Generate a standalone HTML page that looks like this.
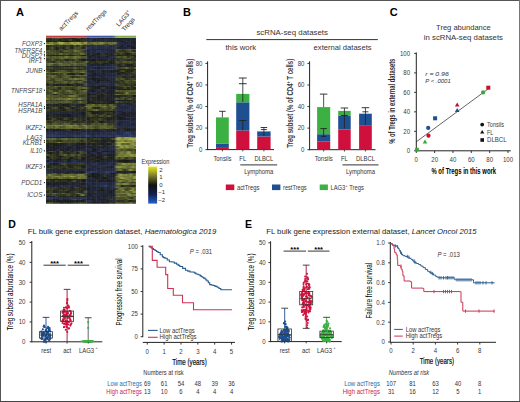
<!DOCTYPE html><html><head><meta charset="utf-8"><style>html,body{margin:0;padding:0;background:#fff;width:520px;height:402px;overflow:hidden;}svg{display:block;}text{font-family:"Liberation Sans",sans-serif;}</style></head><body><svg width="520" height="402" viewBox="0 0 520 402" font-family="Liberation Sans, sans-serif">
<defs><filter id="hb" x="-2%" y="-2%" width="104%" height="104%"><feGaussianBlur stdDeviation="0.9 0.45"/></filter><linearGradient id="cb" x1="0" y1="0" x2="0" y2="1"><stop offset="0" stop-color="#e8e820"/><stop offset="0.25" stop-color="#7a7a30"/><stop offset="0.5" stop-color="#101010"/><stop offset="0.75" stop-color="#142050"/><stop offset="1" stop-color="#2462cc"/></linearGradient><clipPath id="hc"><rect x="46" y="37.7" width="90" height="166"/></clipPath><linearGradient id="hdr" x1="0" y1="0" x2="1" y2="0"><stop offset="0" stop-color="#c84040"/><stop offset="0.42" stop-color="#c03c48"/><stop offset="0.47" stop-color="#4058a0"/><stop offset="0.74" stop-color="#3c5c9c"/><stop offset="0.79" stop-color="#88b04c"/><stop offset="1" stop-color="#80a850"/></linearGradient></defs>
<rect x="0.00" y="0.00" width="520.00" height="402.00" fill="#fff"/>
<text x="16.00" y="15.80" font-size="11" text-anchor="start" font-weight="bold" fill="#000" >A</text>
<g clip-path="url(#hc)"><g shape-rendering="crispEdges" filter="url(#hb)">
<path d="M44.0 36.15h2.05v1.60h-2.05z" fill="#3a3e23"/>
<path d="M46.0 36.15h2.05v1.60h-2.05z" fill="#2a2d1e"/>
<path d="M48.0 36.15h2.05v1.60h-2.05z" fill="#292b1d"/>
<path d="M50.0 36.15h2.05v1.60h-2.05z" fill="#1c1d18"/>
<path d="M52.0 36.15h2.05v1.60h-2.05z" fill="#2b2e1e"/>
<path d="M54.0 36.15h2.05v1.60h-2.05z" fill="#464b27"/>
<path d="M56.0 36.15h2.05v1.60h-2.05z" fill="#383c23"/>
<path d="M58.0 36.15h2.05v1.60h-2.05z" fill="#444927"/>
<path d="M60.0 36.15h2.05v1.60h-2.05z" fill="#343821"/>
<path d="M62.0 36.15h2.05v1.60h-2.05z" fill="#373c22"/>
<path d="M64.0 36.15h2.05v1.60h-2.05z" fill="#333721"/>
<path d="M66.0 36.15h2.05v1.60h-2.05z" fill="#191b1f"/>
<path d="M68.0 36.15h2.05v1.60h-2.05z" fill="#414526"/>
<path d="M70.0 36.15h2.05v1.60h-2.05z" fill="#3a3e23"/>
<path d="M72.0 36.15h2.05v1.60h-2.05z" fill="#393e23"/>
<path d="M74.0 36.15h2.05v1.60h-2.05z" fill="#191b1f"/>
<path d="M76.0 36.15h2.05v1.60h-2.05z" fill="#1a1c20"/>
<path d="M78.0 36.15h2.05v1.60h-2.05z" fill="#1c1e18"/>
<path d="M80.0 36.15h2.05v1.60h-2.05z" fill="#25281c"/>
<path d="M82.0 36.15h2.05v1.60h-2.05z" fill="#363a22"/>
<path d="M84.0 36.15h2.05v1.60h-2.05z" fill="#2e311f"/>
<path d="M86.0 36.15h2.05v1.60h-2.05z" fill="#1d1f29"/>
<path d="M88.0 36.15h2.05v1.60h-2.05z" fill="#23283c"/>
<path d="M90.0 36.15h2.05v1.60h-2.05z" fill="#1e212d"/>
<path d="M92.0 36.15h2.05v1.60h-2.05z" fill="#1e202b"/>
<path d="M94.0 36.15h2.05v1.60h-2.05z" fill="#23283d"/>
<path d="M96.0 36.15h2.05v1.60h-2.05z" fill="#1a1b17"/>
<path d="M98.0 36.15h2.05v1.60h-2.05z" fill="#1c1f28"/>
<path d="M100.0 36.15h2.05v1.60h-2.05z" fill="#181a1c"/>
<path d="M102.0 36.15h2.05v1.60h-2.05z" fill="#23283c"/>
<path d="M104.0 36.15h2.05v1.60h-2.05z" fill="#23293e"/>
<path d="M106.0 36.15h2.05v1.60h-2.05z" fill="#222639"/>
<path d="M108.0 36.15h2.05v1.60h-2.05z" fill="#212535"/>
<path d="M110.0 36.15h2.05v1.60h-2.05z" fill="#1c1e27"/>
<path d="M112.0 36.15h2.05v1.60h-2.05z" fill="#1e222e"/>
<path d="M114.0 36.15h2.05v1.60h-2.05z" fill="#22273a"/>
<path d="M116.0 36.15h2.05v1.60h-2.05z" fill="#212535"/>
<path d="M118.0 36.15h2.05v1.60h-2.05z" fill="#1e212d"/>
<path d="M120.0 36.15h2.05v1.60h-2.05z" fill="#21231a"/>
<path d="M122.0 36.15h2.05v1.60h-2.05z" fill="#202432"/>
<path d="M124.0 36.15h2.05v1.60h-2.05z" fill="#191b1f"/>
<path d="M126.0 36.15h2.05v1.60h-2.05z" fill="#18191b"/>
<path d="M128.0 36.15h2.05v1.60h-2.05z" fill="#23283d"/>
<path d="M130.0 36.15h2.05v1.60h-2.05z" fill="#1a1d22"/>
<path d="M132.0 36.15h2.05v1.60h-2.05z" fill="#22251b"/>
<path d="M134.0 36.15h2.05v1.60h-2.05z" fill="#252b43"/>
<path d="M136.0 36.15h2.05v1.60h-2.05z" fill="#1d2029"/>
<path d="M44.0 37.70h2.05v1.60h-2.05z" fill="#20221a"/>
<path d="M46.0 37.70h2.05v1.60h-2.05z" fill="#3b4024"/>
<path d="M48.0 37.70h2.05v1.60h-2.05z" fill="#303320"/>
<path d="M50.0 37.70h2.05v1.60h-2.05z" fill="#171819"/>
<path d="M52.0 37.70h2.05v1.60h-2.05z" fill="#424726"/>
<path d="M54.0 37.70h2.05v1.60h-2.05z" fill="#3f4325"/>
<path d="M56.0 37.70h2.05v1.60h-2.05z" fill="#444927"/>
<path d="M58.0 37.70h2.05v1.60h-2.05z" fill="#4e542a"/>
<path d="M60.0 37.70h2.05v1.60h-2.05z" fill="#393d23"/>
<path d="M62.0 37.70h2.05v1.60h-2.05z" fill="#343821"/>
<path d="M64.0 37.70h2.05v1.60h-2.05z" fill="#161716"/>
<path d="M66.0 37.70h2.05v1.60h-2.05z" fill="#3e4225"/>
<path d="M68.0 37.70h2.05v1.60h-2.05z" fill="#24271b"/>
<path d="M70.0 37.70h2.05v1.60h-2.05z" fill="#282a1d"/>
<path d="M72.0 37.70h2.05v1.60h-2.05z" fill="#171816"/>
<path d="M74.0 37.70h2.05v1.60h-2.05z" fill="#1d1f19"/>
<path d="M76.0 37.70h2.05v1.60h-2.05z" fill="#26291c"/>
<path d="M78.0 37.70h2.05v1.60h-2.05z" fill="#4b5129"/>
<path d="M80.0 37.70h2.05v1.60h-2.05z" fill="#1b1d24"/>
<path d="M82.0 37.70h2.05v1.60h-2.05z" fill="#171819"/>
<path d="M84.0 37.70h2.05v1.60h-2.05z" fill="#363a22"/>
<path d="M86.0 37.70h2.05v1.60h-2.05z" fill="#161716"/>
<path d="M88.0 37.70h2.05v1.60h-2.05z" fill="#1c1e26"/>
<path d="M90.0 37.70h2.05v1.60h-2.05z" fill="#262f4b"/>
<path d="M92.0 37.70h2.05v1.60h-2.05z" fill="#283252"/>
<path d="M94.0 37.70h2.05v1.60h-2.05z" fill="#1d202a"/>
<path d="M96.0 37.70h2.05v1.60h-2.05z" fill="#23283c"/>
<path d="M98.0 37.70h2.05v1.60h-2.05z" fill="#242a41"/>
<path d="M100.0 37.70h2.05v1.60h-2.05z" fill="#191b1f"/>
<path d="M102.0 37.70h2.05v1.60h-2.05z" fill="#181a1c"/>
<path d="M104.0 37.70h2.05v1.60h-2.05z" fill="#1e222e"/>
<path d="M106.0 37.70h2.05v1.60h-2.05z" fill="#1e212c"/>
<path d="M108.0 37.70h2.05v1.60h-2.05z" fill="#1d1f29"/>
<path d="M110.0 37.70h2.05v1.60h-2.05z" fill="#191b17"/>
<path d="M112.0 37.70h2.05v1.60h-2.05z" fill="#1b1e25"/>
<path d="M114.0 37.70h2.05v1.60h-2.05z" fill="#1c1f27"/>
<path d="M116.0 37.70h2.05v1.60h-2.05z" fill="#161817"/>
<path d="M118.0 37.70h2.05v1.60h-2.05z" fill="#23283c"/>
<path d="M120.0 37.70h2.05v1.60h-2.05z" fill="#24261b"/>
<path d="M122.0 37.70h2.05v1.60h-2.05z" fill="#1d1f19"/>
<path d="M124.0 37.70h2.05v1.60h-2.05z" fill="#171818"/>
<path d="M126.0 37.70h2.05v1.60h-2.05z" fill="#242a41"/>
<path d="M128.0 37.70h2.05v1.60h-2.05z" fill="#1e212d"/>
<path d="M130.0 37.70h2.05v1.60h-2.05z" fill="#1b1c18"/>
<path d="M132.0 37.70h2.05v1.60h-2.05z" fill="#24293f"/>
<path d="M134.0 37.70h2.05v1.60h-2.05z" fill="#1b1e25"/>
<path d="M136.0 37.70h2.05v1.60h-2.05z" fill="#1f2019"/>
<path d="M44.0 39.25h2.05v1.60h-2.05z" fill="#424626"/>
<path d="M46.0 39.25h2.05v1.60h-2.05z" fill="#2c2f1e"/>
<path d="M48.0 39.25h2.05v1.60h-2.05z" fill="#1d1f19"/>
<path d="M50.0 39.25h2.05v1.60h-2.05z" fill="#272a1c"/>
<path d="M52.0 39.25h2.05v1.60h-2.05z" fill="#2e311f"/>
<path d="M54.0 39.25h2.05v1.60h-2.05z" fill="#23251b"/>
<path d="M56.0 39.25h2.05v1.60h-2.05z" fill="#383d23"/>
<path d="M58.0 39.25h2.05v1.60h-2.05z" fill="#171819"/>
<path d="M60.0 39.25h2.05v1.60h-2.05z" fill="#181917"/>
<path d="M62.0 39.25h2.05v1.60h-2.05z" fill="#363a22"/>
<path d="M64.0 39.25h2.05v1.60h-2.05z" fill="#21231a"/>
<path d="M66.0 39.25h2.05v1.60h-2.05z" fill="#191a1d"/>
<path d="M68.0 39.25h2.05v1.60h-2.05z" fill="#343821"/>
<path d="M70.0 39.25h2.05v1.60h-2.05z" fill="#3f4325"/>
<path d="M72.0 39.25h2.05v1.60h-2.05z" fill="#171816"/>
<path d="M74.0 39.25h2.05v1.60h-2.05z" fill="#1c1e27"/>
<path d="M76.0 39.25h2.05v1.60h-2.05z" fill="#1d1f19"/>
<path d="M78.0 39.25h2.05v1.60h-2.05z" fill="#1d1f19"/>
<path d="M80.0 39.25h2.05v1.60h-2.05z" fill="#1a1b18"/>
<path d="M82.0 39.25h2.05v1.60h-2.05z" fill="#3e4225"/>
<path d="M84.0 39.25h2.05v1.60h-2.05z" fill="#1a1b20"/>
<path d="M86.0 39.25h2.05v1.60h-2.05z" fill="#1c1f28"/>
<path d="M88.0 39.25h2.05v1.60h-2.05z" fill="#27304d"/>
<path d="M90.0 39.25h2.05v1.60h-2.05z" fill="#252d47"/>
<path d="M92.0 39.25h2.05v1.60h-2.05z" fill="#212434"/>
<path d="M94.0 39.25h2.05v1.60h-2.05z" fill="#1d202b"/>
<path d="M96.0 39.25h2.05v1.60h-2.05z" fill="#1f2230"/>
<path d="M98.0 39.25h2.05v1.60h-2.05z" fill="#222639"/>
<path d="M100.0 39.25h2.05v1.60h-2.05z" fill="#23283b"/>
<path d="M102.0 39.25h2.05v1.60h-2.05z" fill="#23283b"/>
<path d="M104.0 39.25h2.05v1.60h-2.05z" fill="#212535"/>
<path d="M106.0 39.25h2.05v1.60h-2.05z" fill="#24293f"/>
<path d="M108.0 39.25h2.05v1.60h-2.05z" fill="#22273a"/>
<path d="M110.0 39.25h2.05v1.60h-2.05z" fill="#212535"/>
<path d="M112.0 39.25h2.05v1.60h-2.05z" fill="#23283d"/>
<path d="M114.0 39.25h2.05v1.60h-2.05z" fill="#202332"/>
<path d="M116.0 39.25h2.05v1.60h-2.05z" fill="#1c1e26"/>
<path d="M118.0 39.25h2.05v1.60h-2.05z" fill="#22251b"/>
<path d="M120.0 39.25h2.05v1.60h-2.05z" fill="#1d202a"/>
<path d="M122.0 39.25h2.05v1.60h-2.05z" fill="#222638"/>
<path d="M124.0 39.25h2.05v1.60h-2.05z" fill="#222638"/>
<path d="M126.0 39.25h2.05v1.60h-2.05z" fill="#1f2331"/>
<path d="M128.0 39.25h2.05v1.60h-2.05z" fill="#191b1f"/>
<path d="M130.0 39.25h2.05v1.60h-2.05z" fill="#222537"/>
<path d="M132.0 39.25h2.05v1.60h-2.05z" fill="#1d2029"/>
<path d="M134.0 39.25h2.05v1.60h-2.05z" fill="#1f2119"/>
<path d="M136.0 39.25h2.05v1.60h-2.05z" fill="#283253"/>
<path d="M44.0 40.80h2.05v1.60h-2.05z" fill="#1d1e18"/>
<path d="M46.0 40.80h2.05v1.60h-2.05z" fill="#20221a"/>
<path d="M48.0 40.80h2.05v1.60h-2.05z" fill="#1c1e18"/>
<path d="M50.0 40.80h2.05v1.60h-2.05z" fill="#181a1d"/>
<path d="M52.0 40.80h2.05v1.60h-2.05z" fill="#25281c"/>
<path d="M54.0 40.80h2.05v1.60h-2.05z" fill="#1d1f19"/>
<path d="M56.0 40.80h2.05v1.60h-2.05z" fill="#191b1e"/>
<path d="M58.0 40.80h2.05v1.60h-2.05z" fill="#494f28"/>
<path d="M60.0 40.80h2.05v1.60h-2.05z" fill="#1f2119"/>
<path d="M62.0 40.80h2.05v1.60h-2.05z" fill="#191b1f"/>
<path d="M64.0 40.80h2.05v1.60h-2.05z" fill="#161717"/>
<path d="M66.0 40.80h2.05v1.60h-2.05z" fill="#171819"/>
<path d="M68.0 40.80h2.05v1.60h-2.05z" fill="#161716"/>
<path d="M70.0 40.80h2.05v1.60h-2.05z" fill="#242b42"/>
<path d="M72.0 40.80h2.05v1.60h-2.05z" fill="#191a1e"/>
<path d="M74.0 40.80h2.05v1.60h-2.05z" fill="#2d301f"/>
<path d="M76.0 40.80h2.05v1.60h-2.05z" fill="#1d202b"/>
<path d="M78.0 40.80h2.05v1.60h-2.05z" fill="#161716"/>
<path d="M80.0 40.80h2.05v1.60h-2.05z" fill="#2c2f1e"/>
<path d="M82.0 40.80h2.05v1.60h-2.05z" fill="#2a2c1d"/>
<path d="M84.0 40.80h2.05v1.60h-2.05z" fill="#373b22"/>
<path d="M86.0 40.80h2.05v1.60h-2.05z" fill="#283150"/>
<path d="M88.0 40.80h2.05v1.60h-2.05z" fill="#242a40"/>
<path d="M90.0 40.80h2.05v1.60h-2.05z" fill="#242a40"/>
<path d="M92.0 40.80h2.05v1.60h-2.05z" fill="#202332"/>
<path d="M94.0 40.80h2.05v1.60h-2.05z" fill="#1d1f29"/>
<path d="M96.0 40.80h2.05v1.60h-2.05z" fill="#2a385f"/>
<path d="M98.0 40.80h2.05v1.60h-2.05z" fill="#1d1f29"/>
<path d="M100.0 40.80h2.05v1.60h-2.05z" fill="#27304d"/>
<path d="M102.0 40.80h2.05v1.60h-2.05z" fill="#1f2331"/>
<path d="M104.0 40.80h2.05v1.60h-2.05z" fill="#27304e"/>
<path d="M106.0 40.80h2.05v1.60h-2.05z" fill="#222739"/>
<path d="M108.0 40.80h2.05v1.60h-2.05z" fill="#1c1f27"/>
<path d="M110.0 40.80h2.05v1.60h-2.05z" fill="#23293d"/>
<path d="M112.0 40.80h2.05v1.60h-2.05z" fill="#222739"/>
<path d="M114.0 40.80h2.05v1.60h-2.05z" fill="#1f222f"/>
<path d="M116.0 40.80h2.05v1.60h-2.05z" fill="#1e212c"/>
<path d="M118.0 40.80h2.05v1.60h-2.05z" fill="#1f2230"/>
<path d="M120.0 40.80h2.05v1.60h-2.05z" fill="#1b1d18"/>
<path d="M122.0 40.80h2.05v1.60h-2.05z" fill="#18191b"/>
<path d="M124.0 40.80h2.05v1.60h-2.05z" fill="#202434"/>
<path d="M126.0 40.80h2.05v1.60h-2.05z" fill="#353921"/>
<path d="M128.0 40.80h2.05v1.60h-2.05z" fill="#242a40"/>
<path d="M130.0 40.80h2.05v1.60h-2.05z" fill="#191a1d"/>
<path d="M132.0 40.80h2.05v1.60h-2.05z" fill="#202433"/>
<path d="M134.0 40.80h2.05v1.60h-2.05z" fill="#1e212c"/>
<path d="M136.0 40.80h2.05v1.60h-2.05z" fill="#1a1c21"/>
<path d="M44.0 42.35h2.05v1.60h-2.05z" fill="#959b41"/>
<path d="M46.0 42.35h2.05v1.60h-2.05z" fill="#59602e"/>
<path d="M48.0 42.35h2.05v1.60h-2.05z" fill="#5a602e"/>
<path d="M50.0 42.35h2.05v1.60h-2.05z" fill="#949a41"/>
<path d="M52.0 42.35h2.05v1.60h-2.05z" fill="#676d32"/>
<path d="M54.0 42.35h2.05v1.60h-2.05z" fill="#656c32"/>
<path d="M56.0 42.35h2.05v1.60h-2.05z" fill="#5b612e"/>
<path d="M58.0 42.35h2.05v1.60h-2.05z" fill="#aaaf48"/>
<path d="M60.0 42.35h2.05v1.60h-2.05z" fill="#999e42"/>
<path d="M62.0 42.35h2.05v1.60h-2.05z" fill="#aaaf48"/>
<path d="M64.0 42.35h2.05v1.60h-2.05z" fill="#676e32"/>
<path d="M66.0 42.35h2.05v1.60h-2.05z" fill="#80873b"/>
<path d="M68.0 42.35h2.05v1.60h-2.05z" fill="#636931"/>
<path d="M70.0 42.35h2.05v1.60h-2.05z" fill="#999f43"/>
<path d="M72.0 42.35h2.05v1.60h-2.05z" fill="#aaaf48"/>
<path d="M74.0 42.35h2.05v1.60h-2.05z" fill="#696f33"/>
<path d="M76.0 42.35h2.05v1.60h-2.05z" fill="#aaaf48"/>
<path d="M78.0 42.35h2.05v1.60h-2.05z" fill="#a0a645"/>
<path d="M80.0 42.35h2.05v1.60h-2.05z" fill="#7a8139"/>
<path d="M82.0 42.35h2.05v1.60h-2.05z" fill="#50552b"/>
<path d="M84.0 42.35h2.05v1.60h-2.05z" fill="#aaaf48"/>
<path d="M86.0 42.35h2.05v1.60h-2.05z" fill="#5b612e"/>
<path d="M88.0 42.35h2.05v1.60h-2.05z" fill="#50562b"/>
<path d="M90.0 42.35h2.05v1.60h-2.05z" fill="#676d32"/>
<path d="M92.0 42.35h2.05v1.60h-2.05z" fill="#676e32"/>
<path d="M94.0 42.35h2.05v1.60h-2.05z" fill="#848b3c"/>
<path d="M96.0 42.35h2.05v1.60h-2.05z" fill="#484d28"/>
<path d="M98.0 42.35h2.05v1.60h-2.05z" fill="#787f38"/>
<path d="M100.0 42.35h2.05v1.60h-2.05z" fill="#848a3c"/>
<path d="M102.0 42.35h2.05v1.60h-2.05z" fill="#83893b"/>
<path d="M104.0 42.35h2.05v1.60h-2.05z" fill="#595f2e"/>
<path d="M106.0 42.35h2.05v1.60h-2.05z" fill="#4d532a"/>
<path d="M108.0 42.35h2.05v1.60h-2.05z" fill="#757c37"/>
<path d="M110.0 42.35h2.05v1.60h-2.05z" fill="#606630"/>
<path d="M112.0 42.35h2.05v1.60h-2.05z" fill="#606730"/>
<path d="M114.0 42.35h2.05v1.60h-2.05z" fill="#82883b"/>
<path d="M116.0 42.35h2.05v1.60h-2.05z" fill="#222537"/>
<path d="M118.0 42.35h2.05v1.60h-2.05z" fill="#283150"/>
<path d="M120.0 42.35h2.05v1.60h-2.05z" fill="#222639"/>
<path d="M122.0 42.35h2.05v1.60h-2.05z" fill="#262f4b"/>
<path d="M124.0 42.35h2.05v1.60h-2.05z" fill="#1a1d23"/>
<path d="M126.0 42.35h2.05v1.60h-2.05z" fill="#1e212c"/>
<path d="M128.0 42.35h2.05v1.60h-2.05z" fill="#23283b"/>
<path d="M130.0 42.35h2.05v1.60h-2.05z" fill="#202332"/>
<path d="M132.0 42.35h2.05v1.60h-2.05z" fill="#1a1c22"/>
<path d="M134.0 42.35h2.05v1.60h-2.05z" fill="#1f2330"/>
<path d="M136.0 42.35h2.05v1.60h-2.05z" fill="#171819"/>
<path d="M44.0 43.90h2.05v1.60h-2.05z" fill="#9ca244"/>
<path d="M46.0 43.90h2.05v1.60h-2.05z" fill="#aaaf48"/>
<path d="M48.0 43.90h2.05v1.60h-2.05z" fill="#aaaf48"/>
<path d="M50.0 43.90h2.05v1.60h-2.05z" fill="#697033"/>
<path d="M52.0 43.90h2.05v1.60h-2.05z" fill="#979c42"/>
<path d="M54.0 43.90h2.05v1.60h-2.05z" fill="#4e532a"/>
<path d="M56.0 43.90h2.05v1.60h-2.05z" fill="#5f6630"/>
<path d="M58.0 43.90h2.05v1.60h-2.05z" fill="#4c5229"/>
<path d="M60.0 43.90h2.05v1.60h-2.05z" fill="#9da244"/>
<path d="M62.0 43.90h2.05v1.60h-2.05z" fill="#5c622f"/>
<path d="M64.0 43.90h2.05v1.60h-2.05z" fill="#798038"/>
<path d="M66.0 43.90h2.05v1.60h-2.05z" fill="#757c37"/>
<path d="M68.0 43.90h2.05v1.60h-2.05z" fill="#798038"/>
<path d="M70.0 43.90h2.05v1.60h-2.05z" fill="#6b7234"/>
<path d="M72.0 43.90h2.05v1.60h-2.05z" fill="#81883b"/>
<path d="M74.0 43.90h2.05v1.60h-2.05z" fill="#aaaf48"/>
<path d="M76.0 43.90h2.05v1.60h-2.05z" fill="#7b8239"/>
<path d="M78.0 43.90h2.05v1.60h-2.05z" fill="#8b913e"/>
<path d="M80.0 43.90h2.05v1.60h-2.05z" fill="#9ba043"/>
<path d="M82.0 43.90h2.05v1.60h-2.05z" fill="#747b37"/>
<path d="M84.0 43.90h2.05v1.60h-2.05z" fill="#5b612e"/>
<path d="M86.0 43.90h2.05v1.60h-2.05z" fill="#4d532a"/>
<path d="M88.0 43.90h2.05v1.60h-2.05z" fill="#727936"/>
<path d="M90.0 43.90h2.05v1.60h-2.05z" fill="#373b22"/>
<path d="M92.0 43.90h2.05v1.60h-2.05z" fill="#4c5229"/>
<path d="M94.0 43.90h2.05v1.60h-2.05z" fill="#717836"/>
<path d="M96.0 43.90h2.05v1.60h-2.05z" fill="#6c7234"/>
<path d="M98.0 43.90h2.05v1.60h-2.05z" fill="#595f2e"/>
<path d="M100.0 43.90h2.05v1.60h-2.05z" fill="#6c7334"/>
<path d="M102.0 43.90h2.05v1.60h-2.05z" fill="#5d632f"/>
<path d="M104.0 43.90h2.05v1.60h-2.05z" fill="#414526"/>
<path d="M106.0 43.90h2.05v1.60h-2.05z" fill="#393d23"/>
<path d="M108.0 43.90h2.05v1.60h-2.05z" fill="#4b5129"/>
<path d="M110.0 43.90h2.05v1.60h-2.05z" fill="#6f7535"/>
<path d="M112.0 43.90h2.05v1.60h-2.05z" fill="#4d522a"/>
<path d="M114.0 43.90h2.05v1.60h-2.05z" fill="#464b27"/>
<path d="M116.0 43.90h2.05v1.60h-2.05z" fill="#242a40"/>
<path d="M118.0 43.90h2.05v1.60h-2.05z" fill="#262e49"/>
<path d="M120.0 43.90h2.05v1.60h-2.05z" fill="#222638"/>
<path d="M122.0 43.90h2.05v1.60h-2.05z" fill="#252c45"/>
<path d="M124.0 43.90h2.05v1.60h-2.05z" fill="#1f222f"/>
<path d="M126.0 43.90h2.05v1.60h-2.05z" fill="#283354"/>
<path d="M128.0 43.90h2.05v1.60h-2.05z" fill="#1f222f"/>
<path d="M130.0 43.90h2.05v1.60h-2.05z" fill="#23293e"/>
<path d="M132.0 43.90h2.05v1.60h-2.05z" fill="#27304e"/>
<path d="M134.0 43.90h2.05v1.60h-2.05z" fill="#1c1f28"/>
<path d="M136.0 43.90h2.05v1.60h-2.05z" fill="#22273a"/>
<path d="M44.0 45.45h2.05v1.60h-2.05z" fill="#171819"/>
<path d="M46.0 45.45h2.05v1.60h-2.05z" fill="#2b2e1e"/>
<path d="M48.0 45.45h2.05v1.60h-2.05z" fill="#1b1c18"/>
<path d="M50.0 45.45h2.05v1.60h-2.05z" fill="#353922"/>
<path d="M52.0 45.45h2.05v1.60h-2.05z" fill="#343821"/>
<path d="M54.0 45.45h2.05v1.60h-2.05z" fill="#333621"/>
<path d="M56.0 45.45h2.05v1.60h-2.05z" fill="#2c2f1e"/>
<path d="M58.0 45.45h2.05v1.60h-2.05z" fill="#404525"/>
<path d="M60.0 45.45h2.05v1.60h-2.05z" fill="#333621"/>
<path d="M62.0 45.45h2.05v1.60h-2.05z" fill="#2e311f"/>
<path d="M64.0 45.45h2.05v1.60h-2.05z" fill="#1f2230"/>
<path d="M66.0 45.45h2.05v1.60h-2.05z" fill="#383c23"/>
<path d="M68.0 45.45h2.05v1.60h-2.05z" fill="#404425"/>
<path d="M70.0 45.45h2.05v1.60h-2.05z" fill="#1e2019"/>
<path d="M72.0 45.45h2.05v1.60h-2.05z" fill="#1b1c18"/>
<path d="M74.0 45.45h2.05v1.60h-2.05z" fill="#4c5229"/>
<path d="M76.0 45.45h2.05v1.60h-2.05z" fill="#1d202a"/>
<path d="M78.0 45.45h2.05v1.60h-2.05z" fill="#2f321f"/>
<path d="M80.0 45.45h2.05v1.60h-2.05z" fill="#565c2d"/>
<path d="M82.0 45.45h2.05v1.60h-2.05z" fill="#18191a"/>
<path d="M84.0 45.45h2.05v1.60h-2.05z" fill="#333721"/>
<path d="M86.0 45.45h2.05v1.60h-2.05z" fill="#1e212d"/>
<path d="M88.0 45.45h2.05v1.60h-2.05z" fill="#262e49"/>
<path d="M90.0 45.45h2.05v1.60h-2.05z" fill="#242a41"/>
<path d="M92.0 45.45h2.05v1.60h-2.05z" fill="#23283d"/>
<path d="M94.0 45.45h2.05v1.60h-2.05z" fill="#283353"/>
<path d="M96.0 45.45h2.05v1.60h-2.05z" fill="#262e49"/>
<path d="M98.0 45.45h2.05v1.60h-2.05z" fill="#252c44"/>
<path d="M100.0 45.45h2.05v1.60h-2.05z" fill="#23293e"/>
<path d="M102.0 45.45h2.05v1.60h-2.05z" fill="#262e48"/>
<path d="M104.0 45.45h2.05v1.60h-2.05z" fill="#262e4a"/>
<path d="M106.0 45.45h2.05v1.60h-2.05z" fill="#293455"/>
<path d="M108.0 45.45h2.05v1.60h-2.05z" fill="#272f4c"/>
<path d="M110.0 45.45h2.05v1.60h-2.05z" fill="#23283d"/>
<path d="M112.0 45.45h2.05v1.60h-2.05z" fill="#252d47"/>
<path d="M114.0 45.45h2.05v1.60h-2.05z" fill="#283253"/>
<path d="M116.0 45.45h2.05v1.60h-2.05z" fill="#23293e"/>
<path d="M118.0 45.45h2.05v1.60h-2.05z" fill="#2f321f"/>
<path d="M120.0 45.45h2.05v1.60h-2.05z" fill="#181a1c"/>
<path d="M122.0 45.45h2.05v1.60h-2.05z" fill="#1c1e26"/>
<path d="M124.0 45.45h2.05v1.60h-2.05z" fill="#283354"/>
<path d="M126.0 45.45h2.05v1.60h-2.05z" fill="#1c1e26"/>
<path d="M128.0 45.45h2.05v1.60h-2.05z" fill="#1d1f29"/>
<path d="M130.0 45.45h2.05v1.60h-2.05z" fill="#1a1c18"/>
<path d="M132.0 45.45h2.05v1.60h-2.05z" fill="#1d202a"/>
<path d="M134.0 45.45h2.05v1.60h-2.05z" fill="#202433"/>
<path d="M136.0 45.45h2.05v1.60h-2.05z" fill="#1c1f28"/>
<path d="M44.0 47.00h2.05v1.60h-2.05z" fill="#3e4325"/>
<path d="M46.0 47.00h2.05v1.60h-2.05z" fill="#303320"/>
<path d="M48.0 47.00h2.05v1.60h-2.05z" fill="#1a1b17"/>
<path d="M50.0 47.00h2.05v1.60h-2.05z" fill="#444927"/>
<path d="M52.0 47.00h2.05v1.60h-2.05z" fill="#4d532a"/>
<path d="M54.0 47.00h2.05v1.60h-2.05z" fill="#191b20"/>
<path d="M56.0 47.00h2.05v1.60h-2.05z" fill="#1b1c18"/>
<path d="M58.0 47.00h2.05v1.60h-2.05z" fill="#2f321f"/>
<path d="M60.0 47.00h2.05v1.60h-2.05z" fill="#2d301e"/>
<path d="M62.0 47.00h2.05v1.60h-2.05z" fill="#20221a"/>
<path d="M64.0 47.00h2.05v1.60h-2.05z" fill="#171818"/>
<path d="M66.0 47.00h2.05v1.60h-2.05z" fill="#54592c"/>
<path d="M68.0 47.00h2.05v1.60h-2.05z" fill="#3e4325"/>
<path d="M70.0 47.00h2.05v1.60h-2.05z" fill="#181a1c"/>
<path d="M72.0 47.00h2.05v1.60h-2.05z" fill="#191b1f"/>
<path d="M74.0 47.00h2.05v1.60h-2.05z" fill="#4b5129"/>
<path d="M76.0 47.00h2.05v1.60h-2.05z" fill="#3d4224"/>
<path d="M78.0 47.00h2.05v1.60h-2.05z" fill="#4e532a"/>
<path d="M80.0 47.00h2.05v1.60h-2.05z" fill="#3a3e23"/>
<path d="M82.0 47.00h2.05v1.60h-2.05z" fill="#161716"/>
<path d="M84.0 47.00h2.05v1.60h-2.05z" fill="#2e311f"/>
<path d="M86.0 47.00h2.05v1.60h-2.05z" fill="#2b3b64"/>
<path d="M88.0 47.00h2.05v1.60h-2.05z" fill="#27314f"/>
<path d="M90.0 47.00h2.05v1.60h-2.05z" fill="#252d46"/>
<path d="M92.0 47.00h2.05v1.60h-2.05z" fill="#24293f"/>
<path d="M94.0 47.00h2.05v1.60h-2.05z" fill="#27304f"/>
<path d="M96.0 47.00h2.05v1.60h-2.05z" fill="#262d47"/>
<path d="M98.0 47.00h2.05v1.60h-2.05z" fill="#242a40"/>
<path d="M100.0 47.00h2.05v1.60h-2.05z" fill="#242a41"/>
<path d="M102.0 47.00h2.05v1.60h-2.05z" fill="#23293e"/>
<path d="M104.0 47.00h2.05v1.60h-2.05z" fill="#252b43"/>
<path d="M106.0 47.00h2.05v1.60h-2.05z" fill="#262e4a"/>
<path d="M108.0 47.00h2.05v1.60h-2.05z" fill="#23283c"/>
<path d="M110.0 47.00h2.05v1.60h-2.05z" fill="#252c45"/>
<path d="M112.0 47.00h2.05v1.60h-2.05z" fill="#273150"/>
<path d="M114.0 47.00h2.05v1.60h-2.05z" fill="#27304d"/>
<path d="M116.0 47.00h2.05v1.60h-2.05z" fill="#1f222e"/>
<path d="M118.0 47.00h2.05v1.60h-2.05z" fill="#1f2330"/>
<path d="M120.0 47.00h2.05v1.60h-2.05z" fill="#1e202b"/>
<path d="M122.0 47.00h2.05v1.60h-2.05z" fill="#1f222e"/>
<path d="M124.0 47.00h2.05v1.60h-2.05z" fill="#1d202b"/>
<path d="M126.0 47.00h2.05v1.60h-2.05z" fill="#1f2331"/>
<path d="M128.0 47.00h2.05v1.60h-2.05z" fill="#242a41"/>
<path d="M130.0 47.00h2.05v1.60h-2.05z" fill="#1c1e26"/>
<path d="M132.0 47.00h2.05v1.60h-2.05z" fill="#18191b"/>
<path d="M134.0 47.00h2.05v1.60h-2.05z" fill="#1c1e26"/>
<path d="M136.0 47.00h2.05v1.60h-2.05z" fill="#202332"/>
<path d="M44.0 48.55h2.05v1.60h-2.05z" fill="#25271c"/>
<path d="M46.0 48.55h2.05v1.60h-2.05z" fill="#18191a"/>
<path d="M48.0 48.55h2.05v1.60h-2.05z" fill="#3a3e23"/>
<path d="M50.0 48.55h2.05v1.60h-2.05z" fill="#25281c"/>
<path d="M52.0 48.55h2.05v1.60h-2.05z" fill="#484d28"/>
<path d="M54.0 48.55h2.05v1.60h-2.05z" fill="#22241b"/>
<path d="M56.0 48.55h2.05v1.60h-2.05z" fill="#1c1f28"/>
<path d="M58.0 48.55h2.05v1.60h-2.05z" fill="#23251b"/>
<path d="M60.0 48.55h2.05v1.60h-2.05z" fill="#595f2e"/>
<path d="M62.0 48.55h2.05v1.60h-2.05z" fill="#313520"/>
<path d="M64.0 48.55h2.05v1.60h-2.05z" fill="#1c1e18"/>
<path d="M66.0 48.55h2.05v1.60h-2.05z" fill="#292c1d"/>
<path d="M68.0 48.55h2.05v1.60h-2.05z" fill="#434826"/>
<path d="M70.0 48.55h2.05v1.60h-2.05z" fill="#434826"/>
<path d="M72.0 48.55h2.05v1.60h-2.05z" fill="#3c4124"/>
<path d="M74.0 48.55h2.05v1.60h-2.05z" fill="#575d2d"/>
<path d="M76.0 48.55h2.05v1.60h-2.05z" fill="#474c28"/>
<path d="M78.0 48.55h2.05v1.60h-2.05z" fill="#383d23"/>
<path d="M80.0 48.55h2.05v1.60h-2.05z" fill="#454a27"/>
<path d="M82.0 48.55h2.05v1.60h-2.05z" fill="#5b612e"/>
<path d="M84.0 48.55h2.05v1.60h-2.05z" fill="#4c5229"/>
<path d="M86.0 48.55h2.05v1.60h-2.05z" fill="#1c1e26"/>
<path d="M88.0 48.55h2.05v1.60h-2.05z" fill="#252c46"/>
<path d="M90.0 48.55h2.05v1.60h-2.05z" fill="#23273b"/>
<path d="M92.0 48.55h2.05v1.60h-2.05z" fill="#1e212c"/>
<path d="M94.0 48.55h2.05v1.60h-2.05z" fill="#23283c"/>
<path d="M96.0 48.55h2.05v1.60h-2.05z" fill="#1b1e25"/>
<path d="M98.0 48.55h2.05v1.60h-2.05z" fill="#1e222e"/>
<path d="M100.0 48.55h2.05v1.60h-2.05z" fill="#1c1f28"/>
<path d="M102.0 48.55h2.05v1.60h-2.05z" fill="#23283b"/>
<path d="M104.0 48.55h2.05v1.60h-2.05z" fill="#24261b"/>
<path d="M106.0 48.55h2.05v1.60h-2.05z" fill="#1a1c22"/>
<path d="M108.0 48.55h2.05v1.60h-2.05z" fill="#23283b"/>
<path d="M110.0 48.55h2.05v1.60h-2.05z" fill="#222638"/>
<path d="M112.0 48.55h2.05v1.60h-2.05z" fill="#25271c"/>
<path d="M114.0 48.55h2.05v1.60h-2.05z" fill="#23283d"/>
<path d="M116.0 48.55h2.05v1.60h-2.05z" fill="#555b2c"/>
<path d="M118.0 48.55h2.05v1.60h-2.05z" fill="#585e2d"/>
<path d="M120.0 48.55h2.05v1.60h-2.05z" fill="#444927"/>
<path d="M122.0 48.55h2.05v1.60h-2.05z" fill="#2c2f1e"/>
<path d="M124.0 48.55h2.05v1.60h-2.05z" fill="#474d28"/>
<path d="M126.0 48.55h2.05v1.60h-2.05z" fill="#4b5029"/>
<path d="M128.0 48.55h2.05v1.60h-2.05z" fill="#5b612e"/>
<path d="M130.0 48.55h2.05v1.60h-2.05z" fill="#53592c"/>
<path d="M132.0 48.55h2.05v1.60h-2.05z" fill="#444927"/>
<path d="M134.0 48.55h2.05v1.60h-2.05z" fill="#555b2c"/>
<path d="M136.0 48.55h2.05v1.60h-2.05z" fill="#4e542a"/>
<path d="M44.0 50.10h2.05v1.60h-2.05z" fill="#4c5229"/>
<path d="M46.0 50.10h2.05v1.60h-2.05z" fill="#474c28"/>
<path d="M48.0 50.10h2.05v1.60h-2.05z" fill="#5a602e"/>
<path d="M50.0 50.10h2.05v1.60h-2.05z" fill="#363a22"/>
<path d="M52.0 50.10h2.05v1.60h-2.05z" fill="#3f4325"/>
<path d="M54.0 50.10h2.05v1.60h-2.05z" fill="#4b5129"/>
<path d="M56.0 50.10h2.05v1.60h-2.05z" fill="#2e311f"/>
<path d="M58.0 50.10h2.05v1.60h-2.05z" fill="#434826"/>
<path d="M60.0 50.10h2.05v1.60h-2.05z" fill="#22241b"/>
<path d="M62.0 50.10h2.05v1.60h-2.05z" fill="#3e4225"/>
<path d="M64.0 50.10h2.05v1.60h-2.05z" fill="#575d2d"/>
<path d="M66.0 50.10h2.05v1.60h-2.05z" fill="#575d2d"/>
<path d="M68.0 50.10h2.05v1.60h-2.05z" fill="#4a5029"/>
<path d="M70.0 50.10h2.05v1.60h-2.05z" fill="#474c28"/>
<path d="M72.0 50.10h2.05v1.60h-2.05z" fill="#2f321f"/>
<path d="M74.0 50.10h2.05v1.60h-2.05z" fill="#757c37"/>
<path d="M76.0 50.10h2.05v1.60h-2.05z" fill="#565c2d"/>
<path d="M78.0 50.10h2.05v1.60h-2.05z" fill="#646a31"/>
<path d="M80.0 50.10h2.05v1.60h-2.05z" fill="#3a3e23"/>
<path d="M82.0 50.10h2.05v1.60h-2.05z" fill="#484d28"/>
<path d="M84.0 50.10h2.05v1.60h-2.05z" fill="#26291c"/>
<path d="M86.0 50.10h2.05v1.60h-2.05z" fill="#1e212e"/>
<path d="M88.0 50.10h2.05v1.60h-2.05z" fill="#1d202b"/>
<path d="M90.0 50.10h2.05v1.60h-2.05z" fill="#283252"/>
<path d="M92.0 50.10h2.05v1.60h-2.05z" fill="#23283b"/>
<path d="M94.0 50.10h2.05v1.60h-2.05z" fill="#1f2330"/>
<path d="M96.0 50.10h2.05v1.60h-2.05z" fill="#283150"/>
<path d="M98.0 50.10h2.05v1.60h-2.05z" fill="#283251"/>
<path d="M100.0 50.10h2.05v1.60h-2.05z" fill="#262d48"/>
<path d="M102.0 50.10h2.05v1.60h-2.05z" fill="#242b42"/>
<path d="M104.0 50.10h2.05v1.60h-2.05z" fill="#272f4c"/>
<path d="M106.0 50.10h2.05v1.60h-2.05z" fill="#23273a"/>
<path d="M108.0 50.10h2.05v1.60h-2.05z" fill="#222638"/>
<path d="M110.0 50.10h2.05v1.60h-2.05z" fill="#1f2330"/>
<path d="M112.0 50.10h2.05v1.60h-2.05z" fill="#1f222f"/>
<path d="M114.0 50.10h2.05v1.60h-2.05z" fill="#1a1b20"/>
<path d="M116.0 50.10h2.05v1.60h-2.05z" fill="#585e2d"/>
<path d="M118.0 50.10h2.05v1.60h-2.05z" fill="#26281c"/>
<path d="M120.0 50.10h2.05v1.60h-2.05z" fill="#373b22"/>
<path d="M122.0 50.10h2.05v1.60h-2.05z" fill="#2b2e1e"/>
<path d="M124.0 50.10h2.05v1.60h-2.05z" fill="#2a2d1e"/>
<path d="M126.0 50.10h2.05v1.60h-2.05z" fill="#3f4425"/>
<path d="M128.0 50.10h2.05v1.60h-2.05z" fill="#414526"/>
<path d="M130.0 50.10h2.05v1.60h-2.05z" fill="#4a5029"/>
<path d="M132.0 50.10h2.05v1.60h-2.05z" fill="#20221a"/>
<path d="M134.0 50.10h2.05v1.60h-2.05z" fill="#272a1c"/>
<path d="M136.0 50.10h2.05v1.60h-2.05z" fill="#404525"/>
<path d="M44.0 51.65h2.05v1.60h-2.05z" fill="#404425"/>
<path d="M46.0 51.65h2.05v1.60h-2.05z" fill="#454a27"/>
<path d="M48.0 51.65h2.05v1.60h-2.05z" fill="#373b22"/>
<path d="M50.0 51.65h2.05v1.60h-2.05z" fill="#545a2c"/>
<path d="M52.0 51.65h2.05v1.60h-2.05z" fill="#4d532a"/>
<path d="M54.0 51.65h2.05v1.60h-2.05z" fill="#444927"/>
<path d="M56.0 51.65h2.05v1.60h-2.05z" fill="#393d23"/>
<path d="M58.0 51.65h2.05v1.60h-2.05z" fill="#434726"/>
<path d="M60.0 51.65h2.05v1.60h-2.05z" fill="#191a1d"/>
<path d="M62.0 51.65h2.05v1.60h-2.05z" fill="#323621"/>
<path d="M64.0 51.65h2.05v1.60h-2.05z" fill="#474c28"/>
<path d="M66.0 51.65h2.05v1.60h-2.05z" fill="#272a1c"/>
<path d="M68.0 51.65h2.05v1.60h-2.05z" fill="#4a4f29"/>
<path d="M70.0 51.65h2.05v1.60h-2.05z" fill="#494e28"/>
<path d="M72.0 51.65h2.05v1.60h-2.05z" fill="#2a2d1d"/>
<path d="M74.0 51.65h2.05v1.60h-2.05z" fill="#414626"/>
<path d="M76.0 51.65h2.05v1.60h-2.05z" fill="#404425"/>
<path d="M78.0 51.65h2.05v1.60h-2.05z" fill="#4f552a"/>
<path d="M80.0 51.65h2.05v1.60h-2.05z" fill="#52582b"/>
<path d="M82.0 51.65h2.05v1.60h-2.05z" fill="#454a27"/>
<path d="M84.0 51.65h2.05v1.60h-2.05z" fill="#353922"/>
<path d="M86.0 51.65h2.05v1.60h-2.05z" fill="#242a40"/>
<path d="M88.0 51.65h2.05v1.60h-2.05z" fill="#24293f"/>
<path d="M90.0 51.65h2.05v1.60h-2.05z" fill="#202434"/>
<path d="M92.0 51.65h2.05v1.60h-2.05z" fill="#23273a"/>
<path d="M94.0 51.65h2.05v1.60h-2.05z" fill="#252d47"/>
<path d="M96.0 51.65h2.05v1.60h-2.05z" fill="#27304f"/>
<path d="M98.0 51.65h2.05v1.60h-2.05z" fill="#242b43"/>
<path d="M100.0 51.65h2.05v1.60h-2.05z" fill="#252d47"/>
<path d="M102.0 51.65h2.05v1.60h-2.05z" fill="#272f4c"/>
<path d="M104.0 51.65h2.05v1.60h-2.05z" fill="#242940"/>
<path d="M106.0 51.65h2.05v1.60h-2.05z" fill="#252c44"/>
<path d="M108.0 51.65h2.05v1.60h-2.05z" fill="#23283d"/>
<path d="M110.0 51.65h2.05v1.60h-2.05z" fill="#222638"/>
<path d="M112.0 51.65h2.05v1.60h-2.05z" fill="#252b43"/>
<path d="M114.0 51.65h2.05v1.60h-2.05z" fill="#161716"/>
<path d="M116.0 51.65h2.05v1.60h-2.05z" fill="#353922"/>
<path d="M118.0 51.65h2.05v1.60h-2.05z" fill="#51572b"/>
<path d="M120.0 51.65h2.05v1.60h-2.05z" fill="#3e4225"/>
<path d="M122.0 51.65h2.05v1.60h-2.05z" fill="#51572b"/>
<path d="M124.0 51.65h2.05v1.60h-2.05z" fill="#1a1c21"/>
<path d="M126.0 51.65h2.05v1.60h-2.05z" fill="#2c2f1e"/>
<path d="M128.0 51.65h2.05v1.60h-2.05z" fill="#404525"/>
<path d="M130.0 51.65h2.05v1.60h-2.05z" fill="#474c28"/>
<path d="M132.0 51.65h2.05v1.60h-2.05z" fill="#6e7435"/>
<path d="M134.0 51.65h2.05v1.60h-2.05z" fill="#424626"/>
<path d="M136.0 51.65h2.05v1.60h-2.05z" fill="#555b2c"/>
<path d="M44.0 53.20h2.05v1.60h-2.05z" fill="#565c2d"/>
<path d="M46.0 53.20h2.05v1.60h-2.05z" fill="#4d522a"/>
<path d="M48.0 53.20h2.05v1.60h-2.05z" fill="#3f4425"/>
<path d="M50.0 53.20h2.05v1.60h-2.05z" fill="#4d522a"/>
<path d="M52.0 53.20h2.05v1.60h-2.05z" fill="#2d301e"/>
<path d="M54.0 53.20h2.05v1.60h-2.05z" fill="#5b612e"/>
<path d="M56.0 53.20h2.05v1.60h-2.05z" fill="#2e311f"/>
<path d="M58.0 53.20h2.05v1.60h-2.05z" fill="#474d28"/>
<path d="M60.0 53.20h2.05v1.60h-2.05z" fill="#717836"/>
<path d="M62.0 53.20h2.05v1.60h-2.05z" fill="#3e4325"/>
<path d="M64.0 53.20h2.05v1.60h-2.05z" fill="#434826"/>
<path d="M66.0 53.20h2.05v1.60h-2.05z" fill="#5b612e"/>
<path d="M68.0 53.20h2.05v1.60h-2.05z" fill="#434826"/>
<path d="M70.0 53.20h2.05v1.60h-2.05z" fill="#323621"/>
<path d="M72.0 53.20h2.05v1.60h-2.05z" fill="#484d28"/>
<path d="M74.0 53.20h2.05v1.60h-2.05z" fill="#4e542a"/>
<path d="M76.0 53.20h2.05v1.60h-2.05z" fill="#51562b"/>
<path d="M78.0 53.20h2.05v1.60h-2.05z" fill="#333721"/>
<path d="M80.0 53.20h2.05v1.60h-2.05z" fill="#696f33"/>
<path d="M82.0 53.20h2.05v1.60h-2.05z" fill="#676d32"/>
<path d="M84.0 53.20h2.05v1.60h-2.05z" fill="#434826"/>
<path d="M86.0 53.20h2.05v1.60h-2.05z" fill="#21231a"/>
<path d="M88.0 53.20h2.05v1.60h-2.05z" fill="#17191a"/>
<path d="M90.0 53.20h2.05v1.60h-2.05z" fill="#393d23"/>
<path d="M92.0 53.20h2.05v1.60h-2.05z" fill="#191b1f"/>
<path d="M94.0 53.20h2.05v1.60h-2.05z" fill="#292c1d"/>
<path d="M96.0 53.20h2.05v1.60h-2.05z" fill="#18191b"/>
<path d="M98.0 53.20h2.05v1.60h-2.05z" fill="#191b1f"/>
<path d="M100.0 53.20h2.05v1.60h-2.05z" fill="#2a2d1e"/>
<path d="M102.0 53.20h2.05v1.60h-2.05z" fill="#373b22"/>
<path d="M104.0 53.20h2.05v1.60h-2.05z" fill="#1b1c18"/>
<path d="M106.0 53.20h2.05v1.60h-2.05z" fill="#191b1e"/>
<path d="M108.0 53.20h2.05v1.60h-2.05z" fill="#2c2f1e"/>
<path d="M110.0 53.20h2.05v1.60h-2.05z" fill="#1a1b17"/>
<path d="M112.0 53.20h2.05v1.60h-2.05z" fill="#22241a"/>
<path d="M114.0 53.20h2.05v1.60h-2.05z" fill="#3b3f24"/>
<path d="M116.0 53.20h2.05v1.60h-2.05z" fill="#393d23"/>
<path d="M118.0 53.20h2.05v1.60h-2.05z" fill="#161716"/>
<path d="M120.0 53.20h2.05v1.60h-2.05z" fill="#4f552a"/>
<path d="M122.0 53.20h2.05v1.60h-2.05z" fill="#21231a"/>
<path d="M124.0 53.20h2.05v1.60h-2.05z" fill="#313520"/>
<path d="M126.0 53.20h2.05v1.60h-2.05z" fill="#171819"/>
<path d="M128.0 53.20h2.05v1.60h-2.05z" fill="#20221a"/>
<path d="M130.0 53.20h2.05v1.60h-2.05z" fill="#1e212d"/>
<path d="M132.0 53.20h2.05v1.60h-2.05z" fill="#454b27"/>
<path d="M134.0 53.20h2.05v1.60h-2.05z" fill="#3d4224"/>
<path d="M136.0 53.20h2.05v1.60h-2.05z" fill="#1b1d23"/>
<path d="M44.0 54.75h2.05v1.60h-2.05z" fill="#1d1f28"/>
<path d="M46.0 54.75h2.05v1.60h-2.05z" fill="#3c4024"/>
<path d="M48.0 54.75h2.05v1.60h-2.05z" fill="#1a1b17"/>
<path d="M50.0 54.75h2.05v1.60h-2.05z" fill="#22241b"/>
<path d="M52.0 54.75h2.05v1.60h-2.05z" fill="#1d1e19"/>
<path d="M54.0 54.75h2.05v1.60h-2.05z" fill="#21231a"/>
<path d="M56.0 54.75h2.05v1.60h-2.05z" fill="#191b1f"/>
<path d="M58.0 54.75h2.05v1.60h-2.05z" fill="#24261b"/>
<path d="M60.0 54.75h2.05v1.60h-2.05z" fill="#1b1e25"/>
<path d="M62.0 54.75h2.05v1.60h-2.05z" fill="#22241a"/>
<path d="M64.0 54.75h2.05v1.60h-2.05z" fill="#2a2d1d"/>
<path d="M66.0 54.75h2.05v1.60h-2.05z" fill="#2d301f"/>
<path d="M68.0 54.75h2.05v1.60h-2.05z" fill="#1e2019"/>
<path d="M70.0 54.75h2.05v1.60h-2.05z" fill="#18191b"/>
<path d="M72.0 54.75h2.05v1.60h-2.05z" fill="#27291c"/>
<path d="M74.0 54.75h2.05v1.60h-2.05z" fill="#191a17"/>
<path d="M76.0 54.75h2.05v1.60h-2.05z" fill="#444827"/>
<path d="M78.0 54.75h2.05v1.60h-2.05z" fill="#343721"/>
<path d="M80.0 54.75h2.05v1.60h-2.05z" fill="#21231a"/>
<path d="M82.0 54.75h2.05v1.60h-2.05z" fill="#191b17"/>
<path d="M84.0 54.75h2.05v1.60h-2.05z" fill="#161817"/>
<path d="M86.0 54.75h2.05v1.60h-2.05z" fill="#23283d"/>
<path d="M88.0 54.75h2.05v1.60h-2.05z" fill="#212434"/>
<path d="M90.0 54.75h2.05v1.60h-2.05z" fill="#1c1f28"/>
<path d="M92.0 54.75h2.05v1.60h-2.05z" fill="#1b1d24"/>
<path d="M94.0 54.75h2.05v1.60h-2.05z" fill="#1b1d23"/>
<path d="M96.0 54.75h2.05v1.60h-2.05z" fill="#272a1d"/>
<path d="M98.0 54.75h2.05v1.60h-2.05z" fill="#22273a"/>
<path d="M100.0 54.75h2.05v1.60h-2.05z" fill="#1e212e"/>
<path d="M102.0 54.75h2.05v1.60h-2.05z" fill="#363a22"/>
<path d="M104.0 54.75h2.05v1.60h-2.05z" fill="#262d48"/>
<path d="M106.0 54.75h2.05v1.60h-2.05z" fill="#222638"/>
<path d="M108.0 54.75h2.05v1.60h-2.05z" fill="#1d202b"/>
<path d="M110.0 54.75h2.05v1.60h-2.05z" fill="#1d202b"/>
<path d="M112.0 54.75h2.05v1.60h-2.05z" fill="#1c1e26"/>
<path d="M114.0 54.75h2.05v1.60h-2.05z" fill="#202332"/>
<path d="M116.0 54.75h2.05v1.60h-2.05z" fill="#1a1c22"/>
<path d="M118.0 54.75h2.05v1.60h-2.05z" fill="#1c1f28"/>
<path d="M120.0 54.75h2.05v1.60h-2.05z" fill="#18191a"/>
<path d="M122.0 54.75h2.05v1.60h-2.05z" fill="#252c45"/>
<path d="M124.0 54.75h2.05v1.60h-2.05z" fill="#222639"/>
<path d="M126.0 54.75h2.05v1.60h-2.05z" fill="#1d1f29"/>
<path d="M128.0 54.75h2.05v1.60h-2.05z" fill="#23273b"/>
<path d="M130.0 54.75h2.05v1.60h-2.05z" fill="#23273b"/>
<path d="M132.0 54.75h2.05v1.60h-2.05z" fill="#181a1d"/>
<path d="M134.0 54.75h2.05v1.60h-2.05z" fill="#212535"/>
<path d="M136.0 54.75h2.05v1.60h-2.05z" fill="#181a1d"/>
<path d="M44.0 56.30h2.05v1.60h-2.05z" fill="#59602e"/>
<path d="M46.0 56.30h2.05v1.60h-2.05z" fill="#5e642f"/>
<path d="M48.0 56.30h2.05v1.60h-2.05z" fill="#50562b"/>
<path d="M50.0 56.30h2.05v1.60h-2.05z" fill="#373b22"/>
<path d="M52.0 56.30h2.05v1.60h-2.05z" fill="#52582b"/>
<path d="M54.0 56.30h2.05v1.60h-2.05z" fill="#5d632f"/>
<path d="M56.0 56.30h2.05v1.60h-2.05z" fill="#484d28"/>
<path d="M58.0 56.30h2.05v1.60h-2.05z" fill="#50562b"/>
<path d="M60.0 56.30h2.05v1.60h-2.05z" fill="#646a31"/>
<path d="M62.0 56.30h2.05v1.60h-2.05z" fill="#414626"/>
<path d="M64.0 56.30h2.05v1.60h-2.05z" fill="#616830"/>
<path d="M66.0 56.30h2.05v1.60h-2.05z" fill="#81883b"/>
<path d="M68.0 56.30h2.05v1.60h-2.05z" fill="#474d28"/>
<path d="M70.0 56.30h2.05v1.60h-2.05z" fill="#565c2d"/>
<path d="M72.0 56.30h2.05v1.60h-2.05z" fill="#4f552a"/>
<path d="M74.0 56.30h2.05v1.60h-2.05z" fill="#777e38"/>
<path d="M76.0 56.30h2.05v1.60h-2.05z" fill="#5a602e"/>
<path d="M78.0 56.30h2.05v1.60h-2.05z" fill="#676e32"/>
<path d="M80.0 56.30h2.05v1.60h-2.05z" fill="#454a27"/>
<path d="M82.0 56.30h2.05v1.60h-2.05z" fill="#52582b"/>
<path d="M84.0 56.30h2.05v1.60h-2.05z" fill="#52582b"/>
<path d="M86.0 56.30h2.05v1.60h-2.05z" fill="#262e49"/>
<path d="M88.0 56.30h2.05v1.60h-2.05z" fill="#171816"/>
<path d="M90.0 56.30h2.05v1.60h-2.05z" fill="#191b20"/>
<path d="M92.0 56.30h2.05v1.60h-2.05z" fill="#262e48"/>
<path d="M94.0 56.30h2.05v1.60h-2.05z" fill="#1a1d22"/>
<path d="M96.0 56.30h2.05v1.60h-2.05z" fill="#202433"/>
<path d="M98.0 56.30h2.05v1.60h-2.05z" fill="#1c1f28"/>
<path d="M100.0 56.30h2.05v1.60h-2.05z" fill="#1d202a"/>
<path d="M102.0 56.30h2.05v1.60h-2.05z" fill="#252c45"/>
<path d="M104.0 56.30h2.05v1.60h-2.05z" fill="#212434"/>
<path d="M106.0 56.30h2.05v1.60h-2.05z" fill="#181917"/>
<path d="M108.0 56.30h2.05v1.60h-2.05z" fill="#22273a"/>
<path d="M110.0 56.30h2.05v1.60h-2.05z" fill="#242940"/>
<path d="M112.0 56.30h2.05v1.60h-2.05z" fill="#252b44"/>
<path d="M114.0 56.30h2.05v1.60h-2.05z" fill="#242b42"/>
<path d="M116.0 56.30h2.05v1.60h-2.05z" fill="#3e4325"/>
<path d="M118.0 56.30h2.05v1.60h-2.05z" fill="#5a602e"/>
<path d="M120.0 56.30h2.05v1.60h-2.05z" fill="#404525"/>
<path d="M122.0 56.30h2.05v1.60h-2.05z" fill="#3c4124"/>
<path d="M124.0 56.30h2.05v1.60h-2.05z" fill="#676d32"/>
<path d="M126.0 56.30h2.05v1.60h-2.05z" fill="#2d301e"/>
<path d="M128.0 56.30h2.05v1.60h-2.05z" fill="#292c1d"/>
<path d="M130.0 56.30h2.05v1.60h-2.05z" fill="#424726"/>
<path d="M132.0 56.30h2.05v1.60h-2.05z" fill="#424726"/>
<path d="M134.0 56.30h2.05v1.60h-2.05z" fill="#22241b"/>
<path d="M136.0 56.30h2.05v1.60h-2.05z" fill="#1f2119"/>
<path d="M44.0 57.85h2.05v1.60h-2.05z" fill="#51572b"/>
<path d="M46.0 57.85h2.05v1.60h-2.05z" fill="#323621"/>
<path d="M48.0 57.85h2.05v1.60h-2.05z" fill="#484e28"/>
<path d="M50.0 57.85h2.05v1.60h-2.05z" fill="#424626"/>
<path d="M52.0 57.85h2.05v1.60h-2.05z" fill="#565c2d"/>
<path d="M54.0 57.85h2.05v1.60h-2.05z" fill="#4a4f29"/>
<path d="M56.0 57.85h2.05v1.60h-2.05z" fill="#4b5029"/>
<path d="M58.0 57.85h2.05v1.60h-2.05z" fill="#454a27"/>
<path d="M60.0 57.85h2.05v1.60h-2.05z" fill="#646a31"/>
<path d="M62.0 57.85h2.05v1.60h-2.05z" fill="#6c7334"/>
<path d="M64.0 57.85h2.05v1.60h-2.05z" fill="#454a27"/>
<path d="M66.0 57.85h2.05v1.60h-2.05z" fill="#5f6530"/>
<path d="M68.0 57.85h2.05v1.60h-2.05z" fill="#3d4224"/>
<path d="M70.0 57.85h2.05v1.60h-2.05z" fill="#4e532a"/>
<path d="M72.0 57.85h2.05v1.60h-2.05z" fill="#5d632f"/>
<path d="M74.0 57.85h2.05v1.60h-2.05z" fill="#6f7635"/>
<path d="M76.0 57.85h2.05v1.60h-2.05z" fill="#454a27"/>
<path d="M78.0 57.85h2.05v1.60h-2.05z" fill="#4b5029"/>
<path d="M80.0 57.85h2.05v1.60h-2.05z" fill="#50562b"/>
<path d="M82.0 57.85h2.05v1.60h-2.05z" fill="#2e321f"/>
<path d="M84.0 57.85h2.05v1.60h-2.05z" fill="#4d522a"/>
<path d="M86.0 57.85h2.05v1.60h-2.05z" fill="#24293f"/>
<path d="M88.0 57.85h2.05v1.60h-2.05z" fill="#1f222f"/>
<path d="M90.0 57.85h2.05v1.60h-2.05z" fill="#252c45"/>
<path d="M92.0 57.85h2.05v1.60h-2.05z" fill="#27314f"/>
<path d="M94.0 57.85h2.05v1.60h-2.05z" fill="#212535"/>
<path d="M96.0 57.85h2.05v1.60h-2.05z" fill="#202331"/>
<path d="M98.0 57.85h2.05v1.60h-2.05z" fill="#23293d"/>
<path d="M100.0 57.85h2.05v1.60h-2.05z" fill="#1b1e25"/>
<path d="M102.0 57.85h2.05v1.60h-2.05z" fill="#22273a"/>
<path d="M104.0 57.85h2.05v1.60h-2.05z" fill="#23293e"/>
<path d="M106.0 57.85h2.05v1.60h-2.05z" fill="#1e212d"/>
<path d="M108.0 57.85h2.05v1.60h-2.05z" fill="#262e4a"/>
<path d="M110.0 57.85h2.05v1.60h-2.05z" fill="#24293f"/>
<path d="M112.0 57.85h2.05v1.60h-2.05z" fill="#212536"/>
<path d="M114.0 57.85h2.05v1.60h-2.05z" fill="#1c1e26"/>
<path d="M116.0 57.85h2.05v1.60h-2.05z" fill="#2e311f"/>
<path d="M118.0 57.85h2.05v1.60h-2.05z" fill="#383c23"/>
<path d="M120.0 57.85h2.05v1.60h-2.05z" fill="#23261b"/>
<path d="M122.0 57.85h2.05v1.60h-2.05z" fill="#373c22"/>
<path d="M124.0 57.85h2.05v1.60h-2.05z" fill="#52582b"/>
<path d="M126.0 57.85h2.05v1.60h-2.05z" fill="#23251b"/>
<path d="M128.0 57.85h2.05v1.60h-2.05z" fill="#636931"/>
<path d="M130.0 57.85h2.05v1.60h-2.05z" fill="#24261b"/>
<path d="M132.0 57.85h2.05v1.60h-2.05z" fill="#313520"/>
<path d="M134.0 57.85h2.05v1.60h-2.05z" fill="#353922"/>
<path d="M136.0 57.85h2.05v1.60h-2.05z" fill="#464b27"/>
<path d="M44.0 59.40h2.05v1.60h-2.05z" fill="#1f222e"/>
<path d="M46.0 59.40h2.05v1.60h-2.05z" fill="#343821"/>
<path d="M48.0 59.40h2.05v1.60h-2.05z" fill="#383c23"/>
<path d="M50.0 59.40h2.05v1.60h-2.05z" fill="#343821"/>
<path d="M52.0 59.40h2.05v1.60h-2.05z" fill="#5e642f"/>
<path d="M54.0 59.40h2.05v1.60h-2.05z" fill="#2b2e1e"/>
<path d="M56.0 59.40h2.05v1.60h-2.05z" fill="#2d301e"/>
<path d="M58.0 59.40h2.05v1.60h-2.05z" fill="#3a3f23"/>
<path d="M60.0 59.40h2.05v1.60h-2.05z" fill="#2f321f"/>
<path d="M62.0 59.40h2.05v1.60h-2.05z" fill="#494e28"/>
<path d="M64.0 59.40h2.05v1.60h-2.05z" fill="#191b1e"/>
<path d="M66.0 59.40h2.05v1.60h-2.05z" fill="#1f2119"/>
<path d="M68.0 59.40h2.05v1.60h-2.05z" fill="#242b42"/>
<path d="M70.0 59.40h2.05v1.60h-2.05z" fill="#383c23"/>
<path d="M72.0 59.40h2.05v1.60h-2.05z" fill="#1f2119"/>
<path d="M74.0 59.40h2.05v1.60h-2.05z" fill="#3a3f23"/>
<path d="M76.0 59.40h2.05v1.60h-2.05z" fill="#53592c"/>
<path d="M78.0 59.40h2.05v1.60h-2.05z" fill="#272a1c"/>
<path d="M80.0 59.40h2.05v1.60h-2.05z" fill="#22241a"/>
<path d="M82.0 59.40h2.05v1.60h-2.05z" fill="#1d1e18"/>
<path d="M84.0 59.40h2.05v1.60h-2.05z" fill="#161716"/>
<path d="M86.0 59.40h2.05v1.60h-2.05z" fill="#1a1c22"/>
<path d="M88.0 59.40h2.05v1.60h-2.05z" fill="#23261b"/>
<path d="M90.0 59.40h2.05v1.60h-2.05z" fill="#171816"/>
<path d="M92.0 59.40h2.05v1.60h-2.05z" fill="#171816"/>
<path d="M94.0 59.40h2.05v1.60h-2.05z" fill="#171819"/>
<path d="M96.0 59.40h2.05v1.60h-2.05z" fill="#292c1d"/>
<path d="M98.0 59.40h2.05v1.60h-2.05z" fill="#20221a"/>
<path d="M100.0 59.40h2.05v1.60h-2.05z" fill="#171819"/>
<path d="M102.0 59.40h2.05v1.60h-2.05z" fill="#24261b"/>
<path d="M104.0 59.40h2.05v1.60h-2.05z" fill="#171819"/>
<path d="M106.0 59.40h2.05v1.60h-2.05z" fill="#1e212c"/>
<path d="M108.0 59.40h2.05v1.60h-2.05z" fill="#353821"/>
<path d="M110.0 59.40h2.05v1.60h-2.05z" fill="#20221a"/>
<path d="M112.0 59.40h2.05v1.60h-2.05z" fill="#1c1f28"/>
<path d="M114.0 59.40h2.05v1.60h-2.05z" fill="#2d301e"/>
<path d="M116.0 59.40h2.05v1.60h-2.05z" fill="#2e321f"/>
<path d="M118.0 59.40h2.05v1.60h-2.05z" fill="#1b1d24"/>
<path d="M120.0 59.40h2.05v1.60h-2.05z" fill="#484d28"/>
<path d="M122.0 59.40h2.05v1.60h-2.05z" fill="#2e311f"/>
<path d="M124.0 59.40h2.05v1.60h-2.05z" fill="#3a3e23"/>
<path d="M126.0 59.40h2.05v1.60h-2.05z" fill="#2b2e1e"/>
<path d="M128.0 59.40h2.05v1.60h-2.05z" fill="#24261b"/>
<path d="M130.0 59.40h2.05v1.60h-2.05z" fill="#1b1d24"/>
<path d="M132.0 59.40h2.05v1.60h-2.05z" fill="#3b4024"/>
<path d="M134.0 59.40h2.05v1.60h-2.05z" fill="#282a1d"/>
<path d="M136.0 59.40h2.05v1.60h-2.05z" fill="#21231a"/>
<path d="M44.0 60.95h2.05v1.60h-2.05z" fill="#3f4325"/>
<path d="M46.0 60.95h2.05v1.60h-2.05z" fill="#4a5029"/>
<path d="M48.0 60.95h2.05v1.60h-2.05z" fill="#363a22"/>
<path d="M50.0 60.95h2.05v1.60h-2.05z" fill="#3c4124"/>
<path d="M52.0 60.95h2.05v1.60h-2.05z" fill="#18191b"/>
<path d="M54.0 60.95h2.05v1.60h-2.05z" fill="#353821"/>
<path d="M56.0 60.95h2.05v1.60h-2.05z" fill="#4a5029"/>
<path d="M58.0 60.95h2.05v1.60h-2.05z" fill="#585e2d"/>
<path d="M60.0 60.95h2.05v1.60h-2.05z" fill="#363a22"/>
<path d="M62.0 60.95h2.05v1.60h-2.05z" fill="#3b3f24"/>
<path d="M64.0 60.95h2.05v1.60h-2.05z" fill="#5e642f"/>
<path d="M66.0 60.95h2.05v1.60h-2.05z" fill="#373b22"/>
<path d="M68.0 60.95h2.05v1.60h-2.05z" fill="#4c5129"/>
<path d="M70.0 60.95h2.05v1.60h-2.05z" fill="#606730"/>
<path d="M72.0 60.95h2.05v1.60h-2.05z" fill="#3e4225"/>
<path d="M74.0 60.95h2.05v1.60h-2.05z" fill="#565c2d"/>
<path d="M76.0 60.95h2.05v1.60h-2.05z" fill="#2e321f"/>
<path d="M78.0 60.95h2.05v1.60h-2.05z" fill="#414626"/>
<path d="M80.0 60.95h2.05v1.60h-2.05z" fill="#3c4024"/>
<path d="M82.0 60.95h2.05v1.60h-2.05z" fill="#3f4425"/>
<path d="M84.0 60.95h2.05v1.60h-2.05z" fill="#53592c"/>
<path d="M86.0 60.95h2.05v1.60h-2.05z" fill="#5e642f"/>
<path d="M88.0 60.95h2.05v1.60h-2.05z" fill="#1e2019"/>
<path d="M90.0 60.95h2.05v1.60h-2.05z" fill="#20221a"/>
<path d="M92.0 60.95h2.05v1.60h-2.05z" fill="#373b22"/>
<path d="M94.0 60.95h2.05v1.60h-2.05z" fill="#161716"/>
<path d="M96.0 60.95h2.05v1.60h-2.05z" fill="#373b22"/>
<path d="M98.0 60.95h2.05v1.60h-2.05z" fill="#383c23"/>
<path d="M100.0 60.95h2.05v1.60h-2.05z" fill="#26291c"/>
<path d="M102.0 60.95h2.05v1.60h-2.05z" fill="#373b22"/>
<path d="M104.0 60.95h2.05v1.60h-2.05z" fill="#191b1f"/>
<path d="M106.0 60.95h2.05v1.60h-2.05z" fill="#3c4024"/>
<path d="M108.0 60.95h2.05v1.60h-2.05z" fill="#191b1f"/>
<path d="M110.0 60.95h2.05v1.60h-2.05z" fill="#1e1f19"/>
<path d="M112.0 60.95h2.05v1.60h-2.05z" fill="#20221a"/>
<path d="M114.0 60.95h2.05v1.60h-2.05z" fill="#24261b"/>
<path d="M116.0 60.95h2.05v1.60h-2.05z" fill="#4e542a"/>
<path d="M118.0 60.95h2.05v1.60h-2.05z" fill="#3f4325"/>
<path d="M120.0 60.95h2.05v1.60h-2.05z" fill="#353922"/>
<path d="M122.0 60.95h2.05v1.60h-2.05z" fill="#484d28"/>
<path d="M124.0 60.95h2.05v1.60h-2.05z" fill="#5e642f"/>
<path d="M126.0 60.95h2.05v1.60h-2.05z" fill="#3d4224"/>
<path d="M128.0 60.95h2.05v1.60h-2.05z" fill="#444927"/>
<path d="M130.0 60.95h2.05v1.60h-2.05z" fill="#565c2d"/>
<path d="M132.0 60.95h2.05v1.60h-2.05z" fill="#424726"/>
<path d="M134.0 60.95h2.05v1.60h-2.05z" fill="#22251b"/>
<path d="M136.0 60.95h2.05v1.60h-2.05z" fill="#747a37"/>
<path d="M44.0 62.50h2.05v1.60h-2.05z" fill="#393d23"/>
<path d="M46.0 62.50h2.05v1.60h-2.05z" fill="#626831"/>
<path d="M48.0 62.50h2.05v1.60h-2.05z" fill="#6d7334"/>
<path d="M50.0 62.50h2.05v1.60h-2.05z" fill="#7a8139"/>
<path d="M52.0 62.50h2.05v1.60h-2.05z" fill="#737a36"/>
<path d="M54.0 62.50h2.05v1.60h-2.05z" fill="#5c632f"/>
<path d="M56.0 62.50h2.05v1.60h-2.05z" fill="#4b5129"/>
<path d="M58.0 62.50h2.05v1.60h-2.05z" fill="#656c32"/>
<path d="M60.0 62.50h2.05v1.60h-2.05z" fill="#7d8339"/>
<path d="M62.0 62.50h2.05v1.60h-2.05z" fill="#4b5029"/>
<path d="M64.0 62.50h2.05v1.60h-2.05z" fill="#4c5129"/>
<path d="M66.0 62.50h2.05v1.60h-2.05z" fill="#626931"/>
<path d="M68.0 62.50h2.05v1.60h-2.05z" fill="#3a3e23"/>
<path d="M70.0 62.50h2.05v1.60h-2.05z" fill="#5d632f"/>
<path d="M72.0 62.50h2.05v1.60h-2.05z" fill="#585f2d"/>
<path d="M74.0 62.50h2.05v1.60h-2.05z" fill="#6e7435"/>
<path d="M76.0 62.50h2.05v1.60h-2.05z" fill="#52582b"/>
<path d="M78.0 62.50h2.05v1.60h-2.05z" fill="#4f552a"/>
<path d="M80.0 62.50h2.05v1.60h-2.05z" fill="#59602e"/>
<path d="M82.0 62.50h2.05v1.60h-2.05z" fill="#626831"/>
<path d="M84.0 62.50h2.05v1.60h-2.05z" fill="#53592c"/>
<path d="M86.0 62.50h2.05v1.60h-2.05z" fill="#171819"/>
<path d="M88.0 62.50h2.05v1.60h-2.05z" fill="#22251b"/>
<path d="M90.0 62.50h2.05v1.60h-2.05z" fill="#2c2f1e"/>
<path d="M92.0 62.50h2.05v1.60h-2.05z" fill="#373b22"/>
<path d="M94.0 62.50h2.05v1.60h-2.05z" fill="#1c1f28"/>
<path d="M96.0 62.50h2.05v1.60h-2.05z" fill="#1a1c21"/>
<path d="M98.0 62.50h2.05v1.60h-2.05z" fill="#242b42"/>
<path d="M100.0 62.50h2.05v1.60h-2.05z" fill="#3a3f23"/>
<path d="M102.0 62.50h2.05v1.60h-2.05z" fill="#1c1e27"/>
<path d="M104.0 62.50h2.05v1.60h-2.05z" fill="#17191a"/>
<path d="M106.0 62.50h2.05v1.60h-2.05z" fill="#1e1f19"/>
<path d="M108.0 62.50h2.05v1.60h-2.05z" fill="#202432"/>
<path d="M110.0 62.50h2.05v1.60h-2.05z" fill="#1c1e18"/>
<path d="M112.0 62.50h2.05v1.60h-2.05z" fill="#17191a"/>
<path d="M114.0 62.50h2.05v1.60h-2.05z" fill="#22273a"/>
<path d="M116.0 62.50h2.05v1.60h-2.05z" fill="#303320"/>
<path d="M118.0 62.50h2.05v1.60h-2.05z" fill="#424726"/>
<path d="M120.0 62.50h2.05v1.60h-2.05z" fill="#1c1f28"/>
<path d="M122.0 62.50h2.05v1.60h-2.05z" fill="#3a3f23"/>
<path d="M124.0 62.50h2.05v1.60h-2.05z" fill="#2e311f"/>
<path d="M126.0 62.50h2.05v1.60h-2.05z" fill="#343721"/>
<path d="M128.0 62.50h2.05v1.60h-2.05z" fill="#333721"/>
<path d="M130.0 62.50h2.05v1.60h-2.05z" fill="#444927"/>
<path d="M132.0 62.50h2.05v1.60h-2.05z" fill="#25271c"/>
<path d="M134.0 62.50h2.05v1.60h-2.05z" fill="#3c4024"/>
<path d="M136.0 62.50h2.05v1.60h-2.05z" fill="#21231a"/>
<path d="M44.0 64.05h2.05v1.60h-2.05z" fill="#3d4124"/>
<path d="M46.0 64.05h2.05v1.60h-2.05z" fill="#4b5029"/>
<path d="M48.0 64.05h2.05v1.60h-2.05z" fill="#747b37"/>
<path d="M50.0 64.05h2.05v1.60h-2.05z" fill="#565c2d"/>
<path d="M52.0 64.05h2.05v1.60h-2.05z" fill="#4a4f29"/>
<path d="M54.0 64.05h2.05v1.60h-2.05z" fill="#363a22"/>
<path d="M56.0 64.05h2.05v1.60h-2.05z" fill="#3d4224"/>
<path d="M58.0 64.05h2.05v1.60h-2.05z" fill="#51562b"/>
<path d="M60.0 64.05h2.05v1.60h-2.05z" fill="#626831"/>
<path d="M62.0 64.05h2.05v1.60h-2.05z" fill="#555c2c"/>
<path d="M64.0 64.05h2.05v1.60h-2.05z" fill="#585e2d"/>
<path d="M66.0 64.05h2.05v1.60h-2.05z" fill="#4c5129"/>
<path d="M68.0 64.05h2.05v1.60h-2.05z" fill="#6b7234"/>
<path d="M70.0 64.05h2.05v1.60h-2.05z" fill="#454a27"/>
<path d="M72.0 64.05h2.05v1.60h-2.05z" fill="#424726"/>
<path d="M74.0 64.05h2.05v1.60h-2.05z" fill="#606730"/>
<path d="M76.0 64.05h2.05v1.60h-2.05z" fill="#4e542a"/>
<path d="M78.0 64.05h2.05v1.60h-2.05z" fill="#474c28"/>
<path d="M80.0 64.05h2.05v1.60h-2.05z" fill="#414626"/>
<path d="M82.0 64.05h2.05v1.60h-2.05z" fill="#484d28"/>
<path d="M84.0 64.05h2.05v1.60h-2.05z" fill="#5a602e"/>
<path d="M86.0 64.05h2.05v1.60h-2.05z" fill="#1b1e25"/>
<path d="M88.0 64.05h2.05v1.60h-2.05z" fill="#24293f"/>
<path d="M90.0 64.05h2.05v1.60h-2.05z" fill="#1b1d24"/>
<path d="M92.0 64.05h2.05v1.60h-2.05z" fill="#1c1f28"/>
<path d="M94.0 64.05h2.05v1.60h-2.05z" fill="#23283c"/>
<path d="M96.0 64.05h2.05v1.60h-2.05z" fill="#181a1d"/>
<path d="M98.0 64.05h2.05v1.60h-2.05z" fill="#1f2331"/>
<path d="M100.0 64.05h2.05v1.60h-2.05z" fill="#202332"/>
<path d="M102.0 64.05h2.05v1.60h-2.05z" fill="#181a1d"/>
<path d="M104.0 64.05h2.05v1.60h-2.05z" fill="#1a1b17"/>
<path d="M106.0 64.05h2.05v1.60h-2.05z" fill="#222638"/>
<path d="M108.0 64.05h2.05v1.60h-2.05z" fill="#1b1d23"/>
<path d="M110.0 64.05h2.05v1.60h-2.05z" fill="#23273b"/>
<path d="M112.0 64.05h2.05v1.60h-2.05z" fill="#2f321f"/>
<path d="M114.0 64.05h2.05v1.60h-2.05z" fill="#212535"/>
<path d="M116.0 64.05h2.05v1.60h-2.05z" fill="#2e311f"/>
<path d="M118.0 64.05h2.05v1.60h-2.05z" fill="#1b1d23"/>
<path d="M120.0 64.05h2.05v1.60h-2.05z" fill="#26281c"/>
<path d="M122.0 64.05h2.05v1.60h-2.05z" fill="#434826"/>
<path d="M124.0 64.05h2.05v1.60h-2.05z" fill="#242a42"/>
<path d="M126.0 64.05h2.05v1.60h-2.05z" fill="#191b1f"/>
<path d="M128.0 64.05h2.05v1.60h-2.05z" fill="#1f2119"/>
<path d="M130.0 64.05h2.05v1.60h-2.05z" fill="#171819"/>
<path d="M132.0 64.05h2.05v1.60h-2.05z" fill="#1b1d24"/>
<path d="M134.0 64.05h2.05v1.60h-2.05z" fill="#414626"/>
<path d="M136.0 64.05h2.05v1.60h-2.05z" fill="#161716"/>
<path d="M44.0 65.60h2.05v1.60h-2.05z" fill="#282b1d"/>
<path d="M46.0 65.60h2.05v1.60h-2.05z" fill="#212536"/>
<path d="M48.0 65.60h2.05v1.60h-2.05z" fill="#2e311f"/>
<path d="M50.0 65.60h2.05v1.60h-2.05z" fill="#1a1c21"/>
<path d="M52.0 65.60h2.05v1.60h-2.05z" fill="#191a17"/>
<path d="M54.0 65.60h2.05v1.60h-2.05z" fill="#313420"/>
<path d="M56.0 65.60h2.05v1.60h-2.05z" fill="#181a17"/>
<path d="M58.0 65.60h2.05v1.60h-2.05z" fill="#1f2330"/>
<path d="M60.0 65.60h2.05v1.60h-2.05z" fill="#212536"/>
<path d="M62.0 65.60h2.05v1.60h-2.05z" fill="#2f321f"/>
<path d="M64.0 65.60h2.05v1.60h-2.05z" fill="#26281c"/>
<path d="M66.0 65.60h2.05v1.60h-2.05z" fill="#1b1e25"/>
<path d="M68.0 65.60h2.05v1.60h-2.05z" fill="#282b1d"/>
<path d="M70.0 65.60h2.05v1.60h-2.05z" fill="#20221a"/>
<path d="M72.0 65.60h2.05v1.60h-2.05z" fill="#24261b"/>
<path d="M74.0 65.60h2.05v1.60h-2.05z" fill="#23293d"/>
<path d="M76.0 65.60h2.05v1.60h-2.05z" fill="#181a1c"/>
<path d="M78.0 65.60h2.05v1.60h-2.05z" fill="#292c1d"/>
<path d="M80.0 65.60h2.05v1.60h-2.05z" fill="#25281c"/>
<path d="M82.0 65.60h2.05v1.60h-2.05z" fill="#292b1d"/>
<path d="M84.0 65.60h2.05v1.60h-2.05z" fill="#242a40"/>
<path d="M86.0 65.60h2.05v1.60h-2.05z" fill="#27304f"/>
<path d="M88.0 65.60h2.05v1.60h-2.05z" fill="#262f4b"/>
<path d="M90.0 65.60h2.05v1.60h-2.05z" fill="#1e212e"/>
<path d="M92.0 65.60h2.05v1.60h-2.05z" fill="#2a385f"/>
<path d="M94.0 65.60h2.05v1.60h-2.05z" fill="#293455"/>
<path d="M96.0 65.60h2.05v1.60h-2.05z" fill="#283150"/>
<path d="M98.0 65.60h2.05v1.60h-2.05z" fill="#252c46"/>
<path d="M100.0 65.60h2.05v1.60h-2.05z" fill="#293457"/>
<path d="M102.0 65.60h2.05v1.60h-2.05z" fill="#242b43"/>
<path d="M104.0 65.60h2.05v1.60h-2.05z" fill="#2a375c"/>
<path d="M106.0 65.60h2.05v1.60h-2.05z" fill="#27304d"/>
<path d="M108.0 65.60h2.05v1.60h-2.05z" fill="#293558"/>
<path d="M110.0 65.60h2.05v1.60h-2.05z" fill="#27304f"/>
<path d="M112.0 65.60h2.05v1.60h-2.05z" fill="#2a365b"/>
<path d="M114.0 65.60h2.05v1.60h-2.05z" fill="#2c3d69"/>
<path d="M116.0 65.60h2.05v1.60h-2.05z" fill="#333621"/>
<path d="M118.0 65.60h2.05v1.60h-2.05z" fill="#22241b"/>
<path d="M120.0 65.60h2.05v1.60h-2.05z" fill="#18191b"/>
<path d="M122.0 65.60h2.05v1.60h-2.05z" fill="#20221a"/>
<path d="M124.0 65.60h2.05v1.60h-2.05z" fill="#313420"/>
<path d="M126.0 65.60h2.05v1.60h-2.05z" fill="#1b1d23"/>
<path d="M128.0 65.60h2.05v1.60h-2.05z" fill="#191b17"/>
<path d="M130.0 65.60h2.05v1.60h-2.05z" fill="#272a1c"/>
<path d="M132.0 65.60h2.05v1.60h-2.05z" fill="#27291c"/>
<path d="M134.0 65.60h2.05v1.60h-2.05z" fill="#161817"/>
<path d="M136.0 65.60h2.05v1.60h-2.05z" fill="#222638"/>
<path d="M44.0 67.15h2.05v1.60h-2.05z" fill="#454927"/>
<path d="M46.0 67.15h2.05v1.60h-2.05z" fill="#3e4325"/>
<path d="M48.0 67.15h2.05v1.60h-2.05z" fill="#383d23"/>
<path d="M50.0 67.15h2.05v1.60h-2.05z" fill="#434826"/>
<path d="M52.0 67.15h2.05v1.60h-2.05z" fill="#363a22"/>
<path d="M54.0 67.15h2.05v1.60h-2.05z" fill="#292c1d"/>
<path d="M56.0 67.15h2.05v1.60h-2.05z" fill="#2f321f"/>
<path d="M58.0 67.15h2.05v1.60h-2.05z" fill="#323620"/>
<path d="M60.0 67.15h2.05v1.60h-2.05z" fill="#323520"/>
<path d="M62.0 67.15h2.05v1.60h-2.05z" fill="#26291c"/>
<path d="M64.0 67.15h2.05v1.60h-2.05z" fill="#4b5029"/>
<path d="M66.0 67.15h2.05v1.60h-2.05z" fill="#23251b"/>
<path d="M68.0 67.15h2.05v1.60h-2.05z" fill="#4b5029"/>
<path d="M70.0 67.15h2.05v1.60h-2.05z" fill="#292c1d"/>
<path d="M72.0 67.15h2.05v1.60h-2.05z" fill="#454a27"/>
<path d="M74.0 67.15h2.05v1.60h-2.05z" fill="#5a602e"/>
<path d="M76.0 67.15h2.05v1.60h-2.05z" fill="#424726"/>
<path d="M78.0 67.15h2.05v1.60h-2.05z" fill="#2f321f"/>
<path d="M80.0 67.15h2.05v1.60h-2.05z" fill="#3f4425"/>
<path d="M82.0 67.15h2.05v1.60h-2.05z" fill="#414626"/>
<path d="M84.0 67.15h2.05v1.60h-2.05z" fill="#1a1b17"/>
<path d="M86.0 67.15h2.05v1.60h-2.05z" fill="#242a40"/>
<path d="M88.0 67.15h2.05v1.60h-2.05z" fill="#212536"/>
<path d="M90.0 67.15h2.05v1.60h-2.05z" fill="#24293f"/>
<path d="M92.0 67.15h2.05v1.60h-2.05z" fill="#222638"/>
<path d="M94.0 67.15h2.05v1.60h-2.05z" fill="#1e212c"/>
<path d="M96.0 67.15h2.05v1.60h-2.05z" fill="#1d202b"/>
<path d="M98.0 67.15h2.05v1.60h-2.05z" fill="#1d1f29"/>
<path d="M100.0 67.15h2.05v1.60h-2.05z" fill="#1f222e"/>
<path d="M102.0 67.15h2.05v1.60h-2.05z" fill="#23283d"/>
<path d="M104.0 67.15h2.05v1.60h-2.05z" fill="#222739"/>
<path d="M106.0 67.15h2.05v1.60h-2.05z" fill="#23283c"/>
<path d="M108.0 67.15h2.05v1.60h-2.05z" fill="#23283d"/>
<path d="M110.0 67.15h2.05v1.60h-2.05z" fill="#23273b"/>
<path d="M112.0 67.15h2.05v1.60h-2.05z" fill="#27304e"/>
<path d="M114.0 67.15h2.05v1.60h-2.05z" fill="#23283d"/>
<path d="M116.0 67.15h2.05v1.60h-2.05z" fill="#434826"/>
<path d="M118.0 67.15h2.05v1.60h-2.05z" fill="#303320"/>
<path d="M120.0 67.15h2.05v1.60h-2.05z" fill="#434826"/>
<path d="M122.0 67.15h2.05v1.60h-2.05z" fill="#4e532a"/>
<path d="M124.0 67.15h2.05v1.60h-2.05z" fill="#404525"/>
<path d="M126.0 67.15h2.05v1.60h-2.05z" fill="#717836"/>
<path d="M128.0 67.15h2.05v1.60h-2.05z" fill="#191a1e"/>
<path d="M130.0 67.15h2.05v1.60h-2.05z" fill="#3f4425"/>
<path d="M132.0 67.15h2.05v1.60h-2.05z" fill="#1e1f19"/>
<path d="M134.0 67.15h2.05v1.60h-2.05z" fill="#575d2d"/>
<path d="M136.0 67.15h2.05v1.60h-2.05z" fill="#82893b"/>
<path d="M44.0 68.70h2.05v1.60h-2.05z" fill="#292c1d"/>
<path d="M46.0 68.70h2.05v1.60h-2.05z" fill="#323520"/>
<path d="M48.0 68.70h2.05v1.60h-2.05z" fill="#20221a"/>
<path d="M50.0 68.70h2.05v1.60h-2.05z" fill="#323621"/>
<path d="M52.0 68.70h2.05v1.60h-2.05z" fill="#202331"/>
<path d="M54.0 68.70h2.05v1.60h-2.05z" fill="#383d23"/>
<path d="M56.0 68.70h2.05v1.60h-2.05z" fill="#2e321f"/>
<path d="M58.0 68.70h2.05v1.60h-2.05z" fill="#272a1c"/>
<path d="M60.0 68.70h2.05v1.60h-2.05z" fill="#1a1c18"/>
<path d="M62.0 68.70h2.05v1.60h-2.05z" fill="#343821"/>
<path d="M64.0 68.70h2.05v1.60h-2.05z" fill="#1c1e18"/>
<path d="M66.0 68.70h2.05v1.60h-2.05z" fill="#2b2e1e"/>
<path d="M68.0 68.70h2.05v1.60h-2.05z" fill="#1c1d18"/>
<path d="M70.0 68.70h2.05v1.60h-2.05z" fill="#202331"/>
<path d="M72.0 68.70h2.05v1.60h-2.05z" fill="#26281c"/>
<path d="M74.0 68.70h2.05v1.60h-2.05z" fill="#2b2e1e"/>
<path d="M76.0 68.70h2.05v1.60h-2.05z" fill="#373b22"/>
<path d="M78.0 68.70h2.05v1.60h-2.05z" fill="#171818"/>
<path d="M80.0 68.70h2.05v1.60h-2.05z" fill="#26281c"/>
<path d="M82.0 68.70h2.05v1.60h-2.05z" fill="#343721"/>
<path d="M84.0 68.70h2.05v1.60h-2.05z" fill="#2a2d1d"/>
<path d="M86.0 68.70h2.05v1.60h-2.05z" fill="#262e48"/>
<path d="M88.0 68.70h2.05v1.60h-2.05z" fill="#24293f"/>
<path d="M90.0 68.70h2.05v1.60h-2.05z" fill="#2c3c67"/>
<path d="M92.0 68.70h2.05v1.60h-2.05z" fill="#2e4273"/>
<path d="M94.0 68.70h2.05v1.60h-2.05z" fill="#27304d"/>
<path d="M96.0 68.70h2.05v1.60h-2.05z" fill="#252c45"/>
<path d="M98.0 68.70h2.05v1.60h-2.05z" fill="#272f4c"/>
<path d="M100.0 68.70h2.05v1.60h-2.05z" fill="#27304e"/>
<path d="M102.0 68.70h2.05v1.60h-2.05z" fill="#2b3a63"/>
<path d="M104.0 68.70h2.05v1.60h-2.05z" fill="#2b3b64"/>
<path d="M106.0 68.70h2.05v1.60h-2.05z" fill="#27304d"/>
<path d="M108.0 68.70h2.05v1.60h-2.05z" fill="#2c3c67"/>
<path d="M110.0 68.70h2.05v1.60h-2.05z" fill="#2e4273"/>
<path d="M112.0 68.70h2.05v1.60h-2.05z" fill="#2c3d69"/>
<path d="M114.0 68.70h2.05v1.60h-2.05z" fill="#222639"/>
<path d="M116.0 68.70h2.05v1.60h-2.05z" fill="#383c23"/>
<path d="M118.0 68.70h2.05v1.60h-2.05z" fill="#1d1f29"/>
<path d="M120.0 68.70h2.05v1.60h-2.05z" fill="#1d2029"/>
<path d="M122.0 68.70h2.05v1.60h-2.05z" fill="#161817"/>
<path d="M124.0 68.70h2.05v1.60h-2.05z" fill="#1d202a"/>
<path d="M126.0 68.70h2.05v1.60h-2.05z" fill="#2b2e1e"/>
<path d="M128.0 68.70h2.05v1.60h-2.05z" fill="#191a1d"/>
<path d="M130.0 68.70h2.05v1.60h-2.05z" fill="#1f2230"/>
<path d="M132.0 68.70h2.05v1.60h-2.05z" fill="#2b2e1e"/>
<path d="M134.0 68.70h2.05v1.60h-2.05z" fill="#1c1e27"/>
<path d="M136.0 68.70h2.05v1.60h-2.05z" fill="#171818"/>
<path d="M44.0 70.25h2.05v1.60h-2.05z" fill="#424726"/>
<path d="M46.0 70.25h2.05v1.60h-2.05z" fill="#4f552a"/>
<path d="M48.0 70.25h2.05v1.60h-2.05z" fill="#3b3f24"/>
<path d="M50.0 70.25h2.05v1.60h-2.05z" fill="#23251b"/>
<path d="M52.0 70.25h2.05v1.60h-2.05z" fill="#1b1d18"/>
<path d="M54.0 70.25h2.05v1.60h-2.05z" fill="#2f321f"/>
<path d="M56.0 70.25h2.05v1.60h-2.05z" fill="#393e23"/>
<path d="M58.0 70.25h2.05v1.60h-2.05z" fill="#484d28"/>
<path d="M60.0 70.25h2.05v1.60h-2.05z" fill="#4a4f29"/>
<path d="M62.0 70.25h2.05v1.60h-2.05z" fill="#53592c"/>
<path d="M64.0 70.25h2.05v1.60h-2.05z" fill="#4b5029"/>
<path d="M66.0 70.25h2.05v1.60h-2.05z" fill="#393d23"/>
<path d="M68.0 70.25h2.05v1.60h-2.05z" fill="#3a3f23"/>
<path d="M70.0 70.25h2.05v1.60h-2.05z" fill="#1d1f19"/>
<path d="M72.0 70.25h2.05v1.60h-2.05z" fill="#454a27"/>
<path d="M74.0 70.25h2.05v1.60h-2.05z" fill="#52582b"/>
<path d="M76.0 70.25h2.05v1.60h-2.05z" fill="#53592c"/>
<path d="M78.0 70.25h2.05v1.60h-2.05z" fill="#464b27"/>
<path d="M80.0 70.25h2.05v1.60h-2.05z" fill="#454a27"/>
<path d="M82.0 70.25h2.05v1.60h-2.05z" fill="#5c632f"/>
<path d="M84.0 70.25h2.05v1.60h-2.05z" fill="#494e28"/>
<path d="M86.0 70.25h2.05v1.60h-2.05z" fill="#1c1e27"/>
<path d="M88.0 70.25h2.05v1.60h-2.05z" fill="#1d202a"/>
<path d="M90.0 70.25h2.05v1.60h-2.05z" fill="#1f2331"/>
<path d="M92.0 70.25h2.05v1.60h-2.05z" fill="#181a1c"/>
<path d="M94.0 70.25h2.05v1.60h-2.05z" fill="#23283d"/>
<path d="M96.0 70.25h2.05v1.60h-2.05z" fill="#23273a"/>
<path d="M98.0 70.25h2.05v1.60h-2.05z" fill="#242a40"/>
<path d="M100.0 70.25h2.05v1.60h-2.05z" fill="#242a40"/>
<path d="M102.0 70.25h2.05v1.60h-2.05z" fill="#171818"/>
<path d="M104.0 70.25h2.05v1.60h-2.05z" fill="#181a17"/>
<path d="M106.0 70.25h2.05v1.60h-2.05z" fill="#212434"/>
<path d="M108.0 70.25h2.05v1.60h-2.05z" fill="#1d202a"/>
<path d="M110.0 70.25h2.05v1.60h-2.05z" fill="#191b1f"/>
<path d="M112.0 70.25h2.05v1.60h-2.05z" fill="#1c1e26"/>
<path d="M114.0 70.25h2.05v1.60h-2.05z" fill="#191b1e"/>
<path d="M116.0 70.25h2.05v1.60h-2.05z" fill="#171819"/>
<path d="M118.0 70.25h2.05v1.60h-2.05z" fill="#1f211a"/>
<path d="M120.0 70.25h2.05v1.60h-2.05z" fill="#363a22"/>
<path d="M122.0 70.25h2.05v1.60h-2.05z" fill="#4a4f29"/>
<path d="M124.0 70.25h2.05v1.60h-2.05z" fill="#2f321f"/>
<path d="M126.0 70.25h2.05v1.60h-2.05z" fill="#1b1c18"/>
<path d="M128.0 70.25h2.05v1.60h-2.05z" fill="#25281c"/>
<path d="M130.0 70.25h2.05v1.60h-2.05z" fill="#1f2119"/>
<path d="M132.0 70.25h2.05v1.60h-2.05z" fill="#1b1c18"/>
<path d="M134.0 70.25h2.05v1.60h-2.05z" fill="#4b5129"/>
<path d="M136.0 70.25h2.05v1.60h-2.05z" fill="#20221a"/>
<path d="M44.0 71.80h2.05v1.60h-2.05z" fill="#848a3c"/>
<path d="M46.0 71.80h2.05v1.60h-2.05z" fill="#697033"/>
<path d="M48.0 71.80h2.05v1.60h-2.05z" fill="#555b2c"/>
<path d="M50.0 71.80h2.05v1.60h-2.05z" fill="#424726"/>
<path d="M52.0 71.80h2.05v1.60h-2.05z" fill="#575d2d"/>
<path d="M54.0 71.80h2.05v1.60h-2.05z" fill="#747b37"/>
<path d="M56.0 71.80h2.05v1.60h-2.05z" fill="#5c622f"/>
<path d="M58.0 71.80h2.05v1.60h-2.05z" fill="#6b7234"/>
<path d="M60.0 71.80h2.05v1.60h-2.05z" fill="#50562b"/>
<path d="M62.0 71.80h2.05v1.60h-2.05z" fill="#59602e"/>
<path d="M64.0 71.80h2.05v1.60h-2.05z" fill="#4a5029"/>
<path d="M66.0 71.80h2.05v1.60h-2.05z" fill="#575d2d"/>
<path d="M68.0 71.80h2.05v1.60h-2.05z" fill="#6c7334"/>
<path d="M70.0 71.80h2.05v1.60h-2.05z" fill="#323520"/>
<path d="M72.0 71.80h2.05v1.60h-2.05z" fill="#4d532a"/>
<path d="M74.0 71.80h2.05v1.60h-2.05z" fill="#53592c"/>
<path d="M76.0 71.80h2.05v1.60h-2.05z" fill="#434826"/>
<path d="M78.0 71.80h2.05v1.60h-2.05z" fill="#484d28"/>
<path d="M80.0 71.80h2.05v1.60h-2.05z" fill="#606630"/>
<path d="M82.0 71.80h2.05v1.60h-2.05z" fill="#7f853a"/>
<path d="M84.0 71.80h2.05v1.60h-2.05z" fill="#5c622f"/>
<path d="M86.0 71.80h2.05v1.60h-2.05z" fill="#1f222e"/>
<path d="M88.0 71.80h2.05v1.60h-2.05z" fill="#262e49"/>
<path d="M90.0 71.80h2.05v1.60h-2.05z" fill="#1c1e18"/>
<path d="M92.0 71.80h2.05v1.60h-2.05z" fill="#202433"/>
<path d="M94.0 71.80h2.05v1.60h-2.05z" fill="#212535"/>
<path d="M96.0 71.80h2.05v1.60h-2.05z" fill="#252b43"/>
<path d="M98.0 71.80h2.05v1.60h-2.05z" fill="#212535"/>
<path d="M100.0 71.80h2.05v1.60h-2.05z" fill="#252b43"/>
<path d="M102.0 71.80h2.05v1.60h-2.05z" fill="#202433"/>
<path d="M104.0 71.80h2.05v1.60h-2.05z" fill="#1e212c"/>
<path d="M106.0 71.80h2.05v1.60h-2.05z" fill="#212434"/>
<path d="M108.0 71.80h2.05v1.60h-2.05z" fill="#1f222f"/>
<path d="M110.0 71.80h2.05v1.60h-2.05z" fill="#242a40"/>
<path d="M112.0 71.80h2.05v1.60h-2.05z" fill="#17191a"/>
<path d="M114.0 71.80h2.05v1.60h-2.05z" fill="#23293e"/>
<path d="M116.0 71.80h2.05v1.60h-2.05z" fill="#1b1d23"/>
<path d="M118.0 71.80h2.05v1.60h-2.05z" fill="#292c1d"/>
<path d="M120.0 71.80h2.05v1.60h-2.05z" fill="#1d1f19"/>
<path d="M122.0 71.80h2.05v1.60h-2.05z" fill="#181917"/>
<path d="M124.0 71.80h2.05v1.60h-2.05z" fill="#26281c"/>
<path d="M126.0 71.80h2.05v1.60h-2.05z" fill="#333721"/>
<path d="M128.0 71.80h2.05v1.60h-2.05z" fill="#171817"/>
<path d="M130.0 71.80h2.05v1.60h-2.05z" fill="#2a2d1e"/>
<path d="M132.0 71.80h2.05v1.60h-2.05z" fill="#4a4f29"/>
<path d="M134.0 71.80h2.05v1.60h-2.05z" fill="#3b4024"/>
<path d="M136.0 71.80h2.05v1.60h-2.05z" fill="#2a2d1e"/>
<path d="M44.0 73.35h2.05v1.60h-2.05z" fill="#383c23"/>
<path d="M46.0 73.35h2.05v1.60h-2.05z" fill="#393d23"/>
<path d="M48.0 73.35h2.05v1.60h-2.05z" fill="#494e28"/>
<path d="M50.0 73.35h2.05v1.60h-2.05z" fill="#383c23"/>
<path d="M52.0 73.35h2.05v1.60h-2.05z" fill="#1b1d23"/>
<path d="M54.0 73.35h2.05v1.60h-2.05z" fill="#3a3e23"/>
<path d="M56.0 73.35h2.05v1.60h-2.05z" fill="#282a1d"/>
<path d="M58.0 73.35h2.05v1.60h-2.05z" fill="#474c28"/>
<path d="M60.0 73.35h2.05v1.60h-2.05z" fill="#2d311f"/>
<path d="M62.0 73.35h2.05v1.60h-2.05z" fill="#3d4124"/>
<path d="M64.0 73.35h2.05v1.60h-2.05z" fill="#696f33"/>
<path d="M66.0 73.35h2.05v1.60h-2.05z" fill="#24271b"/>
<path d="M68.0 73.35h2.05v1.60h-2.05z" fill="#23251b"/>
<path d="M70.0 73.35h2.05v1.60h-2.05z" fill="#1d1e18"/>
<path d="M72.0 73.35h2.05v1.60h-2.05z" fill="#1a1d23"/>
<path d="M74.0 73.35h2.05v1.60h-2.05z" fill="#171819"/>
<path d="M76.0 73.35h2.05v1.60h-2.05z" fill="#414626"/>
<path d="M78.0 73.35h2.05v1.60h-2.05z" fill="#2d301f"/>
<path d="M80.0 73.35h2.05v1.60h-2.05z" fill="#171819"/>
<path d="M82.0 73.35h2.05v1.60h-2.05z" fill="#1b1d18"/>
<path d="M84.0 73.35h2.05v1.60h-2.05z" fill="#464b27"/>
<path d="M86.0 73.35h2.05v1.60h-2.05z" fill="#262e48"/>
<path d="M88.0 73.35h2.05v1.60h-2.05z" fill="#252b43"/>
<path d="M90.0 73.35h2.05v1.60h-2.05z" fill="#23273b"/>
<path d="M92.0 73.35h2.05v1.60h-2.05z" fill="#1d1f29"/>
<path d="M94.0 73.35h2.05v1.60h-2.05z" fill="#191b1e"/>
<path d="M96.0 73.35h2.05v1.60h-2.05z" fill="#1f222f"/>
<path d="M98.0 73.35h2.05v1.60h-2.05z" fill="#23283d"/>
<path d="M100.0 73.35h2.05v1.60h-2.05z" fill="#23283c"/>
<path d="M102.0 73.35h2.05v1.60h-2.05z" fill="#1a1c21"/>
<path d="M104.0 73.35h2.05v1.60h-2.05z" fill="#1c1f28"/>
<path d="M106.0 73.35h2.05v1.60h-2.05z" fill="#242b43"/>
<path d="M108.0 73.35h2.05v1.60h-2.05z" fill="#222739"/>
<path d="M110.0 73.35h2.05v1.60h-2.05z" fill="#23273b"/>
<path d="M112.0 73.35h2.05v1.60h-2.05z" fill="#23293e"/>
<path d="M114.0 73.35h2.05v1.60h-2.05z" fill="#252c45"/>
<path d="M116.0 73.35h2.05v1.60h-2.05z" fill="#1e212d"/>
<path d="M118.0 73.35h2.05v1.60h-2.05z" fill="#191b1e"/>
<path d="M120.0 73.35h2.05v1.60h-2.05z" fill="#202331"/>
<path d="M122.0 73.35h2.05v1.60h-2.05z" fill="#323520"/>
<path d="M124.0 73.35h2.05v1.60h-2.05z" fill="#23251b"/>
<path d="M126.0 73.35h2.05v1.60h-2.05z" fill="#1d202b"/>
<path d="M128.0 73.35h2.05v1.60h-2.05z" fill="#353922"/>
<path d="M130.0 73.35h2.05v1.60h-2.05z" fill="#2b2e1e"/>
<path d="M132.0 73.35h2.05v1.60h-2.05z" fill="#222638"/>
<path d="M134.0 73.35h2.05v1.60h-2.05z" fill="#3e4325"/>
<path d="M136.0 73.35h2.05v1.60h-2.05z" fill="#292c1d"/>
<path d="M44.0 74.90h2.05v1.60h-2.05z" fill="#3b4024"/>
<path d="M46.0 74.90h2.05v1.60h-2.05z" fill="#606730"/>
<path d="M48.0 74.90h2.05v1.60h-2.05z" fill="#5e642f"/>
<path d="M50.0 74.90h2.05v1.60h-2.05z" fill="#585e2d"/>
<path d="M52.0 74.90h2.05v1.60h-2.05z" fill="#585e2d"/>
<path d="M54.0 74.90h2.05v1.60h-2.05z" fill="#6d7334"/>
<path d="M56.0 74.90h2.05v1.60h-2.05z" fill="#363a22"/>
<path d="M58.0 74.90h2.05v1.60h-2.05z" fill="#3b3f24"/>
<path d="M60.0 74.90h2.05v1.60h-2.05z" fill="#383c23"/>
<path d="M62.0 74.90h2.05v1.60h-2.05z" fill="#494e28"/>
<path d="M64.0 74.90h2.05v1.60h-2.05z" fill="#484d28"/>
<path d="M66.0 74.90h2.05v1.60h-2.05z" fill="#5c632f"/>
<path d="M68.0 74.90h2.05v1.60h-2.05z" fill="#5a602e"/>
<path d="M70.0 74.90h2.05v1.60h-2.05z" fill="#545a2c"/>
<path d="M72.0 74.90h2.05v1.60h-2.05z" fill="#464b27"/>
<path d="M74.0 74.90h2.05v1.60h-2.05z" fill="#4b5029"/>
<path d="M76.0 74.90h2.05v1.60h-2.05z" fill="#6a7133"/>
<path d="M78.0 74.90h2.05v1.60h-2.05z" fill="#666c32"/>
<path d="M80.0 74.90h2.05v1.60h-2.05z" fill="#565c2d"/>
<path d="M82.0 74.90h2.05v1.60h-2.05z" fill="#4d532a"/>
<path d="M84.0 74.90h2.05v1.60h-2.05z" fill="#798038"/>
<path d="M86.0 74.90h2.05v1.60h-2.05z" fill="#212535"/>
<path d="M88.0 74.90h2.05v1.60h-2.05z" fill="#191b1e"/>
<path d="M90.0 74.90h2.05v1.60h-2.05z" fill="#181917"/>
<path d="M92.0 74.90h2.05v1.60h-2.05z" fill="#1f222f"/>
<path d="M94.0 74.90h2.05v1.60h-2.05z" fill="#18191b"/>
<path d="M96.0 74.90h2.05v1.60h-2.05z" fill="#23283d"/>
<path d="M98.0 74.90h2.05v1.60h-2.05z" fill="#161817"/>
<path d="M100.0 74.90h2.05v1.60h-2.05z" fill="#1c1e26"/>
<path d="M102.0 74.90h2.05v1.60h-2.05z" fill="#242b42"/>
<path d="M104.0 74.90h2.05v1.60h-2.05z" fill="#191a1e"/>
<path d="M106.0 74.90h2.05v1.60h-2.05z" fill="#22273a"/>
<path d="M108.0 74.90h2.05v1.60h-2.05z" fill="#1a1c18"/>
<path d="M110.0 74.90h2.05v1.60h-2.05z" fill="#222537"/>
<path d="M112.0 74.90h2.05v1.60h-2.05z" fill="#1e212d"/>
<path d="M114.0 74.90h2.05v1.60h-2.05z" fill="#1b1e25"/>
<path d="M116.0 74.90h2.05v1.60h-2.05z" fill="#2c2f1e"/>
<path d="M118.0 74.90h2.05v1.60h-2.05z" fill="#383d23"/>
<path d="M120.0 74.90h2.05v1.60h-2.05z" fill="#272a1d"/>
<path d="M122.0 74.90h2.05v1.60h-2.05z" fill="#414526"/>
<path d="M124.0 74.90h2.05v1.60h-2.05z" fill="#333721"/>
<path d="M126.0 74.90h2.05v1.60h-2.05z" fill="#373c22"/>
<path d="M128.0 74.90h2.05v1.60h-2.05z" fill="#1f2230"/>
<path d="M130.0 74.90h2.05v1.60h-2.05z" fill="#4a5029"/>
<path d="M132.0 74.90h2.05v1.60h-2.05z" fill="#343821"/>
<path d="M134.0 74.90h2.05v1.60h-2.05z" fill="#191a1e"/>
<path d="M136.0 74.90h2.05v1.60h-2.05z" fill="#353922"/>
<path d="M44.0 76.45h2.05v1.60h-2.05z" fill="#545a2c"/>
<path d="M46.0 76.45h2.05v1.60h-2.05z" fill="#282b1d"/>
<path d="M48.0 76.45h2.05v1.60h-2.05z" fill="#5f6530"/>
<path d="M50.0 76.45h2.05v1.60h-2.05z" fill="#3b4024"/>
<path d="M52.0 76.45h2.05v1.60h-2.05z" fill="#737a36"/>
<path d="M54.0 76.45h2.05v1.60h-2.05z" fill="#3c4024"/>
<path d="M56.0 76.45h2.05v1.60h-2.05z" fill="#4c5129"/>
<path d="M58.0 76.45h2.05v1.60h-2.05z" fill="#373b22"/>
<path d="M60.0 76.45h2.05v1.60h-2.05z" fill="#282a1d"/>
<path d="M62.0 76.45h2.05v1.60h-2.05z" fill="#545a2c"/>
<path d="M64.0 76.45h2.05v1.60h-2.05z" fill="#51562b"/>
<path d="M66.0 76.45h2.05v1.60h-2.05z" fill="#5f6530"/>
<path d="M68.0 76.45h2.05v1.60h-2.05z" fill="#50552b"/>
<path d="M70.0 76.45h2.05v1.60h-2.05z" fill="#333721"/>
<path d="M72.0 76.45h2.05v1.60h-2.05z" fill="#1c1e18"/>
<path d="M74.0 76.45h2.05v1.60h-2.05z" fill="#313520"/>
<path d="M76.0 76.45h2.05v1.60h-2.05z" fill="#313420"/>
<path d="M78.0 76.45h2.05v1.60h-2.05z" fill="#2e311f"/>
<path d="M80.0 76.45h2.05v1.60h-2.05z" fill="#4a4f29"/>
<path d="M82.0 76.45h2.05v1.60h-2.05z" fill="#454a27"/>
<path d="M84.0 76.45h2.05v1.60h-2.05z" fill="#393d23"/>
<path d="M86.0 76.45h2.05v1.60h-2.05z" fill="#22273a"/>
<path d="M88.0 76.45h2.05v1.60h-2.05z" fill="#23293e"/>
<path d="M90.0 76.45h2.05v1.60h-2.05z" fill="#222739"/>
<path d="M92.0 76.45h2.05v1.60h-2.05z" fill="#1f2230"/>
<path d="M94.0 76.45h2.05v1.60h-2.05z" fill="#1e212c"/>
<path d="M96.0 76.45h2.05v1.60h-2.05z" fill="#252c44"/>
<path d="M98.0 76.45h2.05v1.60h-2.05z" fill="#27304e"/>
<path d="M100.0 76.45h2.05v1.60h-2.05z" fill="#1b1d23"/>
<path d="M102.0 76.45h2.05v1.60h-2.05z" fill="#23273b"/>
<path d="M104.0 76.45h2.05v1.60h-2.05z" fill="#1d2029"/>
<path d="M106.0 76.45h2.05v1.60h-2.05z" fill="#283150"/>
<path d="M108.0 76.45h2.05v1.60h-2.05z" fill="#242a40"/>
<path d="M110.0 76.45h2.05v1.60h-2.05z" fill="#23283c"/>
<path d="M112.0 76.45h2.05v1.60h-2.05z" fill="#27304e"/>
<path d="M114.0 76.45h2.05v1.60h-2.05z" fill="#242b42"/>
<path d="M116.0 76.45h2.05v1.60h-2.05z" fill="#2c2f1e"/>
<path d="M118.0 76.45h2.05v1.60h-2.05z" fill="#333721"/>
<path d="M120.0 76.45h2.05v1.60h-2.05z" fill="#3e4225"/>
<path d="M122.0 76.45h2.05v1.60h-2.05z" fill="#1a1c20"/>
<path d="M124.0 76.45h2.05v1.60h-2.05z" fill="#1d202a"/>
<path d="M126.0 76.45h2.05v1.60h-2.05z" fill="#282a1d"/>
<path d="M128.0 76.45h2.05v1.60h-2.05z" fill="#303420"/>
<path d="M130.0 76.45h2.05v1.60h-2.05z" fill="#21231a"/>
<path d="M132.0 76.45h2.05v1.60h-2.05z" fill="#1d1f29"/>
<path d="M134.0 76.45h2.05v1.60h-2.05z" fill="#2d301f"/>
<path d="M136.0 76.45h2.05v1.60h-2.05z" fill="#2d311f"/>
<path d="M44.0 78.00h2.05v1.60h-2.05z" fill="#414626"/>
<path d="M46.0 78.00h2.05v1.60h-2.05z" fill="#51562b"/>
<path d="M48.0 78.00h2.05v1.60h-2.05z" fill="#5b622e"/>
<path d="M50.0 78.00h2.05v1.60h-2.05z" fill="#3f4425"/>
<path d="M52.0 78.00h2.05v1.60h-2.05z" fill="#25271c"/>
<path d="M54.0 78.00h2.05v1.60h-2.05z" fill="#51572b"/>
<path d="M56.0 78.00h2.05v1.60h-2.05z" fill="#545a2c"/>
<path d="M58.0 78.00h2.05v1.60h-2.05z" fill="#4b5029"/>
<path d="M60.0 78.00h2.05v1.60h-2.05z" fill="#5e642f"/>
<path d="M62.0 78.00h2.05v1.60h-2.05z" fill="#3f4325"/>
<path d="M64.0 78.00h2.05v1.60h-2.05z" fill="#494e28"/>
<path d="M66.0 78.00h2.05v1.60h-2.05z" fill="#444927"/>
<path d="M68.0 78.00h2.05v1.60h-2.05z" fill="#565c2d"/>
<path d="M70.0 78.00h2.05v1.60h-2.05z" fill="#6f7535"/>
<path d="M72.0 78.00h2.05v1.60h-2.05z" fill="#464b27"/>
<path d="M74.0 78.00h2.05v1.60h-2.05z" fill="#7a8139"/>
<path d="M76.0 78.00h2.05v1.60h-2.05z" fill="#6d7434"/>
<path d="M78.0 78.00h2.05v1.60h-2.05z" fill="#5b622e"/>
<path d="M80.0 78.00h2.05v1.60h-2.05z" fill="#575d2d"/>
<path d="M82.0 78.00h2.05v1.60h-2.05z" fill="#737a36"/>
<path d="M84.0 78.00h2.05v1.60h-2.05z" fill="#474c28"/>
<path d="M86.0 78.00h2.05v1.60h-2.05z" fill="#1d202b"/>
<path d="M88.0 78.00h2.05v1.60h-2.05z" fill="#23273b"/>
<path d="M90.0 78.00h2.05v1.60h-2.05z" fill="#191b20"/>
<path d="M92.0 78.00h2.05v1.60h-2.05z" fill="#1d1f19"/>
<path d="M94.0 78.00h2.05v1.60h-2.05z" fill="#191b1f"/>
<path d="M96.0 78.00h2.05v1.60h-2.05z" fill="#1a1c21"/>
<path d="M98.0 78.00h2.05v1.60h-2.05z" fill="#1e212c"/>
<path d="M100.0 78.00h2.05v1.60h-2.05z" fill="#1b1e25"/>
<path d="M102.0 78.00h2.05v1.60h-2.05z" fill="#24293f"/>
<path d="M104.0 78.00h2.05v1.60h-2.05z" fill="#171816"/>
<path d="M106.0 78.00h2.05v1.60h-2.05z" fill="#1f2330"/>
<path d="M108.0 78.00h2.05v1.60h-2.05z" fill="#23283b"/>
<path d="M110.0 78.00h2.05v1.60h-2.05z" fill="#222537"/>
<path d="M112.0 78.00h2.05v1.60h-2.05z" fill="#222638"/>
<path d="M114.0 78.00h2.05v1.60h-2.05z" fill="#171819"/>
<path d="M116.0 78.00h2.05v1.60h-2.05z" fill="#555b2c"/>
<path d="M118.0 78.00h2.05v1.60h-2.05z" fill="#24261b"/>
<path d="M120.0 78.00h2.05v1.60h-2.05z" fill="#52582b"/>
<path d="M122.0 78.00h2.05v1.60h-2.05z" fill="#51572b"/>
<path d="M124.0 78.00h2.05v1.60h-2.05z" fill="#343821"/>
<path d="M126.0 78.00h2.05v1.60h-2.05z" fill="#21231a"/>
<path d="M128.0 78.00h2.05v1.60h-2.05z" fill="#313420"/>
<path d="M130.0 78.00h2.05v1.60h-2.05z" fill="#333721"/>
<path d="M132.0 78.00h2.05v1.60h-2.05z" fill="#464c27"/>
<path d="M134.0 78.00h2.05v1.60h-2.05z" fill="#393d23"/>
<path d="M136.0 78.00h2.05v1.60h-2.05z" fill="#161716"/>
<path d="M44.0 79.55h2.05v1.60h-2.05z" fill="#272a1c"/>
<path d="M46.0 79.55h2.05v1.60h-2.05z" fill="#595f2e"/>
<path d="M48.0 79.55h2.05v1.60h-2.05z" fill="#2e311f"/>
<path d="M50.0 79.55h2.05v1.60h-2.05z" fill="#393d23"/>
<path d="M52.0 79.55h2.05v1.60h-2.05z" fill="#353922"/>
<path d="M54.0 79.55h2.05v1.60h-2.05z" fill="#3c4024"/>
<path d="M56.0 79.55h2.05v1.60h-2.05z" fill="#626931"/>
<path d="M58.0 79.55h2.05v1.60h-2.05z" fill="#585e2d"/>
<path d="M60.0 79.55h2.05v1.60h-2.05z" fill="#52582b"/>
<path d="M62.0 79.55h2.05v1.60h-2.05z" fill="#4d522a"/>
<path d="M64.0 79.55h2.05v1.60h-2.05z" fill="#27291c"/>
<path d="M66.0 79.55h2.05v1.60h-2.05z" fill="#3c4024"/>
<path d="M68.0 79.55h2.05v1.60h-2.05z" fill="#3b4024"/>
<path d="M70.0 79.55h2.05v1.60h-2.05z" fill="#333621"/>
<path d="M72.0 79.55h2.05v1.60h-2.05z" fill="#50562b"/>
<path d="M74.0 79.55h2.05v1.60h-2.05z" fill="#383c23"/>
<path d="M76.0 79.55h2.05v1.60h-2.05z" fill="#383c23"/>
<path d="M78.0 79.55h2.05v1.60h-2.05z" fill="#313520"/>
<path d="M80.0 79.55h2.05v1.60h-2.05z" fill="#1c1d18"/>
<path d="M82.0 79.55h2.05v1.60h-2.05z" fill="#52582b"/>
<path d="M84.0 79.55h2.05v1.60h-2.05z" fill="#636a31"/>
<path d="M86.0 79.55h2.05v1.60h-2.05z" fill="#1d2029"/>
<path d="M88.0 79.55h2.05v1.60h-2.05z" fill="#23283c"/>
<path d="M90.0 79.55h2.05v1.60h-2.05z" fill="#283252"/>
<path d="M92.0 79.55h2.05v1.60h-2.05z" fill="#1d2029"/>
<path d="M94.0 79.55h2.05v1.60h-2.05z" fill="#161716"/>
<path d="M96.0 79.55h2.05v1.60h-2.05z" fill="#1c1f27"/>
<path d="M98.0 79.55h2.05v1.60h-2.05z" fill="#18191b"/>
<path d="M100.0 79.55h2.05v1.60h-2.05z" fill="#1c1d18"/>
<path d="M102.0 79.55h2.05v1.60h-2.05z" fill="#171818"/>
<path d="M104.0 79.55h2.05v1.60h-2.05z" fill="#212535"/>
<path d="M106.0 79.55h2.05v1.60h-2.05z" fill="#171819"/>
<path d="M108.0 79.55h2.05v1.60h-2.05z" fill="#191b1e"/>
<path d="M110.0 79.55h2.05v1.60h-2.05z" fill="#252b43"/>
<path d="M112.0 79.55h2.05v1.60h-2.05z" fill="#212434"/>
<path d="M114.0 79.55h2.05v1.60h-2.05z" fill="#242b42"/>
<path d="M116.0 79.55h2.05v1.60h-2.05z" fill="#393e23"/>
<path d="M118.0 79.55h2.05v1.60h-2.05z" fill="#474c28"/>
<path d="M120.0 79.55h2.05v1.60h-2.05z" fill="#25281c"/>
<path d="M122.0 79.55h2.05v1.60h-2.05z" fill="#18191b"/>
<path d="M124.0 79.55h2.05v1.60h-2.05z" fill="#555b2c"/>
<path d="M126.0 79.55h2.05v1.60h-2.05z" fill="#434826"/>
<path d="M128.0 79.55h2.05v1.60h-2.05z" fill="#5a602e"/>
<path d="M130.0 79.55h2.05v1.60h-2.05z" fill="#20221a"/>
<path d="M132.0 79.55h2.05v1.60h-2.05z" fill="#50562b"/>
<path d="M134.0 79.55h2.05v1.60h-2.05z" fill="#686e33"/>
<path d="M136.0 79.55h2.05v1.60h-2.05z" fill="#666d32"/>
<path d="M44.0 81.10h2.05v1.60h-2.05z" fill="#464b27"/>
<path d="M46.0 81.10h2.05v1.60h-2.05z" fill="#3d4224"/>
<path d="M48.0 81.10h2.05v1.60h-2.05z" fill="#545a2c"/>
<path d="M50.0 81.10h2.05v1.60h-2.05z" fill="#555b2c"/>
<path d="M52.0 81.10h2.05v1.60h-2.05z" fill="#424726"/>
<path d="M54.0 81.10h2.05v1.60h-2.05z" fill="#24271b"/>
<path d="M56.0 81.10h2.05v1.60h-2.05z" fill="#4f552a"/>
<path d="M58.0 81.10h2.05v1.60h-2.05z" fill="#373b22"/>
<path d="M60.0 81.10h2.05v1.60h-2.05z" fill="#4d522a"/>
<path d="M62.0 81.10h2.05v1.60h-2.05z" fill="#464b27"/>
<path d="M64.0 81.10h2.05v1.60h-2.05z" fill="#636a31"/>
<path d="M66.0 81.10h2.05v1.60h-2.05z" fill="#585e2d"/>
<path d="M68.0 81.10h2.05v1.60h-2.05z" fill="#373c22"/>
<path d="M70.0 81.10h2.05v1.60h-2.05z" fill="#474c28"/>
<path d="M72.0 81.10h2.05v1.60h-2.05z" fill="#666d32"/>
<path d="M74.0 81.10h2.05v1.60h-2.05z" fill="#363a22"/>
<path d="M76.0 81.10h2.05v1.60h-2.05z" fill="#494e28"/>
<path d="M78.0 81.10h2.05v1.60h-2.05z" fill="#595f2e"/>
<path d="M80.0 81.10h2.05v1.60h-2.05z" fill="#5a612e"/>
<path d="M82.0 81.10h2.05v1.60h-2.05z" fill="#4b5029"/>
<path d="M84.0 81.10h2.05v1.60h-2.05z" fill="#25281c"/>
<path d="M86.0 81.10h2.05v1.60h-2.05z" fill="#252b44"/>
<path d="M88.0 81.10h2.05v1.60h-2.05z" fill="#1e212d"/>
<path d="M90.0 81.10h2.05v1.60h-2.05z" fill="#1d202b"/>
<path d="M92.0 81.10h2.05v1.60h-2.05z" fill="#2c2f1e"/>
<path d="M94.0 81.10h2.05v1.60h-2.05z" fill="#24293f"/>
<path d="M96.0 81.10h2.05v1.60h-2.05z" fill="#181a1d"/>
<path d="M98.0 81.10h2.05v1.60h-2.05z" fill="#1b1d24"/>
<path d="M100.0 81.10h2.05v1.60h-2.05z" fill="#262e49"/>
<path d="M102.0 81.10h2.05v1.60h-2.05z" fill="#23293e"/>
<path d="M104.0 81.10h2.05v1.60h-2.05z" fill="#1f222f"/>
<path d="M106.0 81.10h2.05v1.60h-2.05z" fill="#23273a"/>
<path d="M108.0 81.10h2.05v1.60h-2.05z" fill="#212535"/>
<path d="M110.0 81.10h2.05v1.60h-2.05z" fill="#1d2029"/>
<path d="M112.0 81.10h2.05v1.60h-2.05z" fill="#23293e"/>
<path d="M114.0 81.10h2.05v1.60h-2.05z" fill="#1d2029"/>
<path d="M116.0 81.10h2.05v1.60h-2.05z" fill="#282b1d"/>
<path d="M118.0 81.10h2.05v1.60h-2.05z" fill="#2a2d1e"/>
<path d="M120.0 81.10h2.05v1.60h-2.05z" fill="#404525"/>
<path d="M122.0 81.10h2.05v1.60h-2.05z" fill="#292c1d"/>
<path d="M124.0 81.10h2.05v1.60h-2.05z" fill="#3b4024"/>
<path d="M126.0 81.10h2.05v1.60h-2.05z" fill="#565c2d"/>
<path d="M128.0 81.10h2.05v1.60h-2.05z" fill="#363a22"/>
<path d="M130.0 81.10h2.05v1.60h-2.05z" fill="#333621"/>
<path d="M132.0 81.10h2.05v1.60h-2.05z" fill="#444927"/>
<path d="M134.0 81.10h2.05v1.60h-2.05z" fill="#2e311f"/>
<path d="M136.0 81.10h2.05v1.60h-2.05z" fill="#4b5029"/>
<path d="M44.0 82.65h2.05v1.60h-2.05z" fill="#3f4325"/>
<path d="M46.0 82.65h2.05v1.60h-2.05z" fill="#272a1c"/>
<path d="M48.0 82.65h2.05v1.60h-2.05z" fill="#21231a"/>
<path d="M50.0 82.65h2.05v1.60h-2.05z" fill="#565c2d"/>
<path d="M52.0 82.65h2.05v1.60h-2.05z" fill="#20221a"/>
<path d="M54.0 82.65h2.05v1.60h-2.05z" fill="#555b2c"/>
<path d="M56.0 82.65h2.05v1.60h-2.05z" fill="#3f4425"/>
<path d="M58.0 82.65h2.05v1.60h-2.05z" fill="#4f552a"/>
<path d="M60.0 82.65h2.05v1.60h-2.05z" fill="#1d1f19"/>
<path d="M62.0 82.65h2.05v1.60h-2.05z" fill="#4a4f29"/>
<path d="M64.0 82.65h2.05v1.60h-2.05z" fill="#4f552a"/>
<path d="M66.0 82.65h2.05v1.60h-2.05z" fill="#303320"/>
<path d="M68.0 82.65h2.05v1.60h-2.05z" fill="#2f331f"/>
<path d="M70.0 82.65h2.05v1.60h-2.05z" fill="#666c32"/>
<path d="M72.0 82.65h2.05v1.60h-2.05z" fill="#363a22"/>
<path d="M74.0 82.65h2.05v1.60h-2.05z" fill="#292c1d"/>
<path d="M76.0 82.65h2.05v1.60h-2.05z" fill="#25271c"/>
<path d="M78.0 82.65h2.05v1.60h-2.05z" fill="#3b3f24"/>
<path d="M80.0 82.65h2.05v1.60h-2.05z" fill="#393d23"/>
<path d="M82.0 82.65h2.05v1.60h-2.05z" fill="#363a22"/>
<path d="M84.0 82.65h2.05v1.60h-2.05z" fill="#545a2c"/>
<path d="M86.0 82.65h2.05v1.60h-2.05z" fill="#252c44"/>
<path d="M88.0 82.65h2.05v1.60h-2.05z" fill="#23273a"/>
<path d="M90.0 82.65h2.05v1.60h-2.05z" fill="#1d2029"/>
<path d="M92.0 82.65h2.05v1.60h-2.05z" fill="#272f4d"/>
<path d="M94.0 82.65h2.05v1.60h-2.05z" fill="#202331"/>
<path d="M96.0 82.65h2.05v1.60h-2.05z" fill="#1a1c22"/>
<path d="M98.0 82.65h2.05v1.60h-2.05z" fill="#283151"/>
<path d="M100.0 82.65h2.05v1.60h-2.05z" fill="#27304e"/>
<path d="M102.0 82.65h2.05v1.60h-2.05z" fill="#27304d"/>
<path d="M104.0 82.65h2.05v1.60h-2.05z" fill="#293558"/>
<path d="M106.0 82.65h2.05v1.60h-2.05z" fill="#23273b"/>
<path d="M108.0 82.65h2.05v1.60h-2.05z" fill="#293558"/>
<path d="M110.0 82.65h2.05v1.60h-2.05z" fill="#22273a"/>
<path d="M112.0 82.65h2.05v1.60h-2.05z" fill="#1d2029"/>
<path d="M114.0 82.65h2.05v1.60h-2.05z" fill="#283355"/>
<path d="M116.0 82.65h2.05v1.60h-2.05z" fill="#313520"/>
<path d="M118.0 82.65h2.05v1.60h-2.05z" fill="#181a1c"/>
<path d="M120.0 82.65h2.05v1.60h-2.05z" fill="#474c28"/>
<path d="M122.0 82.65h2.05v1.60h-2.05z" fill="#282b1d"/>
<path d="M124.0 82.65h2.05v1.60h-2.05z" fill="#323621"/>
<path d="M126.0 82.65h2.05v1.60h-2.05z" fill="#393d23"/>
<path d="M128.0 82.65h2.05v1.60h-2.05z" fill="#424726"/>
<path d="M130.0 82.65h2.05v1.60h-2.05z" fill="#303420"/>
<path d="M132.0 82.65h2.05v1.60h-2.05z" fill="#383c23"/>
<path d="M134.0 82.65h2.05v1.60h-2.05z" fill="#2c2f1e"/>
<path d="M136.0 82.65h2.05v1.60h-2.05z" fill="#3a3e23"/>
<path d="M44.0 84.20h2.05v1.60h-2.05z" fill="#181917"/>
<path d="M46.0 84.20h2.05v1.60h-2.05z" fill="#222639"/>
<path d="M48.0 84.20h2.05v1.60h-2.05z" fill="#191b1e"/>
<path d="M50.0 84.20h2.05v1.60h-2.05z" fill="#3f4325"/>
<path d="M52.0 84.20h2.05v1.60h-2.05z" fill="#181a17"/>
<path d="M54.0 84.20h2.05v1.60h-2.05z" fill="#1e212d"/>
<path d="M56.0 84.20h2.05v1.60h-2.05z" fill="#1c1e18"/>
<path d="M58.0 84.20h2.05v1.60h-2.05z" fill="#1c1f28"/>
<path d="M60.0 84.20h2.05v1.60h-2.05z" fill="#212434"/>
<path d="M62.0 84.20h2.05v1.60h-2.05z" fill="#1b1d23"/>
<path d="M64.0 84.20h2.05v1.60h-2.05z" fill="#26291c"/>
<path d="M66.0 84.20h2.05v1.60h-2.05z" fill="#1f2119"/>
<path d="M68.0 84.20h2.05v1.60h-2.05z" fill="#161717"/>
<path d="M70.0 84.20h2.05v1.60h-2.05z" fill="#1c1e27"/>
<path d="M72.0 84.20h2.05v1.60h-2.05z" fill="#1d2029"/>
<path d="M74.0 84.20h2.05v1.60h-2.05z" fill="#333721"/>
<path d="M76.0 84.20h2.05v1.60h-2.05z" fill="#1c1d18"/>
<path d="M78.0 84.20h2.05v1.60h-2.05z" fill="#1c1f27"/>
<path d="M80.0 84.20h2.05v1.60h-2.05z" fill="#23273b"/>
<path d="M82.0 84.20h2.05v1.60h-2.05z" fill="#1f222f"/>
<path d="M84.0 84.20h2.05v1.60h-2.05z" fill="#4a4f29"/>
<path d="M86.0 84.20h2.05v1.60h-2.05z" fill="#27304d"/>
<path d="M88.0 84.20h2.05v1.60h-2.05z" fill="#242a40"/>
<path d="M90.0 84.20h2.05v1.60h-2.05z" fill="#23283d"/>
<path d="M92.0 84.20h2.05v1.60h-2.05z" fill="#242a41"/>
<path d="M94.0 84.20h2.05v1.60h-2.05z" fill="#242b43"/>
<path d="M96.0 84.20h2.05v1.60h-2.05z" fill="#283150"/>
<path d="M98.0 84.20h2.05v1.60h-2.05z" fill="#272f4c"/>
<path d="M100.0 84.20h2.05v1.60h-2.05z" fill="#1b1d24"/>
<path d="M102.0 84.20h2.05v1.60h-2.05z" fill="#262e49"/>
<path d="M104.0 84.20h2.05v1.60h-2.05z" fill="#202433"/>
<path d="M106.0 84.20h2.05v1.60h-2.05z" fill="#283355"/>
<path d="M108.0 84.20h2.05v1.60h-2.05z" fill="#242b43"/>
<path d="M110.0 84.20h2.05v1.60h-2.05z" fill="#23283c"/>
<path d="M112.0 84.20h2.05v1.60h-2.05z" fill="#1f2230"/>
<path d="M114.0 84.20h2.05v1.60h-2.05z" fill="#27304d"/>
<path d="M116.0 84.20h2.05v1.60h-2.05z" fill="#454a27"/>
<path d="M118.0 84.20h2.05v1.60h-2.05z" fill="#414526"/>
<path d="M120.0 84.20h2.05v1.60h-2.05z" fill="#2a2d1d"/>
<path d="M122.0 84.20h2.05v1.60h-2.05z" fill="#434726"/>
<path d="M124.0 84.20h2.05v1.60h-2.05z" fill="#26291c"/>
<path d="M126.0 84.20h2.05v1.60h-2.05z" fill="#292b1d"/>
<path d="M128.0 84.20h2.05v1.60h-2.05z" fill="#393d23"/>
<path d="M130.0 84.20h2.05v1.60h-2.05z" fill="#1d2029"/>
<path d="M132.0 84.20h2.05v1.60h-2.05z" fill="#373b22"/>
<path d="M134.0 84.20h2.05v1.60h-2.05z" fill="#24271b"/>
<path d="M136.0 84.20h2.05v1.60h-2.05z" fill="#1a1c18"/>
<path d="M44.0 85.75h2.05v1.60h-2.05z" fill="#585e2d"/>
<path d="M46.0 85.75h2.05v1.60h-2.05z" fill="#404525"/>
<path d="M48.0 85.75h2.05v1.60h-2.05z" fill="#646b31"/>
<path d="M50.0 85.75h2.05v1.60h-2.05z" fill="#313520"/>
<path d="M52.0 85.75h2.05v1.60h-2.05z" fill="#2e311f"/>
<path d="M54.0 85.75h2.05v1.60h-2.05z" fill="#6b7234"/>
<path d="M56.0 85.75h2.05v1.60h-2.05z" fill="#50562b"/>
<path d="M58.0 85.75h2.05v1.60h-2.05z" fill="#5d632f"/>
<path d="M60.0 85.75h2.05v1.60h-2.05z" fill="#383c23"/>
<path d="M62.0 85.75h2.05v1.60h-2.05z" fill="#595f2e"/>
<path d="M64.0 85.75h2.05v1.60h-2.05z" fill="#4e532a"/>
<path d="M66.0 85.75h2.05v1.60h-2.05z" fill="#555c2c"/>
<path d="M68.0 85.75h2.05v1.60h-2.05z" fill="#494e28"/>
<path d="M70.0 85.75h2.05v1.60h-2.05z" fill="#636931"/>
<path d="M72.0 85.75h2.05v1.60h-2.05z" fill="#3c4024"/>
<path d="M74.0 85.75h2.05v1.60h-2.05z" fill="#353922"/>
<path d="M76.0 85.75h2.05v1.60h-2.05z" fill="#2a2d1e"/>
<path d="M78.0 85.75h2.05v1.60h-2.05z" fill="#626831"/>
<path d="M80.0 85.75h2.05v1.60h-2.05z" fill="#3a3e23"/>
<path d="M82.0 85.75h2.05v1.60h-2.05z" fill="#343721"/>
<path d="M84.0 85.75h2.05v1.60h-2.05z" fill="#363a22"/>
<path d="M86.0 85.75h2.05v1.60h-2.05z" fill="#1b1d24"/>
<path d="M88.0 85.75h2.05v1.60h-2.05z" fill="#202433"/>
<path d="M90.0 85.75h2.05v1.60h-2.05z" fill="#1a1c21"/>
<path d="M92.0 85.75h2.05v1.60h-2.05z" fill="#1c1f27"/>
<path d="M94.0 85.75h2.05v1.60h-2.05z" fill="#1c1e26"/>
<path d="M96.0 85.75h2.05v1.60h-2.05z" fill="#1e212d"/>
<path d="M98.0 85.75h2.05v1.60h-2.05z" fill="#18191b"/>
<path d="M100.0 85.75h2.05v1.60h-2.05z" fill="#1b1d24"/>
<path d="M102.0 85.75h2.05v1.60h-2.05z" fill="#171819"/>
<path d="M104.0 85.75h2.05v1.60h-2.05z" fill="#161717"/>
<path d="M106.0 85.75h2.05v1.60h-2.05z" fill="#171816"/>
<path d="M108.0 85.75h2.05v1.60h-2.05z" fill="#242a40"/>
<path d="M110.0 85.75h2.05v1.60h-2.05z" fill="#1b1e25"/>
<path d="M112.0 85.75h2.05v1.60h-2.05z" fill="#1d202a"/>
<path d="M114.0 85.75h2.05v1.60h-2.05z" fill="#20221a"/>
<path d="M116.0 85.75h2.05v1.60h-2.05z" fill="#23251b"/>
<path d="M118.0 85.75h2.05v1.60h-2.05z" fill="#353922"/>
<path d="M120.0 85.75h2.05v1.60h-2.05z" fill="#3d4224"/>
<path d="M122.0 85.75h2.05v1.60h-2.05z" fill="#3c4124"/>
<path d="M124.0 85.75h2.05v1.60h-2.05z" fill="#575d2d"/>
<path d="M126.0 85.75h2.05v1.60h-2.05z" fill="#3a3f23"/>
<path d="M128.0 85.75h2.05v1.60h-2.05z" fill="#575d2d"/>
<path d="M130.0 85.75h2.05v1.60h-2.05z" fill="#25271c"/>
<path d="M132.0 85.75h2.05v1.60h-2.05z" fill="#1e1f19"/>
<path d="M134.0 85.75h2.05v1.60h-2.05z" fill="#5d632f"/>
<path d="M136.0 85.75h2.05v1.60h-2.05z" fill="#4c5129"/>
<path d="M44.0 87.30h2.05v1.60h-2.05z" fill="#414626"/>
<path d="M46.0 87.30h2.05v1.60h-2.05z" fill="#484e28"/>
<path d="M48.0 87.30h2.05v1.60h-2.05z" fill="#26281c"/>
<path d="M50.0 87.30h2.05v1.60h-2.05z" fill="#52572b"/>
<path d="M52.0 87.30h2.05v1.60h-2.05z" fill="#343821"/>
<path d="M54.0 87.30h2.05v1.60h-2.05z" fill="#52582b"/>
<path d="M56.0 87.30h2.05v1.60h-2.05z" fill="#414526"/>
<path d="M58.0 87.30h2.05v1.60h-2.05z" fill="#161716"/>
<path d="M60.0 87.30h2.05v1.60h-2.05z" fill="#24271b"/>
<path d="M62.0 87.30h2.05v1.60h-2.05z" fill="#555b2c"/>
<path d="M64.0 87.30h2.05v1.60h-2.05z" fill="#3c4124"/>
<path d="M66.0 87.30h2.05v1.60h-2.05z" fill="#373b22"/>
<path d="M68.0 87.30h2.05v1.60h-2.05z" fill="#444927"/>
<path d="M70.0 87.30h2.05v1.60h-2.05z" fill="#363a22"/>
<path d="M72.0 87.30h2.05v1.60h-2.05z" fill="#343821"/>
<path d="M74.0 87.30h2.05v1.60h-2.05z" fill="#414626"/>
<path d="M76.0 87.30h2.05v1.60h-2.05z" fill="#424626"/>
<path d="M78.0 87.30h2.05v1.60h-2.05z" fill="#5f6530"/>
<path d="M80.0 87.30h2.05v1.60h-2.05z" fill="#404425"/>
<path d="M82.0 87.30h2.05v1.60h-2.05z" fill="#676e32"/>
<path d="M84.0 87.30h2.05v1.60h-2.05z" fill="#656c32"/>
<path d="M86.0 87.30h2.05v1.60h-2.05z" fill="#404525"/>
<path d="M88.0 87.30h2.05v1.60h-2.05z" fill="#333721"/>
<path d="M90.0 87.30h2.05v1.60h-2.05z" fill="#20221a"/>
<path d="M92.0 87.30h2.05v1.60h-2.05z" fill="#20221a"/>
<path d="M94.0 87.30h2.05v1.60h-2.05z" fill="#1a1b17"/>
<path d="M96.0 87.30h2.05v1.60h-2.05z" fill="#191a1e"/>
<path d="M98.0 87.30h2.05v1.60h-2.05z" fill="#1b1d18"/>
<path d="M100.0 87.30h2.05v1.60h-2.05z" fill="#181a1c"/>
<path d="M102.0 87.30h2.05v1.60h-2.05z" fill="#3f4425"/>
<path d="M104.0 87.30h2.05v1.60h-2.05z" fill="#282b1d"/>
<path d="M106.0 87.30h2.05v1.60h-2.05z" fill="#171818"/>
<path d="M108.0 87.30h2.05v1.60h-2.05z" fill="#202434"/>
<path d="M110.0 87.30h2.05v1.60h-2.05z" fill="#1c1d18"/>
<path d="M112.0 87.30h2.05v1.60h-2.05z" fill="#171818"/>
<path d="M114.0 87.30h2.05v1.60h-2.05z" fill="#1b1d24"/>
<path d="M116.0 87.30h2.05v1.60h-2.05z" fill="#1b1e25"/>
<path d="M118.0 87.30h2.05v1.60h-2.05z" fill="#222739"/>
<path d="M120.0 87.30h2.05v1.60h-2.05z" fill="#292c1d"/>
<path d="M122.0 87.30h2.05v1.60h-2.05z" fill="#1b1d18"/>
<path d="M124.0 87.30h2.05v1.60h-2.05z" fill="#52572b"/>
<path d="M126.0 87.30h2.05v1.60h-2.05z" fill="#1c1e18"/>
<path d="M128.0 87.30h2.05v1.60h-2.05z" fill="#1a1b17"/>
<path d="M130.0 87.30h2.05v1.60h-2.05z" fill="#3b3f24"/>
<path d="M132.0 87.30h2.05v1.60h-2.05z" fill="#20221a"/>
<path d="M134.0 87.30h2.05v1.60h-2.05z" fill="#20221a"/>
<path d="M136.0 87.30h2.05v1.60h-2.05z" fill="#161717"/>
<path d="M44.0 88.85h2.05v1.60h-2.05z" fill="#4e542a"/>
<path d="M46.0 88.85h2.05v1.60h-2.05z" fill="#444927"/>
<path d="M48.0 88.85h2.05v1.60h-2.05z" fill="#52582b"/>
<path d="M50.0 88.85h2.05v1.60h-2.05z" fill="#292b1d"/>
<path d="M52.0 88.85h2.05v1.60h-2.05z" fill="#313420"/>
<path d="M54.0 88.85h2.05v1.60h-2.05z" fill="#1d1f19"/>
<path d="M56.0 88.85h2.05v1.60h-2.05z" fill="#444827"/>
<path d="M58.0 88.85h2.05v1.60h-2.05z" fill="#171819"/>
<path d="M60.0 88.85h2.05v1.60h-2.05z" fill="#3c4024"/>
<path d="M62.0 88.85h2.05v1.60h-2.05z" fill="#464b27"/>
<path d="M64.0 88.85h2.05v1.60h-2.05z" fill="#4c5229"/>
<path d="M66.0 88.85h2.05v1.60h-2.05z" fill="#1c1e18"/>
<path d="M68.0 88.85h2.05v1.60h-2.05z" fill="#464b27"/>
<path d="M70.0 88.85h2.05v1.60h-2.05z" fill="#21231a"/>
<path d="M72.0 88.85h2.05v1.60h-2.05z" fill="#20221a"/>
<path d="M74.0 88.85h2.05v1.60h-2.05z" fill="#171818"/>
<path d="M76.0 88.85h2.05v1.60h-2.05z" fill="#474c28"/>
<path d="M78.0 88.85h2.05v1.60h-2.05z" fill="#51572b"/>
<path d="M80.0 88.85h2.05v1.60h-2.05z" fill="#23261b"/>
<path d="M82.0 88.85h2.05v1.60h-2.05z" fill="#20221a"/>
<path d="M84.0 88.85h2.05v1.60h-2.05z" fill="#292c1d"/>
<path d="M86.0 88.85h2.05v1.60h-2.05z" fill="#424626"/>
<path d="M88.0 88.85h2.05v1.60h-2.05z" fill="#23251b"/>
<path d="M90.0 88.85h2.05v1.60h-2.05z" fill="#1c1f28"/>
<path d="M92.0 88.85h2.05v1.60h-2.05z" fill="#23283d"/>
<path d="M94.0 88.85h2.05v1.60h-2.05z" fill="#1d202a"/>
<path d="M96.0 88.85h2.05v1.60h-2.05z" fill="#27291c"/>
<path d="M98.0 88.85h2.05v1.60h-2.05z" fill="#353922"/>
<path d="M100.0 88.85h2.05v1.60h-2.05z" fill="#1a1d23"/>
<path d="M102.0 88.85h2.05v1.60h-2.05z" fill="#1d202a"/>
<path d="M104.0 88.85h2.05v1.60h-2.05z" fill="#1c1f27"/>
<path d="M106.0 88.85h2.05v1.60h-2.05z" fill="#23293e"/>
<path d="M108.0 88.85h2.05v1.60h-2.05z" fill="#21231a"/>
<path d="M110.0 88.85h2.05v1.60h-2.05z" fill="#202332"/>
<path d="M112.0 88.85h2.05v1.60h-2.05z" fill="#24261b"/>
<path d="M114.0 88.85h2.05v1.60h-2.05z" fill="#23283c"/>
<path d="M116.0 88.85h2.05v1.60h-2.05z" fill="#212535"/>
<path d="M118.0 88.85h2.05v1.60h-2.05z" fill="#171818"/>
<path d="M120.0 88.85h2.05v1.60h-2.05z" fill="#1e212c"/>
<path d="M122.0 88.85h2.05v1.60h-2.05z" fill="#1e2019"/>
<path d="M124.0 88.85h2.05v1.60h-2.05z" fill="#191a1d"/>
<path d="M126.0 88.85h2.05v1.60h-2.05z" fill="#202434"/>
<path d="M128.0 88.85h2.05v1.60h-2.05z" fill="#1b1c18"/>
<path d="M130.0 88.85h2.05v1.60h-2.05z" fill="#1f2119"/>
<path d="M132.0 88.85h2.05v1.60h-2.05z" fill="#23293e"/>
<path d="M134.0 88.85h2.05v1.60h-2.05z" fill="#343821"/>
<path d="M136.0 88.85h2.05v1.60h-2.05z" fill="#181917"/>
<path d="M44.0 90.40h2.05v1.60h-2.05z" fill="#272a1d"/>
<path d="M46.0 90.40h2.05v1.60h-2.05z" fill="#3f4425"/>
<path d="M48.0 90.40h2.05v1.60h-2.05z" fill="#464b27"/>
<path d="M50.0 90.40h2.05v1.60h-2.05z" fill="#656c32"/>
<path d="M52.0 90.40h2.05v1.60h-2.05z" fill="#303320"/>
<path d="M54.0 90.40h2.05v1.60h-2.05z" fill="#3c4024"/>
<path d="M56.0 90.40h2.05v1.60h-2.05z" fill="#24261b"/>
<path d="M58.0 90.40h2.05v1.60h-2.05z" fill="#484e28"/>
<path d="M60.0 90.40h2.05v1.60h-2.05z" fill="#545a2c"/>
<path d="M62.0 90.40h2.05v1.60h-2.05z" fill="#2b2e1e"/>
<path d="M64.0 90.40h2.05v1.60h-2.05z" fill="#424626"/>
<path d="M66.0 90.40h2.05v1.60h-2.05z" fill="#585e2d"/>
<path d="M68.0 90.40h2.05v1.60h-2.05z" fill="#727836"/>
<path d="M70.0 90.40h2.05v1.60h-2.05z" fill="#5c622f"/>
<path d="M72.0 90.40h2.05v1.60h-2.05z" fill="#474c28"/>
<path d="M74.0 90.40h2.05v1.60h-2.05z" fill="#363a22"/>
<path d="M76.0 90.40h2.05v1.60h-2.05z" fill="#3b3f24"/>
<path d="M78.0 90.40h2.05v1.60h-2.05z" fill="#404525"/>
<path d="M80.0 90.40h2.05v1.60h-2.05z" fill="#50562b"/>
<path d="M82.0 90.40h2.05v1.60h-2.05z" fill="#4c5229"/>
<path d="M84.0 90.40h2.05v1.60h-2.05z" fill="#737a36"/>
<path d="M86.0 90.40h2.05v1.60h-2.05z" fill="#1c1e26"/>
<path d="M88.0 90.40h2.05v1.60h-2.05z" fill="#23283d"/>
<path d="M90.0 90.40h2.05v1.60h-2.05z" fill="#1f2119"/>
<path d="M92.0 90.40h2.05v1.60h-2.05z" fill="#171819"/>
<path d="M94.0 90.40h2.05v1.60h-2.05z" fill="#1d1f29"/>
<path d="M96.0 90.40h2.05v1.60h-2.05z" fill="#222638"/>
<path d="M98.0 90.40h2.05v1.60h-2.05z" fill="#252d46"/>
<path d="M100.0 90.40h2.05v1.60h-2.05z" fill="#23283c"/>
<path d="M102.0 90.40h2.05v1.60h-2.05z" fill="#17191a"/>
<path d="M104.0 90.40h2.05v1.60h-2.05z" fill="#222739"/>
<path d="M106.0 90.40h2.05v1.60h-2.05z" fill="#242a40"/>
<path d="M108.0 90.40h2.05v1.60h-2.05z" fill="#1c1f27"/>
<path d="M110.0 90.40h2.05v1.60h-2.05z" fill="#1c1e27"/>
<path d="M112.0 90.40h2.05v1.60h-2.05z" fill="#191b20"/>
<path d="M114.0 90.40h2.05v1.60h-2.05z" fill="#191b1f"/>
<path d="M116.0 90.40h2.05v1.60h-2.05z" fill="#676d32"/>
<path d="M118.0 90.40h2.05v1.60h-2.05z" fill="#373b22"/>
<path d="M120.0 90.40h2.05v1.60h-2.05z" fill="#5d632f"/>
<path d="M122.0 90.40h2.05v1.60h-2.05z" fill="#343821"/>
<path d="M124.0 90.40h2.05v1.60h-2.05z" fill="#565c2d"/>
<path d="M126.0 90.40h2.05v1.60h-2.05z" fill="#4b5129"/>
<path d="M128.0 90.40h2.05v1.60h-2.05z" fill="#4d522a"/>
<path d="M130.0 90.40h2.05v1.60h-2.05z" fill="#5c632f"/>
<path d="M132.0 90.40h2.05v1.60h-2.05z" fill="#474d28"/>
<path d="M134.0 90.40h2.05v1.60h-2.05z" fill="#606630"/>
<path d="M136.0 90.40h2.05v1.60h-2.05z" fill="#5a602e"/>
<path d="M44.0 91.95h2.05v1.60h-2.05z" fill="#3a3e23"/>
<path d="M46.0 91.95h2.05v1.60h-2.05z" fill="#363a22"/>
<path d="M48.0 91.95h2.05v1.60h-2.05z" fill="#3b3f24"/>
<path d="M50.0 91.95h2.05v1.60h-2.05z" fill="#414626"/>
<path d="M52.0 91.95h2.05v1.60h-2.05z" fill="#444927"/>
<path d="M54.0 91.95h2.05v1.60h-2.05z" fill="#8f953f"/>
<path d="M56.0 91.95h2.05v1.60h-2.05z" fill="#52572b"/>
<path d="M58.0 91.95h2.05v1.60h-2.05z" fill="#545a2c"/>
<path d="M60.0 91.95h2.05v1.60h-2.05z" fill="#343821"/>
<path d="M62.0 91.95h2.05v1.60h-2.05z" fill="#373b22"/>
<path d="M64.0 91.95h2.05v1.60h-2.05z" fill="#3f4325"/>
<path d="M66.0 91.95h2.05v1.60h-2.05z" fill="#494e28"/>
<path d="M68.0 91.95h2.05v1.60h-2.05z" fill="#303420"/>
<path d="M70.0 91.95h2.05v1.60h-2.05z" fill="#686f33"/>
<path d="M72.0 91.95h2.05v1.60h-2.05z" fill="#3a3e23"/>
<path d="M74.0 91.95h2.05v1.60h-2.05z" fill="#5c622f"/>
<path d="M76.0 91.95h2.05v1.60h-2.05z" fill="#161817"/>
<path d="M78.0 91.95h2.05v1.60h-2.05z" fill="#454a27"/>
<path d="M80.0 91.95h2.05v1.60h-2.05z" fill="#4a5029"/>
<path d="M82.0 91.95h2.05v1.60h-2.05z" fill="#494e28"/>
<path d="M84.0 91.95h2.05v1.60h-2.05z" fill="#51572b"/>
<path d="M86.0 91.95h2.05v1.60h-2.05z" fill="#1e212e"/>
<path d="M88.0 91.95h2.05v1.60h-2.05z" fill="#1f2230"/>
<path d="M90.0 91.95h2.05v1.60h-2.05z" fill="#272f4c"/>
<path d="M92.0 91.95h2.05v1.60h-2.05z" fill="#23283d"/>
<path d="M94.0 91.95h2.05v1.60h-2.05z" fill="#283251"/>
<path d="M96.0 91.95h2.05v1.60h-2.05z" fill="#1c1f27"/>
<path d="M98.0 91.95h2.05v1.60h-2.05z" fill="#1e212d"/>
<path d="M100.0 91.95h2.05v1.60h-2.05z" fill="#212537"/>
<path d="M102.0 91.95h2.05v1.60h-2.05z" fill="#24293f"/>
<path d="M104.0 91.95h2.05v1.60h-2.05z" fill="#23283c"/>
<path d="M106.0 91.95h2.05v1.60h-2.05z" fill="#1c1e18"/>
<path d="M108.0 91.95h2.05v1.60h-2.05z" fill="#1a1b17"/>
<path d="M110.0 91.95h2.05v1.60h-2.05z" fill="#212434"/>
<path d="M112.0 91.95h2.05v1.60h-2.05z" fill="#18191b"/>
<path d="M114.0 91.95h2.05v1.60h-2.05z" fill="#262d48"/>
<path d="M116.0 91.95h2.05v1.60h-2.05z" fill="#171817"/>
<path d="M118.0 91.95h2.05v1.60h-2.05z" fill="#363a22"/>
<path d="M120.0 91.95h2.05v1.60h-2.05z" fill="#2e311f"/>
<path d="M122.0 91.95h2.05v1.60h-2.05z" fill="#343821"/>
<path d="M124.0 91.95h2.05v1.60h-2.05z" fill="#434826"/>
<path d="M126.0 91.95h2.05v1.60h-2.05z" fill="#888e3d"/>
<path d="M128.0 91.95h2.05v1.60h-2.05z" fill="#323621"/>
<path d="M130.0 91.95h2.05v1.60h-2.05z" fill="#414526"/>
<path d="M132.0 91.95h2.05v1.60h-2.05z" fill="#454a27"/>
<path d="M134.0 91.95h2.05v1.60h-2.05z" fill="#3f4425"/>
<path d="M136.0 91.95h2.05v1.60h-2.05z" fill="#52582b"/>
<path d="M44.0 93.50h2.05v1.60h-2.05z" fill="#2c2f1e"/>
<path d="M46.0 93.50h2.05v1.60h-2.05z" fill="#484d28"/>
<path d="M48.0 93.50h2.05v1.60h-2.05z" fill="#404425"/>
<path d="M50.0 93.50h2.05v1.60h-2.05z" fill="#4c5229"/>
<path d="M52.0 93.50h2.05v1.60h-2.05z" fill="#26281c"/>
<path d="M54.0 93.50h2.05v1.60h-2.05z" fill="#21231a"/>
<path d="M56.0 93.50h2.05v1.60h-2.05z" fill="#161717"/>
<path d="M58.0 93.50h2.05v1.60h-2.05z" fill="#4f552a"/>
<path d="M60.0 93.50h2.05v1.60h-2.05z" fill="#494e28"/>
<path d="M62.0 93.50h2.05v1.60h-2.05z" fill="#464c27"/>
<path d="M64.0 93.50h2.05v1.60h-2.05z" fill="#171818"/>
<path d="M66.0 93.50h2.05v1.60h-2.05z" fill="#3e4225"/>
<path d="M68.0 93.50h2.05v1.60h-2.05z" fill="#363a22"/>
<path d="M70.0 93.50h2.05v1.60h-2.05z" fill="#282b1d"/>
<path d="M72.0 93.50h2.05v1.60h-2.05z" fill="#333621"/>
<path d="M74.0 93.50h2.05v1.60h-2.05z" fill="#53592c"/>
<path d="M76.0 93.50h2.05v1.60h-2.05z" fill="#50562b"/>
<path d="M78.0 93.50h2.05v1.60h-2.05z" fill="#454a27"/>
<path d="M80.0 93.50h2.05v1.60h-2.05z" fill="#4f552a"/>
<path d="M82.0 93.50h2.05v1.60h-2.05z" fill="#393d23"/>
<path d="M84.0 93.50h2.05v1.60h-2.05z" fill="#464c27"/>
<path d="M86.0 93.50h2.05v1.60h-2.05z" fill="#191a1e"/>
<path d="M88.0 93.50h2.05v1.60h-2.05z" fill="#181917"/>
<path d="M90.0 93.50h2.05v1.60h-2.05z" fill="#191b20"/>
<path d="M92.0 93.50h2.05v1.60h-2.05z" fill="#1a1c21"/>
<path d="M94.0 93.50h2.05v1.60h-2.05z" fill="#1a1c21"/>
<path d="M96.0 93.50h2.05v1.60h-2.05z" fill="#1d202b"/>
<path d="M98.0 93.50h2.05v1.60h-2.05z" fill="#3b4024"/>
<path d="M100.0 93.50h2.05v1.60h-2.05z" fill="#171816"/>
<path d="M102.0 93.50h2.05v1.60h-2.05z" fill="#161716"/>
<path d="M104.0 93.50h2.05v1.60h-2.05z" fill="#3c4124"/>
<path d="M106.0 93.50h2.05v1.60h-2.05z" fill="#2a2d1e"/>
<path d="M108.0 93.50h2.05v1.60h-2.05z" fill="#23273a"/>
<path d="M110.0 93.50h2.05v1.60h-2.05z" fill="#1b1d18"/>
<path d="M112.0 93.50h2.05v1.60h-2.05z" fill="#1e2019"/>
<path d="M114.0 93.50h2.05v1.60h-2.05z" fill="#343821"/>
<path d="M116.0 93.50h2.05v1.60h-2.05z" fill="#757c37"/>
<path d="M118.0 93.50h2.05v1.60h-2.05z" fill="#686e33"/>
<path d="M120.0 93.50h2.05v1.60h-2.05z" fill="#3e4225"/>
<path d="M122.0 93.50h2.05v1.60h-2.05z" fill="#444927"/>
<path d="M124.0 93.50h2.05v1.60h-2.05z" fill="#5c622f"/>
<path d="M126.0 93.50h2.05v1.60h-2.05z" fill="#616830"/>
<path d="M128.0 93.50h2.05v1.60h-2.05z" fill="#414626"/>
<path d="M130.0 93.50h2.05v1.60h-2.05z" fill="#4e532a"/>
<path d="M132.0 93.50h2.05v1.60h-2.05z" fill="#4d532a"/>
<path d="M134.0 93.50h2.05v1.60h-2.05z" fill="#575d2d"/>
<path d="M136.0 93.50h2.05v1.60h-2.05z" fill="#5d642f"/>
<path d="M44.0 95.05h2.05v1.60h-2.05z" fill="#26281c"/>
<path d="M46.0 95.05h2.05v1.60h-2.05z" fill="#595f2e"/>
<path d="M48.0 95.05h2.05v1.60h-2.05z" fill="#616830"/>
<path d="M50.0 95.05h2.05v1.60h-2.05z" fill="#3d4224"/>
<path d="M52.0 95.05h2.05v1.60h-2.05z" fill="#545a2c"/>
<path d="M54.0 95.05h2.05v1.60h-2.05z" fill="#484d28"/>
<path d="M56.0 95.05h2.05v1.60h-2.05z" fill="#4c5229"/>
<path d="M58.0 95.05h2.05v1.60h-2.05z" fill="#494e28"/>
<path d="M60.0 95.05h2.05v1.60h-2.05z" fill="#303320"/>
<path d="M62.0 95.05h2.05v1.60h-2.05z" fill="#4b5029"/>
<path d="M64.0 95.05h2.05v1.60h-2.05z" fill="#53592c"/>
<path d="M66.0 95.05h2.05v1.60h-2.05z" fill="#2d301f"/>
<path d="M68.0 95.05h2.05v1.60h-2.05z" fill="#6a7133"/>
<path d="M70.0 95.05h2.05v1.60h-2.05z" fill="#6d7434"/>
<path d="M72.0 95.05h2.05v1.60h-2.05z" fill="#676d32"/>
<path d="M74.0 95.05h2.05v1.60h-2.05z" fill="#6b7134"/>
<path d="M76.0 95.05h2.05v1.60h-2.05z" fill="#4e542a"/>
<path d="M78.0 95.05h2.05v1.60h-2.05z" fill="#393d23"/>
<path d="M80.0 95.05h2.05v1.60h-2.05z" fill="#333721"/>
<path d="M82.0 95.05h2.05v1.60h-2.05z" fill="#2f321f"/>
<path d="M84.0 95.05h2.05v1.60h-2.05z" fill="#424626"/>
<path d="M86.0 95.05h2.05v1.60h-2.05z" fill="#1d2029"/>
<path d="M88.0 95.05h2.05v1.60h-2.05z" fill="#181a1c"/>
<path d="M90.0 95.05h2.05v1.60h-2.05z" fill="#252d47"/>
<path d="M92.0 95.05h2.05v1.60h-2.05z" fill="#323520"/>
<path d="M94.0 95.05h2.05v1.60h-2.05z" fill="#313420"/>
<path d="M96.0 95.05h2.05v1.60h-2.05z" fill="#1d2029"/>
<path d="M98.0 95.05h2.05v1.60h-2.05z" fill="#181a1c"/>
<path d="M100.0 95.05h2.05v1.60h-2.05z" fill="#1a1b20"/>
<path d="M102.0 95.05h2.05v1.60h-2.05z" fill="#1b1d24"/>
<path d="M104.0 95.05h2.05v1.60h-2.05z" fill="#1e212d"/>
<path d="M106.0 95.05h2.05v1.60h-2.05z" fill="#1d202b"/>
<path d="M108.0 95.05h2.05v1.60h-2.05z" fill="#222638"/>
<path d="M110.0 95.05h2.05v1.60h-2.05z" fill="#1b1e26"/>
<path d="M112.0 95.05h2.05v1.60h-2.05z" fill="#1d2029"/>
<path d="M114.0 95.05h2.05v1.60h-2.05z" fill="#1b1d23"/>
<path d="M116.0 95.05h2.05v1.60h-2.05z" fill="#18191a"/>
<path d="M118.0 95.05h2.05v1.60h-2.05z" fill="#24261b"/>
<path d="M120.0 95.05h2.05v1.60h-2.05z" fill="#24271b"/>
<path d="M122.0 95.05h2.05v1.60h-2.05z" fill="#303320"/>
<path d="M124.0 95.05h2.05v1.60h-2.05z" fill="#191b1e"/>
<path d="M126.0 95.05h2.05v1.60h-2.05z" fill="#2c2f1e"/>
<path d="M128.0 95.05h2.05v1.60h-2.05z" fill="#383c23"/>
<path d="M130.0 95.05h2.05v1.60h-2.05z" fill="#303320"/>
<path d="M132.0 95.05h2.05v1.60h-2.05z" fill="#1b1d18"/>
<path d="M134.0 95.05h2.05v1.60h-2.05z" fill="#191a17"/>
<path d="M136.0 95.05h2.05v1.60h-2.05z" fill="#1e2019"/>
<path d="M44.0 96.60h2.05v1.60h-2.05z" fill="#707735"/>
<path d="M46.0 96.60h2.05v1.60h-2.05z" fill="#4a4f29"/>
<path d="M48.0 96.60h2.05v1.60h-2.05z" fill="#404525"/>
<path d="M50.0 96.60h2.05v1.60h-2.05z" fill="#545a2c"/>
<path d="M52.0 96.60h2.05v1.60h-2.05z" fill="#51572b"/>
<path d="M54.0 96.60h2.05v1.60h-2.05z" fill="#3b3f24"/>
<path d="M56.0 96.60h2.05v1.60h-2.05z" fill="#3e4325"/>
<path d="M58.0 96.60h2.05v1.60h-2.05z" fill="#4b5029"/>
<path d="M60.0 96.60h2.05v1.60h-2.05z" fill="#5b622e"/>
<path d="M62.0 96.60h2.05v1.60h-2.05z" fill="#353922"/>
<path d="M64.0 96.60h2.05v1.60h-2.05z" fill="#393d23"/>
<path d="M66.0 96.60h2.05v1.60h-2.05z" fill="#575d2d"/>
<path d="M68.0 96.60h2.05v1.60h-2.05z" fill="#343821"/>
<path d="M70.0 96.60h2.05v1.60h-2.05z" fill="#4f552a"/>
<path d="M72.0 96.60h2.05v1.60h-2.05z" fill="#545a2c"/>
<path d="M74.0 96.60h2.05v1.60h-2.05z" fill="#4b5029"/>
<path d="M76.0 96.60h2.05v1.60h-2.05z" fill="#393d23"/>
<path d="M78.0 96.60h2.05v1.60h-2.05z" fill="#4c5129"/>
<path d="M80.0 96.60h2.05v1.60h-2.05z" fill="#464b27"/>
<path d="M82.0 96.60h2.05v1.60h-2.05z" fill="#53592c"/>
<path d="M84.0 96.60h2.05v1.60h-2.05z" fill="#3c4124"/>
<path d="M86.0 96.60h2.05v1.60h-2.05z" fill="#26291c"/>
<path d="M88.0 96.60h2.05v1.60h-2.05z" fill="#23273a"/>
<path d="M90.0 96.60h2.05v1.60h-2.05z" fill="#191b20"/>
<path d="M92.0 96.60h2.05v1.60h-2.05z" fill="#181a1c"/>
<path d="M94.0 96.60h2.05v1.60h-2.05z" fill="#23261b"/>
<path d="M96.0 96.60h2.05v1.60h-2.05z" fill="#1c1f28"/>
<path d="M98.0 96.60h2.05v1.60h-2.05z" fill="#1b1c18"/>
<path d="M100.0 96.60h2.05v1.60h-2.05z" fill="#1c1e27"/>
<path d="M102.0 96.60h2.05v1.60h-2.05z" fill="#1f2019"/>
<path d="M104.0 96.60h2.05v1.60h-2.05z" fill="#343721"/>
<path d="M106.0 96.60h2.05v1.60h-2.05z" fill="#1b1d24"/>
<path d="M108.0 96.60h2.05v1.60h-2.05z" fill="#181a17"/>
<path d="M110.0 96.60h2.05v1.60h-2.05z" fill="#1e212e"/>
<path d="M112.0 96.60h2.05v1.60h-2.05z" fill="#24261b"/>
<path d="M114.0 96.60h2.05v1.60h-2.05z" fill="#292b1d"/>
<path d="M116.0 96.60h2.05v1.60h-2.05z" fill="#323621"/>
<path d="M118.0 96.60h2.05v1.60h-2.05z" fill="#1a1b17"/>
<path d="M120.0 96.60h2.05v1.60h-2.05z" fill="#3a3e23"/>
<path d="M122.0 96.60h2.05v1.60h-2.05z" fill="#494e28"/>
<path d="M124.0 96.60h2.05v1.60h-2.05z" fill="#474d28"/>
<path d="M126.0 96.60h2.05v1.60h-2.05z" fill="#424726"/>
<path d="M128.0 96.60h2.05v1.60h-2.05z" fill="#191b20"/>
<path d="M130.0 96.60h2.05v1.60h-2.05z" fill="#23251b"/>
<path d="M132.0 96.60h2.05v1.60h-2.05z" fill="#4e542a"/>
<path d="M134.0 96.60h2.05v1.60h-2.05z" fill="#181917"/>
<path d="M136.0 96.60h2.05v1.60h-2.05z" fill="#484d28"/>
<path d="M44.0 98.15h2.05v1.60h-2.05z" fill="#707735"/>
<path d="M46.0 98.15h2.05v1.60h-2.05z" fill="#787f38"/>
<path d="M48.0 98.15h2.05v1.60h-2.05z" fill="#565c2d"/>
<path d="M50.0 98.15h2.05v1.60h-2.05z" fill="#444927"/>
<path d="M52.0 98.15h2.05v1.60h-2.05z" fill="#5b612e"/>
<path d="M54.0 98.15h2.05v1.60h-2.05z" fill="#595f2e"/>
<path d="M56.0 98.15h2.05v1.60h-2.05z" fill="#5d632f"/>
<path d="M58.0 98.15h2.05v1.60h-2.05z" fill="#6e7535"/>
<path d="M60.0 98.15h2.05v1.60h-2.05z" fill="#5a602e"/>
<path d="M62.0 98.15h2.05v1.60h-2.05z" fill="#626931"/>
<path d="M64.0 98.15h2.05v1.60h-2.05z" fill="#686e33"/>
<path d="M66.0 98.15h2.05v1.60h-2.05z" fill="#5e642f"/>
<path d="M68.0 98.15h2.05v1.60h-2.05z" fill="#909640"/>
<path d="M70.0 98.15h2.05v1.60h-2.05z" fill="#686f33"/>
<path d="M72.0 98.15h2.05v1.60h-2.05z" fill="#606630"/>
<path d="M74.0 98.15h2.05v1.60h-2.05z" fill="#595f2e"/>
<path d="M76.0 98.15h2.05v1.60h-2.05z" fill="#50552b"/>
<path d="M78.0 98.15h2.05v1.60h-2.05z" fill="#80863a"/>
<path d="M80.0 98.15h2.05v1.60h-2.05z" fill="#616830"/>
<path d="M82.0 98.15h2.05v1.60h-2.05z" fill="#474c28"/>
<path d="M84.0 98.15h2.05v1.60h-2.05z" fill="#51572b"/>
<path d="M86.0 98.15h2.05v1.60h-2.05z" fill="#1c1e18"/>
<path d="M88.0 98.15h2.05v1.60h-2.05z" fill="#161716"/>
<path d="M90.0 98.15h2.05v1.60h-2.05z" fill="#363a22"/>
<path d="M92.0 98.15h2.05v1.60h-2.05z" fill="#1b1d24"/>
<path d="M94.0 98.15h2.05v1.60h-2.05z" fill="#2a2c1d"/>
<path d="M96.0 98.15h2.05v1.60h-2.05z" fill="#22241b"/>
<path d="M98.0 98.15h2.05v1.60h-2.05z" fill="#1b1d24"/>
<path d="M100.0 98.15h2.05v1.60h-2.05z" fill="#20221a"/>
<path d="M102.0 98.15h2.05v1.60h-2.05z" fill="#1d1f19"/>
<path d="M104.0 98.15h2.05v1.60h-2.05z" fill="#2a2d1d"/>
<path d="M106.0 98.15h2.05v1.60h-2.05z" fill="#161716"/>
<path d="M108.0 98.15h2.05v1.60h-2.05z" fill="#26281c"/>
<path d="M110.0 98.15h2.05v1.60h-2.05z" fill="#1e212d"/>
<path d="M112.0 98.15h2.05v1.60h-2.05z" fill="#1a1c22"/>
<path d="M114.0 98.15h2.05v1.60h-2.05z" fill="#303320"/>
<path d="M116.0 98.15h2.05v1.60h-2.05z" fill="#565c2d"/>
<path d="M118.0 98.15h2.05v1.60h-2.05z" fill="#414626"/>
<path d="M120.0 98.15h2.05v1.60h-2.05z" fill="#353922"/>
<path d="M122.0 98.15h2.05v1.60h-2.05z" fill="#575d2d"/>
<path d="M124.0 98.15h2.05v1.60h-2.05z" fill="#161716"/>
<path d="M126.0 98.15h2.05v1.60h-2.05z" fill="#313420"/>
<path d="M128.0 98.15h2.05v1.60h-2.05z" fill="#4e542a"/>
<path d="M130.0 98.15h2.05v1.60h-2.05z" fill="#4e542a"/>
<path d="M132.0 98.15h2.05v1.60h-2.05z" fill="#2c2f1e"/>
<path d="M134.0 98.15h2.05v1.60h-2.05z" fill="#1a1b17"/>
<path d="M136.0 98.15h2.05v1.60h-2.05z" fill="#606630"/>
<path d="M44.0 99.70h2.05v1.60h-2.05z" fill="#22241b"/>
<path d="M46.0 99.70h2.05v1.60h-2.05z" fill="#363a22"/>
<path d="M48.0 99.70h2.05v1.60h-2.05z" fill="#474c28"/>
<path d="M50.0 99.70h2.05v1.60h-2.05z" fill="#1d202b"/>
<path d="M52.0 99.70h2.05v1.60h-2.05z" fill="#4b5029"/>
<path d="M54.0 99.70h2.05v1.60h-2.05z" fill="#444927"/>
<path d="M56.0 99.70h2.05v1.60h-2.05z" fill="#1a1c22"/>
<path d="M58.0 99.70h2.05v1.60h-2.05z" fill="#444927"/>
<path d="M60.0 99.70h2.05v1.60h-2.05z" fill="#181a1c"/>
<path d="M62.0 99.70h2.05v1.60h-2.05z" fill="#4c5129"/>
<path d="M64.0 99.70h2.05v1.60h-2.05z" fill="#3d4124"/>
<path d="M66.0 99.70h2.05v1.60h-2.05z" fill="#646b31"/>
<path d="M68.0 99.70h2.05v1.60h-2.05z" fill="#282b1d"/>
<path d="M70.0 99.70h2.05v1.60h-2.05z" fill="#353922"/>
<path d="M72.0 99.70h2.05v1.60h-2.05z" fill="#4a4f29"/>
<path d="M74.0 99.70h2.05v1.60h-2.05z" fill="#272a1d"/>
<path d="M76.0 99.70h2.05v1.60h-2.05z" fill="#26291c"/>
<path d="M78.0 99.70h2.05v1.60h-2.05z" fill="#2d301f"/>
<path d="M80.0 99.70h2.05v1.60h-2.05z" fill="#333721"/>
<path d="M82.0 99.70h2.05v1.60h-2.05z" fill="#1e2019"/>
<path d="M84.0 99.70h2.05v1.60h-2.05z" fill="#3f4325"/>
<path d="M86.0 99.70h2.05v1.60h-2.05z" fill="#181917"/>
<path d="M88.0 99.70h2.05v1.60h-2.05z" fill="#181a1d"/>
<path d="M90.0 99.70h2.05v1.60h-2.05z" fill="#313420"/>
<path d="M92.0 99.70h2.05v1.60h-2.05z" fill="#1b1d24"/>
<path d="M94.0 99.70h2.05v1.60h-2.05z" fill="#282b1d"/>
<path d="M96.0 99.70h2.05v1.60h-2.05z" fill="#1d1f29"/>
<path d="M98.0 99.70h2.05v1.60h-2.05z" fill="#1d1e18"/>
<path d="M100.0 99.70h2.05v1.60h-2.05z" fill="#24293f"/>
<path d="M102.0 99.70h2.05v1.60h-2.05z" fill="#18191b"/>
<path d="M104.0 99.70h2.05v1.60h-2.05z" fill="#1a1c22"/>
<path d="M106.0 99.70h2.05v1.60h-2.05z" fill="#1c1f28"/>
<path d="M108.0 99.70h2.05v1.60h-2.05z" fill="#1d202a"/>
<path d="M110.0 99.70h2.05v1.60h-2.05z" fill="#1b1e25"/>
<path d="M112.0 99.70h2.05v1.60h-2.05z" fill="#1e212c"/>
<path d="M114.0 99.70h2.05v1.60h-2.05z" fill="#242b42"/>
<path d="M116.0 99.70h2.05v1.60h-2.05z" fill="#191b1f"/>
<path d="M118.0 99.70h2.05v1.60h-2.05z" fill="#191b1e"/>
<path d="M120.0 99.70h2.05v1.60h-2.05z" fill="#191a1e"/>
<path d="M122.0 99.70h2.05v1.60h-2.05z" fill="#1c1f28"/>
<path d="M124.0 99.70h2.05v1.60h-2.05z" fill="#161717"/>
<path d="M126.0 99.70h2.05v1.60h-2.05z" fill="#292b1d"/>
<path d="M128.0 99.70h2.05v1.60h-2.05z" fill="#171819"/>
<path d="M130.0 99.70h2.05v1.60h-2.05z" fill="#191a1d"/>
<path d="M132.0 99.70h2.05v1.60h-2.05z" fill="#353922"/>
<path d="M134.0 99.70h2.05v1.60h-2.05z" fill="#2d301f"/>
<path d="M136.0 99.70h2.05v1.60h-2.05z" fill="#2c2f1e"/>
<path d="M44.0 101.25h2.05v1.60h-2.05z" fill="#414626"/>
<path d="M46.0 101.25h2.05v1.60h-2.05z" fill="#454a27"/>
<path d="M48.0 101.25h2.05v1.60h-2.05z" fill="#606630"/>
<path d="M50.0 101.25h2.05v1.60h-2.05z" fill="#3d4124"/>
<path d="M52.0 101.25h2.05v1.60h-2.05z" fill="#454a27"/>
<path d="M54.0 101.25h2.05v1.60h-2.05z" fill="#4f552a"/>
<path d="M56.0 101.25h2.05v1.60h-2.05z" fill="#4f552a"/>
<path d="M58.0 101.25h2.05v1.60h-2.05z" fill="#424726"/>
<path d="M60.0 101.25h2.05v1.60h-2.05z" fill="#5d632f"/>
<path d="M62.0 101.25h2.05v1.60h-2.05z" fill="#444927"/>
<path d="M64.0 101.25h2.05v1.60h-2.05z" fill="#565c2d"/>
<path d="M66.0 101.25h2.05v1.60h-2.05z" fill="#5f6530"/>
<path d="M68.0 101.25h2.05v1.60h-2.05z" fill="#555b2c"/>
<path d="M70.0 101.25h2.05v1.60h-2.05z" fill="#575d2d"/>
<path d="M72.0 101.25h2.05v1.60h-2.05z" fill="#303420"/>
<path d="M74.0 101.25h2.05v1.60h-2.05z" fill="#2d301f"/>
<path d="M76.0 101.25h2.05v1.60h-2.05z" fill="#3b4024"/>
<path d="M78.0 101.25h2.05v1.60h-2.05z" fill="#51572b"/>
<path d="M80.0 101.25h2.05v1.60h-2.05z" fill="#696f33"/>
<path d="M82.0 101.25h2.05v1.60h-2.05z" fill="#2f321f"/>
<path d="M84.0 101.25h2.05v1.60h-2.05z" fill="#4e532a"/>
<path d="M86.0 101.25h2.05v1.60h-2.05z" fill="#1a1c22"/>
<path d="M88.0 101.25h2.05v1.60h-2.05z" fill="#191b1f"/>
<path d="M90.0 101.25h2.05v1.60h-2.05z" fill="#161717"/>
<path d="M92.0 101.25h2.05v1.60h-2.05z" fill="#292c1d"/>
<path d="M94.0 101.25h2.05v1.60h-2.05z" fill="#1f2119"/>
<path d="M96.0 101.25h2.05v1.60h-2.05z" fill="#343721"/>
<path d="M98.0 101.25h2.05v1.60h-2.05z" fill="#1b1d24"/>
<path d="M100.0 101.25h2.05v1.60h-2.05z" fill="#2e311f"/>
<path d="M102.0 101.25h2.05v1.60h-2.05z" fill="#2e321f"/>
<path d="M104.0 101.25h2.05v1.60h-2.05z" fill="#1c1e18"/>
<path d="M106.0 101.25h2.05v1.60h-2.05z" fill="#25271c"/>
<path d="M108.0 101.25h2.05v1.60h-2.05z" fill="#181a1c"/>
<path d="M110.0 101.25h2.05v1.60h-2.05z" fill="#1c1e26"/>
<path d="M112.0 101.25h2.05v1.60h-2.05z" fill="#171819"/>
<path d="M114.0 101.25h2.05v1.60h-2.05z" fill="#191a1e"/>
<path d="M116.0 101.25h2.05v1.60h-2.05z" fill="#636931"/>
<path d="M118.0 101.25h2.05v1.60h-2.05z" fill="#1c1e18"/>
<path d="M120.0 101.25h2.05v1.60h-2.05z" fill="#484d28"/>
<path d="M122.0 101.25h2.05v1.60h-2.05z" fill="#2b2d1e"/>
<path d="M124.0 101.25h2.05v1.60h-2.05z" fill="#2d301f"/>
<path d="M126.0 101.25h2.05v1.60h-2.05z" fill="#363a22"/>
<path d="M128.0 101.25h2.05v1.60h-2.05z" fill="#161716"/>
<path d="M130.0 101.25h2.05v1.60h-2.05z" fill="#393e23"/>
<path d="M132.0 101.25h2.05v1.60h-2.05z" fill="#2e311f"/>
<path d="M134.0 101.25h2.05v1.60h-2.05z" fill="#1b1d24"/>
<path d="M136.0 101.25h2.05v1.60h-2.05z" fill="#333721"/>
<path d="M44.0 102.80h2.05v1.60h-2.05z" fill="#494e28"/>
<path d="M46.0 102.80h2.05v1.60h-2.05z" fill="#616830"/>
<path d="M48.0 102.80h2.05v1.60h-2.05z" fill="#373c22"/>
<path d="M50.0 102.80h2.05v1.60h-2.05z" fill="#4a4f29"/>
<path d="M52.0 102.80h2.05v1.60h-2.05z" fill="#4f542a"/>
<path d="M54.0 102.80h2.05v1.60h-2.05z" fill="#2d311f"/>
<path d="M56.0 102.80h2.05v1.60h-2.05z" fill="#585e2d"/>
<path d="M58.0 102.80h2.05v1.60h-2.05z" fill="#22241a"/>
<path d="M60.0 102.80h2.05v1.60h-2.05z" fill="#25271c"/>
<path d="M62.0 102.80h2.05v1.60h-2.05z" fill="#4a4f29"/>
<path d="M64.0 102.80h2.05v1.60h-2.05z" fill="#292c1d"/>
<path d="M66.0 102.80h2.05v1.60h-2.05z" fill="#3d4224"/>
<path d="M68.0 102.80h2.05v1.60h-2.05z" fill="#1e1f19"/>
<path d="M70.0 102.80h2.05v1.60h-2.05z" fill="#414626"/>
<path d="M72.0 102.80h2.05v1.60h-2.05z" fill="#282b1d"/>
<path d="M74.0 102.80h2.05v1.60h-2.05z" fill="#464c27"/>
<path d="M76.0 102.80h2.05v1.60h-2.05z" fill="#20221a"/>
<path d="M78.0 102.80h2.05v1.60h-2.05z" fill="#494e28"/>
<path d="M80.0 102.80h2.05v1.60h-2.05z" fill="#3a3f23"/>
<path d="M82.0 102.80h2.05v1.60h-2.05z" fill="#414626"/>
<path d="M84.0 102.80h2.05v1.60h-2.05z" fill="#3e4325"/>
<path d="M86.0 102.80h2.05v1.60h-2.05z" fill="#161717"/>
<path d="M88.0 102.80h2.05v1.60h-2.05z" fill="#202332"/>
<path d="M90.0 102.80h2.05v1.60h-2.05z" fill="#252b43"/>
<path d="M92.0 102.80h2.05v1.60h-2.05z" fill="#171819"/>
<path d="M94.0 102.80h2.05v1.60h-2.05z" fill="#1d202b"/>
<path d="M96.0 102.80h2.05v1.60h-2.05z" fill="#1a1c22"/>
<path d="M98.0 102.80h2.05v1.60h-2.05z" fill="#1b1d18"/>
<path d="M100.0 102.80h2.05v1.60h-2.05z" fill="#23283c"/>
<path d="M102.0 102.80h2.05v1.60h-2.05z" fill="#1c1f28"/>
<path d="M104.0 102.80h2.05v1.60h-2.05z" fill="#1b1d25"/>
<path d="M106.0 102.80h2.05v1.60h-2.05z" fill="#1e212d"/>
<path d="M108.0 102.80h2.05v1.60h-2.05z" fill="#191a17"/>
<path d="M110.0 102.80h2.05v1.60h-2.05z" fill="#181a1c"/>
<path d="M112.0 102.80h2.05v1.60h-2.05z" fill="#1d1f29"/>
<path d="M114.0 102.80h2.05v1.60h-2.05z" fill="#1e212c"/>
<path d="M116.0 102.80h2.05v1.60h-2.05z" fill="#2f321f"/>
<path d="M118.0 102.80h2.05v1.60h-2.05z" fill="#18191b"/>
<path d="M120.0 102.80h2.05v1.60h-2.05z" fill="#2a2d1e"/>
<path d="M122.0 102.80h2.05v1.60h-2.05z" fill="#272a1c"/>
<path d="M124.0 102.80h2.05v1.60h-2.05z" fill="#202433"/>
<path d="M126.0 102.80h2.05v1.60h-2.05z" fill="#1b1d23"/>
<path d="M128.0 102.80h2.05v1.60h-2.05z" fill="#1e2019"/>
<path d="M130.0 102.80h2.05v1.60h-2.05z" fill="#25271c"/>
<path d="M132.0 102.80h2.05v1.60h-2.05z" fill="#2e321f"/>
<path d="M134.0 102.80h2.05v1.60h-2.05z" fill="#2f321f"/>
<path d="M136.0 102.80h2.05v1.60h-2.05z" fill="#343721"/>
<path d="M44.0 104.35h2.05v1.60h-2.05z" fill="#191b1f"/>
<path d="M46.0 104.35h2.05v1.60h-2.05z" fill="#21231a"/>
<path d="M48.0 104.35h2.05v1.60h-2.05z" fill="#1a1d23"/>
<path d="M50.0 104.35h2.05v1.60h-2.05z" fill="#272a1c"/>
<path d="M52.0 104.35h2.05v1.60h-2.05z" fill="#222638"/>
<path d="M54.0 104.35h2.05v1.60h-2.05z" fill="#1f2019"/>
<path d="M56.0 104.35h2.05v1.60h-2.05z" fill="#191a1e"/>
<path d="M58.0 104.35h2.05v1.60h-2.05z" fill="#23283d"/>
<path d="M60.0 104.35h2.05v1.60h-2.05z" fill="#25281c"/>
<path d="M62.0 104.35h2.05v1.60h-2.05z" fill="#171816"/>
<path d="M64.0 104.35h2.05v1.60h-2.05z" fill="#18191a"/>
<path d="M66.0 104.35h2.05v1.60h-2.05z" fill="#1f222f"/>
<path d="M68.0 104.35h2.05v1.60h-2.05z" fill="#1b1d23"/>
<path d="M70.0 104.35h2.05v1.60h-2.05z" fill="#313420"/>
<path d="M72.0 104.35h2.05v1.60h-2.05z" fill="#1d202a"/>
<path d="M74.0 104.35h2.05v1.60h-2.05z" fill="#27314f"/>
<path d="M76.0 104.35h2.05v1.60h-2.05z" fill="#1d202b"/>
<path d="M78.0 104.35h2.05v1.60h-2.05z" fill="#202331"/>
<path d="M80.0 104.35h2.05v1.60h-2.05z" fill="#191a1d"/>
<path d="M82.0 104.35h2.05v1.60h-2.05z" fill="#1a1c22"/>
<path d="M84.0 104.35h2.05v1.60h-2.05z" fill="#1e212c"/>
<path d="M86.0 104.35h2.05v1.60h-2.05z" fill="#3e4225"/>
<path d="M88.0 104.35h2.05v1.60h-2.05z" fill="#666d32"/>
<path d="M90.0 104.35h2.05v1.60h-2.05z" fill="#323520"/>
<path d="M92.0 104.35h2.05v1.60h-2.05z" fill="#7d843a"/>
<path d="M94.0 104.35h2.05v1.60h-2.05z" fill="#444927"/>
<path d="M96.0 104.35h2.05v1.60h-2.05z" fill="#393d23"/>
<path d="M98.0 104.35h2.05v1.60h-2.05z" fill="#606630"/>
<path d="M100.0 104.35h2.05v1.60h-2.05z" fill="#5b612e"/>
<path d="M102.0 104.35h2.05v1.60h-2.05z" fill="#3a3e23"/>
<path d="M104.0 104.35h2.05v1.60h-2.05z" fill="#5f6530"/>
<path d="M106.0 104.35h2.05v1.60h-2.05z" fill="#292c1d"/>
<path d="M108.0 104.35h2.05v1.60h-2.05z" fill="#3c4124"/>
<path d="M110.0 104.35h2.05v1.60h-2.05z" fill="#686f33"/>
<path d="M112.0 104.35h2.05v1.60h-2.05z" fill="#494f28"/>
<path d="M114.0 104.35h2.05v1.60h-2.05z" fill="#353821"/>
<path d="M116.0 104.35h2.05v1.60h-2.05z" fill="#23283d"/>
<path d="M118.0 104.35h2.05v1.60h-2.05z" fill="#222637"/>
<path d="M120.0 104.35h2.05v1.60h-2.05z" fill="#252b43"/>
<path d="M122.0 104.35h2.05v1.60h-2.05z" fill="#2a365b"/>
<path d="M124.0 104.35h2.05v1.60h-2.05z" fill="#252d47"/>
<path d="M126.0 104.35h2.05v1.60h-2.05z" fill="#23293e"/>
<path d="M128.0 104.35h2.05v1.60h-2.05z" fill="#222739"/>
<path d="M130.0 104.35h2.05v1.60h-2.05z" fill="#1c1e26"/>
<path d="M132.0 104.35h2.05v1.60h-2.05z" fill="#252c46"/>
<path d="M134.0 104.35h2.05v1.60h-2.05z" fill="#262e49"/>
<path d="M136.0 104.35h2.05v1.60h-2.05z" fill="#252b43"/>
<path d="M44.0 105.90h2.05v1.60h-2.05z" fill="#171819"/>
<path d="M46.0 105.90h2.05v1.60h-2.05z" fill="#424726"/>
<path d="M48.0 105.90h2.05v1.60h-2.05z" fill="#22273a"/>
<path d="M50.0 105.90h2.05v1.60h-2.05z" fill="#383c23"/>
<path d="M52.0 105.90h2.05v1.60h-2.05z" fill="#191a17"/>
<path d="M54.0 105.90h2.05v1.60h-2.05z" fill="#313420"/>
<path d="M56.0 105.90h2.05v1.60h-2.05z" fill="#363922"/>
<path d="M58.0 105.90h2.05v1.60h-2.05z" fill="#181a1d"/>
<path d="M60.0 105.90h2.05v1.60h-2.05z" fill="#25281c"/>
<path d="M62.0 105.90h2.05v1.60h-2.05z" fill="#2c2f1e"/>
<path d="M64.0 105.90h2.05v1.60h-2.05z" fill="#333721"/>
<path d="M66.0 105.90h2.05v1.60h-2.05z" fill="#171818"/>
<path d="M68.0 105.90h2.05v1.60h-2.05z" fill="#17191a"/>
<path d="M70.0 105.90h2.05v1.60h-2.05z" fill="#1d202b"/>
<path d="M72.0 105.90h2.05v1.60h-2.05z" fill="#5b622e"/>
<path d="M74.0 105.90h2.05v1.60h-2.05z" fill="#23251b"/>
<path d="M76.0 105.90h2.05v1.60h-2.05z" fill="#22241b"/>
<path d="M78.0 105.90h2.05v1.60h-2.05z" fill="#1b1d23"/>
<path d="M80.0 105.90h2.05v1.60h-2.05z" fill="#3a3f23"/>
<path d="M82.0 105.90h2.05v1.60h-2.05z" fill="#1c1d18"/>
<path d="M84.0 105.90h2.05v1.60h-2.05z" fill="#444927"/>
<path d="M86.0 105.90h2.05v1.60h-2.05z" fill="#7c8339"/>
<path d="M88.0 105.90h2.05v1.60h-2.05z" fill="#676d32"/>
<path d="M90.0 105.90h2.05v1.60h-2.05z" fill="#787f38"/>
<path d="M92.0 105.90h2.05v1.60h-2.05z" fill="#4d532a"/>
<path d="M94.0 105.90h2.05v1.60h-2.05z" fill="#5f6530"/>
<path d="M96.0 105.90h2.05v1.60h-2.05z" fill="#595f2e"/>
<path d="M98.0 105.90h2.05v1.60h-2.05z" fill="#4a5029"/>
<path d="M100.0 105.90h2.05v1.60h-2.05z" fill="#676d32"/>
<path d="M102.0 105.90h2.05v1.60h-2.05z" fill="#636931"/>
<path d="M104.0 105.90h2.05v1.60h-2.05z" fill="#8f953f"/>
<path d="M106.0 105.90h2.05v1.60h-2.05z" fill="#20211a"/>
<path d="M108.0 105.90h2.05v1.60h-2.05z" fill="#565c2d"/>
<path d="M110.0 105.90h2.05v1.60h-2.05z" fill="#51572b"/>
<path d="M112.0 105.90h2.05v1.60h-2.05z" fill="#5b622e"/>
<path d="M114.0 105.90h2.05v1.60h-2.05z" fill="#707735"/>
<path d="M116.0 105.90h2.05v1.60h-2.05z" fill="#1e212d"/>
<path d="M118.0 105.90h2.05v1.60h-2.05z" fill="#212434"/>
<path d="M120.0 105.90h2.05v1.60h-2.05z" fill="#23283c"/>
<path d="M122.0 105.90h2.05v1.60h-2.05z" fill="#1e212c"/>
<path d="M124.0 105.90h2.05v1.60h-2.05z" fill="#1f222e"/>
<path d="M126.0 105.90h2.05v1.60h-2.05z" fill="#272f4d"/>
<path d="M128.0 105.90h2.05v1.60h-2.05z" fill="#222739"/>
<path d="M130.0 105.90h2.05v1.60h-2.05z" fill="#252d47"/>
<path d="M132.0 105.90h2.05v1.60h-2.05z" fill="#252c44"/>
<path d="M134.0 105.90h2.05v1.60h-2.05z" fill="#202332"/>
<path d="M136.0 105.90h2.05v1.60h-2.05z" fill="#202434"/>
<path d="M44.0 107.45h2.05v1.60h-2.05z" fill="#161716"/>
<path d="M46.0 107.45h2.05v1.60h-2.05z" fill="#25271b"/>
<path d="M48.0 107.45h2.05v1.60h-2.05z" fill="#161716"/>
<path d="M50.0 107.45h2.05v1.60h-2.05z" fill="#313420"/>
<path d="M52.0 107.45h2.05v1.60h-2.05z" fill="#373b22"/>
<path d="M54.0 107.45h2.05v1.60h-2.05z" fill="#4c5229"/>
<path d="M56.0 107.45h2.05v1.60h-2.05z" fill="#434826"/>
<path d="M58.0 107.45h2.05v1.60h-2.05z" fill="#181917"/>
<path d="M60.0 107.45h2.05v1.60h-2.05z" fill="#1f2119"/>
<path d="M62.0 107.45h2.05v1.60h-2.05z" fill="#161717"/>
<path d="M64.0 107.45h2.05v1.60h-2.05z" fill="#2f3320"/>
<path d="M66.0 107.45h2.05v1.60h-2.05z" fill="#51572b"/>
<path d="M68.0 107.45h2.05v1.60h-2.05z" fill="#383c23"/>
<path d="M70.0 107.45h2.05v1.60h-2.05z" fill="#1f222e"/>
<path d="M72.0 107.45h2.05v1.60h-2.05z" fill="#181a1d"/>
<path d="M74.0 107.45h2.05v1.60h-2.05z" fill="#191a1d"/>
<path d="M76.0 107.45h2.05v1.60h-2.05z" fill="#343821"/>
<path d="M78.0 107.45h2.05v1.60h-2.05z" fill="#292c1d"/>
<path d="M80.0 107.45h2.05v1.60h-2.05z" fill="#2f331f"/>
<path d="M82.0 107.45h2.05v1.60h-2.05z" fill="#4d532a"/>
<path d="M84.0 107.45h2.05v1.60h-2.05z" fill="#171917"/>
<path d="M86.0 107.45h2.05v1.60h-2.05z" fill="#343821"/>
<path d="M88.0 107.45h2.05v1.60h-2.05z" fill="#707735"/>
<path d="M90.0 107.45h2.05v1.60h-2.05z" fill="#4b5129"/>
<path d="M92.0 107.45h2.05v1.60h-2.05z" fill="#353922"/>
<path d="M94.0 107.45h2.05v1.60h-2.05z" fill="#1b1c18"/>
<path d="M96.0 107.45h2.05v1.60h-2.05z" fill="#25281c"/>
<path d="M98.0 107.45h2.05v1.60h-2.05z" fill="#171919"/>
<path d="M100.0 107.45h2.05v1.60h-2.05z" fill="#464b27"/>
<path d="M102.0 107.45h2.05v1.60h-2.05z" fill="#464b27"/>
<path d="M104.0 107.45h2.05v1.60h-2.05z" fill="#595f2e"/>
<path d="M106.0 107.45h2.05v1.60h-2.05z" fill="#424726"/>
<path d="M108.0 107.45h2.05v1.60h-2.05z" fill="#373b22"/>
<path d="M110.0 107.45h2.05v1.60h-2.05z" fill="#363a22"/>
<path d="M112.0 107.45h2.05v1.60h-2.05z" fill="#6f7635"/>
<path d="M114.0 107.45h2.05v1.60h-2.05z" fill="#20221a"/>
<path d="M116.0 107.45h2.05v1.60h-2.05z" fill="#23283d"/>
<path d="M118.0 107.45h2.05v1.60h-2.05z" fill="#24293f"/>
<path d="M120.0 107.45h2.05v1.60h-2.05z" fill="#222637"/>
<path d="M122.0 107.45h2.05v1.60h-2.05z" fill="#252b44"/>
<path d="M124.0 107.45h2.05v1.60h-2.05z" fill="#222639"/>
<path d="M126.0 107.45h2.05v1.60h-2.05z" fill="#202433"/>
<path d="M128.0 107.45h2.05v1.60h-2.05z" fill="#242a41"/>
<path d="M130.0 107.45h2.05v1.60h-2.05z" fill="#252c44"/>
<path d="M132.0 107.45h2.05v1.60h-2.05z" fill="#242a41"/>
<path d="M134.0 107.45h2.05v1.60h-2.05z" fill="#262f4b"/>
<path d="M136.0 107.45h2.05v1.60h-2.05z" fill="#242a41"/>
<path d="M44.0 109.00h2.05v1.60h-2.05z" fill="#272a1d"/>
<path d="M46.0 109.00h2.05v1.60h-2.05z" fill="#3f4325"/>
<path d="M48.0 109.00h2.05v1.60h-2.05z" fill="#3e4325"/>
<path d="M50.0 109.00h2.05v1.60h-2.05z" fill="#1a1b17"/>
<path d="M52.0 109.00h2.05v1.60h-2.05z" fill="#303320"/>
<path d="M54.0 109.00h2.05v1.60h-2.05z" fill="#292c1d"/>
<path d="M56.0 109.00h2.05v1.60h-2.05z" fill="#333721"/>
<path d="M58.0 109.00h2.05v1.60h-2.05z" fill="#23261b"/>
<path d="M60.0 109.00h2.05v1.60h-2.05z" fill="#292b1d"/>
<path d="M62.0 109.00h2.05v1.60h-2.05z" fill="#191a17"/>
<path d="M64.0 109.00h2.05v1.60h-2.05z" fill="#171819"/>
<path d="M66.0 109.00h2.05v1.60h-2.05z" fill="#353922"/>
<path d="M68.0 109.00h2.05v1.60h-2.05z" fill="#3e4225"/>
<path d="M70.0 109.00h2.05v1.60h-2.05z" fill="#313520"/>
<path d="M72.0 109.00h2.05v1.60h-2.05z" fill="#2c2f1e"/>
<path d="M74.0 109.00h2.05v1.60h-2.05z" fill="#292b1d"/>
<path d="M76.0 109.00h2.05v1.60h-2.05z" fill="#1a1b17"/>
<path d="M78.0 109.00h2.05v1.60h-2.05z" fill="#1e212c"/>
<path d="M80.0 109.00h2.05v1.60h-2.05z" fill="#313520"/>
<path d="M82.0 109.00h2.05v1.60h-2.05z" fill="#272a1c"/>
<path d="M84.0 109.00h2.05v1.60h-2.05z" fill="#171816"/>
<path d="M86.0 109.00h2.05v1.60h-2.05z" fill="#2b2e1e"/>
<path d="M88.0 109.00h2.05v1.60h-2.05z" fill="#59602e"/>
<path d="M90.0 109.00h2.05v1.60h-2.05z" fill="#1a1b17"/>
<path d="M92.0 109.00h2.05v1.60h-2.05z" fill="#656b32"/>
<path d="M94.0 109.00h2.05v1.60h-2.05z" fill="#4c5129"/>
<path d="M96.0 109.00h2.05v1.60h-2.05z" fill="#737a36"/>
<path d="M98.0 109.00h2.05v1.60h-2.05z" fill="#313420"/>
<path d="M100.0 109.00h2.05v1.60h-2.05z" fill="#3f4325"/>
<path d="M102.0 109.00h2.05v1.60h-2.05z" fill="#353922"/>
<path d="M104.0 109.00h2.05v1.60h-2.05z" fill="#424726"/>
<path d="M106.0 109.00h2.05v1.60h-2.05z" fill="#3b3f24"/>
<path d="M108.0 109.00h2.05v1.60h-2.05z" fill="#303320"/>
<path d="M110.0 109.00h2.05v1.60h-2.05z" fill="#555b2c"/>
<path d="M112.0 109.00h2.05v1.60h-2.05z" fill="#2f331f"/>
<path d="M114.0 109.00h2.05v1.60h-2.05z" fill="#353922"/>
<path d="M116.0 109.00h2.05v1.60h-2.05z" fill="#23283b"/>
<path d="M118.0 109.00h2.05v1.60h-2.05z" fill="#262e49"/>
<path d="M120.0 109.00h2.05v1.60h-2.05z" fill="#262d48"/>
<path d="M122.0 109.00h2.05v1.60h-2.05z" fill="#23293e"/>
<path d="M124.0 109.00h2.05v1.60h-2.05z" fill="#252d47"/>
<path d="M126.0 109.00h2.05v1.60h-2.05z" fill="#283252"/>
<path d="M128.0 109.00h2.05v1.60h-2.05z" fill="#252b44"/>
<path d="M130.0 109.00h2.05v1.60h-2.05z" fill="#252c45"/>
<path d="M132.0 109.00h2.05v1.60h-2.05z" fill="#1c1f28"/>
<path d="M134.0 109.00h2.05v1.60h-2.05z" fill="#273150"/>
<path d="M136.0 109.00h2.05v1.60h-2.05z" fill="#212536"/>
<path d="M44.0 110.55h2.05v1.60h-2.05z" fill="#262d47"/>
<path d="M46.0 110.55h2.05v1.60h-2.05z" fill="#252d47"/>
<path d="M48.0 110.55h2.05v1.60h-2.05z" fill="#242940"/>
<path d="M50.0 110.55h2.05v1.60h-2.05z" fill="#222638"/>
<path d="M52.0 110.55h2.05v1.60h-2.05z" fill="#1c1f28"/>
<path d="M54.0 110.55h2.05v1.60h-2.05z" fill="#262f4b"/>
<path d="M56.0 110.55h2.05v1.60h-2.05z" fill="#1f2230"/>
<path d="M58.0 110.55h2.05v1.60h-2.05z" fill="#212536"/>
<path d="M60.0 110.55h2.05v1.60h-2.05z" fill="#222639"/>
<path d="M62.0 110.55h2.05v1.60h-2.05z" fill="#272f4c"/>
<path d="M64.0 110.55h2.05v1.60h-2.05z" fill="#222638"/>
<path d="M66.0 110.55h2.05v1.60h-2.05z" fill="#252c44"/>
<path d="M68.0 110.55h2.05v1.60h-2.05z" fill="#24293f"/>
<path d="M70.0 110.55h2.05v1.60h-2.05z" fill="#252d46"/>
<path d="M72.0 110.55h2.05v1.60h-2.05z" fill="#23273b"/>
<path d="M74.0 110.55h2.05v1.60h-2.05z" fill="#202434"/>
<path d="M76.0 110.55h2.05v1.60h-2.05z" fill="#202433"/>
<path d="M78.0 110.55h2.05v1.60h-2.05z" fill="#252c45"/>
<path d="M80.0 110.55h2.05v1.60h-2.05z" fill="#212536"/>
<path d="M82.0 110.55h2.05v1.60h-2.05z" fill="#1e212d"/>
<path d="M84.0 110.55h2.05v1.60h-2.05z" fill="#27304e"/>
<path d="M86.0 110.55h2.05v1.60h-2.05z" fill="#2a2d1e"/>
<path d="M88.0 110.55h2.05v1.60h-2.05z" fill="#222639"/>
<path d="M90.0 110.55h2.05v1.60h-2.05z" fill="#161716"/>
<path d="M92.0 110.55h2.05v1.60h-2.05z" fill="#171917"/>
<path d="M94.0 110.55h2.05v1.60h-2.05z" fill="#2a2d1e"/>
<path d="M96.0 110.55h2.05v1.60h-2.05z" fill="#18191b"/>
<path d="M98.0 110.55h2.05v1.60h-2.05z" fill="#1d1f29"/>
<path d="M100.0 110.55h2.05v1.60h-2.05z" fill="#1f222f"/>
<path d="M102.0 110.55h2.05v1.60h-2.05z" fill="#222637"/>
<path d="M104.0 110.55h2.05v1.60h-2.05z" fill="#1b1d18"/>
<path d="M106.0 110.55h2.05v1.60h-2.05z" fill="#1b1d24"/>
<path d="M108.0 110.55h2.05v1.60h-2.05z" fill="#1e212d"/>
<path d="M110.0 110.55h2.05v1.60h-2.05z" fill="#161716"/>
<path d="M112.0 110.55h2.05v1.60h-2.05z" fill="#1f222e"/>
<path d="M114.0 110.55h2.05v1.60h-2.05z" fill="#1c1f28"/>
<path d="M116.0 110.55h2.05v1.60h-2.05z" fill="#252c45"/>
<path d="M118.0 110.55h2.05v1.60h-2.05z" fill="#1b1d25"/>
<path d="M120.0 110.55h2.05v1.60h-2.05z" fill="#1c1f28"/>
<path d="M122.0 110.55h2.05v1.60h-2.05z" fill="#242a41"/>
<path d="M124.0 110.55h2.05v1.60h-2.05z" fill="#283253"/>
<path d="M126.0 110.55h2.05v1.60h-2.05z" fill="#23283c"/>
<path d="M128.0 110.55h2.05v1.60h-2.05z" fill="#24293f"/>
<path d="M130.0 110.55h2.05v1.60h-2.05z" fill="#23283b"/>
<path d="M132.0 110.55h2.05v1.60h-2.05z" fill="#222639"/>
<path d="M134.0 110.55h2.05v1.60h-2.05z" fill="#252b43"/>
<path d="M136.0 110.55h2.05v1.60h-2.05z" fill="#202332"/>
<path d="M44.0 112.10h2.05v1.60h-2.05z" fill="#1f2330"/>
<path d="M46.0 112.10h2.05v1.60h-2.05z" fill="#23273b"/>
<path d="M48.0 112.10h2.05v1.60h-2.05z" fill="#23283c"/>
<path d="M50.0 112.10h2.05v1.60h-2.05z" fill="#1c1f27"/>
<path d="M52.0 112.10h2.05v1.60h-2.05z" fill="#252b43"/>
<path d="M54.0 112.10h2.05v1.60h-2.05z" fill="#222637"/>
<path d="M56.0 112.10h2.05v1.60h-2.05z" fill="#24293f"/>
<path d="M58.0 112.10h2.05v1.60h-2.05z" fill="#252d47"/>
<path d="M60.0 112.10h2.05v1.60h-2.05z" fill="#1d1f29"/>
<path d="M62.0 112.10h2.05v1.60h-2.05z" fill="#212535"/>
<path d="M64.0 112.10h2.05v1.60h-2.05z" fill="#202434"/>
<path d="M66.0 112.10h2.05v1.60h-2.05z" fill="#1b1d24"/>
<path d="M68.0 112.10h2.05v1.60h-2.05z" fill="#262d48"/>
<path d="M70.0 112.10h2.05v1.60h-2.05z" fill="#212536"/>
<path d="M72.0 112.10h2.05v1.60h-2.05z" fill="#1f222f"/>
<path d="M74.0 112.10h2.05v1.60h-2.05z" fill="#1b1e25"/>
<path d="M76.0 112.10h2.05v1.60h-2.05z" fill="#252b43"/>
<path d="M78.0 112.10h2.05v1.60h-2.05z" fill="#1c1e27"/>
<path d="M80.0 112.10h2.05v1.60h-2.05z" fill="#1f2330"/>
<path d="M82.0 112.10h2.05v1.60h-2.05z" fill="#18191b"/>
<path d="M84.0 112.10h2.05v1.60h-2.05z" fill="#191b1f"/>
<path d="M86.0 112.10h2.05v1.60h-2.05z" fill="#2d311f"/>
<path d="M88.0 112.10h2.05v1.60h-2.05z" fill="#4e532a"/>
<path d="M90.0 112.10h2.05v1.60h-2.05z" fill="#22241a"/>
<path d="M92.0 112.10h2.05v1.60h-2.05z" fill="#191a17"/>
<path d="M94.0 112.10h2.05v1.60h-2.05z" fill="#1b1c18"/>
<path d="M96.0 112.10h2.05v1.60h-2.05z" fill="#191a1d"/>
<path d="M98.0 112.10h2.05v1.60h-2.05z" fill="#21231a"/>
<path d="M100.0 112.10h2.05v1.60h-2.05z" fill="#1f222f"/>
<path d="M102.0 112.10h2.05v1.60h-2.05z" fill="#20221a"/>
<path d="M104.0 112.10h2.05v1.60h-2.05z" fill="#2b2e1e"/>
<path d="M106.0 112.10h2.05v1.60h-2.05z" fill="#373b22"/>
<path d="M108.0 112.10h2.05v1.60h-2.05z" fill="#1a1c18"/>
<path d="M110.0 112.10h2.05v1.60h-2.05z" fill="#3f4325"/>
<path d="M112.0 112.10h2.05v1.60h-2.05z" fill="#171818"/>
<path d="M114.0 112.10h2.05v1.60h-2.05z" fill="#1f2119"/>
<path d="M116.0 112.10h2.05v1.60h-2.05z" fill="#262e49"/>
<path d="M118.0 112.10h2.05v1.60h-2.05z" fill="#23283c"/>
<path d="M120.0 112.10h2.05v1.60h-2.05z" fill="#23283c"/>
<path d="M122.0 112.10h2.05v1.60h-2.05z" fill="#181917"/>
<path d="M124.0 112.10h2.05v1.60h-2.05z" fill="#1b1e26"/>
<path d="M126.0 112.10h2.05v1.60h-2.05z" fill="#24293f"/>
<path d="M128.0 112.10h2.05v1.60h-2.05z" fill="#1b1e26"/>
<path d="M130.0 112.10h2.05v1.60h-2.05z" fill="#1c1e26"/>
<path d="M132.0 112.10h2.05v1.60h-2.05z" fill="#202434"/>
<path d="M134.0 112.10h2.05v1.60h-2.05z" fill="#1f222f"/>
<path d="M136.0 112.10h2.05v1.60h-2.05z" fill="#212535"/>
<path d="M44.0 113.65h2.05v1.60h-2.05z" fill="#24293f"/>
<path d="M46.0 113.65h2.05v1.60h-2.05z" fill="#1b1d23"/>
<path d="M48.0 113.65h2.05v1.60h-2.05z" fill="#23261b"/>
<path d="M50.0 113.65h2.05v1.60h-2.05z" fill="#26291c"/>
<path d="M52.0 113.65h2.05v1.60h-2.05z" fill="#1c1e27"/>
<path d="M54.0 113.65h2.05v1.60h-2.05z" fill="#1f222f"/>
<path d="M56.0 113.65h2.05v1.60h-2.05z" fill="#1b1e26"/>
<path d="M58.0 113.65h2.05v1.60h-2.05z" fill="#1b1d18"/>
<path d="M60.0 113.65h2.05v1.60h-2.05z" fill="#18191b"/>
<path d="M62.0 113.65h2.05v1.60h-2.05z" fill="#1e212c"/>
<path d="M64.0 113.65h2.05v1.60h-2.05z" fill="#18191b"/>
<path d="M66.0 113.65h2.05v1.60h-2.05z" fill="#1b1e25"/>
<path d="M68.0 113.65h2.05v1.60h-2.05z" fill="#171818"/>
<path d="M70.0 113.65h2.05v1.60h-2.05z" fill="#1d1f29"/>
<path d="M72.0 113.65h2.05v1.60h-2.05z" fill="#23273b"/>
<path d="M74.0 113.65h2.05v1.60h-2.05z" fill="#1a1c21"/>
<path d="M76.0 113.65h2.05v1.60h-2.05z" fill="#181a17"/>
<path d="M78.0 113.65h2.05v1.60h-2.05z" fill="#212536"/>
<path d="M80.0 113.65h2.05v1.60h-2.05z" fill="#1b1d24"/>
<path d="M82.0 113.65h2.05v1.60h-2.05z" fill="#1b1c18"/>
<path d="M84.0 113.65h2.05v1.60h-2.05z" fill="#1d1f29"/>
<path d="M86.0 113.65h2.05v1.60h-2.05z" fill="#1e2019"/>
<path d="M88.0 113.65h2.05v1.60h-2.05z" fill="#53592c"/>
<path d="M90.0 113.65h2.05v1.60h-2.05z" fill="#3c4024"/>
<path d="M92.0 113.65h2.05v1.60h-2.05z" fill="#404425"/>
<path d="M94.0 113.65h2.05v1.60h-2.05z" fill="#181917"/>
<path d="M96.0 113.65h2.05v1.60h-2.05z" fill="#4c5129"/>
<path d="M98.0 113.65h2.05v1.60h-2.05z" fill="#1a1c21"/>
<path d="M100.0 113.65h2.05v1.60h-2.05z" fill="#21231a"/>
<path d="M102.0 113.65h2.05v1.60h-2.05z" fill="#3a3f23"/>
<path d="M104.0 113.65h2.05v1.60h-2.05z" fill="#464b27"/>
<path d="M106.0 113.65h2.05v1.60h-2.05z" fill="#181917"/>
<path d="M108.0 113.65h2.05v1.60h-2.05z" fill="#1e1f19"/>
<path d="M110.0 113.65h2.05v1.60h-2.05z" fill="#2f3320"/>
<path d="M112.0 113.65h2.05v1.60h-2.05z" fill="#1c1e26"/>
<path d="M114.0 113.65h2.05v1.60h-2.05z" fill="#383c23"/>
<path d="M116.0 113.65h2.05v1.60h-2.05z" fill="#1a1c22"/>
<path d="M118.0 113.65h2.05v1.60h-2.05z" fill="#212434"/>
<path d="M120.0 113.65h2.05v1.60h-2.05z" fill="#1a1c22"/>
<path d="M122.0 113.65h2.05v1.60h-2.05z" fill="#191a1e"/>
<path d="M124.0 113.65h2.05v1.60h-2.05z" fill="#1c1e26"/>
<path d="M126.0 113.65h2.05v1.60h-2.05z" fill="#1a1c22"/>
<path d="M128.0 113.65h2.05v1.60h-2.05z" fill="#1c1e18"/>
<path d="M130.0 113.65h2.05v1.60h-2.05z" fill="#212435"/>
<path d="M132.0 113.65h2.05v1.60h-2.05z" fill="#1d1f29"/>
<path d="M134.0 113.65h2.05v1.60h-2.05z" fill="#212535"/>
<path d="M136.0 113.65h2.05v1.60h-2.05z" fill="#171819"/>
<path d="M44.0 115.20h2.05v1.60h-2.05z" fill="#171817"/>
<path d="M46.0 115.20h2.05v1.60h-2.05z" fill="#191a1e"/>
<path d="M48.0 115.20h2.05v1.60h-2.05z" fill="#191b1f"/>
<path d="M50.0 115.20h2.05v1.60h-2.05z" fill="#2e311f"/>
<path d="M52.0 115.20h2.05v1.60h-2.05z" fill="#1a1c22"/>
<path d="M54.0 115.20h2.05v1.60h-2.05z" fill="#282a1d"/>
<path d="M56.0 115.20h2.05v1.60h-2.05z" fill="#1c1d18"/>
<path d="M58.0 115.20h2.05v1.60h-2.05z" fill="#26281c"/>
<path d="M60.0 115.20h2.05v1.60h-2.05z" fill="#1b1d23"/>
<path d="M62.0 115.20h2.05v1.60h-2.05z" fill="#1e1f19"/>
<path d="M64.0 115.20h2.05v1.60h-2.05z" fill="#1a1c18"/>
<path d="M66.0 115.20h2.05v1.60h-2.05z" fill="#1d202b"/>
<path d="M68.0 115.20h2.05v1.60h-2.05z" fill="#18191b"/>
<path d="M70.0 115.20h2.05v1.60h-2.05z" fill="#1a1c22"/>
<path d="M72.0 115.20h2.05v1.60h-2.05z" fill="#1a1c21"/>
<path d="M74.0 115.20h2.05v1.60h-2.05z" fill="#25281c"/>
<path d="M76.0 115.20h2.05v1.60h-2.05z" fill="#1e212d"/>
<path d="M78.0 115.20h2.05v1.60h-2.05z" fill="#23283c"/>
<path d="M80.0 115.20h2.05v1.60h-2.05z" fill="#23283d"/>
<path d="M82.0 115.20h2.05v1.60h-2.05z" fill="#1c1f28"/>
<path d="M84.0 115.20h2.05v1.60h-2.05z" fill="#1e212c"/>
<path d="M86.0 115.20h2.05v1.60h-2.05z" fill="#2e311f"/>
<path d="M88.0 115.20h2.05v1.60h-2.05z" fill="#393d23"/>
<path d="M90.0 115.20h2.05v1.60h-2.05z" fill="#4f552a"/>
<path d="M92.0 115.20h2.05v1.60h-2.05z" fill="#343721"/>
<path d="M94.0 115.20h2.05v1.60h-2.05z" fill="#373b22"/>
<path d="M96.0 115.20h2.05v1.60h-2.05z" fill="#1e2019"/>
<path d="M98.0 115.20h2.05v1.60h-2.05z" fill="#393d23"/>
<path d="M100.0 115.20h2.05v1.60h-2.05z" fill="#484d28"/>
<path d="M102.0 115.20h2.05v1.60h-2.05z" fill="#474d28"/>
<path d="M104.0 115.20h2.05v1.60h-2.05z" fill="#1b1d25"/>
<path d="M106.0 115.20h2.05v1.60h-2.05z" fill="#3f4325"/>
<path d="M108.0 115.20h2.05v1.60h-2.05z" fill="#4c5129"/>
<path d="M110.0 115.20h2.05v1.60h-2.05z" fill="#3e4225"/>
<path d="M112.0 115.20h2.05v1.60h-2.05z" fill="#181a1c"/>
<path d="M114.0 115.20h2.05v1.60h-2.05z" fill="#272a1c"/>
<path d="M116.0 115.20h2.05v1.60h-2.05z" fill="#191b20"/>
<path d="M118.0 115.20h2.05v1.60h-2.05z" fill="#1a1d23"/>
<path d="M120.0 115.20h2.05v1.60h-2.05z" fill="#222639"/>
<path d="M122.0 115.20h2.05v1.60h-2.05z" fill="#222739"/>
<path d="M124.0 115.20h2.05v1.60h-2.05z" fill="#171819"/>
<path d="M126.0 115.20h2.05v1.60h-2.05z" fill="#24293f"/>
<path d="M128.0 115.20h2.05v1.60h-2.05z" fill="#1c1e18"/>
<path d="M130.0 115.20h2.05v1.60h-2.05z" fill="#1d202a"/>
<path d="M132.0 115.20h2.05v1.60h-2.05z" fill="#1b1e25"/>
<path d="M134.0 115.20h2.05v1.60h-2.05z" fill="#24293f"/>
<path d="M136.0 115.20h2.05v1.60h-2.05z" fill="#212535"/>
<path d="M44.0 116.75h2.05v1.60h-2.05z" fill="#27314f"/>
<path d="M46.0 116.75h2.05v1.60h-2.05z" fill="#18191b"/>
<path d="M48.0 116.75h2.05v1.60h-2.05z" fill="#27304e"/>
<path d="M50.0 116.75h2.05v1.60h-2.05z" fill="#272f4c"/>
<path d="M52.0 116.75h2.05v1.60h-2.05z" fill="#23283d"/>
<path d="M54.0 116.75h2.05v1.60h-2.05z" fill="#222638"/>
<path d="M56.0 116.75h2.05v1.60h-2.05z" fill="#202434"/>
<path d="M58.0 116.75h2.05v1.60h-2.05z" fill="#242b42"/>
<path d="M60.0 116.75h2.05v1.60h-2.05z" fill="#242a40"/>
<path d="M62.0 116.75h2.05v1.60h-2.05z" fill="#242a41"/>
<path d="M64.0 116.75h2.05v1.60h-2.05z" fill="#252c44"/>
<path d="M66.0 116.75h2.05v1.60h-2.05z" fill="#2a385f"/>
<path d="M68.0 116.75h2.05v1.60h-2.05z" fill="#1f222f"/>
<path d="M70.0 116.75h2.05v1.60h-2.05z" fill="#23273b"/>
<path d="M72.0 116.75h2.05v1.60h-2.05z" fill="#23283c"/>
<path d="M74.0 116.75h2.05v1.60h-2.05z" fill="#252c45"/>
<path d="M76.0 116.75h2.05v1.60h-2.05z" fill="#23273b"/>
<path d="M78.0 116.75h2.05v1.60h-2.05z" fill="#23293e"/>
<path d="M80.0 116.75h2.05v1.60h-2.05z" fill="#24293f"/>
<path d="M82.0 116.75h2.05v1.60h-2.05z" fill="#1e212d"/>
<path d="M84.0 116.75h2.05v1.60h-2.05z" fill="#283252"/>
<path d="M86.0 116.75h2.05v1.60h-2.05z" fill="#1c1f28"/>
<path d="M88.0 116.75h2.05v1.60h-2.05z" fill="#23283d"/>
<path d="M90.0 116.75h2.05v1.60h-2.05z" fill="#202332"/>
<path d="M92.0 116.75h2.05v1.60h-2.05z" fill="#1b1d18"/>
<path d="M94.0 116.75h2.05v1.60h-2.05z" fill="#23283d"/>
<path d="M96.0 116.75h2.05v1.60h-2.05z" fill="#1f222e"/>
<path d="M98.0 116.75h2.05v1.60h-2.05z" fill="#222637"/>
<path d="M100.0 116.75h2.05v1.60h-2.05z" fill="#18191b"/>
<path d="M102.0 116.75h2.05v1.60h-2.05z" fill="#23283c"/>
<path d="M104.0 116.75h2.05v1.60h-2.05z" fill="#252c44"/>
<path d="M106.0 116.75h2.05v1.60h-2.05z" fill="#1b1d23"/>
<path d="M108.0 116.75h2.05v1.60h-2.05z" fill="#202433"/>
<path d="M110.0 116.75h2.05v1.60h-2.05z" fill="#202332"/>
<path d="M112.0 116.75h2.05v1.60h-2.05z" fill="#171819"/>
<path d="M114.0 116.75h2.05v1.60h-2.05z" fill="#23273b"/>
<path d="M116.0 116.75h2.05v1.60h-2.05z" fill="#1b1d24"/>
<path d="M118.0 116.75h2.05v1.60h-2.05z" fill="#18191a"/>
<path d="M120.0 116.75h2.05v1.60h-2.05z" fill="#161716"/>
<path d="M122.0 116.75h2.05v1.60h-2.05z" fill="#1c1e26"/>
<path d="M124.0 116.75h2.05v1.60h-2.05z" fill="#23251b"/>
<path d="M126.0 116.75h2.05v1.60h-2.05z" fill="#3b4024"/>
<path d="M128.0 116.75h2.05v1.60h-2.05z" fill="#1b1d24"/>
<path d="M130.0 116.75h2.05v1.60h-2.05z" fill="#343821"/>
<path d="M132.0 116.75h2.05v1.60h-2.05z" fill="#24293f"/>
<path d="M134.0 116.75h2.05v1.60h-2.05z" fill="#2b2e1e"/>
<path d="M136.0 116.75h2.05v1.60h-2.05z" fill="#1b1d23"/>
<path d="M44.0 118.30h2.05v1.60h-2.05z" fill="#22241b"/>
<path d="M46.0 118.30h2.05v1.60h-2.05z" fill="#1c1e18"/>
<path d="M48.0 118.30h2.05v1.60h-2.05z" fill="#181a1c"/>
<path d="M50.0 118.30h2.05v1.60h-2.05z" fill="#21231a"/>
<path d="M52.0 118.30h2.05v1.60h-2.05z" fill="#434726"/>
<path d="M54.0 118.30h2.05v1.60h-2.05z" fill="#404425"/>
<path d="M56.0 118.30h2.05v1.60h-2.05z" fill="#22241b"/>
<path d="M58.0 118.30h2.05v1.60h-2.05z" fill="#1e2019"/>
<path d="M60.0 118.30h2.05v1.60h-2.05z" fill="#1b1c18"/>
<path d="M62.0 118.30h2.05v1.60h-2.05z" fill="#18191b"/>
<path d="M64.0 118.30h2.05v1.60h-2.05z" fill="#4c5229"/>
<path d="M66.0 118.30h2.05v1.60h-2.05z" fill="#373b22"/>
<path d="M68.0 118.30h2.05v1.60h-2.05z" fill="#2c2f1e"/>
<path d="M70.0 118.30h2.05v1.60h-2.05z" fill="#1f2119"/>
<path d="M72.0 118.30h2.05v1.60h-2.05z" fill="#161817"/>
<path d="M74.0 118.30h2.05v1.60h-2.05z" fill="#434826"/>
<path d="M76.0 118.30h2.05v1.60h-2.05z" fill="#393d23"/>
<path d="M78.0 118.30h2.05v1.60h-2.05z" fill="#161716"/>
<path d="M80.0 118.30h2.05v1.60h-2.05z" fill="#3d4124"/>
<path d="M82.0 118.30h2.05v1.60h-2.05z" fill="#171819"/>
<path d="M84.0 118.30h2.05v1.60h-2.05z" fill="#363a22"/>
<path d="M86.0 118.30h2.05v1.60h-2.05z" fill="#18191b"/>
<path d="M88.0 118.30h2.05v1.60h-2.05z" fill="#1b1c18"/>
<path d="M90.0 118.30h2.05v1.60h-2.05z" fill="#2d311f"/>
<path d="M92.0 118.30h2.05v1.60h-2.05z" fill="#2c2f1e"/>
<path d="M94.0 118.30h2.05v1.60h-2.05z" fill="#383c23"/>
<path d="M96.0 118.30h2.05v1.60h-2.05z" fill="#171819"/>
<path d="M98.0 118.30h2.05v1.60h-2.05z" fill="#434726"/>
<path d="M100.0 118.30h2.05v1.60h-2.05z" fill="#3e4325"/>
<path d="M102.0 118.30h2.05v1.60h-2.05z" fill="#23251b"/>
<path d="M104.0 118.30h2.05v1.60h-2.05z" fill="#2d301f"/>
<path d="M106.0 118.30h2.05v1.60h-2.05z" fill="#171818"/>
<path d="M108.0 118.30h2.05v1.60h-2.05z" fill="#20221a"/>
<path d="M110.0 118.30h2.05v1.60h-2.05z" fill="#1a1c22"/>
<path d="M112.0 118.30h2.05v1.60h-2.05z" fill="#25281c"/>
<path d="M114.0 118.30h2.05v1.60h-2.05z" fill="#272a1d"/>
<path d="M116.0 118.30h2.05v1.60h-2.05z" fill="#22241a"/>
<path d="M118.0 118.30h2.05v1.60h-2.05z" fill="#1a1b17"/>
<path d="M120.0 118.30h2.05v1.60h-2.05z" fill="#171816"/>
<path d="M122.0 118.30h2.05v1.60h-2.05z" fill="#1d202a"/>
<path d="M124.0 118.30h2.05v1.60h-2.05z" fill="#1c1f28"/>
<path d="M126.0 118.30h2.05v1.60h-2.05z" fill="#1d202a"/>
<path d="M128.0 118.30h2.05v1.60h-2.05z" fill="#191b20"/>
<path d="M130.0 118.30h2.05v1.60h-2.05z" fill="#242a41"/>
<path d="M132.0 118.30h2.05v1.60h-2.05z" fill="#161716"/>
<path d="M134.0 118.30h2.05v1.60h-2.05z" fill="#23283d"/>
<path d="M136.0 118.30h2.05v1.60h-2.05z" fill="#1e212d"/>
<path d="M44.0 119.85h2.05v1.60h-2.05z" fill="#1d1f19"/>
<path d="M46.0 119.85h2.05v1.60h-2.05z" fill="#484d28"/>
<path d="M48.0 119.85h2.05v1.60h-2.05z" fill="#26281c"/>
<path d="M50.0 119.85h2.05v1.60h-2.05z" fill="#464b27"/>
<path d="M52.0 119.85h2.05v1.60h-2.05z" fill="#3f4325"/>
<path d="M54.0 119.85h2.05v1.60h-2.05z" fill="#1e1f19"/>
<path d="M56.0 119.85h2.05v1.60h-2.05z" fill="#303320"/>
<path d="M58.0 119.85h2.05v1.60h-2.05z" fill="#414626"/>
<path d="M60.0 119.85h2.05v1.60h-2.05z" fill="#21231a"/>
<path d="M62.0 119.85h2.05v1.60h-2.05z" fill="#292c1d"/>
<path d="M64.0 119.85h2.05v1.60h-2.05z" fill="#1c1e18"/>
<path d="M66.0 119.85h2.05v1.60h-2.05z" fill="#292c1d"/>
<path d="M68.0 119.85h2.05v1.60h-2.05z" fill="#20221a"/>
<path d="M70.0 119.85h2.05v1.60h-2.05z" fill="#292c1d"/>
<path d="M72.0 119.85h2.05v1.60h-2.05z" fill="#3c4024"/>
<path d="M74.0 119.85h2.05v1.60h-2.05z" fill="#434826"/>
<path d="M76.0 119.85h2.05v1.60h-2.05z" fill="#2a2d1e"/>
<path d="M78.0 119.85h2.05v1.60h-2.05z" fill="#2c2f1e"/>
<path d="M80.0 119.85h2.05v1.60h-2.05z" fill="#393d23"/>
<path d="M82.0 119.85h2.05v1.60h-2.05z" fill="#22241a"/>
<path d="M84.0 119.85h2.05v1.60h-2.05z" fill="#171919"/>
<path d="M86.0 119.85h2.05v1.60h-2.05z" fill="#383c23"/>
<path d="M88.0 119.85h2.05v1.60h-2.05z" fill="#181a1c"/>
<path d="M90.0 119.85h2.05v1.60h-2.05z" fill="#353922"/>
<path d="M92.0 119.85h2.05v1.60h-2.05z" fill="#181a1d"/>
<path d="M94.0 119.85h2.05v1.60h-2.05z" fill="#464b27"/>
<path d="M96.0 119.85h2.05v1.60h-2.05z" fill="#191b1e"/>
<path d="M98.0 119.85h2.05v1.60h-2.05z" fill="#333721"/>
<path d="M100.0 119.85h2.05v1.60h-2.05z" fill="#404425"/>
<path d="M102.0 119.85h2.05v1.60h-2.05z" fill="#181a1d"/>
<path d="M104.0 119.85h2.05v1.60h-2.05z" fill="#3f4425"/>
<path d="M106.0 119.85h2.05v1.60h-2.05z" fill="#18191a"/>
<path d="M108.0 119.85h2.05v1.60h-2.05z" fill="#1d202b"/>
<path d="M110.0 119.85h2.05v1.60h-2.05z" fill="#303420"/>
<path d="M112.0 119.85h2.05v1.60h-2.05z" fill="#303320"/>
<path d="M114.0 119.85h2.05v1.60h-2.05z" fill="#1e1f19"/>
<path d="M116.0 119.85h2.05v1.60h-2.05z" fill="#2b3b65"/>
<path d="M118.0 119.85h2.05v1.60h-2.05z" fill="#252b44"/>
<path d="M120.0 119.85h2.05v1.60h-2.05z" fill="#252d47"/>
<path d="M122.0 119.85h2.05v1.60h-2.05z" fill="#262d47"/>
<path d="M124.0 119.85h2.05v1.60h-2.05z" fill="#252d46"/>
<path d="M126.0 119.85h2.05v1.60h-2.05z" fill="#29365a"/>
<path d="M128.0 119.85h2.05v1.60h-2.05z" fill="#262e4a"/>
<path d="M130.0 119.85h2.05v1.60h-2.05z" fill="#1d1f28"/>
<path d="M132.0 119.85h2.05v1.60h-2.05z" fill="#1e212d"/>
<path d="M134.0 119.85h2.05v1.60h-2.05z" fill="#262d47"/>
<path d="M136.0 119.85h2.05v1.60h-2.05z" fill="#262f4b"/>
<path d="M44.0 121.40h2.05v1.60h-2.05z" fill="#414626"/>
<path d="M46.0 121.40h2.05v1.60h-2.05z" fill="#3b3f24"/>
<path d="M48.0 121.40h2.05v1.60h-2.05z" fill="#161717"/>
<path d="M50.0 121.40h2.05v1.60h-2.05z" fill="#303320"/>
<path d="M52.0 121.40h2.05v1.60h-2.05z" fill="#2f3320"/>
<path d="M54.0 121.40h2.05v1.60h-2.05z" fill="#494e28"/>
<path d="M56.0 121.40h2.05v1.60h-2.05z" fill="#444927"/>
<path d="M58.0 121.40h2.05v1.60h-2.05z" fill="#373b22"/>
<path d="M60.0 121.40h2.05v1.60h-2.05z" fill="#444927"/>
<path d="M62.0 121.40h2.05v1.60h-2.05z" fill="#25271b"/>
<path d="M64.0 121.40h2.05v1.60h-2.05z" fill="#4a5029"/>
<path d="M66.0 121.40h2.05v1.60h-2.05z" fill="#24261b"/>
<path d="M68.0 121.40h2.05v1.60h-2.05z" fill="#353921"/>
<path d="M70.0 121.40h2.05v1.60h-2.05z" fill="#3f4325"/>
<path d="M72.0 121.40h2.05v1.60h-2.05z" fill="#1a1b18"/>
<path d="M74.0 121.40h2.05v1.60h-2.05z" fill="#1e2019"/>
<path d="M76.0 121.40h2.05v1.60h-2.05z" fill="#1a1c22"/>
<path d="M78.0 121.40h2.05v1.60h-2.05z" fill="#303320"/>
<path d="M80.0 121.40h2.05v1.60h-2.05z" fill="#2c2f1e"/>
<path d="M82.0 121.40h2.05v1.60h-2.05z" fill="#26291c"/>
<path d="M84.0 121.40h2.05v1.60h-2.05z" fill="#373b22"/>
<path d="M86.0 121.40h2.05v1.60h-2.05z" fill="#1e212d"/>
<path d="M88.0 121.40h2.05v1.60h-2.05z" fill="#26291c"/>
<path d="M90.0 121.40h2.05v1.60h-2.05z" fill="#292b1d"/>
<path d="M92.0 121.40h2.05v1.60h-2.05z" fill="#21241a"/>
<path d="M94.0 121.40h2.05v1.60h-2.05z" fill="#373b22"/>
<path d="M96.0 121.40h2.05v1.60h-2.05z" fill="#494e28"/>
<path d="M98.0 121.40h2.05v1.60h-2.05z" fill="#1e2019"/>
<path d="M100.0 121.40h2.05v1.60h-2.05z" fill="#171818"/>
<path d="M102.0 121.40h2.05v1.60h-2.05z" fill="#1b1c18"/>
<path d="M104.0 121.40h2.05v1.60h-2.05z" fill="#292c1d"/>
<path d="M106.0 121.40h2.05v1.60h-2.05z" fill="#333621"/>
<path d="M108.0 121.40h2.05v1.60h-2.05z" fill="#161717"/>
<path d="M110.0 121.40h2.05v1.60h-2.05z" fill="#3b3f24"/>
<path d="M112.0 121.40h2.05v1.60h-2.05z" fill="#171919"/>
<path d="M114.0 121.40h2.05v1.60h-2.05z" fill="#383c23"/>
<path d="M116.0 121.40h2.05v1.60h-2.05z" fill="#23273b"/>
<path d="M118.0 121.40h2.05v1.60h-2.05z" fill="#23273b"/>
<path d="M120.0 121.40h2.05v1.60h-2.05z" fill="#191a1e"/>
<path d="M122.0 121.40h2.05v1.60h-2.05z" fill="#252b43"/>
<path d="M124.0 121.40h2.05v1.60h-2.05z" fill="#242b42"/>
<path d="M126.0 121.40h2.05v1.60h-2.05z" fill="#23273a"/>
<path d="M128.0 121.40h2.05v1.60h-2.05z" fill="#212535"/>
<path d="M130.0 121.40h2.05v1.60h-2.05z" fill="#273150"/>
<path d="M132.0 121.40h2.05v1.60h-2.05z" fill="#23283d"/>
<path d="M134.0 121.40h2.05v1.60h-2.05z" fill="#262e49"/>
<path d="M136.0 121.40h2.05v1.60h-2.05z" fill="#222639"/>
<path d="M44.0 122.95h2.05v1.60h-2.05z" fill="#4b5029"/>
<path d="M46.0 122.95h2.05v1.60h-2.05z" fill="#484d28"/>
<path d="M48.0 122.95h2.05v1.60h-2.05z" fill="#4d532a"/>
<path d="M50.0 122.95h2.05v1.60h-2.05z" fill="#181a1c"/>
<path d="M52.0 122.95h2.05v1.60h-2.05z" fill="#595f2e"/>
<path d="M54.0 122.95h2.05v1.60h-2.05z" fill="#555b2c"/>
<path d="M56.0 122.95h2.05v1.60h-2.05z" fill="#4d522a"/>
<path d="M58.0 122.95h2.05v1.60h-2.05z" fill="#424726"/>
<path d="M60.0 122.95h2.05v1.60h-2.05z" fill="#3c4024"/>
<path d="M62.0 122.95h2.05v1.60h-2.05z" fill="#464b27"/>
<path d="M64.0 122.95h2.05v1.60h-2.05z" fill="#636a31"/>
<path d="M66.0 122.95h2.05v1.60h-2.05z" fill="#484d28"/>
<path d="M68.0 122.95h2.05v1.60h-2.05z" fill="#666d32"/>
<path d="M70.0 122.95h2.05v1.60h-2.05z" fill="#171816"/>
<path d="M72.0 122.95h2.05v1.60h-2.05z" fill="#414626"/>
<path d="M74.0 122.95h2.05v1.60h-2.05z" fill="#4f552a"/>
<path d="M76.0 122.95h2.05v1.60h-2.05z" fill="#494f28"/>
<path d="M78.0 122.95h2.05v1.60h-2.05z" fill="#292c1d"/>
<path d="M80.0 122.95h2.05v1.60h-2.05z" fill="#3d4224"/>
<path d="M82.0 122.95h2.05v1.60h-2.05z" fill="#646b31"/>
<path d="M84.0 122.95h2.05v1.60h-2.05z" fill="#313420"/>
<path d="M86.0 122.95h2.05v1.60h-2.05z" fill="#313520"/>
<path d="M88.0 122.95h2.05v1.60h-2.05z" fill="#2f321f"/>
<path d="M90.0 122.95h2.05v1.60h-2.05z" fill="#3a3e23"/>
<path d="M92.0 122.95h2.05v1.60h-2.05z" fill="#51562b"/>
<path d="M94.0 122.95h2.05v1.60h-2.05z" fill="#50552b"/>
<path d="M96.0 122.95h2.05v1.60h-2.05z" fill="#1c1e18"/>
<path d="M98.0 122.95h2.05v1.60h-2.05z" fill="#636931"/>
<path d="M100.0 122.95h2.05v1.60h-2.05z" fill="#393d23"/>
<path d="M102.0 122.95h2.05v1.60h-2.05z" fill="#393d23"/>
<path d="M104.0 122.95h2.05v1.60h-2.05z" fill="#676e32"/>
<path d="M106.0 122.95h2.05v1.60h-2.05z" fill="#434826"/>
<path d="M108.0 122.95h2.05v1.60h-2.05z" fill="#2c2f1e"/>
<path d="M110.0 122.95h2.05v1.60h-2.05z" fill="#383c23"/>
<path d="M112.0 122.95h2.05v1.60h-2.05z" fill="#373b22"/>
<path d="M114.0 122.95h2.05v1.60h-2.05z" fill="#313420"/>
<path d="M116.0 122.95h2.05v1.60h-2.05z" fill="#23283c"/>
<path d="M118.0 122.95h2.05v1.60h-2.05z" fill="#1d1f29"/>
<path d="M120.0 122.95h2.05v1.60h-2.05z" fill="#202332"/>
<path d="M122.0 122.95h2.05v1.60h-2.05z" fill="#262e49"/>
<path d="M124.0 122.95h2.05v1.60h-2.05z" fill="#272a1d"/>
<path d="M126.0 122.95h2.05v1.60h-2.05z" fill="#252c44"/>
<path d="M128.0 122.95h2.05v1.60h-2.05z" fill="#212537"/>
<path d="M130.0 122.95h2.05v1.60h-2.05z" fill="#222638"/>
<path d="M132.0 122.95h2.05v1.60h-2.05z" fill="#1d202b"/>
<path d="M134.0 122.95h2.05v1.60h-2.05z" fill="#23283c"/>
<path d="M136.0 122.95h2.05v1.60h-2.05z" fill="#1f2330"/>
<path d="M44.0 124.50h2.05v1.60h-2.05z" fill="#757c37"/>
<path d="M46.0 124.50h2.05v1.60h-2.05z" fill="#5b612e"/>
<path d="M48.0 124.50h2.05v1.60h-2.05z" fill="#7c8339"/>
<path d="M50.0 124.50h2.05v1.60h-2.05z" fill="#616730"/>
<path d="M52.0 124.50h2.05v1.60h-2.05z" fill="#6b7134"/>
<path d="M54.0 124.50h2.05v1.60h-2.05z" fill="#787f38"/>
<path d="M56.0 124.50h2.05v1.60h-2.05z" fill="#7c8339"/>
<path d="M58.0 124.50h2.05v1.60h-2.05z" fill="#6d7434"/>
<path d="M60.0 124.50h2.05v1.60h-2.05z" fill="#8c933f"/>
<path d="M62.0 124.50h2.05v1.60h-2.05z" fill="#6f7635"/>
<path d="M64.0 124.50h2.05v1.60h-2.05z" fill="#565c2d"/>
<path d="M66.0 124.50h2.05v1.60h-2.05z" fill="#8d933f"/>
<path d="M68.0 124.50h2.05v1.60h-2.05z" fill="#6b7234"/>
<path d="M70.0 124.50h2.05v1.60h-2.05z" fill="#989e42"/>
<path d="M72.0 124.50h2.05v1.60h-2.05z" fill="#646b31"/>
<path d="M74.0 124.50h2.05v1.60h-2.05z" fill="#848a3c"/>
<path d="M76.0 124.50h2.05v1.60h-2.05z" fill="#7b8239"/>
<path d="M78.0 124.50h2.05v1.60h-2.05z" fill="#3b3f24"/>
<path d="M80.0 124.50h2.05v1.60h-2.05z" fill="#52582b"/>
<path d="M82.0 124.50h2.05v1.60h-2.05z" fill="#5a602e"/>
<path d="M84.0 124.50h2.05v1.60h-2.05z" fill="#9ea444"/>
<path d="M86.0 124.50h2.05v1.60h-2.05z" fill="#292c1d"/>
<path d="M88.0 124.50h2.05v1.60h-2.05z" fill="#616830"/>
<path d="M90.0 124.50h2.05v1.60h-2.05z" fill="#656c32"/>
<path d="M92.0 124.50h2.05v1.60h-2.05z" fill="#585e2d"/>
<path d="M94.0 124.50h2.05v1.60h-2.05z" fill="#5c622f"/>
<path d="M96.0 124.50h2.05v1.60h-2.05z" fill="#444927"/>
<path d="M98.0 124.50h2.05v1.60h-2.05z" fill="#4d532a"/>
<path d="M100.0 124.50h2.05v1.60h-2.05z" fill="#52582b"/>
<path d="M102.0 124.50h2.05v1.60h-2.05z" fill="#565c2d"/>
<path d="M104.0 124.50h2.05v1.60h-2.05z" fill="#5d632f"/>
<path d="M106.0 124.50h2.05v1.60h-2.05z" fill="#4a4f29"/>
<path d="M108.0 124.50h2.05v1.60h-2.05z" fill="#404525"/>
<path d="M110.0 124.50h2.05v1.60h-2.05z" fill="#434826"/>
<path d="M112.0 124.50h2.05v1.60h-2.05z" fill="#565c2d"/>
<path d="M114.0 124.50h2.05v1.60h-2.05z" fill="#2e311f"/>
<path d="M116.0 124.50h2.05v1.60h-2.05z" fill="#242a41"/>
<path d="M118.0 124.50h2.05v1.60h-2.05z" fill="#222637"/>
<path d="M120.0 124.50h2.05v1.60h-2.05z" fill="#222739"/>
<path d="M122.0 124.50h2.05v1.60h-2.05z" fill="#212535"/>
<path d="M124.0 124.50h2.05v1.60h-2.05z" fill="#283252"/>
<path d="M126.0 124.50h2.05v1.60h-2.05z" fill="#212536"/>
<path d="M128.0 124.50h2.05v1.60h-2.05z" fill="#212434"/>
<path d="M130.0 124.50h2.05v1.60h-2.05z" fill="#1a1c22"/>
<path d="M132.0 124.50h2.05v1.60h-2.05z" fill="#262e4a"/>
<path d="M134.0 124.50h2.05v1.60h-2.05z" fill="#212535"/>
<path d="M136.0 124.50h2.05v1.60h-2.05z" fill="#1c1f27"/>
<path d="M44.0 126.05h2.05v1.60h-2.05z" fill="#767d37"/>
<path d="M46.0 126.05h2.05v1.60h-2.05z" fill="#737a36"/>
<path d="M48.0 126.05h2.05v1.60h-2.05z" fill="#464b27"/>
<path d="M50.0 126.05h2.05v1.60h-2.05z" fill="#697033"/>
<path d="M52.0 126.05h2.05v1.60h-2.05z" fill="#53592c"/>
<path d="M54.0 126.05h2.05v1.60h-2.05z" fill="#4a5029"/>
<path d="M56.0 126.05h2.05v1.60h-2.05z" fill="#80873b"/>
<path d="M58.0 126.05h2.05v1.60h-2.05z" fill="#4e532a"/>
<path d="M60.0 126.05h2.05v1.60h-2.05z" fill="#494f28"/>
<path d="M62.0 126.05h2.05v1.60h-2.05z" fill="#52582b"/>
<path d="M64.0 126.05h2.05v1.60h-2.05z" fill="#494f28"/>
<path d="M66.0 126.05h2.05v1.60h-2.05z" fill="#727936"/>
<path d="M68.0 126.05h2.05v1.60h-2.05z" fill="#636a31"/>
<path d="M70.0 126.05h2.05v1.60h-2.05z" fill="#7c8339"/>
<path d="M72.0 126.05h2.05v1.60h-2.05z" fill="#646b31"/>
<path d="M74.0 126.05h2.05v1.60h-2.05z" fill="#4e532a"/>
<path d="M76.0 126.05h2.05v1.60h-2.05z" fill="#737a36"/>
<path d="M78.0 126.05h2.05v1.60h-2.05z" fill="#4d532a"/>
<path d="M80.0 126.05h2.05v1.60h-2.05z" fill="#51572b"/>
<path d="M82.0 126.05h2.05v1.60h-2.05z" fill="#575d2d"/>
<path d="M84.0 126.05h2.05v1.60h-2.05z" fill="#5c622f"/>
<path d="M86.0 126.05h2.05v1.60h-2.05z" fill="#707635"/>
<path d="M88.0 126.05h2.05v1.60h-2.05z" fill="#494e28"/>
<path d="M90.0 126.05h2.05v1.60h-2.05z" fill="#5c632f"/>
<path d="M92.0 126.05h2.05v1.60h-2.05z" fill="#545a2c"/>
<path d="M94.0 126.05h2.05v1.60h-2.05z" fill="#3c4124"/>
<path d="M96.0 126.05h2.05v1.60h-2.05z" fill="#3f4425"/>
<path d="M98.0 126.05h2.05v1.60h-2.05z" fill="#50562b"/>
<path d="M100.0 126.05h2.05v1.60h-2.05z" fill="#5d642f"/>
<path d="M102.0 126.05h2.05v1.60h-2.05z" fill="#5c622f"/>
<path d="M104.0 126.05h2.05v1.60h-2.05z" fill="#5f6630"/>
<path d="M106.0 126.05h2.05v1.60h-2.05z" fill="#555b2c"/>
<path d="M108.0 126.05h2.05v1.60h-2.05z" fill="#4c5129"/>
<path d="M110.0 126.05h2.05v1.60h-2.05z" fill="#5e642f"/>
<path d="M112.0 126.05h2.05v1.60h-2.05z" fill="#414626"/>
<path d="M114.0 126.05h2.05v1.60h-2.05z" fill="#3b3f24"/>
<path d="M116.0 126.05h2.05v1.60h-2.05z" fill="#252b43"/>
<path d="M118.0 126.05h2.05v1.60h-2.05z" fill="#283150"/>
<path d="M120.0 126.05h2.05v1.60h-2.05z" fill="#252c45"/>
<path d="M122.0 126.05h2.05v1.60h-2.05z" fill="#262d48"/>
<path d="M124.0 126.05h2.05v1.60h-2.05z" fill="#252c46"/>
<path d="M126.0 126.05h2.05v1.60h-2.05z" fill="#242a40"/>
<path d="M128.0 126.05h2.05v1.60h-2.05z" fill="#262e49"/>
<path d="M130.0 126.05h2.05v1.60h-2.05z" fill="#252c44"/>
<path d="M132.0 126.05h2.05v1.60h-2.05z" fill="#283354"/>
<path d="M134.0 126.05h2.05v1.60h-2.05z" fill="#23293e"/>
<path d="M136.0 126.05h2.05v1.60h-2.05z" fill="#262e4a"/>
<path d="M44.0 127.60h2.05v1.60h-2.05z" fill="#21231a"/>
<path d="M46.0 127.60h2.05v1.60h-2.05z" fill="#494f28"/>
<path d="M48.0 127.60h2.05v1.60h-2.05z" fill="#5f6530"/>
<path d="M50.0 127.60h2.05v1.60h-2.05z" fill="#292c1d"/>
<path d="M52.0 127.60h2.05v1.60h-2.05z" fill="#52582b"/>
<path d="M54.0 127.60h2.05v1.60h-2.05z" fill="#5c622f"/>
<path d="M56.0 127.60h2.05v1.60h-2.05z" fill="#5c622f"/>
<path d="M58.0 127.60h2.05v1.60h-2.05z" fill="#3c4024"/>
<path d="M60.0 127.60h2.05v1.60h-2.05z" fill="#5f6530"/>
<path d="M62.0 127.60h2.05v1.60h-2.05z" fill="#5d632f"/>
<path d="M64.0 127.60h2.05v1.60h-2.05z" fill="#464b27"/>
<path d="M66.0 127.60h2.05v1.60h-2.05z" fill="#6b7134"/>
<path d="M68.0 127.60h2.05v1.60h-2.05z" fill="#585e2d"/>
<path d="M70.0 127.60h2.05v1.60h-2.05z" fill="#5a602e"/>
<path d="M72.0 127.60h2.05v1.60h-2.05z" fill="#50562b"/>
<path d="M74.0 127.60h2.05v1.60h-2.05z" fill="#666d32"/>
<path d="M76.0 127.60h2.05v1.60h-2.05z" fill="#5c622f"/>
<path d="M78.0 127.60h2.05v1.60h-2.05z" fill="#747a37"/>
<path d="M80.0 127.60h2.05v1.60h-2.05z" fill="#646a31"/>
<path d="M82.0 127.60h2.05v1.60h-2.05z" fill="#4d522a"/>
<path d="M84.0 127.60h2.05v1.60h-2.05z" fill="#545a2c"/>
<path d="M86.0 127.60h2.05v1.60h-2.05z" fill="#686f33"/>
<path d="M88.0 127.60h2.05v1.60h-2.05z" fill="#4c5229"/>
<path d="M90.0 127.60h2.05v1.60h-2.05z" fill="#5c622f"/>
<path d="M92.0 127.60h2.05v1.60h-2.05z" fill="#5f6530"/>
<path d="M94.0 127.60h2.05v1.60h-2.05z" fill="#50552b"/>
<path d="M96.0 127.60h2.05v1.60h-2.05z" fill="#26281c"/>
<path d="M98.0 127.60h2.05v1.60h-2.05z" fill="#565c2d"/>
<path d="M100.0 127.60h2.05v1.60h-2.05z" fill="#585e2d"/>
<path d="M102.0 127.60h2.05v1.60h-2.05z" fill="#565c2d"/>
<path d="M104.0 127.60h2.05v1.60h-2.05z" fill="#454a27"/>
<path d="M106.0 127.60h2.05v1.60h-2.05z" fill="#6f7535"/>
<path d="M108.0 127.60h2.05v1.60h-2.05z" fill="#51562b"/>
<path d="M110.0 127.60h2.05v1.60h-2.05z" fill="#474c28"/>
<path d="M112.0 127.60h2.05v1.60h-2.05z" fill="#454a27"/>
<path d="M114.0 127.60h2.05v1.60h-2.05z" fill="#5b612e"/>
<path d="M116.0 127.60h2.05v1.60h-2.05z" fill="#212434"/>
<path d="M118.0 127.60h2.05v1.60h-2.05z" fill="#202433"/>
<path d="M120.0 127.60h2.05v1.60h-2.05z" fill="#333721"/>
<path d="M122.0 127.60h2.05v1.60h-2.05z" fill="#25271c"/>
<path d="M124.0 127.60h2.05v1.60h-2.05z" fill="#20221a"/>
<path d="M126.0 127.60h2.05v1.60h-2.05z" fill="#26291c"/>
<path d="M128.0 127.60h2.05v1.60h-2.05z" fill="#161716"/>
<path d="M130.0 127.60h2.05v1.60h-2.05z" fill="#23283d"/>
<path d="M132.0 127.60h2.05v1.60h-2.05z" fill="#23251b"/>
<path d="M134.0 127.60h2.05v1.60h-2.05z" fill="#24261b"/>
<path d="M136.0 127.60h2.05v1.60h-2.05z" fill="#171818"/>
<path d="M44.0 129.15h2.05v1.60h-2.05z" fill="#161717"/>
<path d="M46.0 129.15h2.05v1.60h-2.05z" fill="#171816"/>
<path d="M48.0 129.15h2.05v1.60h-2.05z" fill="#212537"/>
<path d="M50.0 129.15h2.05v1.60h-2.05z" fill="#1e202b"/>
<path d="M52.0 129.15h2.05v1.60h-2.05z" fill="#191b20"/>
<path d="M54.0 129.15h2.05v1.60h-2.05z" fill="#1f222f"/>
<path d="M56.0 129.15h2.05v1.60h-2.05z" fill="#17191a"/>
<path d="M58.0 129.15h2.05v1.60h-2.05z" fill="#1e212c"/>
<path d="M60.0 129.15h2.05v1.60h-2.05z" fill="#1a1c21"/>
<path d="M62.0 129.15h2.05v1.60h-2.05z" fill="#1e212c"/>
<path d="M64.0 129.15h2.05v1.60h-2.05z" fill="#242b43"/>
<path d="M66.0 129.15h2.05v1.60h-2.05z" fill="#23283d"/>
<path d="M68.0 129.15h2.05v1.60h-2.05z" fill="#3c4024"/>
<path d="M70.0 129.15h2.05v1.60h-2.05z" fill="#1d1f29"/>
<path d="M72.0 129.15h2.05v1.60h-2.05z" fill="#161716"/>
<path d="M74.0 129.15h2.05v1.60h-2.05z" fill="#171819"/>
<path d="M76.0 129.15h2.05v1.60h-2.05z" fill="#1e2019"/>
<path d="M78.0 129.15h2.05v1.60h-2.05z" fill="#1b1d24"/>
<path d="M80.0 129.15h2.05v1.60h-2.05z" fill="#222638"/>
<path d="M82.0 129.15h2.05v1.60h-2.05z" fill="#1e212d"/>
<path d="M84.0 129.15h2.05v1.60h-2.05z" fill="#262d48"/>
<path d="M86.0 129.15h2.05v1.60h-2.05z" fill="#202331"/>
<path d="M88.0 129.15h2.05v1.60h-2.05z" fill="#191a1d"/>
<path d="M90.0 129.15h2.05v1.60h-2.05z" fill="#262f4b"/>
<path d="M92.0 129.15h2.05v1.60h-2.05z" fill="#1d202a"/>
<path d="M94.0 129.15h2.05v1.60h-2.05z" fill="#191b1f"/>
<path d="M96.0 129.15h2.05v1.60h-2.05z" fill="#171816"/>
<path d="M98.0 129.15h2.05v1.60h-2.05z" fill="#23283c"/>
<path d="M100.0 129.15h2.05v1.60h-2.05z" fill="#222639"/>
<path d="M102.0 129.15h2.05v1.60h-2.05z" fill="#262d47"/>
<path d="M104.0 129.15h2.05v1.60h-2.05z" fill="#23283d"/>
<path d="M106.0 129.15h2.05v1.60h-2.05z" fill="#1b1d24"/>
<path d="M108.0 129.15h2.05v1.60h-2.05z" fill="#26281c"/>
<path d="M110.0 129.15h2.05v1.60h-2.05z" fill="#24293f"/>
<path d="M112.0 129.15h2.05v1.60h-2.05z" fill="#181917"/>
<path d="M114.0 129.15h2.05v1.60h-2.05z" fill="#1c1e26"/>
<path d="M116.0 129.15h2.05v1.60h-2.05z" fill="#242a41"/>
<path d="M118.0 129.15h2.05v1.60h-2.05z" fill="#171816"/>
<path d="M120.0 129.15h2.05v1.60h-2.05z" fill="#2a365b"/>
<path d="M122.0 129.15h2.05v1.60h-2.05z" fill="#23283c"/>
<path d="M124.0 129.15h2.05v1.60h-2.05z" fill="#222639"/>
<path d="M126.0 129.15h2.05v1.60h-2.05z" fill="#161716"/>
<path d="M128.0 129.15h2.05v1.60h-2.05z" fill="#181a1c"/>
<path d="M130.0 129.15h2.05v1.60h-2.05z" fill="#191a17"/>
<path d="M132.0 129.15h2.05v1.60h-2.05z" fill="#22273a"/>
<path d="M134.0 129.15h2.05v1.60h-2.05z" fill="#1d202b"/>
<path d="M136.0 129.15h2.05v1.60h-2.05z" fill="#1b1d24"/>
<path d="M44.0 130.70h2.05v1.60h-2.05z" fill="#202332"/>
<path d="M46.0 130.70h2.05v1.60h-2.05z" fill="#23273b"/>
<path d="M48.0 130.70h2.05v1.60h-2.05z" fill="#23283d"/>
<path d="M50.0 130.70h2.05v1.60h-2.05z" fill="#252d47"/>
<path d="M52.0 130.70h2.05v1.60h-2.05z" fill="#171816"/>
<path d="M54.0 130.70h2.05v1.60h-2.05z" fill="#23293e"/>
<path d="M56.0 130.70h2.05v1.60h-2.05z" fill="#283251"/>
<path d="M58.0 130.70h2.05v1.60h-2.05z" fill="#212434"/>
<path d="M60.0 130.70h2.05v1.60h-2.05z" fill="#222639"/>
<path d="M62.0 130.70h2.05v1.60h-2.05z" fill="#212535"/>
<path d="M64.0 130.70h2.05v1.60h-2.05z" fill="#171818"/>
<path d="M66.0 130.70h2.05v1.60h-2.05z" fill="#22273a"/>
<path d="M68.0 130.70h2.05v1.60h-2.05z" fill="#23283c"/>
<path d="M70.0 130.70h2.05v1.60h-2.05z" fill="#242a41"/>
<path d="M72.0 130.70h2.05v1.60h-2.05z" fill="#222639"/>
<path d="M74.0 130.70h2.05v1.60h-2.05z" fill="#23293e"/>
<path d="M76.0 130.70h2.05v1.60h-2.05z" fill="#212535"/>
<path d="M78.0 130.70h2.05v1.60h-2.05z" fill="#2f321f"/>
<path d="M80.0 130.70h2.05v1.60h-2.05z" fill="#202331"/>
<path d="M82.0 130.70h2.05v1.60h-2.05z" fill="#242b43"/>
<path d="M84.0 130.70h2.05v1.60h-2.05z" fill="#171816"/>
<path d="M86.0 130.70h2.05v1.60h-2.05z" fill="#1e222e"/>
<path d="M88.0 130.70h2.05v1.60h-2.05z" fill="#1f222f"/>
<path d="M90.0 130.70h2.05v1.60h-2.05z" fill="#1f2331"/>
<path d="M92.0 130.70h2.05v1.60h-2.05z" fill="#1f222f"/>
<path d="M94.0 130.70h2.05v1.60h-2.05z" fill="#202331"/>
<path d="M96.0 130.70h2.05v1.60h-2.05z" fill="#1b1d24"/>
<path d="M98.0 130.70h2.05v1.60h-2.05z" fill="#1e202b"/>
<path d="M100.0 130.70h2.05v1.60h-2.05z" fill="#1b1e25"/>
<path d="M102.0 130.70h2.05v1.60h-2.05z" fill="#242a42"/>
<path d="M104.0 130.70h2.05v1.60h-2.05z" fill="#23283c"/>
<path d="M106.0 130.70h2.05v1.60h-2.05z" fill="#252c44"/>
<path d="M108.0 130.70h2.05v1.60h-2.05z" fill="#1e212c"/>
<path d="M110.0 130.70h2.05v1.60h-2.05z" fill="#1f222f"/>
<path d="M112.0 130.70h2.05v1.60h-2.05z" fill="#242a41"/>
<path d="M114.0 130.70h2.05v1.60h-2.05z" fill="#202433"/>
<path d="M116.0 130.70h2.05v1.60h-2.05z" fill="#1a1c22"/>
<path d="M118.0 130.70h2.05v1.60h-2.05z" fill="#23273a"/>
<path d="M120.0 130.70h2.05v1.60h-2.05z" fill="#293558"/>
<path d="M122.0 130.70h2.05v1.60h-2.05z" fill="#262e4a"/>
<path d="M124.0 130.70h2.05v1.60h-2.05z" fill="#242a42"/>
<path d="M126.0 130.70h2.05v1.60h-2.05z" fill="#262e4a"/>
<path d="M128.0 130.70h2.05v1.60h-2.05z" fill="#252c44"/>
<path d="M130.0 130.70h2.05v1.60h-2.05z" fill="#23273b"/>
<path d="M132.0 130.70h2.05v1.60h-2.05z" fill="#252c45"/>
<path d="M134.0 130.70h2.05v1.60h-2.05z" fill="#293557"/>
<path d="M136.0 130.70h2.05v1.60h-2.05z" fill="#242a41"/>
<path d="M44.0 132.25h2.05v1.60h-2.05z" fill="#23283c"/>
<path d="M46.0 132.25h2.05v1.60h-2.05z" fill="#252c44"/>
<path d="M48.0 132.25h2.05v1.60h-2.05z" fill="#27304e"/>
<path d="M50.0 132.25h2.05v1.60h-2.05z" fill="#272f4c"/>
<path d="M52.0 132.25h2.05v1.60h-2.05z" fill="#242a41"/>
<path d="M54.0 132.25h2.05v1.60h-2.05z" fill="#262e4a"/>
<path d="M56.0 132.25h2.05v1.60h-2.05z" fill="#2b3961"/>
<path d="M58.0 132.25h2.05v1.60h-2.05z" fill="#1d202b"/>
<path d="M60.0 132.25h2.05v1.60h-2.05z" fill="#262f4b"/>
<path d="M62.0 132.25h2.05v1.60h-2.05z" fill="#252c46"/>
<path d="M64.0 132.25h2.05v1.60h-2.05z" fill="#212536"/>
<path d="M66.0 132.25h2.05v1.60h-2.05z" fill="#2a375c"/>
<path d="M68.0 132.25h2.05v1.60h-2.05z" fill="#1c1f28"/>
<path d="M70.0 132.25h2.05v1.60h-2.05z" fill="#252d46"/>
<path d="M72.0 132.25h2.05v1.60h-2.05z" fill="#212434"/>
<path d="M74.0 132.25h2.05v1.60h-2.05z" fill="#252b43"/>
<path d="M76.0 132.25h2.05v1.60h-2.05z" fill="#22273a"/>
<path d="M78.0 132.25h2.05v1.60h-2.05z" fill="#23283c"/>
<path d="M80.0 132.25h2.05v1.60h-2.05z" fill="#23283d"/>
<path d="M82.0 132.25h2.05v1.60h-2.05z" fill="#283353"/>
<path d="M84.0 132.25h2.05v1.60h-2.05z" fill="#27314f"/>
<path d="M86.0 132.25h2.05v1.60h-2.05z" fill="#242a41"/>
<path d="M88.0 132.25h2.05v1.60h-2.05z" fill="#1e202b"/>
<path d="M90.0 132.25h2.05v1.60h-2.05z" fill="#252d47"/>
<path d="M92.0 132.25h2.05v1.60h-2.05z" fill="#23273a"/>
<path d="M94.0 132.25h2.05v1.60h-2.05z" fill="#24293f"/>
<path d="M96.0 132.25h2.05v1.60h-2.05z" fill="#23273b"/>
<path d="M98.0 132.25h2.05v1.60h-2.05z" fill="#202433"/>
<path d="M100.0 132.25h2.05v1.60h-2.05z" fill="#283253"/>
<path d="M102.0 132.25h2.05v1.60h-2.05z" fill="#23283d"/>
<path d="M104.0 132.25h2.05v1.60h-2.05z" fill="#242b43"/>
<path d="M106.0 132.25h2.05v1.60h-2.05z" fill="#252c44"/>
<path d="M108.0 132.25h2.05v1.60h-2.05z" fill="#262f4b"/>
<path d="M110.0 132.25h2.05v1.60h-2.05z" fill="#262e4a"/>
<path d="M112.0 132.25h2.05v1.60h-2.05z" fill="#27304d"/>
<path d="M114.0 132.25h2.05v1.60h-2.05z" fill="#27304e"/>
<path d="M116.0 132.25h2.05v1.60h-2.05z" fill="#1e212c"/>
<path d="M118.0 132.25h2.05v1.60h-2.05z" fill="#22273a"/>
<path d="M120.0 132.25h2.05v1.60h-2.05z" fill="#27304e"/>
<path d="M122.0 132.25h2.05v1.60h-2.05z" fill="#252c45"/>
<path d="M124.0 132.25h2.05v1.60h-2.05z" fill="#2a375c"/>
<path d="M126.0 132.25h2.05v1.60h-2.05z" fill="#2e4273"/>
<path d="M128.0 132.25h2.05v1.60h-2.05z" fill="#2c3d68"/>
<path d="M130.0 132.25h2.05v1.60h-2.05z" fill="#272f4c"/>
<path d="M132.0 132.25h2.05v1.60h-2.05z" fill="#23283d"/>
<path d="M134.0 132.25h2.05v1.60h-2.05z" fill="#27304e"/>
<path d="M136.0 132.25h2.05v1.60h-2.05z" fill="#2a375c"/>
<path d="M44.0 133.80h2.05v1.60h-2.05z" fill="#293355"/>
<path d="M46.0 133.80h2.05v1.60h-2.05z" fill="#2a365b"/>
<path d="M48.0 133.80h2.05v1.60h-2.05z" fill="#262f4b"/>
<path d="M50.0 133.80h2.05v1.60h-2.05z" fill="#27304d"/>
<path d="M52.0 133.80h2.05v1.60h-2.05z" fill="#283252"/>
<path d="M54.0 133.80h2.05v1.60h-2.05z" fill="#283353"/>
<path d="M56.0 133.80h2.05v1.60h-2.05z" fill="#283354"/>
<path d="M58.0 133.80h2.05v1.60h-2.05z" fill="#252c46"/>
<path d="M60.0 133.80h2.05v1.60h-2.05z" fill="#222638"/>
<path d="M62.0 133.80h2.05v1.60h-2.05z" fill="#262f4b"/>
<path d="M64.0 133.80h2.05v1.60h-2.05z" fill="#1c1f28"/>
<path d="M66.0 133.80h2.05v1.60h-2.05z" fill="#2a385e"/>
<path d="M68.0 133.80h2.05v1.60h-2.05z" fill="#252c45"/>
<path d="M70.0 133.80h2.05v1.60h-2.05z" fill="#293557"/>
<path d="M72.0 133.80h2.05v1.60h-2.05z" fill="#262e4a"/>
<path d="M74.0 133.80h2.05v1.60h-2.05z" fill="#262d47"/>
<path d="M76.0 133.80h2.05v1.60h-2.05z" fill="#242a42"/>
<path d="M78.0 133.80h2.05v1.60h-2.05z" fill="#23273b"/>
<path d="M80.0 133.80h2.05v1.60h-2.05z" fill="#27314f"/>
<path d="M82.0 133.80h2.05v1.60h-2.05z" fill="#293559"/>
<path d="M84.0 133.80h2.05v1.60h-2.05z" fill="#262f4b"/>
<path d="M86.0 133.80h2.05v1.60h-2.05z" fill="#23293e"/>
<path d="M88.0 133.80h2.05v1.60h-2.05z" fill="#262e4a"/>
<path d="M90.0 133.80h2.05v1.60h-2.05z" fill="#212537"/>
<path d="M92.0 133.80h2.05v1.60h-2.05z" fill="#1c1f28"/>
<path d="M94.0 133.80h2.05v1.60h-2.05z" fill="#283253"/>
<path d="M96.0 133.80h2.05v1.60h-2.05z" fill="#23283d"/>
<path d="M98.0 133.80h2.05v1.60h-2.05z" fill="#212434"/>
<path d="M100.0 133.80h2.05v1.60h-2.05z" fill="#2a365a"/>
<path d="M102.0 133.80h2.05v1.60h-2.05z" fill="#24293f"/>
<path d="M104.0 133.80h2.05v1.60h-2.05z" fill="#252c44"/>
<path d="M106.0 133.80h2.05v1.60h-2.05z" fill="#283253"/>
<path d="M108.0 133.80h2.05v1.60h-2.05z" fill="#1f222f"/>
<path d="M110.0 133.80h2.05v1.60h-2.05z" fill="#24293f"/>
<path d="M112.0 133.80h2.05v1.60h-2.05z" fill="#262d47"/>
<path d="M114.0 133.80h2.05v1.60h-2.05z" fill="#23283c"/>
<path d="M116.0 133.80h2.05v1.60h-2.05z" fill="#262d47"/>
<path d="M118.0 133.80h2.05v1.60h-2.05z" fill="#252c46"/>
<path d="M120.0 133.80h2.05v1.60h-2.05z" fill="#262d48"/>
<path d="M122.0 133.80h2.05v1.60h-2.05z" fill="#262e4a"/>
<path d="M124.0 133.80h2.05v1.60h-2.05z" fill="#2b3960"/>
<path d="M126.0 133.80h2.05v1.60h-2.05z" fill="#283355"/>
<path d="M128.0 133.80h2.05v1.60h-2.05z" fill="#27304e"/>
<path d="M130.0 133.80h2.05v1.60h-2.05z" fill="#2e4273"/>
<path d="M132.0 133.80h2.05v1.60h-2.05z" fill="#212434"/>
<path d="M134.0 133.80h2.05v1.60h-2.05z" fill="#283354"/>
<path d="M136.0 133.80h2.05v1.60h-2.05z" fill="#2a385e"/>
<path d="M44.0 135.35h2.05v1.60h-2.05z" fill="#283252"/>
<path d="M46.0 135.35h2.05v1.60h-2.05z" fill="#293455"/>
<path d="M48.0 135.35h2.05v1.60h-2.05z" fill="#2a385f"/>
<path d="M50.0 135.35h2.05v1.60h-2.05z" fill="#2a375c"/>
<path d="M52.0 135.35h2.05v1.60h-2.05z" fill="#2b3a63"/>
<path d="M54.0 135.35h2.05v1.60h-2.05z" fill="#2b3961"/>
<path d="M56.0 135.35h2.05v1.60h-2.05z" fill="#293557"/>
<path d="M58.0 135.35h2.05v1.60h-2.05z" fill="#2a3960"/>
<path d="M60.0 135.35h2.05v1.60h-2.05z" fill="#27304d"/>
<path d="M62.0 135.35h2.05v1.60h-2.05z" fill="#293558"/>
<path d="M64.0 135.35h2.05v1.60h-2.05z" fill="#283354"/>
<path d="M66.0 135.35h2.05v1.60h-2.05z" fill="#283150"/>
<path d="M68.0 135.35h2.05v1.60h-2.05z" fill="#252c46"/>
<path d="M70.0 135.35h2.05v1.60h-2.05z" fill="#27304e"/>
<path d="M72.0 135.35h2.05v1.60h-2.05z" fill="#283252"/>
<path d="M74.0 135.35h2.05v1.60h-2.05z" fill="#293558"/>
<path d="M76.0 135.35h2.05v1.60h-2.05z" fill="#2b3a62"/>
<path d="M78.0 135.35h2.05v1.60h-2.05z" fill="#2a365b"/>
<path d="M80.0 135.35h2.05v1.60h-2.05z" fill="#27304d"/>
<path d="M82.0 135.35h2.05v1.60h-2.05z" fill="#283252"/>
<path d="M84.0 135.35h2.05v1.60h-2.05z" fill="#2a375c"/>
<path d="M86.0 135.35h2.05v1.60h-2.05z" fill="#2b3a61"/>
<path d="M88.0 135.35h2.05v1.60h-2.05z" fill="#2b3b65"/>
<path d="M90.0 135.35h2.05v1.60h-2.05z" fill="#262f4a"/>
<path d="M92.0 135.35h2.05v1.60h-2.05z" fill="#242b42"/>
<path d="M94.0 135.35h2.05v1.60h-2.05z" fill="#262e4a"/>
<path d="M96.0 135.35h2.05v1.60h-2.05z" fill="#2b3a62"/>
<path d="M98.0 135.35h2.05v1.60h-2.05z" fill="#283151"/>
<path d="M100.0 135.35h2.05v1.60h-2.05z" fill="#272f4c"/>
<path d="M102.0 135.35h2.05v1.60h-2.05z" fill="#2a365b"/>
<path d="M104.0 135.35h2.05v1.60h-2.05z" fill="#262e4a"/>
<path d="M106.0 135.35h2.05v1.60h-2.05z" fill="#283151"/>
<path d="M108.0 135.35h2.05v1.60h-2.05z" fill="#29365a"/>
<path d="M110.0 135.35h2.05v1.60h-2.05z" fill="#2b3960"/>
<path d="M112.0 135.35h2.05v1.60h-2.05z" fill="#252c45"/>
<path d="M114.0 135.35h2.05v1.60h-2.05z" fill="#262e4a"/>
<path d="M116.0 135.35h2.05v1.60h-2.05z" fill="#2d3e6c"/>
<path d="M118.0 135.35h2.05v1.60h-2.05z" fill="#2d3f6e"/>
<path d="M120.0 135.35h2.05v1.60h-2.05z" fill="#283251"/>
<path d="M122.0 135.35h2.05v1.60h-2.05z" fill="#293455"/>
<path d="M124.0 135.35h2.05v1.60h-2.05z" fill="#2b3a63"/>
<path d="M126.0 135.35h2.05v1.60h-2.05z" fill="#262e49"/>
<path d="M128.0 135.35h2.05v1.60h-2.05z" fill="#2b3a63"/>
<path d="M130.0 135.35h2.05v1.60h-2.05z" fill="#2d406e"/>
<path d="M132.0 135.35h2.05v1.60h-2.05z" fill="#27304f"/>
<path d="M134.0 135.35h2.05v1.60h-2.05z" fill="#2b3961"/>
<path d="M136.0 135.35h2.05v1.60h-2.05z" fill="#293559"/>
<path d="M44.0 136.90h2.05v1.60h-2.05z" fill="#202332"/>
<path d="M46.0 136.90h2.05v1.60h-2.05z" fill="#212535"/>
<path d="M48.0 136.90h2.05v1.60h-2.05z" fill="#1b1d23"/>
<path d="M50.0 136.90h2.05v1.60h-2.05z" fill="#282b1d"/>
<path d="M52.0 136.90h2.05v1.60h-2.05z" fill="#202332"/>
<path d="M54.0 136.90h2.05v1.60h-2.05z" fill="#272a1c"/>
<path d="M56.0 136.90h2.05v1.60h-2.05z" fill="#181a1c"/>
<path d="M58.0 136.90h2.05v1.60h-2.05z" fill="#212434"/>
<path d="M60.0 136.90h2.05v1.60h-2.05z" fill="#18191b"/>
<path d="M62.0 136.90h2.05v1.60h-2.05z" fill="#171816"/>
<path d="M64.0 136.90h2.05v1.60h-2.05z" fill="#1f2330"/>
<path d="M66.0 136.90h2.05v1.60h-2.05z" fill="#242a42"/>
<path d="M68.0 136.90h2.05v1.60h-2.05z" fill="#171819"/>
<path d="M70.0 136.90h2.05v1.60h-2.05z" fill="#212434"/>
<path d="M72.0 136.90h2.05v1.60h-2.05z" fill="#171818"/>
<path d="M74.0 136.90h2.05v1.60h-2.05z" fill="#24293f"/>
<path d="M76.0 136.90h2.05v1.60h-2.05z" fill="#1a1c22"/>
<path d="M78.0 136.90h2.05v1.60h-2.05z" fill="#1f222e"/>
<path d="M80.0 136.90h2.05v1.60h-2.05z" fill="#22273a"/>
<path d="M82.0 136.90h2.05v1.60h-2.05z" fill="#1b1d24"/>
<path d="M84.0 136.90h2.05v1.60h-2.05z" fill="#181a1d"/>
<path d="M86.0 136.90h2.05v1.60h-2.05z" fill="#1f222f"/>
<path d="M88.0 136.90h2.05v1.60h-2.05z" fill="#22273a"/>
<path d="M90.0 136.90h2.05v1.60h-2.05z" fill="#1a1c21"/>
<path d="M92.0 136.90h2.05v1.60h-2.05z" fill="#242a40"/>
<path d="M94.0 136.90h2.05v1.60h-2.05z" fill="#18191b"/>
<path d="M96.0 136.90h2.05v1.60h-2.05z" fill="#181a1c"/>
<path d="M98.0 136.90h2.05v1.60h-2.05z" fill="#282a1d"/>
<path d="M100.0 136.90h2.05v1.60h-2.05z" fill="#171917"/>
<path d="M102.0 136.90h2.05v1.60h-2.05z" fill="#191b1e"/>
<path d="M104.0 136.90h2.05v1.60h-2.05z" fill="#1a1b20"/>
<path d="M106.0 136.90h2.05v1.60h-2.05z" fill="#1b1d24"/>
<path d="M108.0 136.90h2.05v1.60h-2.05z" fill="#23273b"/>
<path d="M110.0 136.90h2.05v1.60h-2.05z" fill="#23261b"/>
<path d="M112.0 136.90h2.05v1.60h-2.05z" fill="#18191b"/>
<path d="M114.0 136.90h2.05v1.60h-2.05z" fill="#1d202a"/>
<path d="M116.0 136.90h2.05v1.60h-2.05z" fill="#606730"/>
<path d="M118.0 136.90h2.05v1.60h-2.05z" fill="#aaaf48"/>
<path d="M120.0 136.90h2.05v1.60h-2.05z" fill="#8d933f"/>
<path d="M122.0 136.90h2.05v1.60h-2.05z" fill="#5f6630"/>
<path d="M124.0 136.90h2.05v1.60h-2.05z" fill="#919740"/>
<path d="M126.0 136.90h2.05v1.60h-2.05z" fill="#aaaf48"/>
<path d="M128.0 136.90h2.05v1.60h-2.05z" fill="#7b8239"/>
<path d="M130.0 136.90h2.05v1.60h-2.05z" fill="#898f3d"/>
<path d="M132.0 136.90h2.05v1.60h-2.05z" fill="#717836"/>
<path d="M134.0 136.90h2.05v1.60h-2.05z" fill="#6c7334"/>
<path d="M136.0 136.90h2.05v1.60h-2.05z" fill="#9ea444"/>
<path d="M44.0 138.45h2.05v1.60h-2.05z" fill="#52582b"/>
<path d="M46.0 138.45h2.05v1.60h-2.05z" fill="#4d532a"/>
<path d="M48.0 138.45h2.05v1.60h-2.05z" fill="#616830"/>
<path d="M50.0 138.45h2.05v1.60h-2.05z" fill="#4a4f29"/>
<path d="M52.0 138.45h2.05v1.60h-2.05z" fill="#606630"/>
<path d="M54.0 138.45h2.05v1.60h-2.05z" fill="#626831"/>
<path d="M56.0 138.45h2.05v1.60h-2.05z" fill="#3c4124"/>
<path d="M58.0 138.45h2.05v1.60h-2.05z" fill="#3b3f24"/>
<path d="M60.0 138.45h2.05v1.60h-2.05z" fill="#4e542a"/>
<path d="M62.0 138.45h2.05v1.60h-2.05z" fill="#626831"/>
<path d="M64.0 138.45h2.05v1.60h-2.05z" fill="#555b2c"/>
<path d="M66.0 138.45h2.05v1.60h-2.05z" fill="#6b7234"/>
<path d="M68.0 138.45h2.05v1.60h-2.05z" fill="#353922"/>
<path d="M70.0 138.45h2.05v1.60h-2.05z" fill="#5a602e"/>
<path d="M72.0 138.45h2.05v1.60h-2.05z" fill="#444927"/>
<path d="M74.0 138.45h2.05v1.60h-2.05z" fill="#52572b"/>
<path d="M76.0 138.45h2.05v1.60h-2.05z" fill="#565c2d"/>
<path d="M78.0 138.45h2.05v1.60h-2.05z" fill="#3d4224"/>
<path d="M80.0 138.45h2.05v1.60h-2.05z" fill="#4b5129"/>
<path d="M82.0 138.45h2.05v1.60h-2.05z" fill="#393e23"/>
<path d="M84.0 138.45h2.05v1.60h-2.05z" fill="#555b2c"/>
<path d="M86.0 138.45h2.05v1.60h-2.05z" fill="#1d1f19"/>
<path d="M88.0 138.45h2.05v1.60h-2.05z" fill="#25271c"/>
<path d="M90.0 138.45h2.05v1.60h-2.05z" fill="#333721"/>
<path d="M92.0 138.45h2.05v1.60h-2.05z" fill="#21241a"/>
<path d="M94.0 138.45h2.05v1.60h-2.05z" fill="#454a27"/>
<path d="M96.0 138.45h2.05v1.60h-2.05z" fill="#22241a"/>
<path d="M98.0 138.45h2.05v1.60h-2.05z" fill="#404425"/>
<path d="M100.0 138.45h2.05v1.60h-2.05z" fill="#353921"/>
<path d="M102.0 138.45h2.05v1.60h-2.05z" fill="#1a1b17"/>
<path d="M104.0 138.45h2.05v1.60h-2.05z" fill="#2a2d1e"/>
<path d="M106.0 138.45h2.05v1.60h-2.05z" fill="#1e1f19"/>
<path d="M108.0 138.45h2.05v1.60h-2.05z" fill="#272a1d"/>
<path d="M110.0 138.45h2.05v1.60h-2.05z" fill="#292c1d"/>
<path d="M112.0 138.45h2.05v1.60h-2.05z" fill="#52582b"/>
<path d="M114.0 138.45h2.05v1.60h-2.05z" fill="#26291c"/>
<path d="M116.0 138.45h2.05v1.60h-2.05z" fill="#aaaf48"/>
<path d="M118.0 138.45h2.05v1.60h-2.05z" fill="#aaaf48"/>
<path d="M120.0 138.45h2.05v1.60h-2.05z" fill="#939941"/>
<path d="M122.0 138.45h2.05v1.60h-2.05z" fill="#747b37"/>
<path d="M124.0 138.45h2.05v1.60h-2.05z" fill="#aaaf48"/>
<path d="M126.0 138.45h2.05v1.60h-2.05z" fill="#7d843a"/>
<path d="M128.0 138.45h2.05v1.60h-2.05z" fill="#aaaf48"/>
<path d="M130.0 138.45h2.05v1.60h-2.05z" fill="#aaaf48"/>
<path d="M132.0 138.45h2.05v1.60h-2.05z" fill="#aaaf48"/>
<path d="M134.0 138.45h2.05v1.60h-2.05z" fill="#aaaf48"/>
<path d="M136.0 138.45h2.05v1.60h-2.05z" fill="#aaaf48"/>
<path d="M44.0 140.00h2.05v1.60h-2.05z" fill="#363a22"/>
<path d="M46.0 140.00h2.05v1.60h-2.05z" fill="#313520"/>
<path d="M48.0 140.00h2.05v1.60h-2.05z" fill="#353821"/>
<path d="M50.0 140.00h2.05v1.60h-2.05z" fill="#52582b"/>
<path d="M52.0 140.00h2.05v1.60h-2.05z" fill="#2f3320"/>
<path d="M54.0 140.00h2.05v1.60h-2.05z" fill="#434826"/>
<path d="M56.0 140.00h2.05v1.60h-2.05z" fill="#25271b"/>
<path d="M58.0 140.00h2.05v1.60h-2.05z" fill="#2e311f"/>
<path d="M60.0 140.00h2.05v1.60h-2.05z" fill="#20221a"/>
<path d="M62.0 140.00h2.05v1.60h-2.05z" fill="#383c23"/>
<path d="M64.0 140.00h2.05v1.60h-2.05z" fill="#494e28"/>
<path d="M66.0 140.00h2.05v1.60h-2.05z" fill="#424626"/>
<path d="M68.0 140.00h2.05v1.60h-2.05z" fill="#323621"/>
<path d="M70.0 140.00h2.05v1.60h-2.05z" fill="#474d28"/>
<path d="M72.0 140.00h2.05v1.60h-2.05z" fill="#353922"/>
<path d="M74.0 140.00h2.05v1.60h-2.05z" fill="#434826"/>
<path d="M76.0 140.00h2.05v1.60h-2.05z" fill="#414626"/>
<path d="M78.0 140.00h2.05v1.60h-2.05z" fill="#464b27"/>
<path d="M80.0 140.00h2.05v1.60h-2.05z" fill="#1a1c21"/>
<path d="M82.0 140.00h2.05v1.60h-2.05z" fill="#21241a"/>
<path d="M84.0 140.00h2.05v1.60h-2.05z" fill="#4b5029"/>
<path d="M86.0 140.00h2.05v1.60h-2.05z" fill="#1b1d24"/>
<path d="M88.0 140.00h2.05v1.60h-2.05z" fill="#363a22"/>
<path d="M90.0 140.00h2.05v1.60h-2.05z" fill="#1c1e26"/>
<path d="M92.0 140.00h2.05v1.60h-2.05z" fill="#1e212c"/>
<path d="M94.0 140.00h2.05v1.60h-2.05z" fill="#27291c"/>
<path d="M96.0 140.00h2.05v1.60h-2.05z" fill="#171818"/>
<path d="M98.0 140.00h2.05v1.60h-2.05z" fill="#2f321f"/>
<path d="M100.0 140.00h2.05v1.60h-2.05z" fill="#171819"/>
<path d="M102.0 140.00h2.05v1.60h-2.05z" fill="#1c1e26"/>
<path d="M104.0 140.00h2.05v1.60h-2.05z" fill="#171816"/>
<path d="M106.0 140.00h2.05v1.60h-2.05z" fill="#1f2330"/>
<path d="M108.0 140.00h2.05v1.60h-2.05z" fill="#1d202a"/>
<path d="M110.0 140.00h2.05v1.60h-2.05z" fill="#1e212c"/>
<path d="M112.0 140.00h2.05v1.60h-2.05z" fill="#1c1e26"/>
<path d="M114.0 140.00h2.05v1.60h-2.05z" fill="#181917"/>
<path d="M116.0 140.00h2.05v1.60h-2.05z" fill="#737a36"/>
<path d="M118.0 140.00h2.05v1.60h-2.05z" fill="#8b913e"/>
<path d="M120.0 140.00h2.05v1.60h-2.05z" fill="#737a36"/>
<path d="M122.0 140.00h2.05v1.60h-2.05z" fill="#9da244"/>
<path d="M124.0 140.00h2.05v1.60h-2.05z" fill="#424726"/>
<path d="M126.0 140.00h2.05v1.60h-2.05z" fill="#7a8139"/>
<path d="M128.0 140.00h2.05v1.60h-2.05z" fill="#868c3c"/>
<path d="M130.0 140.00h2.05v1.60h-2.05z" fill="#656c32"/>
<path d="M132.0 140.00h2.05v1.60h-2.05z" fill="#a1a645"/>
<path d="M134.0 140.00h2.05v1.60h-2.05z" fill="#878e3d"/>
<path d="M136.0 140.00h2.05v1.60h-2.05z" fill="#a9ae48"/>
<path d="M44.0 141.55h2.05v1.60h-2.05z" fill="#51572b"/>
<path d="M46.0 141.55h2.05v1.60h-2.05z" fill="#424726"/>
<path d="M48.0 141.55h2.05v1.60h-2.05z" fill="#2f3320"/>
<path d="M50.0 141.55h2.05v1.60h-2.05z" fill="#404525"/>
<path d="M52.0 141.55h2.05v1.60h-2.05z" fill="#3c4024"/>
<path d="M54.0 141.55h2.05v1.60h-2.05z" fill="#494f28"/>
<path d="M56.0 141.55h2.05v1.60h-2.05z" fill="#3c4024"/>
<path d="M58.0 141.55h2.05v1.60h-2.05z" fill="#8e943f"/>
<path d="M60.0 141.55h2.05v1.60h-2.05z" fill="#25271c"/>
<path d="M62.0 141.55h2.05v1.60h-2.05z" fill="#5d632f"/>
<path d="M64.0 141.55h2.05v1.60h-2.05z" fill="#3c4024"/>
<path d="M66.0 141.55h2.05v1.60h-2.05z" fill="#404525"/>
<path d="M68.0 141.55h2.05v1.60h-2.05z" fill="#575d2d"/>
<path d="M70.0 141.55h2.05v1.60h-2.05z" fill="#454a27"/>
<path d="M72.0 141.55h2.05v1.60h-2.05z" fill="#2d301f"/>
<path d="M74.0 141.55h2.05v1.60h-2.05z" fill="#4d522a"/>
<path d="M76.0 141.55h2.05v1.60h-2.05z" fill="#414626"/>
<path d="M78.0 141.55h2.05v1.60h-2.05z" fill="#1c1d18"/>
<path d="M80.0 141.55h2.05v1.60h-2.05z" fill="#484e28"/>
<path d="M82.0 141.55h2.05v1.60h-2.05z" fill="#303420"/>
<path d="M84.0 141.55h2.05v1.60h-2.05z" fill="#363a22"/>
<path d="M86.0 141.55h2.05v1.60h-2.05z" fill="#333621"/>
<path d="M88.0 141.55h2.05v1.60h-2.05z" fill="#2f321f"/>
<path d="M90.0 141.55h2.05v1.60h-2.05z" fill="#23251b"/>
<path d="M92.0 141.55h2.05v1.60h-2.05z" fill="#53592c"/>
<path d="M94.0 141.55h2.05v1.60h-2.05z" fill="#313520"/>
<path d="M96.0 141.55h2.05v1.60h-2.05z" fill="#1c1e18"/>
<path d="M98.0 141.55h2.05v1.60h-2.05z" fill="#2e311f"/>
<path d="M100.0 141.55h2.05v1.60h-2.05z" fill="#26291c"/>
<path d="M102.0 141.55h2.05v1.60h-2.05z" fill="#1e212d"/>
<path d="M104.0 141.55h2.05v1.60h-2.05z" fill="#1a1c22"/>
<path d="M106.0 141.55h2.05v1.60h-2.05z" fill="#191b1e"/>
<path d="M108.0 141.55h2.05v1.60h-2.05z" fill="#51572b"/>
<path d="M110.0 141.55h2.05v1.60h-2.05z" fill="#25281c"/>
<path d="M112.0 141.55h2.05v1.60h-2.05z" fill="#23251b"/>
<path d="M114.0 141.55h2.05v1.60h-2.05z" fill="#1d1f19"/>
<path d="M116.0 141.55h2.05v1.60h-2.05z" fill="#aaaf48"/>
<path d="M118.0 141.55h2.05v1.60h-2.05z" fill="#909640"/>
<path d="M120.0 141.55h2.05v1.60h-2.05z" fill="#aaaf48"/>
<path d="M122.0 141.55h2.05v1.60h-2.05z" fill="#a9ae48"/>
<path d="M124.0 141.55h2.05v1.60h-2.05z" fill="#aaaf48"/>
<path d="M126.0 141.55h2.05v1.60h-2.05z" fill="#8c923e"/>
<path d="M128.0 141.55h2.05v1.60h-2.05z" fill="#9ba143"/>
<path d="M130.0 141.55h2.05v1.60h-2.05z" fill="#82883b"/>
<path d="M132.0 141.55h2.05v1.60h-2.05z" fill="#8a903e"/>
<path d="M134.0 141.55h2.05v1.60h-2.05z" fill="#616830"/>
<path d="M136.0 141.55h2.05v1.60h-2.05z" fill="#7d843a"/>
<path d="M44.0 143.10h2.05v1.60h-2.05z" fill="#1e212d"/>
<path d="M46.0 143.10h2.05v1.60h-2.05z" fill="#22241a"/>
<path d="M48.0 143.10h2.05v1.60h-2.05z" fill="#181a1d"/>
<path d="M50.0 143.10h2.05v1.60h-2.05z" fill="#22241b"/>
<path d="M52.0 143.10h2.05v1.60h-2.05z" fill="#1b1c18"/>
<path d="M54.0 143.10h2.05v1.60h-2.05z" fill="#1c1d18"/>
<path d="M56.0 143.10h2.05v1.60h-2.05z" fill="#1e1f19"/>
<path d="M58.0 143.10h2.05v1.60h-2.05z" fill="#1e212c"/>
<path d="M60.0 143.10h2.05v1.60h-2.05z" fill="#191b17"/>
<path d="M62.0 143.10h2.05v1.60h-2.05z" fill="#1c1f27"/>
<path d="M64.0 143.10h2.05v1.60h-2.05z" fill="#1d202b"/>
<path d="M66.0 143.10h2.05v1.60h-2.05z" fill="#21231a"/>
<path d="M68.0 143.10h2.05v1.60h-2.05z" fill="#353922"/>
<path d="M70.0 143.10h2.05v1.60h-2.05z" fill="#202433"/>
<path d="M72.0 143.10h2.05v1.60h-2.05z" fill="#2c301e"/>
<path d="M74.0 143.10h2.05v1.60h-2.05z" fill="#1a1b17"/>
<path d="M76.0 143.10h2.05v1.60h-2.05z" fill="#1f2331"/>
<path d="M78.0 143.10h2.05v1.60h-2.05z" fill="#181a1d"/>
<path d="M80.0 143.10h2.05v1.60h-2.05z" fill="#18191b"/>
<path d="M82.0 143.10h2.05v1.60h-2.05z" fill="#18191b"/>
<path d="M84.0 143.10h2.05v1.60h-2.05z" fill="#1c1f28"/>
<path d="M86.0 143.10h2.05v1.60h-2.05z" fill="#202434"/>
<path d="M88.0 143.10h2.05v1.60h-2.05z" fill="#181a1c"/>
<path d="M90.0 143.10h2.05v1.60h-2.05z" fill="#20221a"/>
<path d="M92.0 143.10h2.05v1.60h-2.05z" fill="#1f2119"/>
<path d="M94.0 143.10h2.05v1.60h-2.05z" fill="#1c1e18"/>
<path d="M96.0 143.10h2.05v1.60h-2.05z" fill="#25281c"/>
<path d="M98.0 143.10h2.05v1.60h-2.05z" fill="#1f222e"/>
<path d="M100.0 143.10h2.05v1.60h-2.05z" fill="#191a1d"/>
<path d="M102.0 143.10h2.05v1.60h-2.05z" fill="#161716"/>
<path d="M104.0 143.10h2.05v1.60h-2.05z" fill="#23251b"/>
<path d="M106.0 143.10h2.05v1.60h-2.05z" fill="#17191a"/>
<path d="M108.0 143.10h2.05v1.60h-2.05z" fill="#191b17"/>
<path d="M110.0 143.10h2.05v1.60h-2.05z" fill="#17191a"/>
<path d="M112.0 143.10h2.05v1.60h-2.05z" fill="#393e23"/>
<path d="M114.0 143.10h2.05v1.60h-2.05z" fill="#242a40"/>
<path d="M116.0 143.10h2.05v1.60h-2.05z" fill="#6b7234"/>
<path d="M118.0 143.10h2.05v1.60h-2.05z" fill="#aaaf48"/>
<path d="M120.0 143.10h2.05v1.60h-2.05z" fill="#717836"/>
<path d="M122.0 143.10h2.05v1.60h-2.05z" fill="#454a27"/>
<path d="M124.0 143.10h2.05v1.60h-2.05z" fill="#6f7535"/>
<path d="M126.0 143.10h2.05v1.60h-2.05z" fill="#4c5229"/>
<path d="M128.0 143.10h2.05v1.60h-2.05z" fill="#5c622f"/>
<path d="M130.0 143.10h2.05v1.60h-2.05z" fill="#717836"/>
<path d="M132.0 143.10h2.05v1.60h-2.05z" fill="#9da344"/>
<path d="M134.0 143.10h2.05v1.60h-2.05z" fill="#767d37"/>
<path d="M136.0 143.10h2.05v1.60h-2.05z" fill="#7c8339"/>
<path d="M44.0 144.65h2.05v1.60h-2.05z" fill="#282b1d"/>
<path d="M46.0 144.65h2.05v1.60h-2.05z" fill="#171819"/>
<path d="M48.0 144.65h2.05v1.60h-2.05z" fill="#22241a"/>
<path d="M50.0 144.65h2.05v1.60h-2.05z" fill="#2b2e1e"/>
<path d="M52.0 144.65h2.05v1.60h-2.05z" fill="#1e2019"/>
<path d="M54.0 144.65h2.05v1.60h-2.05z" fill="#161716"/>
<path d="M56.0 144.65h2.05v1.60h-2.05z" fill="#1d1e18"/>
<path d="M58.0 144.65h2.05v1.60h-2.05z" fill="#1b1e25"/>
<path d="M60.0 144.65h2.05v1.60h-2.05z" fill="#181a1c"/>
<path d="M62.0 144.65h2.05v1.60h-2.05z" fill="#22241a"/>
<path d="M64.0 144.65h2.05v1.60h-2.05z" fill="#1c1e18"/>
<path d="M66.0 144.65h2.05v1.60h-2.05z" fill="#25271b"/>
<path d="M68.0 144.65h2.05v1.60h-2.05z" fill="#404425"/>
<path d="M70.0 144.65h2.05v1.60h-2.05z" fill="#2a2d1d"/>
<path d="M72.0 144.65h2.05v1.60h-2.05z" fill="#23251b"/>
<path d="M74.0 144.65h2.05v1.60h-2.05z" fill="#191b1f"/>
<path d="M76.0 144.65h2.05v1.60h-2.05z" fill="#191a1d"/>
<path d="M78.0 144.65h2.05v1.60h-2.05z" fill="#2b2e1e"/>
<path d="M80.0 144.65h2.05v1.60h-2.05z" fill="#171919"/>
<path d="M82.0 144.65h2.05v1.60h-2.05z" fill="#2d301e"/>
<path d="M84.0 144.65h2.05v1.60h-2.05z" fill="#191a1d"/>
<path d="M86.0 144.65h2.05v1.60h-2.05z" fill="#2c2f1e"/>
<path d="M88.0 144.65h2.05v1.60h-2.05z" fill="#282b1d"/>
<path d="M90.0 144.65h2.05v1.60h-2.05z" fill="#3d4224"/>
<path d="M92.0 144.65h2.05v1.60h-2.05z" fill="#22241a"/>
<path d="M94.0 144.65h2.05v1.60h-2.05z" fill="#22241b"/>
<path d="M96.0 144.65h2.05v1.60h-2.05z" fill="#2f321f"/>
<path d="M98.0 144.65h2.05v1.60h-2.05z" fill="#2b2e1e"/>
<path d="M100.0 144.65h2.05v1.60h-2.05z" fill="#4b5029"/>
<path d="M102.0 144.65h2.05v1.60h-2.05z" fill="#24271b"/>
<path d="M104.0 144.65h2.05v1.60h-2.05z" fill="#1f2019"/>
<path d="M106.0 144.65h2.05v1.60h-2.05z" fill="#23251b"/>
<path d="M108.0 144.65h2.05v1.60h-2.05z" fill="#333721"/>
<path d="M110.0 144.65h2.05v1.60h-2.05z" fill="#2e321f"/>
<path d="M112.0 144.65h2.05v1.60h-2.05z" fill="#383c23"/>
<path d="M114.0 144.65h2.05v1.60h-2.05z" fill="#191a1e"/>
<path d="M116.0 144.65h2.05v1.60h-2.05z" fill="#aaaf48"/>
<path d="M118.0 144.65h2.05v1.60h-2.05z" fill="#aaaf48"/>
<path d="M120.0 144.65h2.05v1.60h-2.05z" fill="#909640"/>
<path d="M122.0 144.65h2.05v1.60h-2.05z" fill="#6e7535"/>
<path d="M124.0 144.65h2.05v1.60h-2.05z" fill="#959b41"/>
<path d="M126.0 144.65h2.05v1.60h-2.05z" fill="#9ea344"/>
<path d="M128.0 144.65h2.05v1.60h-2.05z" fill="#575d2d"/>
<path d="M130.0 144.65h2.05v1.60h-2.05z" fill="#919740"/>
<path d="M132.0 144.65h2.05v1.60h-2.05z" fill="#686e33"/>
<path d="M134.0 144.65h2.05v1.60h-2.05z" fill="#9fa545"/>
<path d="M136.0 144.65h2.05v1.60h-2.05z" fill="#aaaf48"/>
<path d="M44.0 146.20h2.05v1.60h-2.05z" fill="#24293f"/>
<path d="M46.0 146.20h2.05v1.60h-2.05z" fill="#1e1f19"/>
<path d="M48.0 146.20h2.05v1.60h-2.05z" fill="#171818"/>
<path d="M50.0 146.20h2.05v1.60h-2.05z" fill="#1f222f"/>
<path d="M52.0 146.20h2.05v1.60h-2.05z" fill="#191b1f"/>
<path d="M54.0 146.20h2.05v1.60h-2.05z" fill="#20221a"/>
<path d="M56.0 146.20h2.05v1.60h-2.05z" fill="#1f222e"/>
<path d="M58.0 146.20h2.05v1.60h-2.05z" fill="#1d1f28"/>
<path d="M60.0 146.20h2.05v1.60h-2.05z" fill="#202332"/>
<path d="M62.0 146.20h2.05v1.60h-2.05z" fill="#191a17"/>
<path d="M64.0 146.20h2.05v1.60h-2.05z" fill="#252d47"/>
<path d="M66.0 146.20h2.05v1.60h-2.05z" fill="#1e2019"/>
<path d="M68.0 146.20h2.05v1.60h-2.05z" fill="#222639"/>
<path d="M70.0 146.20h2.05v1.60h-2.05z" fill="#171818"/>
<path d="M72.0 146.20h2.05v1.60h-2.05z" fill="#242a41"/>
<path d="M74.0 146.20h2.05v1.60h-2.05z" fill="#222639"/>
<path d="M76.0 146.20h2.05v1.60h-2.05z" fill="#202433"/>
<path d="M78.0 146.20h2.05v1.60h-2.05z" fill="#171819"/>
<path d="M80.0 146.20h2.05v1.60h-2.05z" fill="#242a41"/>
<path d="M82.0 146.20h2.05v1.60h-2.05z" fill="#191a1d"/>
<path d="M84.0 146.20h2.05v1.60h-2.05z" fill="#202434"/>
<path d="M86.0 146.20h2.05v1.60h-2.05z" fill="#161717"/>
<path d="M88.0 146.20h2.05v1.60h-2.05z" fill="#202433"/>
<path d="M90.0 146.20h2.05v1.60h-2.05z" fill="#1b1d25"/>
<path d="M92.0 146.20h2.05v1.60h-2.05z" fill="#1f2330"/>
<path d="M94.0 146.20h2.05v1.60h-2.05z" fill="#20221a"/>
<path d="M96.0 146.20h2.05v1.60h-2.05z" fill="#212434"/>
<path d="M98.0 146.20h2.05v1.60h-2.05z" fill="#1e212e"/>
<path d="M100.0 146.20h2.05v1.60h-2.05z" fill="#24261b"/>
<path d="M102.0 146.20h2.05v1.60h-2.05z" fill="#1e212c"/>
<path d="M104.0 146.20h2.05v1.60h-2.05z" fill="#1a1c21"/>
<path d="M106.0 146.20h2.05v1.60h-2.05z" fill="#22273a"/>
<path d="M108.0 146.20h2.05v1.60h-2.05z" fill="#1d202a"/>
<path d="M110.0 146.20h2.05v1.60h-2.05z" fill="#272f4c"/>
<path d="M112.0 146.20h2.05v1.60h-2.05z" fill="#1e202b"/>
<path d="M114.0 146.20h2.05v1.60h-2.05z" fill="#222639"/>
<path d="M116.0 146.20h2.05v1.60h-2.05z" fill="#5b612e"/>
<path d="M118.0 146.20h2.05v1.60h-2.05z" fill="#5d632f"/>
<path d="M120.0 146.20h2.05v1.60h-2.05z" fill="#a3a846"/>
<path d="M122.0 146.20h2.05v1.60h-2.05z" fill="#8c933f"/>
<path d="M124.0 146.20h2.05v1.60h-2.05z" fill="#5a602e"/>
<path d="M126.0 146.20h2.05v1.60h-2.05z" fill="#aaaf48"/>
<path d="M128.0 146.20h2.05v1.60h-2.05z" fill="#6d7434"/>
<path d="M130.0 146.20h2.05v1.60h-2.05z" fill="#757b37"/>
<path d="M132.0 146.20h2.05v1.60h-2.05z" fill="#878d3d"/>
<path d="M134.0 146.20h2.05v1.60h-2.05z" fill="#636931"/>
<path d="M136.0 146.20h2.05v1.60h-2.05z" fill="#585e2d"/>
<path d="M44.0 147.75h2.05v1.60h-2.05z" fill="#1e2019"/>
<path d="M46.0 147.75h2.05v1.60h-2.05z" fill="#191b17"/>
<path d="M48.0 147.75h2.05v1.60h-2.05z" fill="#23293e"/>
<path d="M50.0 147.75h2.05v1.60h-2.05z" fill="#1f2019"/>
<path d="M52.0 147.75h2.05v1.60h-2.05z" fill="#1b1d23"/>
<path d="M54.0 147.75h2.05v1.60h-2.05z" fill="#18191b"/>
<path d="M56.0 147.75h2.05v1.60h-2.05z" fill="#1b1d23"/>
<path d="M58.0 147.75h2.05v1.60h-2.05z" fill="#181a1d"/>
<path d="M60.0 147.75h2.05v1.60h-2.05z" fill="#212536"/>
<path d="M62.0 147.75h2.05v1.60h-2.05z" fill="#212434"/>
<path d="M64.0 147.75h2.05v1.60h-2.05z" fill="#1f2331"/>
<path d="M66.0 147.75h2.05v1.60h-2.05z" fill="#1d202b"/>
<path d="M68.0 147.75h2.05v1.60h-2.05z" fill="#171819"/>
<path d="M70.0 147.75h2.05v1.60h-2.05z" fill="#222739"/>
<path d="M72.0 147.75h2.05v1.60h-2.05z" fill="#27291c"/>
<path d="M74.0 147.75h2.05v1.60h-2.05z" fill="#1f222f"/>
<path d="M76.0 147.75h2.05v1.60h-2.05z" fill="#1f222f"/>
<path d="M78.0 147.75h2.05v1.60h-2.05z" fill="#161817"/>
<path d="M80.0 147.75h2.05v1.60h-2.05z" fill="#181a1c"/>
<path d="M82.0 147.75h2.05v1.60h-2.05z" fill="#1d202a"/>
<path d="M84.0 147.75h2.05v1.60h-2.05z" fill="#222637"/>
<path d="M86.0 147.75h2.05v1.60h-2.05z" fill="#262f4b"/>
<path d="M88.0 147.75h2.05v1.60h-2.05z" fill="#283252"/>
<path d="M90.0 147.75h2.05v1.60h-2.05z" fill="#1e222e"/>
<path d="M92.0 147.75h2.05v1.60h-2.05z" fill="#1f222f"/>
<path d="M94.0 147.75h2.05v1.60h-2.05z" fill="#1a1c21"/>
<path d="M96.0 147.75h2.05v1.60h-2.05z" fill="#222739"/>
<path d="M98.0 147.75h2.05v1.60h-2.05z" fill="#23273b"/>
<path d="M100.0 147.75h2.05v1.60h-2.05z" fill="#212535"/>
<path d="M102.0 147.75h2.05v1.60h-2.05z" fill="#202332"/>
<path d="M104.0 147.75h2.05v1.60h-2.05z" fill="#242b42"/>
<path d="M106.0 147.75h2.05v1.60h-2.05z" fill="#23273b"/>
<path d="M108.0 147.75h2.05v1.60h-2.05z" fill="#181a1c"/>
<path d="M110.0 147.75h2.05v1.60h-2.05z" fill="#283353"/>
<path d="M112.0 147.75h2.05v1.60h-2.05z" fill="#273150"/>
<path d="M114.0 147.75h2.05v1.60h-2.05z" fill="#262e4a"/>
<path d="M116.0 147.75h2.05v1.60h-2.05z" fill="#737a36"/>
<path d="M118.0 147.75h2.05v1.60h-2.05z" fill="#7f863a"/>
<path d="M120.0 147.75h2.05v1.60h-2.05z" fill="#5a602e"/>
<path d="M122.0 147.75h2.05v1.60h-2.05z" fill="#717836"/>
<path d="M124.0 147.75h2.05v1.60h-2.05z" fill="#616730"/>
<path d="M126.0 147.75h2.05v1.60h-2.05z" fill="#696f33"/>
<path d="M128.0 147.75h2.05v1.60h-2.05z" fill="#555c2c"/>
<path d="M130.0 147.75h2.05v1.60h-2.05z" fill="#616830"/>
<path d="M132.0 147.75h2.05v1.60h-2.05z" fill="#626831"/>
<path d="M134.0 147.75h2.05v1.60h-2.05z" fill="#7d843a"/>
<path d="M136.0 147.75h2.05v1.60h-2.05z" fill="#a0a645"/>
<path d="M44.0 149.30h2.05v1.60h-2.05z" fill="#1c1f27"/>
<path d="M46.0 149.30h2.05v1.60h-2.05z" fill="#202331"/>
<path d="M48.0 149.30h2.05v1.60h-2.05z" fill="#191b1f"/>
<path d="M50.0 149.30h2.05v1.60h-2.05z" fill="#191a1e"/>
<path d="M52.0 149.30h2.05v1.60h-2.05z" fill="#1b1d23"/>
<path d="M54.0 149.30h2.05v1.60h-2.05z" fill="#1a1c22"/>
<path d="M56.0 149.30h2.05v1.60h-2.05z" fill="#24293f"/>
<path d="M58.0 149.30h2.05v1.60h-2.05z" fill="#262d47"/>
<path d="M60.0 149.30h2.05v1.60h-2.05z" fill="#1a1b17"/>
<path d="M62.0 149.30h2.05v1.60h-2.05z" fill="#18191b"/>
<path d="M64.0 149.30h2.05v1.60h-2.05z" fill="#24293f"/>
<path d="M66.0 149.30h2.05v1.60h-2.05z" fill="#17191a"/>
<path d="M68.0 149.30h2.05v1.60h-2.05z" fill="#1b1e25"/>
<path d="M70.0 149.30h2.05v1.60h-2.05z" fill="#283150"/>
<path d="M72.0 149.30h2.05v1.60h-2.05z" fill="#1a1c21"/>
<path d="M74.0 149.30h2.05v1.60h-2.05z" fill="#24293f"/>
<path d="M76.0 149.30h2.05v1.60h-2.05z" fill="#181a1c"/>
<path d="M78.0 149.30h2.05v1.60h-2.05z" fill="#23283b"/>
<path d="M80.0 149.30h2.05v1.60h-2.05z" fill="#23283c"/>
<path d="M82.0 149.30h2.05v1.60h-2.05z" fill="#252c46"/>
<path d="M84.0 149.30h2.05v1.60h-2.05z" fill="#212535"/>
<path d="M86.0 149.30h2.05v1.60h-2.05z" fill="#1d1f29"/>
<path d="M88.0 149.30h2.05v1.60h-2.05z" fill="#242b42"/>
<path d="M90.0 149.30h2.05v1.60h-2.05z" fill="#283150"/>
<path d="M92.0 149.30h2.05v1.60h-2.05z" fill="#181917"/>
<path d="M94.0 149.30h2.05v1.60h-2.05z" fill="#17191a"/>
<path d="M96.0 149.30h2.05v1.60h-2.05z" fill="#1f222f"/>
<path d="M98.0 149.30h2.05v1.60h-2.05z" fill="#242a40"/>
<path d="M100.0 149.30h2.05v1.60h-2.05z" fill="#262e48"/>
<path d="M102.0 149.30h2.05v1.60h-2.05z" fill="#27304d"/>
<path d="M104.0 149.30h2.05v1.60h-2.05z" fill="#202331"/>
<path d="M106.0 149.30h2.05v1.60h-2.05z" fill="#1b1d24"/>
<path d="M108.0 149.30h2.05v1.60h-2.05z" fill="#252d47"/>
<path d="M110.0 149.30h2.05v1.60h-2.05z" fill="#22273a"/>
<path d="M112.0 149.30h2.05v1.60h-2.05z" fill="#23283d"/>
<path d="M114.0 149.30h2.05v1.60h-2.05z" fill="#23283d"/>
<path d="M116.0 149.30h2.05v1.60h-2.05z" fill="#4b5129"/>
<path d="M118.0 149.30h2.05v1.60h-2.05z" fill="#6e7535"/>
<path d="M120.0 149.30h2.05v1.60h-2.05z" fill="#363a22"/>
<path d="M122.0 149.30h2.05v1.60h-2.05z" fill="#52582b"/>
<path d="M124.0 149.30h2.05v1.60h-2.05z" fill="#575d2d"/>
<path d="M126.0 149.30h2.05v1.60h-2.05z" fill="#3c4124"/>
<path d="M128.0 149.30h2.05v1.60h-2.05z" fill="#3f4325"/>
<path d="M130.0 149.30h2.05v1.60h-2.05z" fill="#272a1c"/>
<path d="M132.0 149.30h2.05v1.60h-2.05z" fill="#575d2d"/>
<path d="M134.0 149.30h2.05v1.60h-2.05z" fill="#383c23"/>
<path d="M136.0 149.30h2.05v1.60h-2.05z" fill="#353922"/>
<path d="M44.0 150.85h2.05v1.60h-2.05z" fill="#22241b"/>
<path d="M46.0 150.85h2.05v1.60h-2.05z" fill="#1e2019"/>
<path d="M48.0 150.85h2.05v1.60h-2.05z" fill="#2e311f"/>
<path d="M50.0 150.85h2.05v1.60h-2.05z" fill="#50562b"/>
<path d="M52.0 150.85h2.05v1.60h-2.05z" fill="#303320"/>
<path d="M54.0 150.85h2.05v1.60h-2.05z" fill="#3e4225"/>
<path d="M56.0 150.85h2.05v1.60h-2.05z" fill="#161716"/>
<path d="M58.0 150.85h2.05v1.60h-2.05z" fill="#191b1f"/>
<path d="M60.0 150.85h2.05v1.60h-2.05z" fill="#575d2d"/>
<path d="M62.0 150.85h2.05v1.60h-2.05z" fill="#2c2f1e"/>
<path d="M64.0 150.85h2.05v1.60h-2.05z" fill="#171817"/>
<path d="M66.0 150.85h2.05v1.60h-2.05z" fill="#323520"/>
<path d="M68.0 150.85h2.05v1.60h-2.05z" fill="#3f4425"/>
<path d="M70.0 150.85h2.05v1.60h-2.05z" fill="#18191b"/>
<path d="M72.0 150.85h2.05v1.60h-2.05z" fill="#22241a"/>
<path d="M74.0 150.85h2.05v1.60h-2.05z" fill="#393d23"/>
<path d="M76.0 150.85h2.05v1.60h-2.05z" fill="#21231a"/>
<path d="M78.0 150.85h2.05v1.60h-2.05z" fill="#434826"/>
<path d="M80.0 150.85h2.05v1.60h-2.05z" fill="#464b27"/>
<path d="M82.0 150.85h2.05v1.60h-2.05z" fill="#3c4124"/>
<path d="M84.0 150.85h2.05v1.60h-2.05z" fill="#2b2e1e"/>
<path d="M86.0 150.85h2.05v1.60h-2.05z" fill="#1b1e25"/>
<path d="M88.0 150.85h2.05v1.60h-2.05z" fill="#1f2230"/>
<path d="M90.0 150.85h2.05v1.60h-2.05z" fill="#1c1e27"/>
<path d="M92.0 150.85h2.05v1.60h-2.05z" fill="#191b1f"/>
<path d="M94.0 150.85h2.05v1.60h-2.05z" fill="#1d202a"/>
<path d="M96.0 150.85h2.05v1.60h-2.05z" fill="#191b17"/>
<path d="M98.0 150.85h2.05v1.60h-2.05z" fill="#3a3f23"/>
<path d="M100.0 150.85h2.05v1.60h-2.05z" fill="#1f222e"/>
<path d="M102.0 150.85h2.05v1.60h-2.05z" fill="#191b1e"/>
<path d="M104.0 150.85h2.05v1.60h-2.05z" fill="#161716"/>
<path d="M106.0 150.85h2.05v1.60h-2.05z" fill="#171819"/>
<path d="M108.0 150.85h2.05v1.60h-2.05z" fill="#1d1f29"/>
<path d="M110.0 150.85h2.05v1.60h-2.05z" fill="#1e212d"/>
<path d="M112.0 150.85h2.05v1.60h-2.05z" fill="#1a1b18"/>
<path d="M114.0 150.85h2.05v1.60h-2.05z" fill="#171819"/>
<path d="M116.0 150.85h2.05v1.60h-2.05z" fill="#666d32"/>
<path d="M118.0 150.85h2.05v1.60h-2.05z" fill="#4a5029"/>
<path d="M120.0 150.85h2.05v1.60h-2.05z" fill="#697033"/>
<path d="M122.0 150.85h2.05v1.60h-2.05z" fill="#6d7434"/>
<path d="M124.0 150.85h2.05v1.60h-2.05z" fill="#575d2d"/>
<path d="M126.0 150.85h2.05v1.60h-2.05z" fill="#6a7033"/>
<path d="M128.0 150.85h2.05v1.60h-2.05z" fill="#959a41"/>
<path d="M130.0 150.85h2.05v1.60h-2.05z" fill="#363a22"/>
<path d="M132.0 150.85h2.05v1.60h-2.05z" fill="#696f33"/>
<path d="M134.0 150.85h2.05v1.60h-2.05z" fill="#434826"/>
<path d="M136.0 150.85h2.05v1.60h-2.05z" fill="#404425"/>
<path d="M44.0 152.40h2.05v1.60h-2.05z" fill="#3a3f23"/>
<path d="M46.0 152.40h2.05v1.60h-2.05z" fill="#313420"/>
<path d="M48.0 152.40h2.05v1.60h-2.05z" fill="#181917"/>
<path d="M50.0 152.40h2.05v1.60h-2.05z" fill="#171819"/>
<path d="M52.0 152.40h2.05v1.60h-2.05z" fill="#24271b"/>
<path d="M54.0 152.40h2.05v1.60h-2.05z" fill="#303320"/>
<path d="M56.0 152.40h2.05v1.60h-2.05z" fill="#1f2019"/>
<path d="M58.0 152.40h2.05v1.60h-2.05z" fill="#18191b"/>
<path d="M60.0 152.40h2.05v1.60h-2.05z" fill="#52572b"/>
<path d="M62.0 152.40h2.05v1.60h-2.05z" fill="#1e2019"/>
<path d="M64.0 152.40h2.05v1.60h-2.05z" fill="#2c301e"/>
<path d="M66.0 152.40h2.05v1.60h-2.05z" fill="#24271b"/>
<path d="M68.0 152.40h2.05v1.60h-2.05z" fill="#24261b"/>
<path d="M70.0 152.40h2.05v1.60h-2.05z" fill="#303420"/>
<path d="M72.0 152.40h2.05v1.60h-2.05z" fill="#2a2c1d"/>
<path d="M74.0 152.40h2.05v1.60h-2.05z" fill="#3c4024"/>
<path d="M76.0 152.40h2.05v1.60h-2.05z" fill="#171917"/>
<path d="M78.0 152.40h2.05v1.60h-2.05z" fill="#17191a"/>
<path d="M80.0 152.40h2.05v1.60h-2.05z" fill="#565c2d"/>
<path d="M82.0 152.40h2.05v1.60h-2.05z" fill="#2e311f"/>
<path d="M84.0 152.40h2.05v1.60h-2.05z" fill="#3f4325"/>
<path d="M86.0 152.40h2.05v1.60h-2.05z" fill="#181a1d"/>
<path d="M88.0 152.40h2.05v1.60h-2.05z" fill="#1c1f28"/>
<path d="M90.0 152.40h2.05v1.60h-2.05z" fill="#202332"/>
<path d="M92.0 152.40h2.05v1.60h-2.05z" fill="#252d47"/>
<path d="M94.0 152.40h2.05v1.60h-2.05z" fill="#262d47"/>
<path d="M96.0 152.40h2.05v1.60h-2.05z" fill="#1a1c21"/>
<path d="M98.0 152.40h2.05v1.60h-2.05z" fill="#1c1e26"/>
<path d="M100.0 152.40h2.05v1.60h-2.05z" fill="#1c1f28"/>
<path d="M102.0 152.40h2.05v1.60h-2.05z" fill="#262d48"/>
<path d="M104.0 152.40h2.05v1.60h-2.05z" fill="#27304e"/>
<path d="M106.0 152.40h2.05v1.60h-2.05z" fill="#242a41"/>
<path d="M108.0 152.40h2.05v1.60h-2.05z" fill="#242b42"/>
<path d="M110.0 152.40h2.05v1.60h-2.05z" fill="#1f222f"/>
<path d="M112.0 152.40h2.05v1.60h-2.05z" fill="#242a40"/>
<path d="M114.0 152.40h2.05v1.60h-2.05z" fill="#161716"/>
<path d="M116.0 152.40h2.05v1.60h-2.05z" fill="#5b612e"/>
<path d="M118.0 152.40h2.05v1.60h-2.05z" fill="#5d632f"/>
<path d="M120.0 152.40h2.05v1.60h-2.05z" fill="#80863a"/>
<path d="M122.0 152.40h2.05v1.60h-2.05z" fill="#717836"/>
<path d="M124.0 152.40h2.05v1.60h-2.05z" fill="#555b2c"/>
<path d="M126.0 152.40h2.05v1.60h-2.05z" fill="#7e853a"/>
<path d="M128.0 152.40h2.05v1.60h-2.05z" fill="#a1a745"/>
<path d="M130.0 152.40h2.05v1.60h-2.05z" fill="#4e542a"/>
<path d="M132.0 152.40h2.05v1.60h-2.05z" fill="#646a31"/>
<path d="M134.0 152.40h2.05v1.60h-2.05z" fill="#51572b"/>
<path d="M136.0 152.40h2.05v1.60h-2.05z" fill="#414526"/>
<path d="M44.0 153.95h2.05v1.60h-2.05z" fill="#484e28"/>
<path d="M46.0 153.95h2.05v1.60h-2.05z" fill="#4e532a"/>
<path d="M48.0 153.95h2.05v1.60h-2.05z" fill="#434826"/>
<path d="M50.0 153.95h2.05v1.60h-2.05z" fill="#171919"/>
<path d="M52.0 153.95h2.05v1.60h-2.05z" fill="#3b3f24"/>
<path d="M54.0 153.95h2.05v1.60h-2.05z" fill="#2e311f"/>
<path d="M56.0 153.95h2.05v1.60h-2.05z" fill="#23251b"/>
<path d="M58.0 153.95h2.05v1.60h-2.05z" fill="#25271c"/>
<path d="M60.0 153.95h2.05v1.60h-2.05z" fill="#4a4f29"/>
<path d="M62.0 153.95h2.05v1.60h-2.05z" fill="#353922"/>
<path d="M64.0 153.95h2.05v1.60h-2.05z" fill="#636a31"/>
<path d="M66.0 153.95h2.05v1.60h-2.05z" fill="#444927"/>
<path d="M68.0 153.95h2.05v1.60h-2.05z" fill="#171818"/>
<path d="M70.0 153.95h2.05v1.60h-2.05z" fill="#4c5229"/>
<path d="M72.0 153.95h2.05v1.60h-2.05z" fill="#53592c"/>
<path d="M74.0 153.95h2.05v1.60h-2.05z" fill="#3c4024"/>
<path d="M76.0 153.95h2.05v1.60h-2.05z" fill="#22251b"/>
<path d="M78.0 153.95h2.05v1.60h-2.05z" fill="#5f6530"/>
<path d="M80.0 153.95h2.05v1.60h-2.05z" fill="#20221a"/>
<path d="M82.0 153.95h2.05v1.60h-2.05z" fill="#393e23"/>
<path d="M84.0 153.95h2.05v1.60h-2.05z" fill="#171818"/>
<path d="M86.0 153.95h2.05v1.60h-2.05z" fill="#23283c"/>
<path d="M88.0 153.95h2.05v1.60h-2.05z" fill="#242a42"/>
<path d="M90.0 153.95h2.05v1.60h-2.05z" fill="#181917"/>
<path d="M92.0 153.95h2.05v1.60h-2.05z" fill="#1a1b17"/>
<path d="M94.0 153.95h2.05v1.60h-2.05z" fill="#1f222f"/>
<path d="M96.0 153.95h2.05v1.60h-2.05z" fill="#23293e"/>
<path d="M98.0 153.95h2.05v1.60h-2.05z" fill="#1d1f29"/>
<path d="M100.0 153.95h2.05v1.60h-2.05z" fill="#1a1c21"/>
<path d="M102.0 153.95h2.05v1.60h-2.05z" fill="#242a40"/>
<path d="M104.0 153.95h2.05v1.60h-2.05z" fill="#23283b"/>
<path d="M106.0 153.95h2.05v1.60h-2.05z" fill="#1d202a"/>
<path d="M108.0 153.95h2.05v1.60h-2.05z" fill="#18191b"/>
<path d="M110.0 153.95h2.05v1.60h-2.05z" fill="#1c1e27"/>
<path d="M112.0 153.95h2.05v1.60h-2.05z" fill="#191b20"/>
<path d="M114.0 153.95h2.05v1.60h-2.05z" fill="#23283c"/>
<path d="M116.0 153.95h2.05v1.60h-2.05z" fill="#414626"/>
<path d="M118.0 153.95h2.05v1.60h-2.05z" fill="#80873b"/>
<path d="M120.0 153.95h2.05v1.60h-2.05z" fill="#626831"/>
<path d="M122.0 153.95h2.05v1.60h-2.05z" fill="#747b37"/>
<path d="M124.0 153.95h2.05v1.60h-2.05z" fill="#6e7535"/>
<path d="M126.0 153.95h2.05v1.60h-2.05z" fill="#868c3c"/>
<path d="M128.0 153.95h2.05v1.60h-2.05z" fill="#656b32"/>
<path d="M130.0 153.95h2.05v1.60h-2.05z" fill="#a5aa46"/>
<path d="M132.0 153.95h2.05v1.60h-2.05z" fill="#787f38"/>
<path d="M134.0 153.95h2.05v1.60h-2.05z" fill="#878e3d"/>
<path d="M136.0 153.95h2.05v1.60h-2.05z" fill="#8b913e"/>
<path d="M44.0 155.50h2.05v1.60h-2.05z" fill="#2d301e"/>
<path d="M46.0 155.50h2.05v1.60h-2.05z" fill="#1d2029"/>
<path d="M48.0 155.50h2.05v1.60h-2.05z" fill="#171816"/>
<path d="M50.0 155.50h2.05v1.60h-2.05z" fill="#494f28"/>
<path d="M52.0 155.50h2.05v1.60h-2.05z" fill="#2e311f"/>
<path d="M54.0 155.50h2.05v1.60h-2.05z" fill="#303320"/>
<path d="M56.0 155.50h2.05v1.60h-2.05z" fill="#2e311f"/>
<path d="M58.0 155.50h2.05v1.60h-2.05z" fill="#171816"/>
<path d="M60.0 155.50h2.05v1.60h-2.05z" fill="#161716"/>
<path d="M62.0 155.50h2.05v1.60h-2.05z" fill="#171816"/>
<path d="M64.0 155.50h2.05v1.60h-2.05z" fill="#3c4024"/>
<path d="M66.0 155.50h2.05v1.60h-2.05z" fill="#2c2f1e"/>
<path d="M68.0 155.50h2.05v1.60h-2.05z" fill="#484d28"/>
<path d="M70.0 155.50h2.05v1.60h-2.05z" fill="#2f321f"/>
<path d="M72.0 155.50h2.05v1.60h-2.05z" fill="#4a4f29"/>
<path d="M74.0 155.50h2.05v1.60h-2.05z" fill="#2e311f"/>
<path d="M76.0 155.50h2.05v1.60h-2.05z" fill="#191b1f"/>
<path d="M78.0 155.50h2.05v1.60h-2.05z" fill="#474c28"/>
<path d="M80.0 155.50h2.05v1.60h-2.05z" fill="#2b2e1e"/>
<path d="M82.0 155.50h2.05v1.60h-2.05z" fill="#3c4124"/>
<path d="M84.0 155.50h2.05v1.60h-2.05z" fill="#292b1d"/>
<path d="M86.0 155.50h2.05v1.60h-2.05z" fill="#17191a"/>
<path d="M88.0 155.50h2.05v1.60h-2.05z" fill="#1c1e18"/>
<path d="M90.0 155.50h2.05v1.60h-2.05z" fill="#1c1f28"/>
<path d="M92.0 155.50h2.05v1.60h-2.05z" fill="#1d2029"/>
<path d="M94.0 155.50h2.05v1.60h-2.05z" fill="#1b1d24"/>
<path d="M96.0 155.50h2.05v1.60h-2.05z" fill="#191a1d"/>
<path d="M98.0 155.50h2.05v1.60h-2.05z" fill="#1e212c"/>
<path d="M100.0 155.50h2.05v1.60h-2.05z" fill="#171816"/>
<path d="M102.0 155.50h2.05v1.60h-2.05z" fill="#1f2119"/>
<path d="M104.0 155.50h2.05v1.60h-2.05z" fill="#424726"/>
<path d="M106.0 155.50h2.05v1.60h-2.05z" fill="#3e4325"/>
<path d="M108.0 155.50h2.05v1.60h-2.05z" fill="#181917"/>
<path d="M110.0 155.50h2.05v1.60h-2.05z" fill="#2b2e1e"/>
<path d="M112.0 155.50h2.05v1.60h-2.05z" fill="#171818"/>
<path d="M114.0 155.50h2.05v1.60h-2.05z" fill="#21231a"/>
<path d="M116.0 155.50h2.05v1.60h-2.05z" fill="#7e853a"/>
<path d="M118.0 155.50h2.05v1.60h-2.05z" fill="#717736"/>
<path d="M120.0 155.50h2.05v1.60h-2.05z" fill="#82883b"/>
<path d="M122.0 155.50h2.05v1.60h-2.05z" fill="#5b612e"/>
<path d="M124.0 155.50h2.05v1.60h-2.05z" fill="#8e943f"/>
<path d="M126.0 155.50h2.05v1.60h-2.05z" fill="#767d37"/>
<path d="M128.0 155.50h2.05v1.60h-2.05z" fill="#646a31"/>
<path d="M130.0 155.50h2.05v1.60h-2.05z" fill="#757c37"/>
<path d="M132.0 155.50h2.05v1.60h-2.05z" fill="#919740"/>
<path d="M134.0 155.50h2.05v1.60h-2.05z" fill="#6d7434"/>
<path d="M136.0 155.50h2.05v1.60h-2.05z" fill="#8f953f"/>
<path d="M44.0 157.05h2.05v1.60h-2.05z" fill="#3e4225"/>
<path d="M46.0 157.05h2.05v1.60h-2.05z" fill="#1b1d23"/>
<path d="M48.0 157.05h2.05v1.60h-2.05z" fill="#1c1d18"/>
<path d="M50.0 157.05h2.05v1.60h-2.05z" fill="#292b1d"/>
<path d="M52.0 157.05h2.05v1.60h-2.05z" fill="#3d4124"/>
<path d="M54.0 157.05h2.05v1.60h-2.05z" fill="#23261b"/>
<path d="M56.0 157.05h2.05v1.60h-2.05z" fill="#2e311f"/>
<path d="M58.0 157.05h2.05v1.60h-2.05z" fill="#1d202a"/>
<path d="M60.0 157.05h2.05v1.60h-2.05z" fill="#17191a"/>
<path d="M62.0 157.05h2.05v1.60h-2.05z" fill="#404425"/>
<path d="M64.0 157.05h2.05v1.60h-2.05z" fill="#181917"/>
<path d="M66.0 157.05h2.05v1.60h-2.05z" fill="#4a4f29"/>
<path d="M68.0 157.05h2.05v1.60h-2.05z" fill="#181a1c"/>
<path d="M70.0 157.05h2.05v1.60h-2.05z" fill="#181917"/>
<path d="M72.0 157.05h2.05v1.60h-2.05z" fill="#1e212c"/>
<path d="M74.0 157.05h2.05v1.60h-2.05z" fill="#2b2e1e"/>
<path d="M76.0 157.05h2.05v1.60h-2.05z" fill="#23261b"/>
<path d="M78.0 157.05h2.05v1.60h-2.05z" fill="#474c28"/>
<path d="M80.0 157.05h2.05v1.60h-2.05z" fill="#21231a"/>
<path d="M82.0 157.05h2.05v1.60h-2.05z" fill="#191a17"/>
<path d="M84.0 157.05h2.05v1.60h-2.05z" fill="#1d1f29"/>
<path d="M86.0 157.05h2.05v1.60h-2.05z" fill="#18191b"/>
<path d="M88.0 157.05h2.05v1.60h-2.05z" fill="#26291c"/>
<path d="M90.0 157.05h2.05v1.60h-2.05z" fill="#22241a"/>
<path d="M92.0 157.05h2.05v1.60h-2.05z" fill="#2c2f1e"/>
<path d="M94.0 157.05h2.05v1.60h-2.05z" fill="#24271b"/>
<path d="M96.0 157.05h2.05v1.60h-2.05z" fill="#17191a"/>
<path d="M98.0 157.05h2.05v1.60h-2.05z" fill="#1f2119"/>
<path d="M100.0 157.05h2.05v1.60h-2.05z" fill="#161716"/>
<path d="M102.0 157.05h2.05v1.60h-2.05z" fill="#202332"/>
<path d="M104.0 157.05h2.05v1.60h-2.05z" fill="#363a22"/>
<path d="M106.0 157.05h2.05v1.60h-2.05z" fill="#1a1c18"/>
<path d="M108.0 157.05h2.05v1.60h-2.05z" fill="#1e212d"/>
<path d="M110.0 157.05h2.05v1.60h-2.05z" fill="#1a1c18"/>
<path d="M112.0 157.05h2.05v1.60h-2.05z" fill="#181a17"/>
<path d="M114.0 157.05h2.05v1.60h-2.05z" fill="#272a1c"/>
<path d="M116.0 157.05h2.05v1.60h-2.05z" fill="#646b31"/>
<path d="M118.0 157.05h2.05v1.60h-2.05z" fill="#1b1d23"/>
<path d="M120.0 157.05h2.05v1.60h-2.05z" fill="#50562b"/>
<path d="M122.0 157.05h2.05v1.60h-2.05z" fill="#666d32"/>
<path d="M124.0 157.05h2.05v1.60h-2.05z" fill="#323621"/>
<path d="M126.0 157.05h2.05v1.60h-2.05z" fill="#1f211a"/>
<path d="M128.0 157.05h2.05v1.60h-2.05z" fill="#4b5029"/>
<path d="M130.0 157.05h2.05v1.60h-2.05z" fill="#4c5129"/>
<path d="M132.0 157.05h2.05v1.60h-2.05z" fill="#4c5229"/>
<path d="M134.0 157.05h2.05v1.60h-2.05z" fill="#2f321f"/>
<path d="M136.0 157.05h2.05v1.60h-2.05z" fill="#3c4024"/>
<path d="M44.0 158.60h2.05v1.60h-2.05z" fill="#282b1d"/>
<path d="M46.0 158.60h2.05v1.60h-2.05z" fill="#454b27"/>
<path d="M48.0 158.60h2.05v1.60h-2.05z" fill="#1f2119"/>
<path d="M50.0 158.60h2.05v1.60h-2.05z" fill="#191b1f"/>
<path d="M52.0 158.60h2.05v1.60h-2.05z" fill="#23283d"/>
<path d="M54.0 158.60h2.05v1.60h-2.05z" fill="#2f331f"/>
<path d="M56.0 158.60h2.05v1.60h-2.05z" fill="#161716"/>
<path d="M58.0 158.60h2.05v1.60h-2.05z" fill="#161716"/>
<path d="M60.0 158.60h2.05v1.60h-2.05z" fill="#1c1e26"/>
<path d="M62.0 158.60h2.05v1.60h-2.05z" fill="#282b1d"/>
<path d="M64.0 158.60h2.05v1.60h-2.05z" fill="#212535"/>
<path d="M66.0 158.60h2.05v1.60h-2.05z" fill="#1b1c18"/>
<path d="M68.0 158.60h2.05v1.60h-2.05z" fill="#1b1d18"/>
<path d="M70.0 158.60h2.05v1.60h-2.05z" fill="#1f2119"/>
<path d="M72.0 158.60h2.05v1.60h-2.05z" fill="#343821"/>
<path d="M74.0 158.60h2.05v1.60h-2.05z" fill="#171816"/>
<path d="M76.0 158.60h2.05v1.60h-2.05z" fill="#1b1c18"/>
<path d="M78.0 158.60h2.05v1.60h-2.05z" fill="#2b2e1e"/>
<path d="M80.0 158.60h2.05v1.60h-2.05z" fill="#1f2330"/>
<path d="M82.0 158.60h2.05v1.60h-2.05z" fill="#171819"/>
<path d="M84.0 158.60h2.05v1.60h-2.05z" fill="#1a1c18"/>
<path d="M86.0 158.60h2.05v1.60h-2.05z" fill="#21231a"/>
<path d="M88.0 158.60h2.05v1.60h-2.05z" fill="#1e212d"/>
<path d="M90.0 158.60h2.05v1.60h-2.05z" fill="#1e2019"/>
<path d="M92.0 158.60h2.05v1.60h-2.05z" fill="#161717"/>
<path d="M94.0 158.60h2.05v1.60h-2.05z" fill="#222639"/>
<path d="M96.0 158.60h2.05v1.60h-2.05z" fill="#222639"/>
<path d="M98.0 158.60h2.05v1.60h-2.05z" fill="#222638"/>
<path d="M100.0 158.60h2.05v1.60h-2.05z" fill="#18191b"/>
<path d="M102.0 158.60h2.05v1.60h-2.05z" fill="#17191a"/>
<path d="M104.0 158.60h2.05v1.60h-2.05z" fill="#1c1e18"/>
<path d="M106.0 158.60h2.05v1.60h-2.05z" fill="#1e2019"/>
<path d="M108.0 158.60h2.05v1.60h-2.05z" fill="#1c1f28"/>
<path d="M110.0 158.60h2.05v1.60h-2.05z" fill="#24261b"/>
<path d="M112.0 158.60h2.05v1.60h-2.05z" fill="#1e2019"/>
<path d="M114.0 158.60h2.05v1.60h-2.05z" fill="#171816"/>
<path d="M116.0 158.60h2.05v1.60h-2.05z" fill="#4a4f29"/>
<path d="M118.0 158.60h2.05v1.60h-2.05z" fill="#26291c"/>
<path d="M120.0 158.60h2.05v1.60h-2.05z" fill="#474d28"/>
<path d="M122.0 158.60h2.05v1.60h-2.05z" fill="#2b2e1e"/>
<path d="M124.0 158.60h2.05v1.60h-2.05z" fill="#282b1d"/>
<path d="M126.0 158.60h2.05v1.60h-2.05z" fill="#393e23"/>
<path d="M128.0 158.60h2.05v1.60h-2.05z" fill="#434826"/>
<path d="M130.0 158.60h2.05v1.60h-2.05z" fill="#3f4425"/>
<path d="M132.0 158.60h2.05v1.60h-2.05z" fill="#3a3e23"/>
<path d="M134.0 158.60h2.05v1.60h-2.05z" fill="#2c2f1e"/>
<path d="M136.0 158.60h2.05v1.60h-2.05z" fill="#444927"/>
<path d="M44.0 160.15h2.05v1.60h-2.05z" fill="#252b43"/>
<path d="M46.0 160.15h2.05v1.60h-2.05z" fill="#1e212d"/>
<path d="M48.0 160.15h2.05v1.60h-2.05z" fill="#191a17"/>
<path d="M50.0 160.15h2.05v1.60h-2.05z" fill="#212536"/>
<path d="M52.0 160.15h2.05v1.60h-2.05z" fill="#24293f"/>
<path d="M54.0 160.15h2.05v1.60h-2.05z" fill="#171917"/>
<path d="M56.0 160.15h2.05v1.60h-2.05z" fill="#1e2019"/>
<path d="M58.0 160.15h2.05v1.60h-2.05z" fill="#212434"/>
<path d="M60.0 160.15h2.05v1.60h-2.05z" fill="#202432"/>
<path d="M62.0 160.15h2.05v1.60h-2.05z" fill="#1d202b"/>
<path d="M64.0 160.15h2.05v1.60h-2.05z" fill="#383c23"/>
<path d="M66.0 160.15h2.05v1.60h-2.05z" fill="#1e212c"/>
<path d="M68.0 160.15h2.05v1.60h-2.05z" fill="#181a1c"/>
<path d="M70.0 160.15h2.05v1.60h-2.05z" fill="#1c1e26"/>
<path d="M72.0 160.15h2.05v1.60h-2.05z" fill="#262d48"/>
<path d="M74.0 160.15h2.05v1.60h-2.05z" fill="#24293f"/>
<path d="M76.0 160.15h2.05v1.60h-2.05z" fill="#242a41"/>
<path d="M78.0 160.15h2.05v1.60h-2.05z" fill="#1c1e26"/>
<path d="M80.0 160.15h2.05v1.60h-2.05z" fill="#1e212d"/>
<path d="M82.0 160.15h2.05v1.60h-2.05z" fill="#20221a"/>
<path d="M84.0 160.15h2.05v1.60h-2.05z" fill="#202434"/>
<path d="M86.0 160.15h2.05v1.60h-2.05z" fill="#1d1f29"/>
<path d="M88.0 160.15h2.05v1.60h-2.05z" fill="#1e212d"/>
<path d="M90.0 160.15h2.05v1.60h-2.05z" fill="#1e212c"/>
<path d="M92.0 160.15h2.05v1.60h-2.05z" fill="#2b2e1e"/>
<path d="M94.0 160.15h2.05v1.60h-2.05z" fill="#1d1f29"/>
<path d="M96.0 160.15h2.05v1.60h-2.05z" fill="#191b17"/>
<path d="M98.0 160.15h2.05v1.60h-2.05z" fill="#161716"/>
<path d="M100.0 160.15h2.05v1.60h-2.05z" fill="#222739"/>
<path d="M102.0 160.15h2.05v1.60h-2.05z" fill="#1a1c22"/>
<path d="M104.0 160.15h2.05v1.60h-2.05z" fill="#212536"/>
<path d="M106.0 160.15h2.05v1.60h-2.05z" fill="#1e212c"/>
<path d="M108.0 160.15h2.05v1.60h-2.05z" fill="#1e212c"/>
<path d="M110.0 160.15h2.05v1.60h-2.05z" fill="#1f222e"/>
<path d="M112.0 160.15h2.05v1.60h-2.05z" fill="#222637"/>
<path d="M114.0 160.15h2.05v1.60h-2.05z" fill="#1b1d18"/>
<path d="M116.0 160.15h2.05v1.60h-2.05z" fill="#202433"/>
<path d="M118.0 160.15h2.05v1.60h-2.05z" fill="#1a1c21"/>
<path d="M120.0 160.15h2.05v1.60h-2.05z" fill="#1e1f19"/>
<path d="M122.0 160.15h2.05v1.60h-2.05z" fill="#1b1d23"/>
<path d="M124.0 160.15h2.05v1.60h-2.05z" fill="#18191b"/>
<path d="M126.0 160.15h2.05v1.60h-2.05z" fill="#181917"/>
<path d="M128.0 160.15h2.05v1.60h-2.05z" fill="#17191a"/>
<path d="M130.0 160.15h2.05v1.60h-2.05z" fill="#1f2019"/>
<path d="M132.0 160.15h2.05v1.60h-2.05z" fill="#252b43"/>
<path d="M134.0 160.15h2.05v1.60h-2.05z" fill="#24261b"/>
<path d="M136.0 160.15h2.05v1.60h-2.05z" fill="#1e222e"/>
<path d="M44.0 161.70h2.05v1.60h-2.05z" fill="#27314f"/>
<path d="M46.0 161.70h2.05v1.60h-2.05z" fill="#29365a"/>
<path d="M48.0 161.70h2.05v1.60h-2.05z" fill="#262d48"/>
<path d="M50.0 161.70h2.05v1.60h-2.05z" fill="#2a375c"/>
<path d="M52.0 161.70h2.05v1.60h-2.05z" fill="#283354"/>
<path d="M54.0 161.70h2.05v1.60h-2.05z" fill="#252b44"/>
<path d="M56.0 161.70h2.05v1.60h-2.05z" fill="#252c45"/>
<path d="M58.0 161.70h2.05v1.60h-2.05z" fill="#283251"/>
<path d="M60.0 161.70h2.05v1.60h-2.05z" fill="#262e4a"/>
<path d="M62.0 161.70h2.05v1.60h-2.05z" fill="#262e49"/>
<path d="M64.0 161.70h2.05v1.60h-2.05z" fill="#252d46"/>
<path d="M66.0 161.70h2.05v1.60h-2.05z" fill="#262d47"/>
<path d="M68.0 161.70h2.05v1.60h-2.05z" fill="#262e4a"/>
<path d="M70.0 161.70h2.05v1.60h-2.05z" fill="#23283d"/>
<path d="M72.0 161.70h2.05v1.60h-2.05z" fill="#2a385d"/>
<path d="M74.0 161.70h2.05v1.60h-2.05z" fill="#27304d"/>
<path d="M76.0 161.70h2.05v1.60h-2.05z" fill="#252c46"/>
<path d="M78.0 161.70h2.05v1.60h-2.05z" fill="#272f4c"/>
<path d="M80.0 161.70h2.05v1.60h-2.05z" fill="#27304e"/>
<path d="M82.0 161.70h2.05v1.60h-2.05z" fill="#27304d"/>
<path d="M84.0 161.70h2.05v1.60h-2.05z" fill="#252c45"/>
<path d="M86.0 161.70h2.05v1.60h-2.05z" fill="#191b1f"/>
<path d="M88.0 161.70h2.05v1.60h-2.05z" fill="#222639"/>
<path d="M90.0 161.70h2.05v1.60h-2.05z" fill="#22273a"/>
<path d="M92.0 161.70h2.05v1.60h-2.05z" fill="#1f222f"/>
<path d="M94.0 161.70h2.05v1.60h-2.05z" fill="#22273a"/>
<path d="M96.0 161.70h2.05v1.60h-2.05z" fill="#27304e"/>
<path d="M98.0 161.70h2.05v1.60h-2.05z" fill="#1f2331"/>
<path d="M100.0 161.70h2.05v1.60h-2.05z" fill="#23283b"/>
<path d="M102.0 161.70h2.05v1.60h-2.05z" fill="#23293e"/>
<path d="M104.0 161.70h2.05v1.60h-2.05z" fill="#1d202a"/>
<path d="M106.0 161.70h2.05v1.60h-2.05z" fill="#212535"/>
<path d="M108.0 161.70h2.05v1.60h-2.05z" fill="#23293e"/>
<path d="M110.0 161.70h2.05v1.60h-2.05z" fill="#283251"/>
<path d="M112.0 161.70h2.05v1.60h-2.05z" fill="#272f4c"/>
<path d="M114.0 161.70h2.05v1.60h-2.05z" fill="#212536"/>
<path d="M116.0 161.70h2.05v1.60h-2.05z" fill="#353821"/>
<path d="M118.0 161.70h2.05v1.60h-2.05z" fill="#404425"/>
<path d="M120.0 161.70h2.05v1.60h-2.05z" fill="#3b4024"/>
<path d="M122.0 161.70h2.05v1.60h-2.05z" fill="#2d301f"/>
<path d="M124.0 161.70h2.05v1.60h-2.05z" fill="#1c1e18"/>
<path d="M126.0 161.70h2.05v1.60h-2.05z" fill="#20221a"/>
<path d="M128.0 161.70h2.05v1.60h-2.05z" fill="#343821"/>
<path d="M130.0 161.70h2.05v1.60h-2.05z" fill="#1f2119"/>
<path d="M132.0 161.70h2.05v1.60h-2.05z" fill="#464b27"/>
<path d="M134.0 161.70h2.05v1.60h-2.05z" fill="#1b1d18"/>
<path d="M136.0 161.70h2.05v1.60h-2.05z" fill="#17191a"/>
<path d="M44.0 163.25h2.05v1.60h-2.05z" fill="#1d202a"/>
<path d="M46.0 163.25h2.05v1.60h-2.05z" fill="#464b27"/>
<path d="M48.0 163.25h2.05v1.60h-2.05z" fill="#18191c"/>
<path d="M50.0 163.25h2.05v1.60h-2.05z" fill="#23261b"/>
<path d="M52.0 163.25h2.05v1.60h-2.05z" fill="#1f211a"/>
<path d="M54.0 163.25h2.05v1.60h-2.05z" fill="#171818"/>
<path d="M56.0 163.25h2.05v1.60h-2.05z" fill="#1d202a"/>
<path d="M58.0 163.25h2.05v1.60h-2.05z" fill="#1e212c"/>
<path d="M60.0 163.25h2.05v1.60h-2.05z" fill="#373b22"/>
<path d="M62.0 163.25h2.05v1.60h-2.05z" fill="#3a3e23"/>
<path d="M64.0 163.25h2.05v1.60h-2.05z" fill="#50562b"/>
<path d="M66.0 163.25h2.05v1.60h-2.05z" fill="#1b1d24"/>
<path d="M68.0 163.25h2.05v1.60h-2.05z" fill="#303420"/>
<path d="M70.0 163.25h2.05v1.60h-2.05z" fill="#24271b"/>
<path d="M72.0 163.25h2.05v1.60h-2.05z" fill="#363a22"/>
<path d="M74.0 163.25h2.05v1.60h-2.05z" fill="#1a1b17"/>
<path d="M76.0 163.25h2.05v1.60h-2.05z" fill="#343821"/>
<path d="M78.0 163.25h2.05v1.60h-2.05z" fill="#373b22"/>
<path d="M80.0 163.25h2.05v1.60h-2.05z" fill="#313520"/>
<path d="M82.0 163.25h2.05v1.60h-2.05z" fill="#424726"/>
<path d="M84.0 163.25h2.05v1.60h-2.05z" fill="#21231a"/>
<path d="M86.0 163.25h2.05v1.60h-2.05z" fill="#1b1d24"/>
<path d="M88.0 163.25h2.05v1.60h-2.05z" fill="#252d47"/>
<path d="M90.0 163.25h2.05v1.60h-2.05z" fill="#1a1c22"/>
<path d="M92.0 163.25h2.05v1.60h-2.05z" fill="#2b3a63"/>
<path d="M94.0 163.25h2.05v1.60h-2.05z" fill="#23293e"/>
<path d="M96.0 163.25h2.05v1.60h-2.05z" fill="#262d48"/>
<path d="M98.0 163.25h2.05v1.60h-2.05z" fill="#23293e"/>
<path d="M100.0 163.25h2.05v1.60h-2.05z" fill="#1e222e"/>
<path d="M102.0 163.25h2.05v1.60h-2.05z" fill="#212434"/>
<path d="M104.0 163.25h2.05v1.60h-2.05z" fill="#23283d"/>
<path d="M106.0 163.25h2.05v1.60h-2.05z" fill="#1a1c21"/>
<path d="M108.0 163.25h2.05v1.60h-2.05z" fill="#283150"/>
<path d="M110.0 163.25h2.05v1.60h-2.05z" fill="#262d48"/>
<path d="M112.0 163.25h2.05v1.60h-2.05z" fill="#1b1e25"/>
<path d="M114.0 163.25h2.05v1.60h-2.05z" fill="#22273a"/>
<path d="M116.0 163.25h2.05v1.60h-2.05z" fill="#3d4224"/>
<path d="M118.0 163.25h2.05v1.60h-2.05z" fill="#727936"/>
<path d="M120.0 163.25h2.05v1.60h-2.05z" fill="#4f552a"/>
<path d="M122.0 163.25h2.05v1.60h-2.05z" fill="#959b41"/>
<path d="M124.0 163.25h2.05v1.60h-2.05z" fill="#8a913e"/>
<path d="M126.0 163.25h2.05v1.60h-2.05z" fill="#5d632f"/>
<path d="M128.0 163.25h2.05v1.60h-2.05z" fill="#8f953f"/>
<path d="M130.0 163.25h2.05v1.60h-2.05z" fill="#565c2d"/>
<path d="M132.0 163.25h2.05v1.60h-2.05z" fill="#838a3c"/>
<path d="M134.0 163.25h2.05v1.60h-2.05z" fill="#787f38"/>
<path d="M136.0 163.25h2.05v1.60h-2.05z" fill="#676e32"/>
<path d="M44.0 164.80h2.05v1.60h-2.05z" fill="#191a1e"/>
<path d="M46.0 164.80h2.05v1.60h-2.05z" fill="#24293f"/>
<path d="M48.0 164.80h2.05v1.60h-2.05z" fill="#1b1d23"/>
<path d="M50.0 164.80h2.05v1.60h-2.05z" fill="#22273a"/>
<path d="M52.0 164.80h2.05v1.60h-2.05z" fill="#2d301f"/>
<path d="M54.0 164.80h2.05v1.60h-2.05z" fill="#1d202a"/>
<path d="M56.0 164.80h2.05v1.60h-2.05z" fill="#242a41"/>
<path d="M58.0 164.80h2.05v1.60h-2.05z" fill="#20221a"/>
<path d="M60.0 164.80h2.05v1.60h-2.05z" fill="#1b1d18"/>
<path d="M62.0 164.80h2.05v1.60h-2.05z" fill="#1a1c22"/>
<path d="M64.0 164.80h2.05v1.60h-2.05z" fill="#3f4425"/>
<path d="M66.0 164.80h2.05v1.60h-2.05z" fill="#24261b"/>
<path d="M68.0 164.80h2.05v1.60h-2.05z" fill="#161817"/>
<path d="M70.0 164.80h2.05v1.60h-2.05z" fill="#1b1d24"/>
<path d="M72.0 164.80h2.05v1.60h-2.05z" fill="#262d48"/>
<path d="M74.0 164.80h2.05v1.60h-2.05z" fill="#1d1f19"/>
<path d="M76.0 164.80h2.05v1.60h-2.05z" fill="#282a1d"/>
<path d="M78.0 164.80h2.05v1.60h-2.05z" fill="#1b1d23"/>
<path d="M80.0 164.80h2.05v1.60h-2.05z" fill="#202433"/>
<path d="M82.0 164.80h2.05v1.60h-2.05z" fill="#171819"/>
<path d="M84.0 164.80h2.05v1.60h-2.05z" fill="#222638"/>
<path d="M86.0 164.80h2.05v1.60h-2.05z" fill="#262d48"/>
<path d="M88.0 164.80h2.05v1.60h-2.05z" fill="#24293f"/>
<path d="M90.0 164.80h2.05v1.60h-2.05z" fill="#212434"/>
<path d="M92.0 164.80h2.05v1.60h-2.05z" fill="#252c45"/>
<path d="M94.0 164.80h2.05v1.60h-2.05z" fill="#252c46"/>
<path d="M96.0 164.80h2.05v1.60h-2.05z" fill="#24293f"/>
<path d="M98.0 164.80h2.05v1.60h-2.05z" fill="#212536"/>
<path d="M100.0 164.80h2.05v1.60h-2.05z" fill="#272f4c"/>
<path d="M102.0 164.80h2.05v1.60h-2.05z" fill="#293559"/>
<path d="M104.0 164.80h2.05v1.60h-2.05z" fill="#283252"/>
<path d="M106.0 164.80h2.05v1.60h-2.05z" fill="#293559"/>
<path d="M108.0 164.80h2.05v1.60h-2.05z" fill="#283353"/>
<path d="M110.0 164.80h2.05v1.60h-2.05z" fill="#262e4a"/>
<path d="M112.0 164.80h2.05v1.60h-2.05z" fill="#252b44"/>
<path d="M114.0 164.80h2.05v1.60h-2.05z" fill="#252d46"/>
<path d="M116.0 164.80h2.05v1.60h-2.05z" fill="#585e2d"/>
<path d="M118.0 164.80h2.05v1.60h-2.05z" fill="#4f552a"/>
<path d="M120.0 164.80h2.05v1.60h-2.05z" fill="#616730"/>
<path d="M122.0 164.80h2.05v1.60h-2.05z" fill="#6c7234"/>
<path d="M124.0 164.80h2.05v1.60h-2.05z" fill="#696f33"/>
<path d="M126.0 164.80h2.05v1.60h-2.05z" fill="#7b8239"/>
<path d="M128.0 164.80h2.05v1.60h-2.05z" fill="#50562b"/>
<path d="M130.0 164.80h2.05v1.60h-2.05z" fill="#51572b"/>
<path d="M132.0 164.80h2.05v1.60h-2.05z" fill="#82883b"/>
<path d="M134.0 164.80h2.05v1.60h-2.05z" fill="#5b622e"/>
<path d="M136.0 164.80h2.05v1.60h-2.05z" fill="#606730"/>
<path d="M44.0 166.35h2.05v1.60h-2.05z" fill="#424726"/>
<path d="M46.0 166.35h2.05v1.60h-2.05z" fill="#26281c"/>
<path d="M48.0 166.35h2.05v1.60h-2.05z" fill="#191a17"/>
<path d="M50.0 166.35h2.05v1.60h-2.05z" fill="#2d301f"/>
<path d="M52.0 166.35h2.05v1.60h-2.05z" fill="#25271c"/>
<path d="M54.0 166.35h2.05v1.60h-2.05z" fill="#3f4425"/>
<path d="M56.0 166.35h2.05v1.60h-2.05z" fill="#26291c"/>
<path d="M58.0 166.35h2.05v1.60h-2.05z" fill="#313420"/>
<path d="M60.0 166.35h2.05v1.60h-2.05z" fill="#292c1d"/>
<path d="M62.0 166.35h2.05v1.60h-2.05z" fill="#353922"/>
<path d="M64.0 166.35h2.05v1.60h-2.05z" fill="#21231a"/>
<path d="M66.0 166.35h2.05v1.60h-2.05z" fill="#444927"/>
<path d="M68.0 166.35h2.05v1.60h-2.05z" fill="#18191b"/>
<path d="M70.0 166.35h2.05v1.60h-2.05z" fill="#26281c"/>
<path d="M72.0 166.35h2.05v1.60h-2.05z" fill="#1f2119"/>
<path d="M74.0 166.35h2.05v1.60h-2.05z" fill="#3b4024"/>
<path d="M76.0 166.35h2.05v1.60h-2.05z" fill="#2f321f"/>
<path d="M78.0 166.35h2.05v1.60h-2.05z" fill="#383c23"/>
<path d="M80.0 166.35h2.05v1.60h-2.05z" fill="#272a1c"/>
<path d="M82.0 166.35h2.05v1.60h-2.05z" fill="#1f2119"/>
<path d="M84.0 166.35h2.05v1.60h-2.05z" fill="#161716"/>
<path d="M86.0 166.35h2.05v1.60h-2.05z" fill="#252b43"/>
<path d="M88.0 166.35h2.05v1.60h-2.05z" fill="#252c46"/>
<path d="M90.0 166.35h2.05v1.60h-2.05z" fill="#23283c"/>
<path d="M92.0 166.35h2.05v1.60h-2.05z" fill="#23273b"/>
<path d="M94.0 166.35h2.05v1.60h-2.05z" fill="#1f2331"/>
<path d="M96.0 166.35h2.05v1.60h-2.05z" fill="#242a41"/>
<path d="M98.0 166.35h2.05v1.60h-2.05z" fill="#262e48"/>
<path d="M100.0 166.35h2.05v1.60h-2.05z" fill="#272f4c"/>
<path d="M102.0 166.35h2.05v1.60h-2.05z" fill="#23293e"/>
<path d="M104.0 166.35h2.05v1.60h-2.05z" fill="#23273b"/>
<path d="M106.0 166.35h2.05v1.60h-2.05z" fill="#191b1f"/>
<path d="M108.0 166.35h2.05v1.60h-2.05z" fill="#23283d"/>
<path d="M110.0 166.35h2.05v1.60h-2.05z" fill="#1a1c22"/>
<path d="M112.0 166.35h2.05v1.60h-2.05z" fill="#1a1b20"/>
<path d="M114.0 166.35h2.05v1.60h-2.05z" fill="#272f4c"/>
<path d="M116.0 166.35h2.05v1.60h-2.05z" fill="#8a903e"/>
<path d="M118.0 166.35h2.05v1.60h-2.05z" fill="#878e3d"/>
<path d="M120.0 166.35h2.05v1.60h-2.05z" fill="#8e943f"/>
<path d="M122.0 166.35h2.05v1.60h-2.05z" fill="#686e33"/>
<path d="M124.0 166.35h2.05v1.60h-2.05z" fill="#81883b"/>
<path d="M126.0 166.35h2.05v1.60h-2.05z" fill="#5c632f"/>
<path d="M128.0 166.35h2.05v1.60h-2.05z" fill="#666d32"/>
<path d="M130.0 166.35h2.05v1.60h-2.05z" fill="#686f33"/>
<path d="M132.0 166.35h2.05v1.60h-2.05z" fill="#9ca244"/>
<path d="M134.0 166.35h2.05v1.60h-2.05z" fill="#636931"/>
<path d="M136.0 166.35h2.05v1.60h-2.05z" fill="#81883b"/>
<path d="M44.0 167.90h2.05v1.60h-2.05z" fill="#25271c"/>
<path d="M46.0 167.90h2.05v1.60h-2.05z" fill="#393d23"/>
<path d="M48.0 167.90h2.05v1.60h-2.05z" fill="#414626"/>
<path d="M50.0 167.90h2.05v1.60h-2.05z" fill="#25271c"/>
<path d="M52.0 167.90h2.05v1.60h-2.05z" fill="#404525"/>
<path d="M54.0 167.90h2.05v1.60h-2.05z" fill="#25271c"/>
<path d="M56.0 167.90h2.05v1.60h-2.05z" fill="#21231a"/>
<path d="M58.0 167.90h2.05v1.60h-2.05z" fill="#383c23"/>
<path d="M60.0 167.90h2.05v1.60h-2.05z" fill="#2f321f"/>
<path d="M62.0 167.90h2.05v1.60h-2.05z" fill="#1f2119"/>
<path d="M64.0 167.90h2.05v1.60h-2.05z" fill="#17191a"/>
<path d="M66.0 167.90h2.05v1.60h-2.05z" fill="#343821"/>
<path d="M68.0 167.90h2.05v1.60h-2.05z" fill="#393d23"/>
<path d="M70.0 167.90h2.05v1.60h-2.05z" fill="#2a2d1e"/>
<path d="M72.0 167.90h2.05v1.60h-2.05z" fill="#383c23"/>
<path d="M74.0 167.90h2.05v1.60h-2.05z" fill="#171818"/>
<path d="M76.0 167.90h2.05v1.60h-2.05z" fill="#3c4024"/>
<path d="M78.0 167.90h2.05v1.60h-2.05z" fill="#3c4124"/>
<path d="M80.0 167.90h2.05v1.60h-2.05z" fill="#393e23"/>
<path d="M82.0 167.90h2.05v1.60h-2.05z" fill="#27291c"/>
<path d="M84.0 167.90h2.05v1.60h-2.05z" fill="#353922"/>
<path d="M86.0 167.90h2.05v1.60h-2.05z" fill="#23293e"/>
<path d="M88.0 167.90h2.05v1.60h-2.05z" fill="#1f222f"/>
<path d="M90.0 167.90h2.05v1.60h-2.05z" fill="#23283c"/>
<path d="M92.0 167.90h2.05v1.60h-2.05z" fill="#23283c"/>
<path d="M94.0 167.90h2.05v1.60h-2.05z" fill="#262d48"/>
<path d="M96.0 167.90h2.05v1.60h-2.05z" fill="#202433"/>
<path d="M98.0 167.90h2.05v1.60h-2.05z" fill="#1e212d"/>
<path d="M100.0 167.90h2.05v1.60h-2.05z" fill="#252c45"/>
<path d="M102.0 167.90h2.05v1.60h-2.05z" fill="#222637"/>
<path d="M104.0 167.90h2.05v1.60h-2.05z" fill="#23283b"/>
<path d="M106.0 167.90h2.05v1.60h-2.05z" fill="#242a40"/>
<path d="M108.0 167.90h2.05v1.60h-2.05z" fill="#27314f"/>
<path d="M110.0 167.90h2.05v1.60h-2.05z" fill="#1a1c22"/>
<path d="M112.0 167.90h2.05v1.60h-2.05z" fill="#293557"/>
<path d="M114.0 167.90h2.05v1.60h-2.05z" fill="#23283c"/>
<path d="M116.0 167.90h2.05v1.60h-2.05z" fill="#4d522a"/>
<path d="M118.0 167.90h2.05v1.60h-2.05z" fill="#707635"/>
<path d="M120.0 167.90h2.05v1.60h-2.05z" fill="#4c5129"/>
<path d="M122.0 167.90h2.05v1.60h-2.05z" fill="#555b2c"/>
<path d="M124.0 167.90h2.05v1.60h-2.05z" fill="#636931"/>
<path d="M126.0 167.90h2.05v1.60h-2.05z" fill="#5f6530"/>
<path d="M128.0 167.90h2.05v1.60h-2.05z" fill="#4a4f29"/>
<path d="M130.0 167.90h2.05v1.60h-2.05z" fill="#646b31"/>
<path d="M132.0 167.90h2.05v1.60h-2.05z" fill="#5e642f"/>
<path d="M134.0 167.90h2.05v1.60h-2.05z" fill="#6c7234"/>
<path d="M136.0 167.90h2.05v1.60h-2.05z" fill="#4a5029"/>
<path d="M44.0 169.45h2.05v1.60h-2.05z" fill="#242a42"/>
<path d="M46.0 169.45h2.05v1.60h-2.05z" fill="#252d47"/>
<path d="M48.0 169.45h2.05v1.60h-2.05z" fill="#22273a"/>
<path d="M50.0 169.45h2.05v1.60h-2.05z" fill="#222638"/>
<path d="M52.0 169.45h2.05v1.60h-2.05z" fill="#1b1e25"/>
<path d="M54.0 169.45h2.05v1.60h-2.05z" fill="#242a41"/>
<path d="M56.0 169.45h2.05v1.60h-2.05z" fill="#222638"/>
<path d="M58.0 169.45h2.05v1.60h-2.05z" fill="#1d202a"/>
<path d="M60.0 169.45h2.05v1.60h-2.05z" fill="#23293e"/>
<path d="M62.0 169.45h2.05v1.60h-2.05z" fill="#23283c"/>
<path d="M64.0 169.45h2.05v1.60h-2.05z" fill="#23273b"/>
<path d="M66.0 169.45h2.05v1.60h-2.05z" fill="#252c45"/>
<path d="M68.0 169.45h2.05v1.60h-2.05z" fill="#262e49"/>
<path d="M70.0 169.45h2.05v1.60h-2.05z" fill="#1d202b"/>
<path d="M72.0 169.45h2.05v1.60h-2.05z" fill="#23273b"/>
<path d="M74.0 169.45h2.05v1.60h-2.05z" fill="#23293e"/>
<path d="M76.0 169.45h2.05v1.60h-2.05z" fill="#272f4c"/>
<path d="M78.0 169.45h2.05v1.60h-2.05z" fill="#23283b"/>
<path d="M80.0 169.45h2.05v1.60h-2.05z" fill="#1d2029"/>
<path d="M82.0 169.45h2.05v1.60h-2.05z" fill="#262f4b"/>
<path d="M84.0 169.45h2.05v1.60h-2.05z" fill="#262d48"/>
<path d="M86.0 169.45h2.05v1.60h-2.05z" fill="#1f2230"/>
<path d="M88.0 169.45h2.05v1.60h-2.05z" fill="#1d202a"/>
<path d="M90.0 169.45h2.05v1.60h-2.05z" fill="#1c1f28"/>
<path d="M92.0 169.45h2.05v1.60h-2.05z" fill="#252d47"/>
<path d="M94.0 169.45h2.05v1.60h-2.05z" fill="#222639"/>
<path d="M96.0 169.45h2.05v1.60h-2.05z" fill="#262e49"/>
<path d="M98.0 169.45h2.05v1.60h-2.05z" fill="#22273a"/>
<path d="M100.0 169.45h2.05v1.60h-2.05z" fill="#252c45"/>
<path d="M102.0 169.45h2.05v1.60h-2.05z" fill="#23293e"/>
<path d="M104.0 169.45h2.05v1.60h-2.05z" fill="#1e202b"/>
<path d="M106.0 169.45h2.05v1.60h-2.05z" fill="#23283c"/>
<path d="M108.0 169.45h2.05v1.60h-2.05z" fill="#252b43"/>
<path d="M110.0 169.45h2.05v1.60h-2.05z" fill="#24293f"/>
<path d="M112.0 169.45h2.05v1.60h-2.05z" fill="#23283d"/>
<path d="M114.0 169.45h2.05v1.60h-2.05z" fill="#252d46"/>
<path d="M116.0 169.45h2.05v1.60h-2.05z" fill="#575e2d"/>
<path d="M118.0 169.45h2.05v1.60h-2.05z" fill="#616730"/>
<path d="M120.0 169.45h2.05v1.60h-2.05z" fill="#777e38"/>
<path d="M122.0 169.45h2.05v1.60h-2.05z" fill="#292c1d"/>
<path d="M124.0 169.45h2.05v1.60h-2.05z" fill="#3b4024"/>
<path d="M126.0 169.45h2.05v1.60h-2.05z" fill="#3a3f23"/>
<path d="M128.0 169.45h2.05v1.60h-2.05z" fill="#676e32"/>
<path d="M130.0 169.45h2.05v1.60h-2.05z" fill="#949a41"/>
<path d="M132.0 169.45h2.05v1.60h-2.05z" fill="#575d2d"/>
<path d="M134.0 169.45h2.05v1.60h-2.05z" fill="#555b2c"/>
<path d="M136.0 169.45h2.05v1.60h-2.05z" fill="#6d7434"/>
<path d="M44.0 171.00h2.05v1.60h-2.05z" fill="#222638"/>
<path d="M46.0 171.00h2.05v1.60h-2.05z" fill="#2a385e"/>
<path d="M48.0 171.00h2.05v1.60h-2.05z" fill="#202331"/>
<path d="M50.0 171.00h2.05v1.60h-2.05z" fill="#23283c"/>
<path d="M52.0 171.00h2.05v1.60h-2.05z" fill="#23283b"/>
<path d="M54.0 171.00h2.05v1.60h-2.05z" fill="#1e222e"/>
<path d="M56.0 171.00h2.05v1.60h-2.05z" fill="#23283d"/>
<path d="M58.0 171.00h2.05v1.60h-2.05z" fill="#191b20"/>
<path d="M60.0 171.00h2.05v1.60h-2.05z" fill="#212434"/>
<path d="M62.0 171.00h2.05v1.60h-2.05z" fill="#1e212d"/>
<path d="M64.0 171.00h2.05v1.60h-2.05z" fill="#292c1d"/>
<path d="M66.0 171.00h2.05v1.60h-2.05z" fill="#23273b"/>
<path d="M68.0 171.00h2.05v1.60h-2.05z" fill="#1b1d23"/>
<path d="M70.0 171.00h2.05v1.60h-2.05z" fill="#242a40"/>
<path d="M72.0 171.00h2.05v1.60h-2.05z" fill="#191a1d"/>
<path d="M74.0 171.00h2.05v1.60h-2.05z" fill="#1a1c22"/>
<path d="M76.0 171.00h2.05v1.60h-2.05z" fill="#202332"/>
<path d="M78.0 171.00h2.05v1.60h-2.05z" fill="#1a1c22"/>
<path d="M80.0 171.00h2.05v1.60h-2.05z" fill="#161716"/>
<path d="M82.0 171.00h2.05v1.60h-2.05z" fill="#18191b"/>
<path d="M84.0 171.00h2.05v1.60h-2.05z" fill="#212434"/>
<path d="M86.0 171.00h2.05v1.60h-2.05z" fill="#293355"/>
<path d="M88.0 171.00h2.05v1.60h-2.05z" fill="#252d46"/>
<path d="M90.0 171.00h2.05v1.60h-2.05z" fill="#2d3e6b"/>
<path d="M92.0 171.00h2.05v1.60h-2.05z" fill="#2a385d"/>
<path d="M94.0 171.00h2.05v1.60h-2.05z" fill="#27304e"/>
<path d="M96.0 171.00h2.05v1.60h-2.05z" fill="#27304d"/>
<path d="M98.0 171.00h2.05v1.60h-2.05z" fill="#23283d"/>
<path d="M100.0 171.00h2.05v1.60h-2.05z" fill="#23293e"/>
<path d="M102.0 171.00h2.05v1.60h-2.05z" fill="#273150"/>
<path d="M104.0 171.00h2.05v1.60h-2.05z" fill="#27304e"/>
<path d="M106.0 171.00h2.05v1.60h-2.05z" fill="#2c3d68"/>
<path d="M108.0 171.00h2.05v1.60h-2.05z" fill="#293457"/>
<path d="M110.0 171.00h2.05v1.60h-2.05z" fill="#283150"/>
<path d="M112.0 171.00h2.05v1.60h-2.05z" fill="#293558"/>
<path d="M114.0 171.00h2.05v1.60h-2.05z" fill="#283353"/>
<path d="M116.0 171.00h2.05v1.60h-2.05z" fill="#17191a"/>
<path d="M118.0 171.00h2.05v1.60h-2.05z" fill="#222537"/>
<path d="M120.0 171.00h2.05v1.60h-2.05z" fill="#1f222f"/>
<path d="M122.0 171.00h2.05v1.60h-2.05z" fill="#242a41"/>
<path d="M124.0 171.00h2.05v1.60h-2.05z" fill="#1d1f19"/>
<path d="M126.0 171.00h2.05v1.60h-2.05z" fill="#222638"/>
<path d="M128.0 171.00h2.05v1.60h-2.05z" fill="#242a40"/>
<path d="M130.0 171.00h2.05v1.60h-2.05z" fill="#161717"/>
<path d="M132.0 171.00h2.05v1.60h-2.05z" fill="#1d1f29"/>
<path d="M134.0 171.00h2.05v1.60h-2.05z" fill="#191b17"/>
<path d="M136.0 171.00h2.05v1.60h-2.05z" fill="#1e212c"/>
<path d="M44.0 172.55h2.05v1.60h-2.05z" fill="#424726"/>
<path d="M46.0 172.55h2.05v1.60h-2.05z" fill="#373b22"/>
<path d="M48.0 172.55h2.05v1.60h-2.05z" fill="#363a22"/>
<path d="M50.0 172.55h2.05v1.60h-2.05z" fill="#2f331f"/>
<path d="M52.0 172.55h2.05v1.60h-2.05z" fill="#444927"/>
<path d="M54.0 172.55h2.05v1.60h-2.05z" fill="#5c632f"/>
<path d="M56.0 172.55h2.05v1.60h-2.05z" fill="#2b2e1e"/>
<path d="M58.0 172.55h2.05v1.60h-2.05z" fill="#1d1f19"/>
<path d="M60.0 172.55h2.05v1.60h-2.05z" fill="#3f4425"/>
<path d="M62.0 172.55h2.05v1.60h-2.05z" fill="#494e28"/>
<path d="M64.0 172.55h2.05v1.60h-2.05z" fill="#161817"/>
<path d="M66.0 172.55h2.05v1.60h-2.05z" fill="#25281c"/>
<path d="M68.0 172.55h2.05v1.60h-2.05z" fill="#1f2119"/>
<path d="M70.0 172.55h2.05v1.60h-2.05z" fill="#3f4325"/>
<path d="M72.0 172.55h2.05v1.60h-2.05z" fill="#3e4225"/>
<path d="M74.0 172.55h2.05v1.60h-2.05z" fill="#24271b"/>
<path d="M76.0 172.55h2.05v1.60h-2.05z" fill="#1c1e18"/>
<path d="M78.0 172.55h2.05v1.60h-2.05z" fill="#414626"/>
<path d="M80.0 172.55h2.05v1.60h-2.05z" fill="#1a1c22"/>
<path d="M82.0 172.55h2.05v1.60h-2.05z" fill="#404525"/>
<path d="M84.0 172.55h2.05v1.60h-2.05z" fill="#303420"/>
<path d="M86.0 172.55h2.05v1.60h-2.05z" fill="#494e28"/>
<path d="M88.0 172.55h2.05v1.60h-2.05z" fill="#373b22"/>
<path d="M90.0 172.55h2.05v1.60h-2.05z" fill="#161716"/>
<path d="M92.0 172.55h2.05v1.60h-2.05z" fill="#1d1e18"/>
<path d="M94.0 172.55h2.05v1.60h-2.05z" fill="#1d1e18"/>
<path d="M96.0 172.55h2.05v1.60h-2.05z" fill="#171819"/>
<path d="M98.0 172.55h2.05v1.60h-2.05z" fill="#24261b"/>
<path d="M100.0 172.55h2.05v1.60h-2.05z" fill="#363a22"/>
<path d="M102.0 172.55h2.05v1.60h-2.05z" fill="#1c1e27"/>
<path d="M104.0 172.55h2.05v1.60h-2.05z" fill="#1e1f19"/>
<path d="M106.0 172.55h2.05v1.60h-2.05z" fill="#414526"/>
<path d="M108.0 172.55h2.05v1.60h-2.05z" fill="#323520"/>
<path d="M110.0 172.55h2.05v1.60h-2.05z" fill="#17191a"/>
<path d="M112.0 172.55h2.05v1.60h-2.05z" fill="#17191a"/>
<path d="M114.0 172.55h2.05v1.60h-2.05z" fill="#18191b"/>
<path d="M116.0 172.55h2.05v1.60h-2.05z" fill="#23261b"/>
<path d="M118.0 172.55h2.05v1.60h-2.05z" fill="#5c622f"/>
<path d="M120.0 172.55h2.05v1.60h-2.05z" fill="#454a27"/>
<path d="M122.0 172.55h2.05v1.60h-2.05z" fill="#363a22"/>
<path d="M124.0 172.55h2.05v1.60h-2.05z" fill="#272a1c"/>
<path d="M126.0 172.55h2.05v1.60h-2.05z" fill="#3c4124"/>
<path d="M128.0 172.55h2.05v1.60h-2.05z" fill="#3a3e23"/>
<path d="M130.0 172.55h2.05v1.60h-2.05z" fill="#697033"/>
<path d="M132.0 172.55h2.05v1.60h-2.05z" fill="#3b3f24"/>
<path d="M134.0 172.55h2.05v1.60h-2.05z" fill="#464b27"/>
<path d="M136.0 172.55h2.05v1.60h-2.05z" fill="#5a602e"/>
<path d="M44.0 174.10h2.05v1.60h-2.05z" fill="#59602e"/>
<path d="M46.0 174.10h2.05v1.60h-2.05z" fill="#313520"/>
<path d="M48.0 174.10h2.05v1.60h-2.05z" fill="#81883b"/>
<path d="M50.0 174.10h2.05v1.60h-2.05z" fill="#6c7234"/>
<path d="M52.0 174.10h2.05v1.60h-2.05z" fill="#545a2c"/>
<path d="M54.0 174.10h2.05v1.60h-2.05z" fill="#5c622f"/>
<path d="M56.0 174.10h2.05v1.60h-2.05z" fill="#494f28"/>
<path d="M58.0 174.10h2.05v1.60h-2.05z" fill="#4b5029"/>
<path d="M60.0 174.10h2.05v1.60h-2.05z" fill="#3f4425"/>
<path d="M62.0 174.10h2.05v1.60h-2.05z" fill="#697033"/>
<path d="M64.0 174.10h2.05v1.60h-2.05z" fill="#6a7033"/>
<path d="M66.0 174.10h2.05v1.60h-2.05z" fill="#626831"/>
<path d="M68.0 174.10h2.05v1.60h-2.05z" fill="#707735"/>
<path d="M70.0 174.10h2.05v1.60h-2.05z" fill="#6a7133"/>
<path d="M72.0 174.10h2.05v1.60h-2.05z" fill="#616730"/>
<path d="M74.0 174.10h2.05v1.60h-2.05z" fill="#4b5029"/>
<path d="M76.0 174.10h2.05v1.60h-2.05z" fill="#6c7234"/>
<path d="M78.0 174.10h2.05v1.60h-2.05z" fill="#7a8139"/>
<path d="M80.0 174.10h2.05v1.60h-2.05z" fill="#6c7334"/>
<path d="M82.0 174.10h2.05v1.60h-2.05z" fill="#7c8339"/>
<path d="M84.0 174.10h2.05v1.60h-2.05z" fill="#53592c"/>
<path d="M86.0 174.10h2.05v1.60h-2.05z" fill="#1f222f"/>
<path d="M88.0 174.10h2.05v1.60h-2.05z" fill="#282b1d"/>
<path d="M90.0 174.10h2.05v1.60h-2.05z" fill="#1c1f28"/>
<path d="M92.0 174.10h2.05v1.60h-2.05z" fill="#171819"/>
<path d="M94.0 174.10h2.05v1.60h-2.05z" fill="#1a1c21"/>
<path d="M96.0 174.10h2.05v1.60h-2.05z" fill="#181a1d"/>
<path d="M98.0 174.10h2.05v1.60h-2.05z" fill="#1a1c22"/>
<path d="M100.0 174.10h2.05v1.60h-2.05z" fill="#1c1f27"/>
<path d="M102.0 174.10h2.05v1.60h-2.05z" fill="#23283c"/>
<path d="M104.0 174.10h2.05v1.60h-2.05z" fill="#353922"/>
<path d="M106.0 174.10h2.05v1.60h-2.05z" fill="#171819"/>
<path d="M108.0 174.10h2.05v1.60h-2.05z" fill="#23293e"/>
<path d="M110.0 174.10h2.05v1.60h-2.05z" fill="#1e212e"/>
<path d="M112.0 174.10h2.05v1.60h-2.05z" fill="#202332"/>
<path d="M114.0 174.10h2.05v1.60h-2.05z" fill="#1d202b"/>
<path d="M116.0 174.10h2.05v1.60h-2.05z" fill="#3b3f24"/>
<path d="M118.0 174.10h2.05v1.60h-2.05z" fill="#81883b"/>
<path d="M120.0 174.10h2.05v1.60h-2.05z" fill="#a4a946"/>
<path d="M122.0 174.10h2.05v1.60h-2.05z" fill="#6b7234"/>
<path d="M124.0 174.10h2.05v1.60h-2.05z" fill="#878d3d"/>
<path d="M126.0 174.10h2.05v1.60h-2.05z" fill="#82893b"/>
<path d="M128.0 174.10h2.05v1.60h-2.05z" fill="#545a2c"/>
<path d="M130.0 174.10h2.05v1.60h-2.05z" fill="#969c42"/>
<path d="M132.0 174.10h2.05v1.60h-2.05z" fill="#4c5129"/>
<path d="M134.0 174.10h2.05v1.60h-2.05z" fill="#646a31"/>
<path d="M136.0 174.10h2.05v1.60h-2.05z" fill="#696f33"/>
<path d="M44.0 175.65h2.05v1.60h-2.05z" fill="#6a7033"/>
<path d="M46.0 175.65h2.05v1.60h-2.05z" fill="#646a31"/>
<path d="M48.0 175.65h2.05v1.60h-2.05z" fill="#545a2c"/>
<path d="M50.0 175.65h2.05v1.60h-2.05z" fill="#696f33"/>
<path d="M52.0 175.65h2.05v1.60h-2.05z" fill="#686e33"/>
<path d="M54.0 175.65h2.05v1.60h-2.05z" fill="#787f38"/>
<path d="M56.0 175.65h2.05v1.60h-2.05z" fill="#8d933f"/>
<path d="M58.0 175.65h2.05v1.60h-2.05z" fill="#787f38"/>
<path d="M60.0 175.65h2.05v1.60h-2.05z" fill="#676e32"/>
<path d="M62.0 175.65h2.05v1.60h-2.05z" fill="#636a31"/>
<path d="M64.0 175.65h2.05v1.60h-2.05z" fill="#949a41"/>
<path d="M66.0 175.65h2.05v1.60h-2.05z" fill="#6b7234"/>
<path d="M68.0 175.65h2.05v1.60h-2.05z" fill="#666d32"/>
<path d="M70.0 175.65h2.05v1.60h-2.05z" fill="#9aa043"/>
<path d="M72.0 175.65h2.05v1.60h-2.05z" fill="#939941"/>
<path d="M74.0 175.65h2.05v1.60h-2.05z" fill="#747b37"/>
<path d="M76.0 175.65h2.05v1.60h-2.05z" fill="#646b31"/>
<path d="M78.0 175.65h2.05v1.60h-2.05z" fill="#585e2d"/>
<path d="M80.0 175.65h2.05v1.60h-2.05z" fill="#83893b"/>
<path d="M82.0 175.65h2.05v1.60h-2.05z" fill="#5c622f"/>
<path d="M84.0 175.65h2.05v1.60h-2.05z" fill="#7f863a"/>
<path d="M86.0 175.65h2.05v1.60h-2.05z" fill="#1d2029"/>
<path d="M88.0 175.65h2.05v1.60h-2.05z" fill="#171819"/>
<path d="M90.0 175.65h2.05v1.60h-2.05z" fill="#191a17"/>
<path d="M92.0 175.65h2.05v1.60h-2.05z" fill="#171818"/>
<path d="M94.0 175.65h2.05v1.60h-2.05z" fill="#161717"/>
<path d="M96.0 175.65h2.05v1.60h-2.05z" fill="#181917"/>
<path d="M98.0 175.65h2.05v1.60h-2.05z" fill="#1f2230"/>
<path d="M100.0 175.65h2.05v1.60h-2.05z" fill="#1f222f"/>
<path d="M102.0 175.65h2.05v1.60h-2.05z" fill="#191a1e"/>
<path d="M104.0 175.65h2.05v1.60h-2.05z" fill="#363a22"/>
<path d="M106.0 175.65h2.05v1.60h-2.05z" fill="#191a1d"/>
<path d="M108.0 175.65h2.05v1.60h-2.05z" fill="#1e212c"/>
<path d="M110.0 175.65h2.05v1.60h-2.05z" fill="#1c1f27"/>
<path d="M112.0 175.65h2.05v1.60h-2.05z" fill="#18191a"/>
<path d="M114.0 175.65h2.05v1.60h-2.05z" fill="#292b1d"/>
<path d="M116.0 175.65h2.05v1.60h-2.05z" fill="#6d7434"/>
<path d="M118.0 175.65h2.05v1.60h-2.05z" fill="#8d933f"/>
<path d="M120.0 175.65h2.05v1.60h-2.05z" fill="#81883b"/>
<path d="M122.0 175.65h2.05v1.60h-2.05z" fill="#727936"/>
<path d="M124.0 175.65h2.05v1.60h-2.05z" fill="#646b31"/>
<path d="M126.0 175.65h2.05v1.60h-2.05z" fill="#777e38"/>
<path d="M128.0 175.65h2.05v1.60h-2.05z" fill="#697033"/>
<path d="M130.0 175.65h2.05v1.60h-2.05z" fill="#8c933f"/>
<path d="M132.0 175.65h2.05v1.60h-2.05z" fill="#52582b"/>
<path d="M134.0 175.65h2.05v1.60h-2.05z" fill="#9fa545"/>
<path d="M136.0 175.65h2.05v1.60h-2.05z" fill="#949941"/>
<path d="M44.0 177.20h2.05v1.60h-2.05z" fill="#82883b"/>
<path d="M46.0 177.20h2.05v1.60h-2.05z" fill="#6a7133"/>
<path d="M48.0 177.20h2.05v1.60h-2.05z" fill="#3a3e23"/>
<path d="M50.0 177.20h2.05v1.60h-2.05z" fill="#5d642f"/>
<path d="M52.0 177.20h2.05v1.60h-2.05z" fill="#676d32"/>
<path d="M54.0 177.20h2.05v1.60h-2.05z" fill="#4e532a"/>
<path d="M56.0 177.20h2.05v1.60h-2.05z" fill="#454a27"/>
<path d="M58.0 177.20h2.05v1.60h-2.05z" fill="#666d32"/>
<path d="M60.0 177.20h2.05v1.60h-2.05z" fill="#686f33"/>
<path d="M62.0 177.20h2.05v1.60h-2.05z" fill="#53592c"/>
<path d="M64.0 177.20h2.05v1.60h-2.05z" fill="#575d2d"/>
<path d="M66.0 177.20h2.05v1.60h-2.05z" fill="#51572b"/>
<path d="M68.0 177.20h2.05v1.60h-2.05z" fill="#50562b"/>
<path d="M70.0 177.20h2.05v1.60h-2.05z" fill="#5b612e"/>
<path d="M72.0 177.20h2.05v1.60h-2.05z" fill="#757c37"/>
<path d="M74.0 177.20h2.05v1.60h-2.05z" fill="#3c4024"/>
<path d="M76.0 177.20h2.05v1.60h-2.05z" fill="#545a2c"/>
<path d="M78.0 177.20h2.05v1.60h-2.05z" fill="#858c3c"/>
<path d="M80.0 177.20h2.05v1.60h-2.05z" fill="#646a31"/>
<path d="M82.0 177.20h2.05v1.60h-2.05z" fill="#606630"/>
<path d="M84.0 177.20h2.05v1.60h-2.05z" fill="#707635"/>
<path d="M86.0 177.20h2.05v1.60h-2.05z" fill="#212536"/>
<path d="M88.0 177.20h2.05v1.60h-2.05z" fill="#222639"/>
<path d="M90.0 177.20h2.05v1.60h-2.05z" fill="#23293e"/>
<path d="M92.0 177.20h2.05v1.60h-2.05z" fill="#23283c"/>
<path d="M94.0 177.20h2.05v1.60h-2.05z" fill="#191b1f"/>
<path d="M96.0 177.20h2.05v1.60h-2.05z" fill="#181a17"/>
<path d="M98.0 177.20h2.05v1.60h-2.05z" fill="#1d202b"/>
<path d="M100.0 177.20h2.05v1.60h-2.05z" fill="#1f2230"/>
<path d="M102.0 177.20h2.05v1.60h-2.05z" fill="#181a1c"/>
<path d="M104.0 177.20h2.05v1.60h-2.05z" fill="#171818"/>
<path d="M106.0 177.20h2.05v1.60h-2.05z" fill="#191b1f"/>
<path d="M108.0 177.20h2.05v1.60h-2.05z" fill="#242a41"/>
<path d="M110.0 177.20h2.05v1.60h-2.05z" fill="#1e212d"/>
<path d="M112.0 177.20h2.05v1.60h-2.05z" fill="#262e49"/>
<path d="M114.0 177.20h2.05v1.60h-2.05z" fill="#191b1f"/>
<path d="M116.0 177.20h2.05v1.60h-2.05z" fill="#5c622f"/>
<path d="M118.0 177.20h2.05v1.60h-2.05z" fill="#606730"/>
<path d="M120.0 177.20h2.05v1.60h-2.05z" fill="#9da244"/>
<path d="M122.0 177.20h2.05v1.60h-2.05z" fill="#979d42"/>
<path d="M124.0 177.20h2.05v1.60h-2.05z" fill="#7c8339"/>
<path d="M126.0 177.20h2.05v1.60h-2.05z" fill="#767d37"/>
<path d="M128.0 177.20h2.05v1.60h-2.05z" fill="#747b37"/>
<path d="M130.0 177.20h2.05v1.60h-2.05z" fill="#626931"/>
<path d="M132.0 177.20h2.05v1.60h-2.05z" fill="#6f7535"/>
<path d="M134.0 177.20h2.05v1.60h-2.05z" fill="#aaaf48"/>
<path d="M136.0 177.20h2.05v1.60h-2.05z" fill="#5b622e"/>
<path d="M44.0 178.75h2.05v1.60h-2.05z" fill="#161716"/>
<path d="M46.0 178.75h2.05v1.60h-2.05z" fill="#25271c"/>
<path d="M48.0 178.75h2.05v1.60h-2.05z" fill="#24261b"/>
<path d="M50.0 178.75h2.05v1.60h-2.05z" fill="#1d202b"/>
<path d="M52.0 178.75h2.05v1.60h-2.05z" fill="#18191b"/>
<path d="M54.0 178.75h2.05v1.60h-2.05z" fill="#191a1e"/>
<path d="M56.0 178.75h2.05v1.60h-2.05z" fill="#1f222f"/>
<path d="M58.0 178.75h2.05v1.60h-2.05z" fill="#171818"/>
<path d="M60.0 178.75h2.05v1.60h-2.05z" fill="#1a1c22"/>
<path d="M62.0 178.75h2.05v1.60h-2.05z" fill="#26281c"/>
<path d="M64.0 178.75h2.05v1.60h-2.05z" fill="#1c1d18"/>
<path d="M66.0 178.75h2.05v1.60h-2.05z" fill="#1c1f27"/>
<path d="M68.0 178.75h2.05v1.60h-2.05z" fill="#171817"/>
<path d="M70.0 178.75h2.05v1.60h-2.05z" fill="#191b1f"/>
<path d="M72.0 178.75h2.05v1.60h-2.05z" fill="#1b1d24"/>
<path d="M74.0 178.75h2.05v1.60h-2.05z" fill="#1a1c22"/>
<path d="M76.0 178.75h2.05v1.60h-2.05z" fill="#292b1d"/>
<path d="M78.0 178.75h2.05v1.60h-2.05z" fill="#1a1c20"/>
<path d="M80.0 178.75h2.05v1.60h-2.05z" fill="#222638"/>
<path d="M82.0 178.75h2.05v1.60h-2.05z" fill="#1c1f27"/>
<path d="M84.0 178.75h2.05v1.60h-2.05z" fill="#23261b"/>
<path d="M86.0 178.75h2.05v1.60h-2.05z" fill="#1c1e18"/>
<path d="M88.0 178.75h2.05v1.60h-2.05z" fill="#252c44"/>
<path d="M90.0 178.75h2.05v1.60h-2.05z" fill="#23283c"/>
<path d="M92.0 178.75h2.05v1.60h-2.05z" fill="#23283c"/>
<path d="M94.0 178.75h2.05v1.60h-2.05z" fill="#262e48"/>
<path d="M96.0 178.75h2.05v1.60h-2.05z" fill="#1f2330"/>
<path d="M98.0 178.75h2.05v1.60h-2.05z" fill="#222638"/>
<path d="M100.0 178.75h2.05v1.60h-2.05z" fill="#202432"/>
<path d="M102.0 178.75h2.05v1.60h-2.05z" fill="#1e2019"/>
<path d="M104.0 178.75h2.05v1.60h-2.05z" fill="#23273b"/>
<path d="M106.0 178.75h2.05v1.60h-2.05z" fill="#1d1f29"/>
<path d="M108.0 178.75h2.05v1.60h-2.05z" fill="#1c1f28"/>
<path d="M110.0 178.75h2.05v1.60h-2.05z" fill="#24293f"/>
<path d="M112.0 178.75h2.05v1.60h-2.05z" fill="#24293f"/>
<path d="M114.0 178.75h2.05v1.60h-2.05z" fill="#18191b"/>
<path d="M116.0 178.75h2.05v1.60h-2.05z" fill="#606630"/>
<path d="M118.0 178.75h2.05v1.60h-2.05z" fill="#53592c"/>
<path d="M120.0 178.75h2.05v1.60h-2.05z" fill="#3b4024"/>
<path d="M122.0 178.75h2.05v1.60h-2.05z" fill="#646a31"/>
<path d="M124.0 178.75h2.05v1.60h-2.05z" fill="#5c622f"/>
<path d="M126.0 178.75h2.05v1.60h-2.05z" fill="#868d3d"/>
<path d="M128.0 178.75h2.05v1.60h-2.05z" fill="#727836"/>
<path d="M130.0 178.75h2.05v1.60h-2.05z" fill="#626931"/>
<path d="M132.0 178.75h2.05v1.60h-2.05z" fill="#565c2d"/>
<path d="M134.0 178.75h2.05v1.60h-2.05z" fill="#51572b"/>
<path d="M136.0 178.75h2.05v1.60h-2.05z" fill="#464b27"/>
<path d="M44.0 180.30h2.05v1.60h-2.05z" fill="#25271c"/>
<path d="M46.0 180.30h2.05v1.60h-2.05z" fill="#2d311f"/>
<path d="M48.0 180.30h2.05v1.60h-2.05z" fill="#363a22"/>
<path d="M50.0 180.30h2.05v1.60h-2.05z" fill="#26291c"/>
<path d="M52.0 180.30h2.05v1.60h-2.05z" fill="#161717"/>
<path d="M54.0 180.30h2.05v1.60h-2.05z" fill="#313420"/>
<path d="M56.0 180.30h2.05v1.60h-2.05z" fill="#3f4425"/>
<path d="M58.0 180.30h2.05v1.60h-2.05z" fill="#181a1c"/>
<path d="M60.0 180.30h2.05v1.60h-2.05z" fill="#292b1d"/>
<path d="M62.0 180.30h2.05v1.60h-2.05z" fill="#2b2e1e"/>
<path d="M64.0 180.30h2.05v1.60h-2.05z" fill="#2b2e1e"/>
<path d="M66.0 180.30h2.05v1.60h-2.05z" fill="#2a2d1e"/>
<path d="M68.0 180.30h2.05v1.60h-2.05z" fill="#1e2019"/>
<path d="M70.0 180.30h2.05v1.60h-2.05z" fill="#1e2019"/>
<path d="M72.0 180.30h2.05v1.60h-2.05z" fill="#424726"/>
<path d="M74.0 180.30h2.05v1.60h-2.05z" fill="#434826"/>
<path d="M76.0 180.30h2.05v1.60h-2.05z" fill="#1c1e27"/>
<path d="M78.0 180.30h2.05v1.60h-2.05z" fill="#22273a"/>
<path d="M80.0 180.30h2.05v1.60h-2.05z" fill="#292c1d"/>
<path d="M82.0 180.30h2.05v1.60h-2.05z" fill="#171919"/>
<path d="M84.0 180.30h2.05v1.60h-2.05z" fill="#161717"/>
<path d="M86.0 180.30h2.05v1.60h-2.05z" fill="#252b43"/>
<path d="M88.0 180.30h2.05v1.60h-2.05z" fill="#1b1e25"/>
<path d="M90.0 180.30h2.05v1.60h-2.05z" fill="#1e212d"/>
<path d="M92.0 180.30h2.05v1.60h-2.05z" fill="#212536"/>
<path d="M94.0 180.30h2.05v1.60h-2.05z" fill="#18191b"/>
<path d="M96.0 180.30h2.05v1.60h-2.05z" fill="#2f3320"/>
<path d="M98.0 180.30h2.05v1.60h-2.05z" fill="#1c1d18"/>
<path d="M100.0 180.30h2.05v1.60h-2.05z" fill="#161716"/>
<path d="M102.0 180.30h2.05v1.60h-2.05z" fill="#202433"/>
<path d="M104.0 180.30h2.05v1.60h-2.05z" fill="#191b20"/>
<path d="M106.0 180.30h2.05v1.60h-2.05z" fill="#1e212c"/>
<path d="M108.0 180.30h2.05v1.60h-2.05z" fill="#161717"/>
<path d="M110.0 180.30h2.05v1.60h-2.05z" fill="#1a1c21"/>
<path d="M112.0 180.30h2.05v1.60h-2.05z" fill="#1e212c"/>
<path d="M114.0 180.30h2.05v1.60h-2.05z" fill="#1a1c22"/>
<path d="M116.0 180.30h2.05v1.60h-2.05z" fill="#4f552a"/>
<path d="M118.0 180.30h2.05v1.60h-2.05z" fill="#717836"/>
<path d="M120.0 180.30h2.05v1.60h-2.05z" fill="#858b3c"/>
<path d="M122.0 180.30h2.05v1.60h-2.05z" fill="#565c2d"/>
<path d="M124.0 180.30h2.05v1.60h-2.05z" fill="#6b7234"/>
<path d="M126.0 180.30h2.05v1.60h-2.05z" fill="#3d4124"/>
<path d="M128.0 180.30h2.05v1.60h-2.05z" fill="#747b37"/>
<path d="M130.0 180.30h2.05v1.60h-2.05z" fill="#737a36"/>
<path d="M132.0 180.30h2.05v1.60h-2.05z" fill="#494e28"/>
<path d="M134.0 180.30h2.05v1.60h-2.05z" fill="#8d933f"/>
<path d="M136.0 180.30h2.05v1.60h-2.05z" fill="#616830"/>
<path d="M44.0 181.85h2.05v1.60h-2.05z" fill="#212435"/>
<path d="M46.0 181.85h2.05v1.60h-2.05z" fill="#22241a"/>
<path d="M48.0 181.85h2.05v1.60h-2.05z" fill="#1a1c21"/>
<path d="M50.0 181.85h2.05v1.60h-2.05z" fill="#26291c"/>
<path d="M52.0 181.85h2.05v1.60h-2.05z" fill="#222638"/>
<path d="M54.0 181.85h2.05v1.60h-2.05z" fill="#191a1d"/>
<path d="M56.0 181.85h2.05v1.60h-2.05z" fill="#24261b"/>
<path d="M58.0 181.85h2.05v1.60h-2.05z" fill="#1c1f28"/>
<path d="M60.0 181.85h2.05v1.60h-2.05z" fill="#1e1f19"/>
<path d="M62.0 181.85h2.05v1.60h-2.05z" fill="#1a1c22"/>
<path d="M64.0 181.85h2.05v1.60h-2.05z" fill="#171816"/>
<path d="M66.0 181.85h2.05v1.60h-2.05z" fill="#161716"/>
<path d="M68.0 181.85h2.05v1.60h-2.05z" fill="#3d4124"/>
<path d="M70.0 181.85h2.05v1.60h-2.05z" fill="#202332"/>
<path d="M72.0 181.85h2.05v1.60h-2.05z" fill="#20221a"/>
<path d="M74.0 181.85h2.05v1.60h-2.05z" fill="#2b2d1e"/>
<path d="M76.0 181.85h2.05v1.60h-2.05z" fill="#1f2330"/>
<path d="M78.0 181.85h2.05v1.60h-2.05z" fill="#17191a"/>
<path d="M80.0 181.85h2.05v1.60h-2.05z" fill="#3e4325"/>
<path d="M82.0 181.85h2.05v1.60h-2.05z" fill="#25281c"/>
<path d="M84.0 181.85h2.05v1.60h-2.05z" fill="#262e49"/>
<path d="M86.0 181.85h2.05v1.60h-2.05z" fill="#252b43"/>
<path d="M88.0 181.85h2.05v1.60h-2.05z" fill="#293455"/>
<path d="M90.0 181.85h2.05v1.60h-2.05z" fill="#23283d"/>
<path d="M92.0 181.85h2.05v1.60h-2.05z" fill="#262e49"/>
<path d="M94.0 181.85h2.05v1.60h-2.05z" fill="#252d47"/>
<path d="M96.0 181.85h2.05v1.60h-2.05z" fill="#262e4a"/>
<path d="M98.0 181.85h2.05v1.60h-2.05z" fill="#23283d"/>
<path d="M100.0 181.85h2.05v1.60h-2.05z" fill="#252c46"/>
<path d="M102.0 181.85h2.05v1.60h-2.05z" fill="#262f4b"/>
<path d="M104.0 181.85h2.05v1.60h-2.05z" fill="#252b43"/>
<path d="M106.0 181.85h2.05v1.60h-2.05z" fill="#23283b"/>
<path d="M108.0 181.85h2.05v1.60h-2.05z" fill="#262e4a"/>
<path d="M110.0 181.85h2.05v1.60h-2.05z" fill="#1f2330"/>
<path d="M112.0 181.85h2.05v1.60h-2.05z" fill="#283354"/>
<path d="M114.0 181.85h2.05v1.60h-2.05z" fill="#23283b"/>
<path d="M116.0 181.85h2.05v1.60h-2.05z" fill="#3b3f24"/>
<path d="M118.0 181.85h2.05v1.60h-2.05z" fill="#636a31"/>
<path d="M120.0 181.85h2.05v1.60h-2.05z" fill="#363a22"/>
<path d="M122.0 181.85h2.05v1.60h-2.05z" fill="#363a22"/>
<path d="M124.0 181.85h2.05v1.60h-2.05z" fill="#282b1d"/>
<path d="M126.0 181.85h2.05v1.60h-2.05z" fill="#6d7434"/>
<path d="M128.0 181.85h2.05v1.60h-2.05z" fill="#4e542a"/>
<path d="M130.0 181.85h2.05v1.60h-2.05z" fill="#2d301f"/>
<path d="M132.0 181.85h2.05v1.60h-2.05z" fill="#3c4124"/>
<path d="M134.0 181.85h2.05v1.60h-2.05z" fill="#303320"/>
<path d="M136.0 181.85h2.05v1.60h-2.05z" fill="#626931"/>
<path d="M44.0 183.40h2.05v1.60h-2.05z" fill="#252c44"/>
<path d="M46.0 183.40h2.05v1.60h-2.05z" fill="#1a1c22"/>
<path d="M48.0 183.40h2.05v1.60h-2.05z" fill="#171917"/>
<path d="M50.0 183.40h2.05v1.60h-2.05z" fill="#1b1e25"/>
<path d="M52.0 183.40h2.05v1.60h-2.05z" fill="#181a1d"/>
<path d="M54.0 183.40h2.05v1.60h-2.05z" fill="#1c1f27"/>
<path d="M56.0 183.40h2.05v1.60h-2.05z" fill="#1a1c22"/>
<path d="M58.0 183.40h2.05v1.60h-2.05z" fill="#1a1c21"/>
<path d="M60.0 183.40h2.05v1.60h-2.05z" fill="#202332"/>
<path d="M62.0 183.40h2.05v1.60h-2.05z" fill="#191b1f"/>
<path d="M64.0 183.40h2.05v1.60h-2.05z" fill="#1a1c22"/>
<path d="M66.0 183.40h2.05v1.60h-2.05z" fill="#1c1e26"/>
<path d="M68.0 183.40h2.05v1.60h-2.05z" fill="#202332"/>
<path d="M70.0 183.40h2.05v1.60h-2.05z" fill="#222638"/>
<path d="M72.0 183.40h2.05v1.60h-2.05z" fill="#1a1c21"/>
<path d="M74.0 183.40h2.05v1.60h-2.05z" fill="#161716"/>
<path d="M76.0 183.40h2.05v1.60h-2.05z" fill="#262e49"/>
<path d="M78.0 183.40h2.05v1.60h-2.05z" fill="#1f222f"/>
<path d="M80.0 183.40h2.05v1.60h-2.05z" fill="#20221a"/>
<path d="M82.0 183.40h2.05v1.60h-2.05z" fill="#171917"/>
<path d="M84.0 183.40h2.05v1.60h-2.05z" fill="#202332"/>
<path d="M86.0 183.40h2.05v1.60h-2.05z" fill="#181a1c"/>
<path d="M88.0 183.40h2.05v1.60h-2.05z" fill="#242a42"/>
<path d="M90.0 183.40h2.05v1.60h-2.05z" fill="#24293f"/>
<path d="M92.0 183.40h2.05v1.60h-2.05z" fill="#1b1d18"/>
<path d="M94.0 183.40h2.05v1.60h-2.05z" fill="#23273b"/>
<path d="M96.0 183.40h2.05v1.60h-2.05z" fill="#222638"/>
<path d="M98.0 183.40h2.05v1.60h-2.05z" fill="#262e49"/>
<path d="M100.0 183.40h2.05v1.60h-2.05z" fill="#242b42"/>
<path d="M102.0 183.40h2.05v1.60h-2.05z" fill="#252b44"/>
<path d="M104.0 183.40h2.05v1.60h-2.05z" fill="#222637"/>
<path d="M106.0 183.40h2.05v1.60h-2.05z" fill="#272f4c"/>
<path d="M108.0 183.40h2.05v1.60h-2.05z" fill="#1a1c21"/>
<path d="M110.0 183.40h2.05v1.60h-2.05z" fill="#22273a"/>
<path d="M112.0 183.40h2.05v1.60h-2.05z" fill="#23283d"/>
<path d="M114.0 183.40h2.05v1.60h-2.05z" fill="#23283d"/>
<path d="M116.0 183.40h2.05v1.60h-2.05z" fill="#6b7234"/>
<path d="M118.0 183.40h2.05v1.60h-2.05z" fill="#7f863a"/>
<path d="M120.0 183.40h2.05v1.60h-2.05z" fill="#51572b"/>
<path d="M122.0 183.40h2.05v1.60h-2.05z" fill="#82883b"/>
<path d="M124.0 183.40h2.05v1.60h-2.05z" fill="#82883b"/>
<path d="M126.0 183.40h2.05v1.60h-2.05z" fill="#798038"/>
<path d="M128.0 183.40h2.05v1.60h-2.05z" fill="#616730"/>
<path d="M130.0 183.40h2.05v1.60h-2.05z" fill="#3c4024"/>
<path d="M132.0 183.40h2.05v1.60h-2.05z" fill="#697033"/>
<path d="M134.0 183.40h2.05v1.60h-2.05z" fill="#51572b"/>
<path d="M136.0 183.40h2.05v1.60h-2.05z" fill="#5e642f"/>
<path d="M44.0 184.95h2.05v1.60h-2.05z" fill="#242a41"/>
<path d="M46.0 184.95h2.05v1.60h-2.05z" fill="#23283b"/>
<path d="M48.0 184.95h2.05v1.60h-2.05z" fill="#262e49"/>
<path d="M50.0 184.95h2.05v1.60h-2.05z" fill="#23273b"/>
<path d="M52.0 184.95h2.05v1.60h-2.05z" fill="#1b1d23"/>
<path d="M54.0 184.95h2.05v1.60h-2.05z" fill="#23283b"/>
<path d="M56.0 184.95h2.05v1.60h-2.05z" fill="#252d46"/>
<path d="M58.0 184.95h2.05v1.60h-2.05z" fill="#161716"/>
<path d="M60.0 184.95h2.05v1.60h-2.05z" fill="#293659"/>
<path d="M62.0 184.95h2.05v1.60h-2.05z" fill="#262e49"/>
<path d="M64.0 184.95h2.05v1.60h-2.05z" fill="#222739"/>
<path d="M66.0 184.95h2.05v1.60h-2.05z" fill="#252c45"/>
<path d="M68.0 184.95h2.05v1.60h-2.05z" fill="#2a375b"/>
<path d="M70.0 184.95h2.05v1.60h-2.05z" fill="#23273b"/>
<path d="M72.0 184.95h2.05v1.60h-2.05z" fill="#202332"/>
<path d="M74.0 184.95h2.05v1.60h-2.05z" fill="#262d48"/>
<path d="M76.0 184.95h2.05v1.60h-2.05z" fill="#1c1e27"/>
<path d="M78.0 184.95h2.05v1.60h-2.05z" fill="#222638"/>
<path d="M80.0 184.95h2.05v1.60h-2.05z" fill="#1e212c"/>
<path d="M82.0 184.95h2.05v1.60h-2.05z" fill="#283150"/>
<path d="M84.0 184.95h2.05v1.60h-2.05z" fill="#23293e"/>
<path d="M86.0 184.95h2.05v1.60h-2.05z" fill="#202433"/>
<path d="M88.0 184.95h2.05v1.60h-2.05z" fill="#1e212c"/>
<path d="M90.0 184.95h2.05v1.60h-2.05z" fill="#222638"/>
<path d="M92.0 184.95h2.05v1.60h-2.05z" fill="#262d48"/>
<path d="M94.0 184.95h2.05v1.60h-2.05z" fill="#252c46"/>
<path d="M96.0 184.95h2.05v1.60h-2.05z" fill="#273150"/>
<path d="M98.0 184.95h2.05v1.60h-2.05z" fill="#23273b"/>
<path d="M100.0 184.95h2.05v1.60h-2.05z" fill="#283150"/>
<path d="M102.0 184.95h2.05v1.60h-2.05z" fill="#252d47"/>
<path d="M104.0 184.95h2.05v1.60h-2.05z" fill="#2b3b65"/>
<path d="M106.0 184.95h2.05v1.60h-2.05z" fill="#2a375c"/>
<path d="M108.0 184.95h2.05v1.60h-2.05z" fill="#1f2330"/>
<path d="M110.0 184.95h2.05v1.60h-2.05z" fill="#262d47"/>
<path d="M112.0 184.95h2.05v1.60h-2.05z" fill="#252c46"/>
<path d="M114.0 184.95h2.05v1.60h-2.05z" fill="#2c3c67"/>
<path d="M116.0 184.95h2.05v1.60h-2.05z" fill="#3b3f24"/>
<path d="M118.0 184.95h2.05v1.60h-2.05z" fill="#666d32"/>
<path d="M120.0 184.95h2.05v1.60h-2.05z" fill="#1d1e19"/>
<path d="M122.0 184.95h2.05v1.60h-2.05z" fill="#1a1b20"/>
<path d="M124.0 184.95h2.05v1.60h-2.05z" fill="#383c23"/>
<path d="M126.0 184.95h2.05v1.60h-2.05z" fill="#313420"/>
<path d="M128.0 184.95h2.05v1.60h-2.05z" fill="#373b22"/>
<path d="M130.0 184.95h2.05v1.60h-2.05z" fill="#22241a"/>
<path d="M132.0 184.95h2.05v1.60h-2.05z" fill="#20221a"/>
<path d="M134.0 184.95h2.05v1.60h-2.05z" fill="#22241b"/>
<path d="M136.0 184.95h2.05v1.60h-2.05z" fill="#484d28"/>
<path d="M44.0 186.50h2.05v1.60h-2.05z" fill="#424726"/>
<path d="M46.0 186.50h2.05v1.60h-2.05z" fill="#1c1d18"/>
<path d="M48.0 186.50h2.05v1.60h-2.05z" fill="#3e4225"/>
<path d="M50.0 186.50h2.05v1.60h-2.05z" fill="#292c1d"/>
<path d="M52.0 186.50h2.05v1.60h-2.05z" fill="#343821"/>
<path d="M54.0 186.50h2.05v1.60h-2.05z" fill="#444927"/>
<path d="M56.0 186.50h2.05v1.60h-2.05z" fill="#333721"/>
<path d="M58.0 186.50h2.05v1.60h-2.05z" fill="#2b2e1e"/>
<path d="M60.0 186.50h2.05v1.60h-2.05z" fill="#18191b"/>
<path d="M62.0 186.50h2.05v1.60h-2.05z" fill="#333721"/>
<path d="M64.0 186.50h2.05v1.60h-2.05z" fill="#424626"/>
<path d="M66.0 186.50h2.05v1.60h-2.05z" fill="#25281c"/>
<path d="M68.0 186.50h2.05v1.60h-2.05z" fill="#313420"/>
<path d="M70.0 186.50h2.05v1.60h-2.05z" fill="#191a1d"/>
<path d="M72.0 186.50h2.05v1.60h-2.05z" fill="#171816"/>
<path d="M74.0 186.50h2.05v1.60h-2.05z" fill="#3a3e23"/>
<path d="M76.0 186.50h2.05v1.60h-2.05z" fill="#4b5129"/>
<path d="M78.0 186.50h2.05v1.60h-2.05z" fill="#2c2f1e"/>
<path d="M80.0 186.50h2.05v1.60h-2.05z" fill="#18191c"/>
<path d="M82.0 186.50h2.05v1.60h-2.05z" fill="#2a2d1e"/>
<path d="M84.0 186.50h2.05v1.60h-2.05z" fill="#17191a"/>
<path d="M86.0 186.50h2.05v1.60h-2.05z" fill="#212535"/>
<path d="M88.0 186.50h2.05v1.60h-2.05z" fill="#20221a"/>
<path d="M90.0 186.50h2.05v1.60h-2.05z" fill="#1d202b"/>
<path d="M92.0 186.50h2.05v1.60h-2.05z" fill="#202433"/>
<path d="M94.0 186.50h2.05v1.60h-2.05z" fill="#191a1d"/>
<path d="M96.0 186.50h2.05v1.60h-2.05z" fill="#222637"/>
<path d="M98.0 186.50h2.05v1.60h-2.05z" fill="#1d202a"/>
<path d="M100.0 186.50h2.05v1.60h-2.05z" fill="#1e212c"/>
<path d="M102.0 186.50h2.05v1.60h-2.05z" fill="#1c1f28"/>
<path d="M104.0 186.50h2.05v1.60h-2.05z" fill="#252c44"/>
<path d="M106.0 186.50h2.05v1.60h-2.05z" fill="#1b1d23"/>
<path d="M108.0 186.50h2.05v1.60h-2.05z" fill="#191b20"/>
<path d="M110.0 186.50h2.05v1.60h-2.05z" fill="#27304e"/>
<path d="M112.0 186.50h2.05v1.60h-2.05z" fill="#283354"/>
<path d="M114.0 186.50h2.05v1.60h-2.05z" fill="#23293e"/>
<path d="M116.0 186.50h2.05v1.60h-2.05z" fill="#757c37"/>
<path d="M118.0 186.50h2.05v1.60h-2.05z" fill="#53592c"/>
<path d="M120.0 186.50h2.05v1.60h-2.05z" fill="#626931"/>
<path d="M122.0 186.50h2.05v1.60h-2.05z" fill="#5f6630"/>
<path d="M124.0 186.50h2.05v1.60h-2.05z" fill="#676e32"/>
<path d="M126.0 186.50h2.05v1.60h-2.05z" fill="#464b27"/>
<path d="M128.0 186.50h2.05v1.60h-2.05z" fill="#474d28"/>
<path d="M130.0 186.50h2.05v1.60h-2.05z" fill="#5b622e"/>
<path d="M132.0 186.50h2.05v1.60h-2.05z" fill="#616730"/>
<path d="M134.0 186.50h2.05v1.60h-2.05z" fill="#606630"/>
<path d="M136.0 186.50h2.05v1.60h-2.05z" fill="#5a612e"/>
<path d="M44.0 188.05h2.05v1.60h-2.05z" fill="#424726"/>
<path d="M46.0 188.05h2.05v1.60h-2.05z" fill="#363a22"/>
<path d="M48.0 188.05h2.05v1.60h-2.05z" fill="#414626"/>
<path d="M50.0 188.05h2.05v1.60h-2.05z" fill="#202331"/>
<path d="M52.0 188.05h2.05v1.60h-2.05z" fill="#404525"/>
<path d="M54.0 188.05h2.05v1.60h-2.05z" fill="#1f222f"/>
<path d="M56.0 188.05h2.05v1.60h-2.05z" fill="#303420"/>
<path d="M58.0 188.05h2.05v1.60h-2.05z" fill="#1e2019"/>
<path d="M60.0 188.05h2.05v1.60h-2.05z" fill="#2f321f"/>
<path d="M62.0 188.05h2.05v1.60h-2.05z" fill="#22241b"/>
<path d="M64.0 188.05h2.05v1.60h-2.05z" fill="#26281c"/>
<path d="M66.0 188.05h2.05v1.60h-2.05z" fill="#303420"/>
<path d="M68.0 188.05h2.05v1.60h-2.05z" fill="#333721"/>
<path d="M70.0 188.05h2.05v1.60h-2.05z" fill="#1b1d18"/>
<path d="M72.0 188.05h2.05v1.60h-2.05z" fill="#202331"/>
<path d="M74.0 188.05h2.05v1.60h-2.05z" fill="#1c1d18"/>
<path d="M76.0 188.05h2.05v1.60h-2.05z" fill="#373b22"/>
<path d="M78.0 188.05h2.05v1.60h-2.05z" fill="#1b1c18"/>
<path d="M80.0 188.05h2.05v1.60h-2.05z" fill="#353922"/>
<path d="M82.0 188.05h2.05v1.60h-2.05z" fill="#24271b"/>
<path d="M84.0 188.05h2.05v1.60h-2.05z" fill="#181a17"/>
<path d="M86.0 188.05h2.05v1.60h-2.05z" fill="#191b20"/>
<path d="M88.0 188.05h2.05v1.60h-2.05z" fill="#161717"/>
<path d="M90.0 188.05h2.05v1.60h-2.05z" fill="#222637"/>
<path d="M92.0 188.05h2.05v1.60h-2.05z" fill="#212536"/>
<path d="M94.0 188.05h2.05v1.60h-2.05z" fill="#1b1d24"/>
<path d="M96.0 188.05h2.05v1.60h-2.05z" fill="#252d46"/>
<path d="M98.0 188.05h2.05v1.60h-2.05z" fill="#242a41"/>
<path d="M100.0 188.05h2.05v1.60h-2.05z" fill="#1a1c21"/>
<path d="M102.0 188.05h2.05v1.60h-2.05z" fill="#1b1e25"/>
<path d="M104.0 188.05h2.05v1.60h-2.05z" fill="#23283c"/>
<path d="M106.0 188.05h2.05v1.60h-2.05z" fill="#242a40"/>
<path d="M108.0 188.05h2.05v1.60h-2.05z" fill="#1f222f"/>
<path d="M110.0 188.05h2.05v1.60h-2.05z" fill="#262d47"/>
<path d="M112.0 188.05h2.05v1.60h-2.05z" fill="#23283c"/>
<path d="M114.0 188.05h2.05v1.60h-2.05z" fill="#222739"/>
<path d="M116.0 188.05h2.05v1.60h-2.05z" fill="#27291c"/>
<path d="M118.0 188.05h2.05v1.60h-2.05z" fill="#676d32"/>
<path d="M120.0 188.05h2.05v1.60h-2.05z" fill="#6b7134"/>
<path d="M122.0 188.05h2.05v1.60h-2.05z" fill="#727936"/>
<path d="M124.0 188.05h2.05v1.60h-2.05z" fill="#3c4024"/>
<path d="M126.0 188.05h2.05v1.60h-2.05z" fill="#3f4325"/>
<path d="M128.0 188.05h2.05v1.60h-2.05z" fill="#484d28"/>
<path d="M130.0 188.05h2.05v1.60h-2.05z" fill="#3e4325"/>
<path d="M132.0 188.05h2.05v1.60h-2.05z" fill="#909640"/>
<path d="M134.0 188.05h2.05v1.60h-2.05z" fill="#454a27"/>
<path d="M136.0 188.05h2.05v1.60h-2.05z" fill="#52582b"/>
<path d="M44.0 189.60h2.05v1.60h-2.05z" fill="#343721"/>
<path d="M46.0 189.60h2.05v1.60h-2.05z" fill="#474c28"/>
<path d="M48.0 189.60h2.05v1.60h-2.05z" fill="#171818"/>
<path d="M50.0 189.60h2.05v1.60h-2.05z" fill="#3c4124"/>
<path d="M52.0 189.60h2.05v1.60h-2.05z" fill="#2d301f"/>
<path d="M54.0 189.60h2.05v1.60h-2.05z" fill="#17191a"/>
<path d="M56.0 189.60h2.05v1.60h-2.05z" fill="#2d301f"/>
<path d="M58.0 189.60h2.05v1.60h-2.05z" fill="#191b1e"/>
<path d="M60.0 189.60h2.05v1.60h-2.05z" fill="#4b5029"/>
<path d="M62.0 189.60h2.05v1.60h-2.05z" fill="#1b1c18"/>
<path d="M64.0 189.60h2.05v1.60h-2.05z" fill="#3f4325"/>
<path d="M66.0 189.60h2.05v1.60h-2.05z" fill="#444927"/>
<path d="M68.0 189.60h2.05v1.60h-2.05z" fill="#1d1f19"/>
<path d="M70.0 189.60h2.05v1.60h-2.05z" fill="#171817"/>
<path d="M72.0 189.60h2.05v1.60h-2.05z" fill="#2d301f"/>
<path d="M74.0 189.60h2.05v1.60h-2.05z" fill="#171818"/>
<path d="M76.0 189.60h2.05v1.60h-2.05z" fill="#3d4124"/>
<path d="M78.0 189.60h2.05v1.60h-2.05z" fill="#2e311f"/>
<path d="M80.0 189.60h2.05v1.60h-2.05z" fill="#1a1c18"/>
<path d="M82.0 189.60h2.05v1.60h-2.05z" fill="#1c1d18"/>
<path d="M84.0 189.60h2.05v1.60h-2.05z" fill="#393d23"/>
<path d="M86.0 189.60h2.05v1.60h-2.05z" fill="#242b42"/>
<path d="M88.0 189.60h2.05v1.60h-2.05z" fill="#1f211a"/>
<path d="M90.0 189.60h2.05v1.60h-2.05z" fill="#23273a"/>
<path d="M92.0 189.60h2.05v1.60h-2.05z" fill="#1f2331"/>
<path d="M94.0 189.60h2.05v1.60h-2.05z" fill="#23283c"/>
<path d="M96.0 189.60h2.05v1.60h-2.05z" fill="#1e2019"/>
<path d="M98.0 189.60h2.05v1.60h-2.05z" fill="#191a1e"/>
<path d="M100.0 189.60h2.05v1.60h-2.05z" fill="#171917"/>
<path d="M102.0 189.60h2.05v1.60h-2.05z" fill="#1a1c21"/>
<path d="M104.0 189.60h2.05v1.60h-2.05z" fill="#1e202b"/>
<path d="M106.0 189.60h2.05v1.60h-2.05z" fill="#20221a"/>
<path d="M108.0 189.60h2.05v1.60h-2.05z" fill="#1a1c21"/>
<path d="M110.0 189.60h2.05v1.60h-2.05z" fill="#1b1e25"/>
<path d="M112.0 189.60h2.05v1.60h-2.05z" fill="#1a1c22"/>
<path d="M114.0 189.60h2.05v1.60h-2.05z" fill="#191b1f"/>
<path d="M116.0 189.60h2.05v1.60h-2.05z" fill="#6a7133"/>
<path d="M118.0 189.60h2.05v1.60h-2.05z" fill="#606630"/>
<path d="M120.0 189.60h2.05v1.60h-2.05z" fill="#414626"/>
<path d="M122.0 189.60h2.05v1.60h-2.05z" fill="#9fa545"/>
<path d="M124.0 189.60h2.05v1.60h-2.05z" fill="#474c28"/>
<path d="M126.0 189.60h2.05v1.60h-2.05z" fill="#363a22"/>
<path d="M128.0 189.60h2.05v1.60h-2.05z" fill="#53592c"/>
<path d="M130.0 189.60h2.05v1.60h-2.05z" fill="#9ba143"/>
<path d="M132.0 189.60h2.05v1.60h-2.05z" fill="#848a3c"/>
<path d="M134.0 189.60h2.05v1.60h-2.05z" fill="#555b2c"/>
<path d="M136.0 189.60h2.05v1.60h-2.05z" fill="#6a7033"/>
<path d="M44.0 191.15h2.05v1.60h-2.05z" fill="#1e212c"/>
<path d="M46.0 191.15h2.05v1.60h-2.05z" fill="#20221a"/>
<path d="M48.0 191.15h2.05v1.60h-2.05z" fill="#2d301f"/>
<path d="M50.0 191.15h2.05v1.60h-2.05z" fill="#3f4425"/>
<path d="M52.0 191.15h2.05v1.60h-2.05z" fill="#191a1d"/>
<path d="M54.0 191.15h2.05v1.60h-2.05z" fill="#202331"/>
<path d="M56.0 191.15h2.05v1.60h-2.05z" fill="#1b1d24"/>
<path d="M58.0 191.15h2.05v1.60h-2.05z" fill="#2e311f"/>
<path d="M60.0 191.15h2.05v1.60h-2.05z" fill="#292b1d"/>
<path d="M62.0 191.15h2.05v1.60h-2.05z" fill="#2a2d1e"/>
<path d="M64.0 191.15h2.05v1.60h-2.05z" fill="#2a2d1e"/>
<path d="M66.0 191.15h2.05v1.60h-2.05z" fill="#1f2119"/>
<path d="M68.0 191.15h2.05v1.60h-2.05z" fill="#1a1c20"/>
<path d="M70.0 191.15h2.05v1.60h-2.05z" fill="#303420"/>
<path d="M72.0 191.15h2.05v1.60h-2.05z" fill="#2f321f"/>
<path d="M74.0 191.15h2.05v1.60h-2.05z" fill="#333721"/>
<path d="M76.0 191.15h2.05v1.60h-2.05z" fill="#414526"/>
<path d="M78.0 191.15h2.05v1.60h-2.05z" fill="#191b1e"/>
<path d="M80.0 191.15h2.05v1.60h-2.05z" fill="#202433"/>
<path d="M82.0 191.15h2.05v1.60h-2.05z" fill="#1c1f28"/>
<path d="M84.0 191.15h2.05v1.60h-2.05z" fill="#52582b"/>
<path d="M86.0 191.15h2.05v1.60h-2.05z" fill="#242a41"/>
<path d="M88.0 191.15h2.05v1.60h-2.05z" fill="#1e212d"/>
<path d="M90.0 191.15h2.05v1.60h-2.05z" fill="#212535"/>
<path d="M92.0 191.15h2.05v1.60h-2.05z" fill="#1c1f27"/>
<path d="M94.0 191.15h2.05v1.60h-2.05z" fill="#373b22"/>
<path d="M96.0 191.15h2.05v1.60h-2.05z" fill="#23283c"/>
<path d="M98.0 191.15h2.05v1.60h-2.05z" fill="#222638"/>
<path d="M100.0 191.15h2.05v1.60h-2.05z" fill="#23283d"/>
<path d="M102.0 191.15h2.05v1.60h-2.05z" fill="#1f2330"/>
<path d="M104.0 191.15h2.05v1.60h-2.05z" fill="#1d202b"/>
<path d="M106.0 191.15h2.05v1.60h-2.05z" fill="#242b42"/>
<path d="M108.0 191.15h2.05v1.60h-2.05z" fill="#181a1c"/>
<path d="M110.0 191.15h2.05v1.60h-2.05z" fill="#191b1f"/>
<path d="M112.0 191.15h2.05v1.60h-2.05z" fill="#1e212d"/>
<path d="M114.0 191.15h2.05v1.60h-2.05z" fill="#222637"/>
<path d="M116.0 191.15h2.05v1.60h-2.05z" fill="#5a602e"/>
<path d="M118.0 191.15h2.05v1.60h-2.05z" fill="#3d4224"/>
<path d="M120.0 191.15h2.05v1.60h-2.05z" fill="#6f7635"/>
<path d="M122.0 191.15h2.05v1.60h-2.05z" fill="#4b5029"/>
<path d="M124.0 191.15h2.05v1.60h-2.05z" fill="#545a2c"/>
<path d="M126.0 191.15h2.05v1.60h-2.05z" fill="#787f38"/>
<path d="M128.0 191.15h2.05v1.60h-2.05z" fill="#4c5129"/>
<path d="M130.0 191.15h2.05v1.60h-2.05z" fill="#545a2c"/>
<path d="M132.0 191.15h2.05v1.60h-2.05z" fill="#747b37"/>
<path d="M134.0 191.15h2.05v1.60h-2.05z" fill="#949a41"/>
<path d="M136.0 191.15h2.05v1.60h-2.05z" fill="#50562b"/>
<path d="M44.0 192.70h2.05v1.60h-2.05z" fill="#353821"/>
<path d="M46.0 192.70h2.05v1.60h-2.05z" fill="#494f28"/>
<path d="M48.0 192.70h2.05v1.60h-2.05z" fill="#4b5129"/>
<path d="M50.0 192.70h2.05v1.60h-2.05z" fill="#2a2d1e"/>
<path d="M52.0 192.70h2.05v1.60h-2.05z" fill="#565c2d"/>
<path d="M54.0 192.70h2.05v1.60h-2.05z" fill="#696f33"/>
<path d="M56.0 192.70h2.05v1.60h-2.05z" fill="#434726"/>
<path d="M58.0 192.70h2.05v1.60h-2.05z" fill="#474c28"/>
<path d="M60.0 192.70h2.05v1.60h-2.05z" fill="#2a2c1d"/>
<path d="M62.0 192.70h2.05v1.60h-2.05z" fill="#686f33"/>
<path d="M64.0 192.70h2.05v1.60h-2.05z" fill="#434826"/>
<path d="M66.0 192.70h2.05v1.60h-2.05z" fill="#272a1d"/>
<path d="M68.0 192.70h2.05v1.60h-2.05z" fill="#51562b"/>
<path d="M70.0 192.70h2.05v1.60h-2.05z" fill="#23261b"/>
<path d="M72.0 192.70h2.05v1.60h-2.05z" fill="#343821"/>
<path d="M74.0 192.70h2.05v1.60h-2.05z" fill="#161717"/>
<path d="M76.0 192.70h2.05v1.60h-2.05z" fill="#5f6530"/>
<path d="M78.0 192.70h2.05v1.60h-2.05z" fill="#727936"/>
<path d="M80.0 192.70h2.05v1.60h-2.05z" fill="#353922"/>
<path d="M82.0 192.70h2.05v1.60h-2.05z" fill="#353821"/>
<path d="M84.0 192.70h2.05v1.60h-2.05z" fill="#363a22"/>
<path d="M86.0 192.70h2.05v1.60h-2.05z" fill="#202331"/>
<path d="M88.0 192.70h2.05v1.60h-2.05z" fill="#181a1c"/>
<path d="M90.0 192.70h2.05v1.60h-2.05z" fill="#22241a"/>
<path d="M92.0 192.70h2.05v1.60h-2.05z" fill="#222739"/>
<path d="M94.0 192.70h2.05v1.60h-2.05z" fill="#191b1f"/>
<path d="M96.0 192.70h2.05v1.60h-2.05z" fill="#252b43"/>
<path d="M98.0 192.70h2.05v1.60h-2.05z" fill="#23251b"/>
<path d="M100.0 192.70h2.05v1.60h-2.05z" fill="#1d1f28"/>
<path d="M102.0 192.70h2.05v1.60h-2.05z" fill="#212434"/>
<path d="M104.0 192.70h2.05v1.60h-2.05z" fill="#23261b"/>
<path d="M106.0 192.70h2.05v1.60h-2.05z" fill="#1d1f29"/>
<path d="M108.0 192.70h2.05v1.60h-2.05z" fill="#20221a"/>
<path d="M110.0 192.70h2.05v1.60h-2.05z" fill="#1a1b17"/>
<path d="M112.0 192.70h2.05v1.60h-2.05z" fill="#26281c"/>
<path d="M114.0 192.70h2.05v1.60h-2.05z" fill="#212536"/>
<path d="M116.0 192.70h2.05v1.60h-2.05z" fill="#666d32"/>
<path d="M118.0 192.70h2.05v1.60h-2.05z" fill="#6e7435"/>
<path d="M120.0 192.70h2.05v1.60h-2.05z" fill="#606630"/>
<path d="M122.0 192.70h2.05v1.60h-2.05z" fill="#909640"/>
<path d="M124.0 192.70h2.05v1.60h-2.05z" fill="#545a2c"/>
<path d="M126.0 192.70h2.05v1.60h-2.05z" fill="#7e853a"/>
<path d="M128.0 192.70h2.05v1.60h-2.05z" fill="#8a913e"/>
<path d="M130.0 192.70h2.05v1.60h-2.05z" fill="#3b4024"/>
<path d="M132.0 192.70h2.05v1.60h-2.05z" fill="#4f542a"/>
<path d="M134.0 192.70h2.05v1.60h-2.05z" fill="#50562b"/>
<path d="M136.0 192.70h2.05v1.60h-2.05z" fill="#585e2d"/>
<path d="M44.0 194.25h2.05v1.60h-2.05z" fill="#353821"/>
<path d="M46.0 194.25h2.05v1.60h-2.05z" fill="#3a3e23"/>
<path d="M48.0 194.25h2.05v1.60h-2.05z" fill="#2f321f"/>
<path d="M50.0 194.25h2.05v1.60h-2.05z" fill="#373b22"/>
<path d="M52.0 194.25h2.05v1.60h-2.05z" fill="#424726"/>
<path d="M54.0 194.25h2.05v1.60h-2.05z" fill="#474c28"/>
<path d="M56.0 194.25h2.05v1.60h-2.05z" fill="#282a1d"/>
<path d="M58.0 194.25h2.05v1.60h-2.05z" fill="#363a22"/>
<path d="M60.0 194.25h2.05v1.60h-2.05z" fill="#282b1d"/>
<path d="M62.0 194.25h2.05v1.60h-2.05z" fill="#353821"/>
<path d="M64.0 194.25h2.05v1.60h-2.05z" fill="#1a1b17"/>
<path d="M66.0 194.25h2.05v1.60h-2.05z" fill="#4b5029"/>
<path d="M68.0 194.25h2.05v1.60h-2.05z" fill="#454a27"/>
<path d="M70.0 194.25h2.05v1.60h-2.05z" fill="#363a22"/>
<path d="M72.0 194.25h2.05v1.60h-2.05z" fill="#2a2d1d"/>
<path d="M74.0 194.25h2.05v1.60h-2.05z" fill="#2f321f"/>
<path d="M76.0 194.25h2.05v1.60h-2.05z" fill="#2a2d1e"/>
<path d="M78.0 194.25h2.05v1.60h-2.05z" fill="#181917"/>
<path d="M80.0 194.25h2.05v1.60h-2.05z" fill="#59602e"/>
<path d="M82.0 194.25h2.05v1.60h-2.05z" fill="#848b3c"/>
<path d="M84.0 194.25h2.05v1.60h-2.05z" fill="#1e2019"/>
<path d="M86.0 194.25h2.05v1.60h-2.05z" fill="#23293e"/>
<path d="M88.0 194.25h2.05v1.60h-2.05z" fill="#191b20"/>
<path d="M90.0 194.25h2.05v1.60h-2.05z" fill="#191b1f"/>
<path d="M92.0 194.25h2.05v1.60h-2.05z" fill="#242b43"/>
<path d="M94.0 194.25h2.05v1.60h-2.05z" fill="#252d47"/>
<path d="M96.0 194.25h2.05v1.60h-2.05z" fill="#1a1c20"/>
<path d="M98.0 194.25h2.05v1.60h-2.05z" fill="#262d48"/>
<path d="M100.0 194.25h2.05v1.60h-2.05z" fill="#1d1e19"/>
<path d="M102.0 194.25h2.05v1.60h-2.05z" fill="#212434"/>
<path d="M104.0 194.25h2.05v1.60h-2.05z" fill="#1d1f29"/>
<path d="M106.0 194.25h2.05v1.60h-2.05z" fill="#1d202b"/>
<path d="M108.0 194.25h2.05v1.60h-2.05z" fill="#212535"/>
<path d="M110.0 194.25h2.05v1.60h-2.05z" fill="#1e212d"/>
<path d="M112.0 194.25h2.05v1.60h-2.05z" fill="#1f2330"/>
<path d="M114.0 194.25h2.05v1.60h-2.05z" fill="#191a17"/>
<path d="M116.0 194.25h2.05v1.60h-2.05z" fill="#575d2d"/>
<path d="M118.0 194.25h2.05v1.60h-2.05z" fill="#595f2e"/>
<path d="M120.0 194.25h2.05v1.60h-2.05z" fill="#4e542a"/>
<path d="M122.0 194.25h2.05v1.60h-2.05z" fill="#4c5129"/>
<path d="M124.0 194.25h2.05v1.60h-2.05z" fill="#4a4f29"/>
<path d="M126.0 194.25h2.05v1.60h-2.05z" fill="#5a602e"/>
<path d="M128.0 194.25h2.05v1.60h-2.05z" fill="#8a903e"/>
<path d="M130.0 194.25h2.05v1.60h-2.05z" fill="#747b37"/>
<path d="M132.0 194.25h2.05v1.60h-2.05z" fill="#5f6530"/>
<path d="M134.0 194.25h2.05v1.60h-2.05z" fill="#858b3c"/>
<path d="M136.0 194.25h2.05v1.60h-2.05z" fill="#727836"/>
<path d="M44.0 195.80h2.05v1.60h-2.05z" fill="#161716"/>
<path d="M46.0 195.80h2.05v1.60h-2.05z" fill="#1c1f28"/>
<path d="M48.0 195.80h2.05v1.60h-2.05z" fill="#1e2019"/>
<path d="M50.0 195.80h2.05v1.60h-2.05z" fill="#171819"/>
<path d="M52.0 195.80h2.05v1.60h-2.05z" fill="#202331"/>
<path d="M54.0 195.80h2.05v1.60h-2.05z" fill="#1e202b"/>
<path d="M56.0 195.80h2.05v1.60h-2.05z" fill="#414626"/>
<path d="M58.0 195.80h2.05v1.60h-2.05z" fill="#1d1f19"/>
<path d="M60.0 195.80h2.05v1.60h-2.05z" fill="#23261b"/>
<path d="M62.0 195.80h2.05v1.60h-2.05z" fill="#1d1f19"/>
<path d="M64.0 195.80h2.05v1.60h-2.05z" fill="#181a1c"/>
<path d="M66.0 195.80h2.05v1.60h-2.05z" fill="#23251b"/>
<path d="M68.0 195.80h2.05v1.60h-2.05z" fill="#303320"/>
<path d="M70.0 195.80h2.05v1.60h-2.05z" fill="#171819"/>
<path d="M72.0 195.80h2.05v1.60h-2.05z" fill="#24261b"/>
<path d="M74.0 195.80h2.05v1.60h-2.05z" fill="#2f321f"/>
<path d="M76.0 195.80h2.05v1.60h-2.05z" fill="#181a1c"/>
<path d="M78.0 195.80h2.05v1.60h-2.05z" fill="#1c1e18"/>
<path d="M80.0 195.80h2.05v1.60h-2.05z" fill="#1a1c21"/>
<path d="M82.0 195.80h2.05v1.60h-2.05z" fill="#26281c"/>
<path d="M84.0 195.80h2.05v1.60h-2.05z" fill="#18191a"/>
<path d="M86.0 195.80h2.05v1.60h-2.05z" fill="#171817"/>
<path d="M88.0 195.80h2.05v1.60h-2.05z" fill="#22273a"/>
<path d="M90.0 195.80h2.05v1.60h-2.05z" fill="#20221a"/>
<path d="M92.0 195.80h2.05v1.60h-2.05z" fill="#202433"/>
<path d="M94.0 195.80h2.05v1.60h-2.05z" fill="#23273b"/>
<path d="M96.0 195.80h2.05v1.60h-2.05z" fill="#23283c"/>
<path d="M98.0 195.80h2.05v1.60h-2.05z" fill="#1a1c21"/>
<path d="M100.0 195.80h2.05v1.60h-2.05z" fill="#23273b"/>
<path d="M102.0 195.80h2.05v1.60h-2.05z" fill="#22241b"/>
<path d="M104.0 195.80h2.05v1.60h-2.05z" fill="#171816"/>
<path d="M106.0 195.80h2.05v1.60h-2.05z" fill="#1b1d23"/>
<path d="M108.0 195.80h2.05v1.60h-2.05z" fill="#242b42"/>
<path d="M110.0 195.80h2.05v1.60h-2.05z" fill="#1e212d"/>
<path d="M112.0 195.80h2.05v1.60h-2.05z" fill="#22273a"/>
<path d="M114.0 195.80h2.05v1.60h-2.05z" fill="#252d47"/>
<path d="M116.0 195.80h2.05v1.60h-2.05z" fill="#5a602e"/>
<path d="M118.0 195.80h2.05v1.60h-2.05z" fill="#89903e"/>
<path d="M120.0 195.80h2.05v1.60h-2.05z" fill="#464b27"/>
<path d="M122.0 195.80h2.05v1.60h-2.05z" fill="#636a31"/>
<path d="M124.0 195.80h2.05v1.60h-2.05z" fill="#6f7535"/>
<path d="M126.0 195.80h2.05v1.60h-2.05z" fill="#3e4225"/>
<path d="M128.0 195.80h2.05v1.60h-2.05z" fill="#4a4f29"/>
<path d="M130.0 195.80h2.05v1.60h-2.05z" fill="#565d2d"/>
<path d="M132.0 195.80h2.05v1.60h-2.05z" fill="#5b622e"/>
<path d="M134.0 195.80h2.05v1.60h-2.05z" fill="#3a3e23"/>
<path d="M136.0 195.80h2.05v1.60h-2.05z" fill="#555b2c"/>
<path d="M44.0 197.35h2.05v1.60h-2.05z" fill="#242b42"/>
<path d="M46.0 197.35h2.05v1.60h-2.05z" fill="#2c3c66"/>
<path d="M48.0 197.35h2.05v1.60h-2.05z" fill="#293456"/>
<path d="M50.0 197.35h2.05v1.60h-2.05z" fill="#293355"/>
<path d="M52.0 197.35h2.05v1.60h-2.05z" fill="#283252"/>
<path d="M54.0 197.35h2.05v1.60h-2.05z" fill="#252c45"/>
<path d="M56.0 197.35h2.05v1.60h-2.05z" fill="#293457"/>
<path d="M58.0 197.35h2.05v1.60h-2.05z" fill="#1c1e26"/>
<path d="M60.0 197.35h2.05v1.60h-2.05z" fill="#293558"/>
<path d="M62.0 197.35h2.05v1.60h-2.05z" fill="#252b44"/>
<path d="M64.0 197.35h2.05v1.60h-2.05z" fill="#242a42"/>
<path d="M66.0 197.35h2.05v1.60h-2.05z" fill="#242b42"/>
<path d="M68.0 197.35h2.05v1.60h-2.05z" fill="#283151"/>
<path d="M70.0 197.35h2.05v1.60h-2.05z" fill="#29365a"/>
<path d="M72.0 197.35h2.05v1.60h-2.05z" fill="#283251"/>
<path d="M74.0 197.35h2.05v1.60h-2.05z" fill="#252c46"/>
<path d="M76.0 197.35h2.05v1.60h-2.05z" fill="#272f4d"/>
<path d="M78.0 197.35h2.05v1.60h-2.05z" fill="#252d47"/>
<path d="M80.0 197.35h2.05v1.60h-2.05z" fill="#252d47"/>
<path d="M82.0 197.35h2.05v1.60h-2.05z" fill="#2a365b"/>
<path d="M84.0 197.35h2.05v1.60h-2.05z" fill="#2a375c"/>
<path d="M86.0 197.35h2.05v1.60h-2.05z" fill="#161716"/>
<path d="M88.0 197.35h2.05v1.60h-2.05z" fill="#222739"/>
<path d="M90.0 197.35h2.05v1.60h-2.05z" fill="#252d47"/>
<path d="M92.0 197.35h2.05v1.60h-2.05z" fill="#1f2119"/>
<path d="M94.0 197.35h2.05v1.60h-2.05z" fill="#23293e"/>
<path d="M96.0 197.35h2.05v1.60h-2.05z" fill="#24293f"/>
<path d="M98.0 197.35h2.05v1.60h-2.05z" fill="#191b1f"/>
<path d="M100.0 197.35h2.05v1.60h-2.05z" fill="#242a41"/>
<path d="M102.0 197.35h2.05v1.60h-2.05z" fill="#23293e"/>
<path d="M104.0 197.35h2.05v1.60h-2.05z" fill="#191a1d"/>
<path d="M106.0 197.35h2.05v1.60h-2.05z" fill="#23283d"/>
<path d="M108.0 197.35h2.05v1.60h-2.05z" fill="#2d301e"/>
<path d="M110.0 197.35h2.05v1.60h-2.05z" fill="#1f222f"/>
<path d="M112.0 197.35h2.05v1.60h-2.05z" fill="#303420"/>
<path d="M114.0 197.35h2.05v1.60h-2.05z" fill="#1f222e"/>
<path d="M116.0 197.35h2.05v1.60h-2.05z" fill="#4e532a"/>
<path d="M118.0 197.35h2.05v1.60h-2.05z" fill="#404525"/>
<path d="M120.0 197.35h2.05v1.60h-2.05z" fill="#484d28"/>
<path d="M122.0 197.35h2.05v1.60h-2.05z" fill="#434826"/>
<path d="M124.0 197.35h2.05v1.60h-2.05z" fill="#4c5229"/>
<path d="M126.0 197.35h2.05v1.60h-2.05z" fill="#5d642f"/>
<path d="M128.0 197.35h2.05v1.60h-2.05z" fill="#333721"/>
<path d="M130.0 197.35h2.05v1.60h-2.05z" fill="#3a3f23"/>
<path d="M132.0 197.35h2.05v1.60h-2.05z" fill="#22241a"/>
<path d="M134.0 197.35h2.05v1.60h-2.05z" fill="#6f7635"/>
<path d="M136.0 197.35h2.05v1.60h-2.05z" fill="#4b5129"/>
<path d="M44.0 198.90h2.05v1.60h-2.05z" fill="#20221a"/>
<path d="M46.0 198.90h2.05v1.60h-2.05z" fill="#373b22"/>
<path d="M48.0 198.90h2.05v1.60h-2.05z" fill="#282b1d"/>
<path d="M50.0 198.90h2.05v1.60h-2.05z" fill="#333721"/>
<path d="M52.0 198.90h2.05v1.60h-2.05z" fill="#1e2019"/>
<path d="M54.0 198.90h2.05v1.60h-2.05z" fill="#1f2119"/>
<path d="M56.0 198.90h2.05v1.60h-2.05z" fill="#20221a"/>
<path d="M58.0 198.90h2.05v1.60h-2.05z" fill="#1f222f"/>
<path d="M60.0 198.90h2.05v1.60h-2.05z" fill="#383c23"/>
<path d="M62.0 198.90h2.05v1.60h-2.05z" fill="#1d2029"/>
<path d="M64.0 198.90h2.05v1.60h-2.05z" fill="#191b1f"/>
<path d="M66.0 198.90h2.05v1.60h-2.05z" fill="#2f3320"/>
<path d="M68.0 198.90h2.05v1.60h-2.05z" fill="#22251b"/>
<path d="M70.0 198.90h2.05v1.60h-2.05z" fill="#323621"/>
<path d="M72.0 198.90h2.05v1.60h-2.05z" fill="#444927"/>
<path d="M74.0 198.90h2.05v1.60h-2.05z" fill="#474d28"/>
<path d="M76.0 198.90h2.05v1.60h-2.05z" fill="#3e4325"/>
<path d="M78.0 198.90h2.05v1.60h-2.05z" fill="#1d1e18"/>
<path d="M80.0 198.90h2.05v1.60h-2.05z" fill="#4b5129"/>
<path d="M82.0 198.90h2.05v1.60h-2.05z" fill="#181a1c"/>
<path d="M84.0 198.90h2.05v1.60h-2.05z" fill="#20211a"/>
<path d="M86.0 198.90h2.05v1.60h-2.05z" fill="#1a1b17"/>
<path d="M88.0 198.90h2.05v1.60h-2.05z" fill="#1d2029"/>
<path d="M90.0 198.90h2.05v1.60h-2.05z" fill="#1c1f28"/>
<path d="M92.0 198.90h2.05v1.60h-2.05z" fill="#1e212c"/>
<path d="M94.0 198.90h2.05v1.60h-2.05z" fill="#21231a"/>
<path d="M96.0 198.90h2.05v1.60h-2.05z" fill="#262e4a"/>
<path d="M98.0 198.90h2.05v1.60h-2.05z" fill="#1f211a"/>
<path d="M100.0 198.90h2.05v1.60h-2.05z" fill="#1b1c18"/>
<path d="M102.0 198.90h2.05v1.60h-2.05z" fill="#1c1e27"/>
<path d="M104.0 198.90h2.05v1.60h-2.05z" fill="#18191b"/>
<path d="M106.0 198.90h2.05v1.60h-2.05z" fill="#222638"/>
<path d="M108.0 198.90h2.05v1.60h-2.05z" fill="#1c1e18"/>
<path d="M110.0 198.90h2.05v1.60h-2.05z" fill="#444927"/>
<path d="M112.0 198.90h2.05v1.60h-2.05z" fill="#222537"/>
<path d="M114.0 198.90h2.05v1.60h-2.05z" fill="#22241b"/>
<path d="M116.0 198.90h2.05v1.60h-2.05z" fill="#4d522a"/>
<path d="M118.0 198.90h2.05v1.60h-2.05z" fill="#474c28"/>
<path d="M120.0 198.90h2.05v1.60h-2.05z" fill="#444927"/>
<path d="M122.0 198.90h2.05v1.60h-2.05z" fill="#4a4f29"/>
<path d="M124.0 198.90h2.05v1.60h-2.05z" fill="#353922"/>
<path d="M126.0 198.90h2.05v1.60h-2.05z" fill="#333621"/>
<path d="M128.0 198.90h2.05v1.60h-2.05z" fill="#747b37"/>
<path d="M130.0 198.90h2.05v1.60h-2.05z" fill="#4d532a"/>
<path d="M132.0 198.90h2.05v1.60h-2.05z" fill="#5a602e"/>
<path d="M134.0 198.90h2.05v1.60h-2.05z" fill="#545a2c"/>
<path d="M136.0 198.90h2.05v1.60h-2.05z" fill="#585e2d"/>
<path d="M44.0 200.45h2.05v1.60h-2.05z" fill="#1f2331"/>
<path d="M46.0 200.45h2.05v1.60h-2.05z" fill="#191b17"/>
<path d="M48.0 200.45h2.05v1.60h-2.05z" fill="#21231a"/>
<path d="M50.0 200.45h2.05v1.60h-2.05z" fill="#212434"/>
<path d="M52.0 200.45h2.05v1.60h-2.05z" fill="#1d202a"/>
<path d="M54.0 200.45h2.05v1.60h-2.05z" fill="#202433"/>
<path d="M56.0 200.45h2.05v1.60h-2.05z" fill="#1a1b17"/>
<path d="M58.0 200.45h2.05v1.60h-2.05z" fill="#171818"/>
<path d="M60.0 200.45h2.05v1.60h-2.05z" fill="#191b1e"/>
<path d="M62.0 200.45h2.05v1.60h-2.05z" fill="#1d202b"/>
<path d="M64.0 200.45h2.05v1.60h-2.05z" fill="#171818"/>
<path d="M66.0 200.45h2.05v1.60h-2.05z" fill="#191b1e"/>
<path d="M68.0 200.45h2.05v1.60h-2.05z" fill="#1e212d"/>
<path d="M70.0 200.45h2.05v1.60h-2.05z" fill="#171819"/>
<path d="M72.0 200.45h2.05v1.60h-2.05z" fill="#1d202b"/>
<path d="M74.0 200.45h2.05v1.60h-2.05z" fill="#20221a"/>
<path d="M76.0 200.45h2.05v1.60h-2.05z" fill="#191b17"/>
<path d="M78.0 200.45h2.05v1.60h-2.05z" fill="#1e212c"/>
<path d="M80.0 200.45h2.05v1.60h-2.05z" fill="#181a17"/>
<path d="M82.0 200.45h2.05v1.60h-2.05z" fill="#191a1e"/>
<path d="M84.0 200.45h2.05v1.60h-2.05z" fill="#1e212c"/>
<path d="M86.0 200.45h2.05v1.60h-2.05z" fill="#252b43"/>
<path d="M88.0 200.45h2.05v1.60h-2.05z" fill="#27304d"/>
<path d="M90.0 200.45h2.05v1.60h-2.05z" fill="#252c46"/>
<path d="M92.0 200.45h2.05v1.60h-2.05z" fill="#202332"/>
<path d="M94.0 200.45h2.05v1.60h-2.05z" fill="#1a1c22"/>
<path d="M96.0 200.45h2.05v1.60h-2.05z" fill="#242a40"/>
<path d="M98.0 200.45h2.05v1.60h-2.05z" fill="#212535"/>
<path d="M100.0 200.45h2.05v1.60h-2.05z" fill="#202332"/>
<path d="M102.0 200.45h2.05v1.60h-2.05z" fill="#1d202a"/>
<path d="M104.0 200.45h2.05v1.60h-2.05z" fill="#1f2230"/>
<path d="M106.0 200.45h2.05v1.60h-2.05z" fill="#1a1c21"/>
<path d="M108.0 200.45h2.05v1.60h-2.05z" fill="#1d202a"/>
<path d="M110.0 200.45h2.05v1.60h-2.05z" fill="#242a42"/>
<path d="M112.0 200.45h2.05v1.60h-2.05z" fill="#1f2331"/>
<path d="M114.0 200.45h2.05v1.60h-2.05z" fill="#293456"/>
<path d="M116.0 200.45h2.05v1.60h-2.05z" fill="#25271c"/>
<path d="M118.0 200.45h2.05v1.60h-2.05z" fill="#292c1d"/>
<path d="M120.0 200.45h2.05v1.60h-2.05z" fill="#353922"/>
<path d="M122.0 200.45h2.05v1.60h-2.05z" fill="#22251b"/>
<path d="M124.0 200.45h2.05v1.60h-2.05z" fill="#3a3e23"/>
<path d="M126.0 200.45h2.05v1.60h-2.05z" fill="#444927"/>
<path d="M128.0 200.45h2.05v1.60h-2.05z" fill="#171816"/>
<path d="M130.0 200.45h2.05v1.60h-2.05z" fill="#1d1f19"/>
<path d="M132.0 200.45h2.05v1.60h-2.05z" fill="#2e321f"/>
<path d="M134.0 200.45h2.05v1.60h-2.05z" fill="#333721"/>
<path d="M136.0 200.45h2.05v1.60h-2.05z" fill="#2c2f1e"/>
<path d="M44.0 202.00h2.05v1.60h-2.05z" fill="#171818"/>
<path d="M46.0 202.00h2.05v1.60h-2.05z" fill="#3d4224"/>
<path d="M48.0 202.00h2.05v1.60h-2.05z" fill="#454a27"/>
<path d="M50.0 202.00h2.05v1.60h-2.05z" fill="#444927"/>
<path d="M52.0 202.00h2.05v1.60h-2.05z" fill="#363a22"/>
<path d="M54.0 202.00h2.05v1.60h-2.05z" fill="#282b1d"/>
<path d="M56.0 202.00h2.05v1.60h-2.05z" fill="#363a22"/>
<path d="M58.0 202.00h2.05v1.60h-2.05z" fill="#2c2f1e"/>
<path d="M60.0 202.00h2.05v1.60h-2.05z" fill="#191b1f"/>
<path d="M62.0 202.00h2.05v1.60h-2.05z" fill="#20221a"/>
<path d="M64.0 202.00h2.05v1.60h-2.05z" fill="#2c2f1e"/>
<path d="M66.0 202.00h2.05v1.60h-2.05z" fill="#22241b"/>
<path d="M68.0 202.00h2.05v1.60h-2.05z" fill="#1a1b17"/>
<path d="M70.0 202.00h2.05v1.60h-2.05z" fill="#282b1d"/>
<path d="M72.0 202.00h2.05v1.60h-2.05z" fill="#25281c"/>
<path d="M74.0 202.00h2.05v1.60h-2.05z" fill="#2f321f"/>
<path d="M76.0 202.00h2.05v1.60h-2.05z" fill="#2c2f1e"/>
<path d="M78.0 202.00h2.05v1.60h-2.05z" fill="#313420"/>
<path d="M80.0 202.00h2.05v1.60h-2.05z" fill="#414626"/>
<path d="M82.0 202.00h2.05v1.60h-2.05z" fill="#303420"/>
<path d="M84.0 202.00h2.05v1.60h-2.05z" fill="#363a22"/>
<path d="M86.0 202.00h2.05v1.60h-2.05z" fill="#202332"/>
<path d="M88.0 202.00h2.05v1.60h-2.05z" fill="#262e49"/>
<path d="M90.0 202.00h2.05v1.60h-2.05z" fill="#1a1c22"/>
<path d="M92.0 202.00h2.05v1.60h-2.05z" fill="#1f2119"/>
<path d="M94.0 202.00h2.05v1.60h-2.05z" fill="#1a1c21"/>
<path d="M96.0 202.00h2.05v1.60h-2.05z" fill="#1c1e27"/>
<path d="M98.0 202.00h2.05v1.60h-2.05z" fill="#202332"/>
<path d="M100.0 202.00h2.05v1.60h-2.05z" fill="#23251b"/>
<path d="M102.0 202.00h2.05v1.60h-2.05z" fill="#1b1e25"/>
<path d="M104.0 202.00h2.05v1.60h-2.05z" fill="#161716"/>
<path d="M106.0 202.00h2.05v1.60h-2.05z" fill="#282b1d"/>
<path d="M108.0 202.00h2.05v1.60h-2.05z" fill="#1c1d18"/>
<path d="M110.0 202.00h2.05v1.60h-2.05z" fill="#3f4425"/>
<path d="M112.0 202.00h2.05v1.60h-2.05z" fill="#191a1d"/>
<path d="M114.0 202.00h2.05v1.60h-2.05z" fill="#25271b"/>
<path d="M116.0 202.00h2.05v1.60h-2.05z" fill="#575d2d"/>
<path d="M118.0 202.00h2.05v1.60h-2.05z" fill="#3c4024"/>
<path d="M120.0 202.00h2.05v1.60h-2.05z" fill="#4a4f29"/>
<path d="M122.0 202.00h2.05v1.60h-2.05z" fill="#3e4225"/>
<path d="M124.0 202.00h2.05v1.60h-2.05z" fill="#343821"/>
<path d="M126.0 202.00h2.05v1.60h-2.05z" fill="#4f542a"/>
<path d="M128.0 202.00h2.05v1.60h-2.05z" fill="#393e23"/>
<path d="M130.0 202.00h2.05v1.60h-2.05z" fill="#6e7535"/>
<path d="M132.0 202.00h2.05v1.60h-2.05z" fill="#3a3e23"/>
<path d="M134.0 202.00h2.05v1.60h-2.05z" fill="#3e4325"/>
<path d="M136.0 202.00h2.05v1.60h-2.05z" fill="#4b5029"/>
<path d="M44.0 203.55h2.05v1.60h-2.05z" fill="#18191b"/>
<path d="M46.0 203.55h2.05v1.60h-2.05z" fill="#1c1f28"/>
<path d="M48.0 203.55h2.05v1.60h-2.05z" fill="#222637"/>
<path d="M50.0 203.55h2.05v1.60h-2.05z" fill="#252b44"/>
<path d="M52.0 203.55h2.05v1.60h-2.05z" fill="#212435"/>
<path d="M54.0 203.55h2.05v1.60h-2.05z" fill="#2f321f"/>
<path d="M56.0 203.55h2.05v1.60h-2.05z" fill="#181917"/>
<path d="M58.0 203.55h2.05v1.60h-2.05z" fill="#17191a"/>
<path d="M60.0 203.55h2.05v1.60h-2.05z" fill="#1b1e25"/>
<path d="M62.0 203.55h2.05v1.60h-2.05z" fill="#191b1f"/>
<path d="M64.0 203.55h2.05v1.60h-2.05z" fill="#161717"/>
<path d="M66.0 203.55h2.05v1.60h-2.05z" fill="#212536"/>
<path d="M68.0 203.55h2.05v1.60h-2.05z" fill="#1e202b"/>
<path d="M70.0 203.55h2.05v1.60h-2.05z" fill="#1e212d"/>
<path d="M72.0 203.55h2.05v1.60h-2.05z" fill="#292c1d"/>
<path d="M74.0 203.55h2.05v1.60h-2.05z" fill="#1f2330"/>
<path d="M76.0 203.55h2.05v1.60h-2.05z" fill="#272a1d"/>
<path d="M78.0 203.55h2.05v1.60h-2.05z" fill="#1b1e25"/>
<path d="M80.0 203.55h2.05v1.60h-2.05z" fill="#474c28"/>
<path d="M82.0 203.55h2.05v1.60h-2.05z" fill="#191b1e"/>
<path d="M84.0 203.55h2.05v1.60h-2.05z" fill="#181a1c"/>
<path d="M86.0 203.55h2.05v1.60h-2.05z" fill="#1a1b17"/>
<path d="M88.0 203.55h2.05v1.60h-2.05z" fill="#18191b"/>
<path d="M90.0 203.55h2.05v1.60h-2.05z" fill="#17191a"/>
<path d="M92.0 203.55h2.05v1.60h-2.05z" fill="#23283d"/>
<path d="M94.0 203.55h2.05v1.60h-2.05z" fill="#161717"/>
<path d="M96.0 203.55h2.05v1.60h-2.05z" fill="#21231a"/>
<path d="M98.0 203.55h2.05v1.60h-2.05z" fill="#1e212e"/>
<path d="M100.0 203.55h2.05v1.60h-2.05z" fill="#212535"/>
<path d="M102.0 203.55h2.05v1.60h-2.05z" fill="#23283d"/>
<path d="M104.0 203.55h2.05v1.60h-2.05z" fill="#171819"/>
<path d="M106.0 203.55h2.05v1.60h-2.05z" fill="#1c1e26"/>
<path d="M108.0 203.55h2.05v1.60h-2.05z" fill="#1e212c"/>
<path d="M110.0 203.55h2.05v1.60h-2.05z" fill="#24293f"/>
<path d="M112.0 203.55h2.05v1.60h-2.05z" fill="#20221a"/>
<path d="M114.0 203.55h2.05v1.60h-2.05z" fill="#18191b"/>
<path d="M116.0 203.55h2.05v1.60h-2.05z" fill="#373b22"/>
<path d="M118.0 203.55h2.05v1.60h-2.05z" fill="#545a2c"/>
<path d="M120.0 203.55h2.05v1.60h-2.05z" fill="#23251b"/>
<path d="M122.0 203.55h2.05v1.60h-2.05z" fill="#484e28"/>
<path d="M124.0 203.55h2.05v1.60h-2.05z" fill="#22241a"/>
<path d="M126.0 203.55h2.05v1.60h-2.05z" fill="#53592c"/>
<path d="M128.0 203.55h2.05v1.60h-2.05z" fill="#313520"/>
<path d="M130.0 203.55h2.05v1.60h-2.05z" fill="#4f552a"/>
<path d="M132.0 203.55h2.05v1.60h-2.05z" fill="#2e321f"/>
<path d="M134.0 203.55h2.05v1.60h-2.05z" fill="#3f4325"/>
<path d="M136.0 203.55h2.05v1.60h-2.05z" fill="#4e532a"/>
<path d="M44.0 205.10h2.05v1.60h-2.05z" fill="#191b1f"/>
<path d="M46.0 205.10h2.05v1.60h-2.05z" fill="#202331"/>
<path d="M48.0 205.10h2.05v1.60h-2.05z" fill="#1b1d18"/>
<path d="M50.0 205.10h2.05v1.60h-2.05z" fill="#1e212d"/>
<path d="M52.0 205.10h2.05v1.60h-2.05z" fill="#1c1f28"/>
<path d="M54.0 205.10h2.05v1.60h-2.05z" fill="#1b1e25"/>
<path d="M56.0 205.10h2.05v1.60h-2.05z" fill="#22241a"/>
<path d="M58.0 205.10h2.05v1.60h-2.05z" fill="#212535"/>
<path d="M60.0 205.10h2.05v1.60h-2.05z" fill="#1a1c22"/>
<path d="M62.0 205.10h2.05v1.60h-2.05z" fill="#1c1f27"/>
<path d="M64.0 205.10h2.05v1.60h-2.05z" fill="#1e202c"/>
<path d="M66.0 205.10h2.05v1.60h-2.05z" fill="#1f2230"/>
<path d="M68.0 205.10h2.05v1.60h-2.05z" fill="#1b1d24"/>
<path d="M70.0 205.10h2.05v1.60h-2.05z" fill="#191a1e"/>
<path d="M72.0 205.10h2.05v1.60h-2.05z" fill="#23283c"/>
<path d="M74.0 205.10h2.05v1.60h-2.05z" fill="#181a1d"/>
<path d="M76.0 205.10h2.05v1.60h-2.05z" fill="#222637"/>
<path d="M78.0 205.10h2.05v1.60h-2.05z" fill="#1a1c21"/>
<path d="M80.0 205.10h2.05v1.60h-2.05z" fill="#393d23"/>
<path d="M82.0 205.10h2.05v1.60h-2.05z" fill="#202433"/>
<path d="M84.0 205.10h2.05v1.60h-2.05z" fill="#1a1d22"/>
<path d="M86.0 205.10h2.05v1.60h-2.05z" fill="#212535"/>
<path d="M88.0 205.10h2.05v1.60h-2.05z" fill="#191b1e"/>
<path d="M90.0 205.10h2.05v1.60h-2.05z" fill="#222639"/>
<path d="M92.0 205.10h2.05v1.60h-2.05z" fill="#262e49"/>
<path d="M94.0 205.10h2.05v1.60h-2.05z" fill="#252d47"/>
<path d="M96.0 205.10h2.05v1.60h-2.05z" fill="#1e212d"/>
<path d="M98.0 205.10h2.05v1.60h-2.05z" fill="#1e212c"/>
<path d="M100.0 205.10h2.05v1.60h-2.05z" fill="#181a1d"/>
<path d="M102.0 205.10h2.05v1.60h-2.05z" fill="#22273a"/>
<path d="M104.0 205.10h2.05v1.60h-2.05z" fill="#1b1d24"/>
<path d="M106.0 205.10h2.05v1.60h-2.05z" fill="#242a40"/>
<path d="M108.0 205.10h2.05v1.60h-2.05z" fill="#171818"/>
<path d="M110.0 205.10h2.05v1.60h-2.05z" fill="#202332"/>
<path d="M112.0 205.10h2.05v1.60h-2.05z" fill="#23283b"/>
<path d="M114.0 205.10h2.05v1.60h-2.05z" fill="#1e212d"/>
<path d="M116.0 205.10h2.05v1.60h-2.05z" fill="#545a2c"/>
<path d="M118.0 205.10h2.05v1.60h-2.05z" fill="#20221a"/>
<path d="M120.0 205.10h2.05v1.60h-2.05z" fill="#171917"/>
<path d="M122.0 205.10h2.05v1.60h-2.05z" fill="#1c1e18"/>
<path d="M124.0 205.10h2.05v1.60h-2.05z" fill="#191b17"/>
<path d="M126.0 205.10h2.05v1.60h-2.05z" fill="#313420"/>
<path d="M128.0 205.10h2.05v1.60h-2.05z" fill="#393d23"/>
<path d="M130.0 205.10h2.05v1.60h-2.05z" fill="#2e311f"/>
<path d="M132.0 205.10h2.05v1.60h-2.05z" fill="#363a22"/>
<path d="M134.0 205.10h2.05v1.60h-2.05z" fill="#494f28"/>
<path d="M136.0 205.10h2.05v1.60h-2.05z" fill="#2c2f1e"/>
</g></g>
<rect x="46.5" y="38" width="0.6" height="165.7" fill="#fff" fill-opacity="0.09"/>
<rect x="49.4" y="38" width="0.6" height="165.7" fill="#fff" fill-opacity="0.10"/>
<rect x="51.1" y="38" width="0.6" height="165.7" fill="#fff" fill-opacity="0.06"/>
<rect x="52.4" y="38" width="0.6" height="165.7" fill="#fff" fill-opacity="0.10"/>
<rect x="55.0" y="38" width="0.6" height="165.7" fill="#fff" fill-opacity="0.07"/>
<rect x="56.8" y="38" width="0.6" height="165.7" fill="#fff" fill-opacity="0.05"/>
<rect x="58.9" y="38" width="0.6" height="165.7" fill="#fff" fill-opacity="0.09"/>
<rect x="61.7" y="38" width="0.6" height="165.7" fill="#fff" fill-opacity="0.11"/>
<rect x="64.5" y="38" width="0.6" height="165.7" fill="#fff" fill-opacity="0.07"/>
<rect x="66.4" y="38" width="0.6" height="165.7" fill="#fff" fill-opacity="0.06"/>
<rect x="69.4" y="38" width="0.6" height="165.7" fill="#fff" fill-opacity="0.05"/>
<rect x="70.9" y="38" width="0.6" height="165.7" fill="#fff" fill-opacity="0.06"/>
<rect x="73.7" y="38" width="0.6" height="165.7" fill="#fff" fill-opacity="0.11"/>
<rect x="75.5" y="38" width="0.6" height="165.7" fill="#fff" fill-opacity="0.11"/>
<rect x="78.3" y="38" width="0.6" height="165.7" fill="#fff" fill-opacity="0.07"/>
<rect x="79.9" y="38" width="0.6" height="165.7" fill="#fff" fill-opacity="0.10"/>
<rect x="81.8" y="38" width="0.6" height="165.7" fill="#fff" fill-opacity="0.04"/>
<rect x="84.6" y="38" width="0.6" height="165.7" fill="#fff" fill-opacity="0.07"/>
<rect x="86.5" y="38" width="0.6" height="165.7" fill="#fff" fill-opacity="0.08"/>
<rect x="88.2" y="38" width="0.6" height="165.7" fill="#fff" fill-opacity="0.03"/>
<rect x="90.1" y="38" width="0.6" height="165.7" fill="#fff" fill-opacity="0.06"/>
<rect x="91.3" y="38" width="0.6" height="165.7" fill="#fff" fill-opacity="0.06"/>
<rect x="93.9" y="38" width="0.6" height="165.7" fill="#fff" fill-opacity="0.06"/>
<rect x="96.3" y="38" width="0.6" height="165.7" fill="#fff" fill-opacity="0.09"/>
<rect x="97.8" y="38" width="0.6" height="165.7" fill="#fff" fill-opacity="0.03"/>
<rect x="100.2" y="38" width="0.6" height="165.7" fill="#fff" fill-opacity="0.08"/>
<rect x="102.0" y="38" width="0.6" height="165.7" fill="#fff" fill-opacity="0.05"/>
<rect x="104.7" y="38" width="0.6" height="165.7" fill="#fff" fill-opacity="0.11"/>
<rect x="106.3" y="38" width="0.6" height="165.7" fill="#fff" fill-opacity="0.08"/>
<rect x="108.6" y="38" width="0.6" height="165.7" fill="#fff" fill-opacity="0.06"/>
<rect x="109.8" y="38" width="0.6" height="165.7" fill="#fff" fill-opacity="0.06"/>
<rect x="112.2" y="38" width="0.6" height="165.7" fill="#fff" fill-opacity="0.08"/>
<rect x="114.3" y="38" width="0.6" height="165.7" fill="#fff" fill-opacity="0.04"/>
<rect x="115.9" y="38" width="0.6" height="165.7" fill="#fff" fill-opacity="0.06"/>
<rect x="117.8" y="38" width="0.6" height="165.7" fill="#fff" fill-opacity="0.06"/>
<rect x="120.7" y="38" width="0.6" height="165.7" fill="#fff" fill-opacity="0.04"/>
<rect x="123.6" y="38" width="0.6" height="165.7" fill="#fff" fill-opacity="0.05"/>
<rect x="126.4" y="38" width="0.6" height="165.7" fill="#fff" fill-opacity="0.05"/>
<rect x="128.6" y="38" width="0.6" height="165.7" fill="#fff" fill-opacity="0.06"/>
<rect x="129.9" y="38" width="0.6" height="165.7" fill="#fff" fill-opacity="0.10"/>
<rect x="132.6" y="38" width="0.6" height="165.7" fill="#fff" fill-opacity="0.05"/>
<rect x="135.2" y="38" width="0.6" height="165.7" fill="#fff" fill-opacity="0.07"/>
<rect x="46.00" y="35.70" width="90.00" height="2.00" fill="url(#hdr)"/>
<line x1="86.3" y1="38" x2="86.3" y2="203.7" stroke="#fff" stroke-opacity="0.25" stroke-width="0.5"/>
<line x1="116" y1="38" x2="116" y2="203.7" stroke="#fff" stroke-opacity="0.2" stroke-width="0.5"/>
<text transform="translate(61.20,31.00) rotate(-45)" font-size="6.4" fill="#2a2a2a">actTregs</text>
<text transform="translate(88.20,31.00) rotate(-45)" font-size="6.4" fill="#2a2a2a">restTregs</text>
<text transform="translate(119.00,27.00) rotate(-50)" font-size="6.4" fill="#2a2a2a">LAG3<tspan dy="-2.2" font-size="4.4">+</tspan></text>
<text transform="translate(124.40,31.80) rotate(-48)" font-size="6.4" fill="#2a2a2a">Tregs</text>
<text x="42.30" y="45.60" font-size="6.8" text-anchor="end" font-style="italic" fill="#444" textLength="20.33" lengthAdjust="spacingAndGlyphs" >FOXP3</text>
<rect x="43.90" y="43.00" width="1.10" height="1.10" fill="#222"/>
<text x="42.30" y="52.90" font-size="6.8" text-anchor="end" font-style="italic" fill="#444" textLength="27.90" lengthAdjust="spacingAndGlyphs" >TNFRSF4</text>
<rect x="43.90" y="51.30" width="1.10" height="1.10" fill="#222"/>
<text x="42.30" y="58.00" font-size="6.8" text-anchor="end" font-style="italic" fill="#444" textLength="20.67" lengthAdjust="spacingAndGlyphs" >DUSP2</text>
<rect x="43.90" y="53.80" width="1.10" height="1.10" fill="#222"/>
<rect x="43.90" y="55.30" width="1.10" height="1.10" fill="#222"/>
<text x="42.30" y="63.30" font-size="6.8" text-anchor="end" font-style="italic" fill="#444" textLength="13.43" lengthAdjust="spacingAndGlyphs" >IRF1</text>
<rect x="43.90" y="58.10" width="1.10" height="1.10" fill="#222"/>
<text x="42.30" y="72.90" font-size="6.8" text-anchor="end" font-style="italic" fill="#444" textLength="16.19" lengthAdjust="spacingAndGlyphs" >JUNB</text>
<rect x="43.90" y="70.00" width="1.10" height="1.10" fill="#222"/>
<text x="42.30" y="92.60" font-size="6.8" text-anchor="end" font-style="italic" fill="#444" textLength="31.35" lengthAdjust="spacingAndGlyphs" >TNFRSF18</text>
<rect x="43.90" y="89.70" width="1.10" height="1.10" fill="#222"/>
<text x="42.30" y="107.00" font-size="6.8" text-anchor="end" font-style="italic" fill="#444" textLength="24.01" lengthAdjust="spacingAndGlyphs" >HSPA1A</text>
<rect x="43.90" y="106.10" width="1.10" height="1.10" fill="#222"/>
<text x="42.30" y="112.80" font-size="6.8" text-anchor="end" font-style="italic" fill="#444" textLength="24.01" lengthAdjust="spacingAndGlyphs" >HSPA1B</text>
<rect x="43.90" y="107.80" width="1.10" height="1.10" fill="#222"/>
<text x="42.30" y="129.60" font-size="6.8" text-anchor="end" font-style="italic" fill="#444" textLength="16.88" lengthAdjust="spacingAndGlyphs" >IKZF2</text>
<rect x="43.90" y="126.70" width="1.10" height="1.10" fill="#222"/>
<text x="42.30" y="140.30" font-size="6.8" text-anchor="end" font-style="italic" fill="#444" textLength="15.85" lengthAdjust="spacingAndGlyphs" >LAG3</text>
<rect x="43.90" y="140.10" width="1.10" height="1.10" fill="#222"/>
<text x="42.30" y="145.00" font-size="6.8" text-anchor="end" font-style="italic" fill="#444" textLength="19.64" lengthAdjust="spacingAndGlyphs" >KLRB1</text>
<rect x="43.90" y="141.80" width="1.10" height="1.10" fill="#222"/>
<text x="42.30" y="153.20" font-size="6.8" text-anchor="end" font-style="italic" fill="#444" textLength="12.07" lengthAdjust="spacingAndGlyphs" >IL10</text>
<rect x="43.90" y="150.30" width="1.10" height="1.10" fill="#222"/>
<text x="42.30" y="169.20" font-size="6.8" text-anchor="end" font-style="italic" fill="#444" textLength="16.88" lengthAdjust="spacingAndGlyphs" >IKZF3</text>
<rect x="43.90" y="166.30" width="1.10" height="1.10" fill="#222"/>
<text x="42.30" y="185.00" font-size="6.8" text-anchor="end" font-style="italic" fill="#444" textLength="21.02" lengthAdjust="spacingAndGlyphs" >PDCD1</text>
<rect x="43.90" y="182.10" width="1.10" height="1.10" fill="#222"/>
<text x="42.30" y="197.40" font-size="6.8" text-anchor="end" font-style="italic" fill="#444" textLength="15.16" lengthAdjust="spacingAndGlyphs" >ICOS</text>
<rect x="43.90" y="194.50" width="1.10" height="1.10" fill="#222"/>
<text x="141.40" y="163.60" font-size="6.5" text-anchor="start" fill="#333" textLength="28.00" lengthAdjust="spacingAndGlyphs" >Expression</text>
<rect x="148.20" y="166.60" width="8.90" height="37.00" fill="url(#cb)"/>
<text x="159.20" y="171.90" font-size="6" text-anchor="start" fill="#333" >2</text>
<text x="159.20" y="179.00" font-size="6" text-anchor="start" fill="#333" >1</text>
<text x="159.20" y="186.50" font-size="6" text-anchor="start" fill="#333" >0</text>
<text x="158.30" y="194.30" font-size="6" text-anchor="start" fill="#333" >−1</text>
<text x="158.30" y="202.20" font-size="6" text-anchor="start" fill="#333" >−2</text>
<text x="183.00" y="15.80" font-size="11" text-anchor="start" font-weight="bold" fill="#000" >B</text>
<text x="292.20" y="35.20" font-size="7.8" text-anchor="middle" fill="#333" textLength="71.50" lengthAdjust="spacingAndGlyphs" >scRNA-seq datasets</text>
<line x1="206.30" y1="39.60" x2="377.80" y2="39.60" stroke="#333" stroke-width="1"/>
<text x="240.80" y="49.80" font-size="7.8" text-anchor="middle" fill="#333" textLength="30.70" lengthAdjust="spacingAndGlyphs" >this work</text>
<text x="342.60" y="49.60" font-size="7.8" text-anchor="middle" fill="#333" textLength="58.00" lengthAdjust="spacingAndGlyphs" >external datasets</text>
<line x1="207.60" y1="61.30" x2="207.60" y2="150.10" stroke="#222" stroke-width="1"/>
<line x1="205.40" y1="149.60" x2="207.60" y2="149.60" stroke="#222" stroke-width="0.9"/>
<text x="202.40" y="151.96" font-size="6.6" text-anchor="end" fill="#3a3a3a" textLength="3.38" lengthAdjust="spacingAndGlyphs" >0</text>
<line x1="205.40" y1="128.05" x2="207.60" y2="128.05" stroke="#222" stroke-width="0.9"/>
<text x="202.40" y="130.41" font-size="6.6" text-anchor="end" fill="#3a3a3a" textLength="6.76" lengthAdjust="spacingAndGlyphs" >20</text>
<line x1="205.40" y1="106.50" x2="207.60" y2="106.50" stroke="#222" stroke-width="0.9"/>
<text x="202.40" y="108.86" font-size="6.6" text-anchor="end" fill="#3a3a3a" textLength="6.76" lengthAdjust="spacingAndGlyphs" >40</text>
<line x1="205.40" y1="84.95" x2="207.60" y2="84.95" stroke="#222" stroke-width="0.9"/>
<text x="202.40" y="87.31" font-size="6.6" text-anchor="end" fill="#3a3a3a" textLength="6.76" lengthAdjust="spacingAndGlyphs" >60</text>
<line x1="205.40" y1="63.40" x2="207.60" y2="63.40" stroke="#222" stroke-width="0.9"/>
<text x="202.40" y="65.76" font-size="6.6" text-anchor="end" fill="#3a3a3a" textLength="6.76" lengthAdjust="spacingAndGlyphs" >80</text>
<line x1="207.60" y1="149.60" x2="274.00" y2="149.60" stroke="#222" stroke-width="1"/>
<rect x="216.00" y="147.90" width="12.80" height="1.70" fill="#d0103c"/>
<rect x="216.00" y="143.50" width="12.80" height="4.40" fill="#1d4f91"/>
<rect x="216.00" y="117.40" width="12.80" height="26.10" fill="#3cb043"/>
<line x1="222.40" y1="111.30" x2="222.40" y2="117.40" stroke="#222" stroke-width="0.8"/>
<line x1="219.15" y1="111.30" x2="225.65" y2="111.30" stroke="#222" stroke-width="0.9"/>
<line x1="222.40" y1="149.60" x2="222.40" y2="151.40" stroke="#222" stroke-width="0.8"/>
<text x="222.40" y="161.10" font-size="6.5" text-anchor="middle" fill="#333" textLength="18.03" lengthAdjust="spacingAndGlyphs" >Tonsils</text>
<rect x="236.20" y="130.50" width="13.20" height="19.10" fill="#d0103c"/>
<rect x="236.20" y="102.30" width="13.20" height="28.20" fill="#1d4f91"/>
<rect x="236.20" y="93.90" width="13.20" height="8.40" fill="#3cb043"/>
<line x1="242.80" y1="78.00" x2="242.80" y2="102.00" stroke="#222" stroke-width="0.8"/>
<line x1="238.90" y1="78.00" x2="246.70" y2="78.00" stroke="#222" stroke-width="0.9"/>
<line x1="242.80" y1="83.70" x2="242.80" y2="84.00" stroke="#222" stroke-width="0.8"/>
<line x1="238.90" y1="83.70" x2="246.70" y2="83.70" stroke="#222" stroke-width="0.9"/>
<line x1="242.80" y1="120.50" x2="242.80" y2="130.50" stroke="#222" stroke-width="0.8"/>
<line x1="239.30" y1="120.50" x2="246.30" y2="120.50" stroke="#222" stroke-width="0.9"/>
<line x1="242.80" y1="149.60" x2="242.80" y2="151.40" stroke="#222" stroke-width="0.8"/>
<text x="242.80" y="161.10" font-size="6.5" text-anchor="middle" fill="#333" textLength="6.88" lengthAdjust="spacingAndGlyphs" >FL</text>
<rect x="257.20" y="136.50" width="13.40" height="13.10" fill="#d0103c"/>
<rect x="257.20" y="131.70" width="13.40" height="4.80" fill="#1d4f91"/>
<rect x="257.20" y="131.00" width="13.40" height="0.70" fill="#3cb043"/>
<line x1="263.90" y1="127.50" x2="263.90" y2="136.00" stroke="#222" stroke-width="0.8"/>
<line x1="260.65" y1="127.50" x2="267.15" y2="127.50" stroke="#222" stroke-width="0.9"/>
<line x1="263.90" y1="129.60" x2="263.90" y2="129.80" stroke="#222" stroke-width="0.8"/>
<line x1="260.90" y1="129.60" x2="266.90" y2="129.60" stroke="#222" stroke-width="0.9"/>
<line x1="263.90" y1="149.60" x2="263.90" y2="151.40" stroke="#222" stroke-width="0.8"/>
<text x="263.90" y="161.10" font-size="6.5" text-anchor="middle" fill="#333" textLength="19.02" lengthAdjust="spacingAndGlyphs" >DLBCL</text>
<text transform="translate(192.54,103.30) rotate(-90)" x="0" y="0" font-size="8.4" text-anchor="middle" font-weight="bold" fill="#3a3a3a" textLength="89.00" lengthAdjust="spacingAndGlyphs">Treg subset (% of CD4<tspan dy="-2.4" font-size="5">+</tspan><tspan dy="2.4"> T cells)</tspan></text>
<line x1="309.60" y1="61.30" x2="309.60" y2="150.20" stroke="#222" stroke-width="1"/>
<line x1="307.40" y1="149.70" x2="309.60" y2="149.70" stroke="#222" stroke-width="0.9"/>
<text x="304.40" y="152.06" font-size="6.6" text-anchor="end" fill="#3a3a3a" textLength="3.38" lengthAdjust="spacingAndGlyphs" >0</text>
<line x1="307.40" y1="128.12" x2="309.60" y2="128.12" stroke="#222" stroke-width="0.9"/>
<text x="304.40" y="130.49" font-size="6.6" text-anchor="end" fill="#3a3a3a" textLength="6.76" lengthAdjust="spacingAndGlyphs" >20</text>
<line x1="307.40" y1="106.55" x2="309.60" y2="106.55" stroke="#222" stroke-width="0.9"/>
<text x="304.40" y="108.91" font-size="6.6" text-anchor="end" fill="#3a3a3a" textLength="6.76" lengthAdjust="spacingAndGlyphs" >40</text>
<line x1="307.40" y1="84.97" x2="309.60" y2="84.97" stroke="#222" stroke-width="0.9"/>
<text x="304.40" y="87.34" font-size="6.6" text-anchor="end" fill="#3a3a3a" textLength="6.76" lengthAdjust="spacingAndGlyphs" >60</text>
<line x1="307.40" y1="63.40" x2="309.60" y2="63.40" stroke="#222" stroke-width="0.9"/>
<text x="304.40" y="65.76" font-size="6.6" text-anchor="end" fill="#3a3a3a" textLength="6.76" lengthAdjust="spacingAndGlyphs" >80</text>
<line x1="309.60" y1="149.70" x2="375.50" y2="149.70" stroke="#222" stroke-width="1"/>
<rect x="317.10" y="141.60" width="13.10" height="8.10" fill="#d0103c"/>
<rect x="317.10" y="134.20" width="13.10" height="7.40" fill="#1d4f91"/>
<rect x="317.10" y="107.10" width="13.10" height="27.10" fill="#3cb043"/>
<line x1="323.65" y1="94.10" x2="323.65" y2="107.10" stroke="#222" stroke-width="0.8"/>
<line x1="319.90" y1="94.10" x2="327.40" y2="94.10" stroke="#222" stroke-width="0.9"/>
<line x1="323.65" y1="128.60" x2="323.65" y2="136.60" stroke="#222" stroke-width="0.8"/>
<line x1="320.40" y1="128.60" x2="326.90" y2="128.60" stroke="#222" stroke-width="0.9"/>
<line x1="323.65" y1="136.40" x2="323.65" y2="136.60" stroke="#222" stroke-width="0.8"/>
<line x1="321.15" y1="136.40" x2="326.15" y2="136.40" stroke="#222" stroke-width="0.9"/>
<line x1="323.65" y1="149.70" x2="323.65" y2="151.50" stroke="#222" stroke-width="0.8"/>
<text x="323.65" y="161.10" font-size="6.5" text-anchor="middle" fill="#333" textLength="18.03" lengthAdjust="spacingAndGlyphs" >Tonsils</text>
<rect x="338.20" y="129.50" width="12.50" height="20.20" fill="#d0103c"/>
<rect x="338.20" y="115.50" width="12.50" height="14.00" fill="#1d4f91"/>
<rect x="338.20" y="110.90" width="12.50" height="4.60" fill="#3cb043"/>
<line x1="344.45" y1="108.00" x2="344.45" y2="128.60" stroke="#222" stroke-width="0.8"/>
<line x1="340.70" y1="108.00" x2="348.20" y2="108.00" stroke="#222" stroke-width="0.9"/>
<line x1="344.45" y1="115.50" x2="344.45" y2="115.60" stroke="#222" stroke-width="0.8"/>
<line x1="340.95" y1="115.50" x2="347.95" y2="115.50" stroke="#222" stroke-width="0.9"/>
<line x1="344.45" y1="149.70" x2="344.45" y2="151.50" stroke="#222" stroke-width="0.8"/>
<text x="344.45" y="161.10" font-size="6.5" text-anchor="middle" fill="#333" textLength="6.88" lengthAdjust="spacingAndGlyphs" >FL</text>
<rect x="359.10" y="125.80" width="12.70" height="23.90" fill="#d0103c"/>
<rect x="359.10" y="113.70" width="12.70" height="12.10" fill="#1d4f91"/>
<line x1="365.45" y1="107.70" x2="365.45" y2="125.00" stroke="#222" stroke-width="0.8"/>
<line x1="361.70" y1="107.70" x2="369.20" y2="107.70" stroke="#222" stroke-width="0.9"/>
<line x1="365.45" y1="111.80" x2="365.45" y2="112.00" stroke="#222" stroke-width="0.8"/>
<line x1="362.45" y1="111.80" x2="368.45" y2="111.80" stroke="#222" stroke-width="0.9"/>
<line x1="365.45" y1="149.70" x2="365.45" y2="151.50" stroke="#222" stroke-width="0.8"/>
<text x="365.45" y="161.10" font-size="6.5" text-anchor="middle" fill="#333" textLength="19.02" lengthAdjust="spacingAndGlyphs" >DLBCL</text>
<text transform="translate(292.64,103.30) rotate(-90)" x="0" y="0" font-size="8.4" text-anchor="middle" font-weight="bold" fill="#3a3a3a" textLength="89.00" lengthAdjust="spacingAndGlyphs">Treg subset (% of CD4<tspan dy="-2.4" font-size="5">+</tspan><tspan dy="2.4"> T cells)</tspan></text>
<line x1="240.30" y1="164.90" x2="277.20" y2="164.90" stroke="#333" stroke-width="1"/>
<text x="258.70" y="173.60" font-size="6.5" text-anchor="middle" fill="#333" textLength="28.97" lengthAdjust="spacingAndGlyphs" >Lymphoma</text>
<line x1="342.50" y1="164.90" x2="378.50" y2="164.90" stroke="#333" stroke-width="1"/>
<text x="360.50" y="173.60" font-size="6.5" text-anchor="middle" fill="#333" textLength="28.97" lengthAdjust="spacingAndGlyphs" >Lymphoma</text>
<rect x="225.80" y="184.50" width="8.50" height="5.60" fill="#d0103c"/>
<text x="237.00" y="189.50" font-size="6.5" text-anchor="start" fill="#333" textLength="22.30" lengthAdjust="spacingAndGlyphs" >actTregs</text>
<rect x="272.00" y="184.50" width="8.40" height="5.60" fill="#1d4f91"/>
<text x="283.00" y="189.50" font-size="6.5" text-anchor="start" fill="#333" textLength="23.60" lengthAdjust="spacingAndGlyphs" >restTregs</text>
<rect x="319.70" y="184.50" width="8.20" height="5.60" fill="#3cb043"/>
<text x="330.50" y="189.50" font-size="6.5" text-anchor="start" fill="#333" textLength="33.30" lengthAdjust="spacingAndGlyphs" >LAG3<tspan dy="-2.2" font-size="4.4">+</tspan><tspan dy="2.2"> Tregs</tspan></text>
<text x="389.70" y="16.20" font-size="11" text-anchor="start" font-weight="bold" fill="#000" >C</text>
<text x="463.40" y="30.40" font-size="7.8" text-anchor="middle" fill="#333" textLength="54.70" lengthAdjust="spacingAndGlyphs" >Treg abundance</text>
<text x="463.40" y="39.70" font-size="7.8" text-anchor="middle" fill="#333" textLength="79.20" lengthAdjust="spacingAndGlyphs" >in scRNA-seq datasets</text>
<line x1="416.30" y1="52.50" x2="416.30" y2="151.30" stroke="#222" stroke-width="1"/>
<line x1="416.30" y1="150.80" x2="510.80" y2="150.80" stroke="#222" stroke-width="1"/>
<line x1="414.10" y1="150.80" x2="416.30" y2="150.80" stroke="#222" stroke-width="0.9"/>
<text x="410.10" y="153.16" font-size="6.6" text-anchor="end" fill="#3a3a3a" textLength="3.38" lengthAdjust="spacingAndGlyphs" >0</text>
<line x1="416.30" y1="150.80" x2="416.30" y2="153.00" stroke="#222" stroke-width="0.9"/>
<text x="416.30" y="162.16" font-size="6.6" text-anchor="middle" fill="#3a3a3a" textLength="3.38" lengthAdjust="spacingAndGlyphs" >0</text>
<line x1="414.10" y1="131.32" x2="416.30" y2="131.32" stroke="#222" stroke-width="0.9"/>
<text x="410.10" y="133.68" font-size="6.6" text-anchor="end" fill="#3a3a3a" textLength="6.76" lengthAdjust="spacingAndGlyphs" >20</text>
<line x1="434.64" y1="150.80" x2="434.64" y2="153.00" stroke="#222" stroke-width="0.9"/>
<text x="434.64" y="162.16" font-size="6.6" text-anchor="middle" fill="#3a3a3a" textLength="6.76" lengthAdjust="spacingAndGlyphs" >20</text>
<line x1="414.10" y1="111.84" x2="416.30" y2="111.84" stroke="#222" stroke-width="0.9"/>
<text x="410.10" y="114.20" font-size="6.6" text-anchor="end" fill="#3a3a3a" textLength="6.76" lengthAdjust="spacingAndGlyphs" >40</text>
<line x1="452.98" y1="150.80" x2="452.98" y2="153.00" stroke="#222" stroke-width="0.9"/>
<text x="452.98" y="162.16" font-size="6.6" text-anchor="middle" fill="#3a3a3a" textLength="6.76" lengthAdjust="spacingAndGlyphs" >40</text>
<line x1="414.10" y1="92.36" x2="416.30" y2="92.36" stroke="#222" stroke-width="0.9"/>
<text x="410.10" y="94.72" font-size="6.6" text-anchor="end" fill="#3a3a3a" textLength="6.76" lengthAdjust="spacingAndGlyphs" >60</text>
<line x1="471.32" y1="150.80" x2="471.32" y2="153.00" stroke="#222" stroke-width="0.9"/>
<text x="471.32" y="162.16" font-size="6.6" text-anchor="middle" fill="#3a3a3a" textLength="6.76" lengthAdjust="spacingAndGlyphs" >60</text>
<line x1="414.10" y1="72.88" x2="416.30" y2="72.88" stroke="#222" stroke-width="0.9"/>
<text x="410.10" y="75.24" font-size="6.6" text-anchor="end" fill="#3a3a3a" textLength="6.76" lengthAdjust="spacingAndGlyphs" >80</text>
<line x1="489.66" y1="150.80" x2="489.66" y2="153.00" stroke="#222" stroke-width="0.9"/>
<text x="489.66" y="162.16" font-size="6.6" text-anchor="middle" fill="#3a3a3a" textLength="6.76" lengthAdjust="spacingAndGlyphs" >80</text>
<line x1="414.10" y1="53.40" x2="416.30" y2="53.40" stroke="#222" stroke-width="0.9"/>
<text x="410.10" y="55.76" font-size="6.6" text-anchor="end" fill="#3a3a3a" textLength="10.14" lengthAdjust="spacingAndGlyphs" >100</text>
<line x1="508.00" y1="150.80" x2="508.00" y2="153.00" stroke="#222" stroke-width="0.9"/>
<text x="508.00" y="162.16" font-size="6.6" text-anchor="middle" fill="#3a3a3a" textLength="10.14" lengthAdjust="spacingAndGlyphs" >100</text>
<text transform="translate(394.94,101.20) rotate(-90)" x="0" y="0" font-size="8.4" text-anchor="middle" font-weight="bold" fill="#2a2a2a" textLength="85.00" lengthAdjust="spacingAndGlyphs">% of Tregs in external datasets</text>
<text x="463.80" y="173.50" font-size="9" text-anchor="middle" font-weight="bold" textLength="64.70" lengthAdjust="spacingAndGlyphs" >% of Tregs in this work</text>
<text x="425.20" y="75.80" font-size="6" text-anchor="start" font-style="italic" fill="#333" textLength="23.60" lengthAdjust="spacingAndGlyphs" >r = 0.96</text>
<text x="425.20" y="82.80" font-size="6" text-anchor="start" font-style="italic" fill="#333" textLength="25.60" lengthAdjust="spacingAndGlyphs" >P &lt; .0001</text>
<line x1="416.30" y1="141.80" x2="489.00" y2="88.30" stroke="#222" stroke-width="0.7"/>
<rect x="415.20" y="147.80" width="3.60" height="3.60" fill="#3aa83c"/>
<circle cx="416.6" cy="149.8" r="1.8" fill="#3aa83c"/>
<polygon points="425,139.40 427.30,143.40 422.70,143.40" fill="#3aa83c"/>
<circle cx="428.5" cy="135.7" r="2.1" fill="#c8102e"/>
<circle cx="428.2" cy="127.9" r="2.1" fill="#1d4f91"/>
<rect x="433.10" y="116.30" width="4.00" height="4.00" fill="#1d4f91"/>
<polygon points="457.2,108.00 459.50,112.00 454.90,112.00" fill="#1d4f91"/>
<polygon points="457.2,102.50 459.50,106.50 454.90,106.50" fill="#c8102e"/>
<circle cx="483.1" cy="92.4" r="2.1" fill="#3aa83c"/>
<rect x="486.30" y="85.70" width="4.00" height="4.00" fill="#c8102e"/>
<circle cx="482.2" cy="124.6" r="1.9" fill="#111"/>
<text x="487.10" y="127.00" font-size="6.4" text-anchor="start" fill="#3a3a3a" textLength="17.00" lengthAdjust="spacingAndGlyphs" >Tonsils</text>
<polygon points="482.2,129.91 484.30,133.56 480.10,133.56" fill="#111"/>
<text x="487.10" y="134.50" font-size="6.4" text-anchor="start" fill="#3a3a3a" textLength="6.20" lengthAdjust="spacingAndGlyphs" >FL</text>
<rect x="480.40" y="138.20" width="3.60" height="3.60" fill="#111"/>
<text x="487.10" y="142.40" font-size="6.4" text-anchor="start" fill="#3a3a3a" textLength="19.50" lengthAdjust="spacingAndGlyphs" >DLBCL</text>
<text x="8.20" y="228.00" font-size="10.5" text-anchor="start" font-weight="bold" fill="#000" >D</text>
<text x="27.7" y="233.9" font-size="7.8" fill="#222" textLength="188.6" lengthAdjust="spacingAndGlyphs">FL bulk gene expression dataset, <tspan font-style="italic">Haematologica 2019</tspan></text>
<line x1="31.80" y1="241.00" x2="31.80" y2="342.30" stroke="#222" stroke-width="1"/>
<line x1="29.60" y1="341.80" x2="31.80" y2="341.80" stroke="#222" stroke-width="0.9"/>
<text x="25.40" y="344.16" font-size="6.6" text-anchor="end" fill="#3a3a3a" textLength="3.38" lengthAdjust="spacingAndGlyphs" >0</text>
<line x1="29.60" y1="321.94" x2="31.80" y2="321.94" stroke="#222" stroke-width="0.9"/>
<text x="25.40" y="324.30" font-size="6.6" text-anchor="end" fill="#3a3a3a" textLength="6.76" lengthAdjust="spacingAndGlyphs" >10</text>
<line x1="29.60" y1="302.08" x2="31.80" y2="302.08" stroke="#222" stroke-width="0.9"/>
<text x="25.40" y="304.44" font-size="6.6" text-anchor="end" fill="#3a3a3a" textLength="6.76" lengthAdjust="spacingAndGlyphs" >20</text>
<line x1="29.60" y1="282.22" x2="31.80" y2="282.22" stroke="#222" stroke-width="0.9"/>
<text x="25.40" y="284.58" font-size="6.6" text-anchor="end" fill="#3a3a3a" textLength="6.76" lengthAdjust="spacingAndGlyphs" >30</text>
<line x1="29.60" y1="262.36" x2="31.80" y2="262.36" stroke="#222" stroke-width="0.9"/>
<text x="25.40" y="264.72" font-size="6.6" text-anchor="end" fill="#3a3a3a" textLength="6.76" lengthAdjust="spacingAndGlyphs" >40</text>
<line x1="29.60" y1="242.50" x2="31.80" y2="242.50" stroke="#222" stroke-width="0.9"/>
<text x="25.40" y="244.86" font-size="6.6" text-anchor="end" fill="#3a3a3a" textLength="6.76" lengthAdjust="spacingAndGlyphs" >50</text>
<line x1="31.80" y1="341.80" x2="102.30" y2="341.80" stroke="#222" stroke-width="1"/>
<line x1="46.00" y1="317.37" x2="46.00" y2="341.80" stroke="#1d4f91" stroke-width="0.9"/>
<line x1="42.60" y1="317.37" x2="49.40" y2="317.37" stroke="#333" stroke-width="0.9"/>
<circle cx="45.74" cy="330.44" r="1.05" fill="#1d4f91"/>
<circle cx="42.72" cy="333.15" r="1.05" fill="#1d4f91"/>
<circle cx="42.42" cy="333.76" r="1.05" fill="#1d4f91"/>
<circle cx="47.12" cy="328.32" r="1.05" fill="#1d4f91"/>
<circle cx="48.10" cy="333.12" r="1.05" fill="#1d4f91"/>
<circle cx="44.44" cy="341.80" r="1.05" fill="#1d4f91"/>
<circle cx="47.31" cy="338.96" r="1.05" fill="#1d4f91"/>
<circle cx="42.08" cy="336.00" r="1.05" fill="#1d4f91"/>
<circle cx="47.24" cy="333.99" r="1.05" fill="#1d4f91"/>
<circle cx="42.55" cy="336.69" r="1.05" fill="#1d4f91"/>
<circle cx="46.10" cy="335.13" r="1.05" fill="#1d4f91"/>
<circle cx="44.80" cy="327.03" r="1.05" fill="#1d4f91"/>
<circle cx="46.33" cy="341.80" r="1.05" fill="#1d4f91"/>
<circle cx="42.84" cy="329.39" r="1.05" fill="#1d4f91"/>
<circle cx="45.84" cy="330.37" r="1.05" fill="#1d4f91"/>
<circle cx="47.21" cy="331.90" r="1.05" fill="#1d4f91"/>
<circle cx="41.98" cy="334.58" r="1.05" fill="#1d4f91"/>
<circle cx="43.90" cy="334.36" r="1.05" fill="#1d4f91"/>
<circle cx="47.93" cy="332.99" r="1.05" fill="#1d4f91"/>
<circle cx="46.50" cy="333.54" r="1.05" fill="#1d4f91"/>
<circle cx="47.15" cy="337.96" r="1.05" fill="#1d4f91"/>
<circle cx="48.77" cy="331.08" r="1.05" fill="#1d4f91"/>
<circle cx="46.68" cy="338.42" r="1.05" fill="#1d4f91"/>
<circle cx="42.95" cy="334.84" r="1.05" fill="#1d4f91"/>
<circle cx="45.39" cy="336.29" r="1.05" fill="#1d4f91"/>
<circle cx="48.73" cy="339.91" r="1.05" fill="#1d4f91"/>
<circle cx="46.69" cy="331.89" r="1.05" fill="#1d4f91"/>
<circle cx="48.78" cy="334.97" r="1.05" fill="#1d4f91"/>
<circle cx="44.88" cy="339.97" r="1.05" fill="#1d4f91"/>
<circle cx="45.43" cy="335.01" r="1.05" fill="#1d4f91"/>
<circle cx="49.43" cy="340.94" r="1.05" fill="#1d4f91"/>
<circle cx="48.41" cy="328.10" r="1.05" fill="#1d4f91"/>
<circle cx="47.61" cy="332.29" r="1.05" fill="#1d4f91"/>
<circle cx="43.99" cy="325.59" r="1.05" fill="#1d4f91"/>
<circle cx="47.15" cy="337.24" r="1.05" fill="#1d4f91"/>
<circle cx="41.28" cy="331.43" r="1.05" fill="#1d4f91"/>
<circle cx="49.91" cy="339.07" r="1.05" fill="#1d4f91"/>
<circle cx="50.44" cy="338.53" r="1.05" fill="#1d4f91"/>
<circle cx="48.50" cy="335.06" r="1.05" fill="#1d4f91"/>
<circle cx="43.51" cy="332.78" r="1.05" fill="#1d4f91"/>
<circle cx="49.27" cy="330.44" r="1.05" fill="#1d4f91"/>
<circle cx="42.51" cy="335.87" r="1.05" fill="#1d4f91"/>
<circle cx="48.90" cy="329.62" r="1.05" fill="#1d4f91"/>
<circle cx="46.19" cy="330.25" r="1.05" fill="#1d4f91"/>
<circle cx="41.48" cy="338.64" r="1.05" fill="#1d4f91"/>
<circle cx="50.25" cy="335.46" r="1.05" fill="#1d4f91"/>
<circle cx="45.45" cy="338.82" r="1.05" fill="#1d4f91"/>
<circle cx="48.09" cy="326.88" r="1.05" fill="#1d4f91"/>
<circle cx="47.94" cy="337.16" r="1.05" fill="#1d4f91"/>
<circle cx="46.31" cy="330.62" r="1.05" fill="#1d4f91"/>
<circle cx="49.44" cy="330.49" r="1.05" fill="#1d4f91"/>
<circle cx="42.79" cy="335.81" r="1.05" fill="#1d4f91"/>
<circle cx="50.16" cy="336.87" r="1.05" fill="#1d4f91"/>
<circle cx="44.26" cy="333.08" r="1.05" fill="#1d4f91"/>
<circle cx="41.42" cy="338.18" r="1.05" fill="#1d4f91"/>
<circle cx="44.72" cy="340.41" r="1.05" fill="#1d4f91"/>
<circle cx="42.09" cy="339.05" r="1.05" fill="#1d4f91"/>
<circle cx="41.37" cy="333.11" r="1.05" fill="#1d4f91"/>
<circle cx="47.36" cy="333.78" r="1.05" fill="#1d4f91"/>
<circle cx="43.69" cy="326.63" r="1.05" fill="#1d4f91"/>
<circle cx="43.80" cy="341.80" r="1.05" fill="#1d4f91"/>
<circle cx="43.81" cy="332.36" r="1.05" fill="#1d4f91"/>
<circle cx="44.17" cy="339.90" r="1.05" fill="#1d4f91"/>
<circle cx="49.63" cy="329.40" r="1.05" fill="#1d4f91"/>
<circle cx="50.11" cy="331.49" r="1.05" fill="#1d4f91"/>
<circle cx="50.07" cy="334.07" r="1.05" fill="#1d4f91"/>
<circle cx="49.60" cy="327.94" r="1.05" fill="#1d4f91"/>
<circle cx="45.36" cy="336.35" r="1.05" fill="#1d4f91"/>
<circle cx="49.06" cy="337.06" r="1.05" fill="#1d4f91"/>
<rect x="39.50" y="331.67" width="13.00" height="6.36" fill="none" stroke="#333" stroke-width="0.8"/>
<line x1="39.50" y1="335.05" x2="52.50" y2="335.05" stroke="#333" stroke-width="0.8"/>
<line x1="46.00" y1="341.80" x2="46.00" y2="343.60" stroke="#222" stroke-width="0.8"/>
<line x1="67.10" y1="289.37" x2="67.10" y2="341.80" stroke="#a01030" stroke-width="0.9"/>
<line x1="63.70" y1="289.37" x2="70.50" y2="289.37" stroke="#333" stroke-width="0.9"/>
<circle cx="64.06" cy="323.86" r="1.05" fill="#d0103c"/>
<circle cx="63.82" cy="319.53" r="1.05" fill="#d0103c"/>
<circle cx="67.32" cy="300.35" r="1.05" fill="#d0103c"/>
<circle cx="64.00" cy="312.06" r="1.05" fill="#d0103c"/>
<circle cx="66.93" cy="327.15" r="1.05" fill="#d0103c"/>
<circle cx="67.51" cy="315.94" r="1.05" fill="#d0103c"/>
<circle cx="66.46" cy="313.28" r="1.05" fill="#d0103c"/>
<circle cx="67.13" cy="308.30" r="1.05" fill="#d0103c"/>
<circle cx="70.48" cy="320.49" r="1.05" fill="#d0103c"/>
<circle cx="63.91" cy="327.21" r="1.05" fill="#d0103c"/>
<circle cx="70.39" cy="325.61" r="1.05" fill="#d0103c"/>
<circle cx="64.60" cy="309.50" r="1.05" fill="#d0103c"/>
<circle cx="63.90" cy="307.69" r="1.05" fill="#d0103c"/>
<circle cx="68.59" cy="328.62" r="1.05" fill="#d0103c"/>
<circle cx="67.84" cy="313.56" r="1.05" fill="#d0103c"/>
<circle cx="67.47" cy="320.93" r="1.05" fill="#d0103c"/>
<circle cx="64.00" cy="315.09" r="1.05" fill="#d0103c"/>
<circle cx="69.69" cy="310.79" r="1.05" fill="#d0103c"/>
<circle cx="65.02" cy="317.95" r="1.05" fill="#d0103c"/>
<circle cx="69.58" cy="316.82" r="1.05" fill="#d0103c"/>
<circle cx="65.83" cy="329.86" r="1.05" fill="#d0103c"/>
<circle cx="67.90" cy="316.23" r="1.05" fill="#d0103c"/>
<circle cx="67.88" cy="305.36" r="1.05" fill="#d0103c"/>
<circle cx="65.81" cy="320.42" r="1.05" fill="#d0103c"/>
<circle cx="66.89" cy="313.29" r="1.05" fill="#d0103c"/>
<circle cx="62.61" cy="312.76" r="1.05" fill="#d0103c"/>
<circle cx="67.43" cy="299.01" r="1.05" fill="#d0103c"/>
<circle cx="68.90" cy="322.15" r="1.05" fill="#d0103c"/>
<circle cx="64.07" cy="310.09" r="1.05" fill="#d0103c"/>
<circle cx="67.64" cy="318.04" r="1.05" fill="#d0103c"/>
<circle cx="69.66" cy="316.39" r="1.05" fill="#d0103c"/>
<circle cx="62.71" cy="316.12" r="1.05" fill="#d0103c"/>
<circle cx="69.10" cy="328.20" r="1.05" fill="#d0103c"/>
<circle cx="70.70" cy="311.60" r="1.05" fill="#d0103c"/>
<circle cx="62.68" cy="321.10" r="1.05" fill="#d0103c"/>
<circle cx="64.35" cy="314.73" r="1.05" fill="#d0103c"/>
<circle cx="63.50" cy="309.98" r="1.05" fill="#d0103c"/>
<circle cx="64.42" cy="317.55" r="1.05" fill="#d0103c"/>
<circle cx="64.25" cy="326.79" r="1.05" fill="#d0103c"/>
<circle cx="67.01" cy="323.62" r="1.05" fill="#d0103c"/>
<circle cx="64.68" cy="311.53" r="1.05" fill="#d0103c"/>
<circle cx="65.77" cy="307.30" r="1.05" fill="#d0103c"/>
<circle cx="66.94" cy="303.19" r="1.05" fill="#d0103c"/>
<circle cx="66.05" cy="324.75" r="1.05" fill="#d0103c"/>
<circle cx="70.26" cy="314.88" r="1.05" fill="#d0103c"/>
<circle cx="69.55" cy="315.29" r="1.05" fill="#d0103c"/>
<circle cx="63.29" cy="321.00" r="1.05" fill="#d0103c"/>
<circle cx="64.10" cy="317.53" r="1.05" fill="#d0103c"/>
<circle cx="62.63" cy="322.95" r="1.05" fill="#d0103c"/>
<circle cx="65.23" cy="315.16" r="1.05" fill="#d0103c"/>
<circle cx="63.02" cy="319.32" r="1.05" fill="#d0103c"/>
<circle cx="69.22" cy="318.03" r="1.05" fill="#d0103c"/>
<circle cx="68.77" cy="306.35" r="1.05" fill="#d0103c"/>
<circle cx="71.53" cy="323.29" r="1.05" fill="#d0103c"/>
<circle cx="63.90" cy="315.61" r="1.05" fill="#d0103c"/>
<circle cx="62.50" cy="320.79" r="1.05" fill="#d0103c"/>
<circle cx="69.81" cy="318.76" r="1.05" fill="#d0103c"/>
<circle cx="66.13" cy="316.79" r="1.05" fill="#d0103c"/>
<circle cx="71.84" cy="316.21" r="1.05" fill="#d0103c"/>
<circle cx="65.93" cy="314.73" r="1.05" fill="#d0103c"/>
<circle cx="65.29" cy="321.60" r="1.05" fill="#d0103c"/>
<circle cx="62.85" cy="311.98" r="1.05" fill="#d0103c"/>
<circle cx="70.87" cy="324.30" r="1.05" fill="#d0103c"/>
<circle cx="67.20" cy="324.44" r="1.05" fill="#d0103c"/>
<circle cx="66.55" cy="322.35" r="1.05" fill="#d0103c"/>
<circle cx="66.67" cy="307.64" r="1.05" fill="#d0103c"/>
<circle cx="68.94" cy="307.59" r="1.05" fill="#d0103c"/>
<circle cx="70.46" cy="320.10" r="1.05" fill="#d0103c"/>
<circle cx="67.01" cy="302.62" r="1.05" fill="#d0103c"/>
<circle cx="63.64" cy="313.94" r="1.05" fill="#d0103c"/>
<circle cx="66.46" cy="326.87" r="1.05" fill="#d0103c"/>
<circle cx="71.23" cy="313.33" r="1.05" fill="#d0103c"/>
<circle cx="66.28" cy="323.41" r="1.05" fill="#d0103c"/>
<circle cx="68.43" cy="324.56" r="1.05" fill="#d0103c"/>
<circle cx="67.29" cy="332.04" r="1.05" fill="#d0103c"/>
<circle cx="66.68" cy="315.15" r="1.05" fill="#d0103c"/>
<circle cx="67.89" cy="313.32" r="1.05" fill="#d0103c"/>
<circle cx="64.87" cy="323.64" r="1.05" fill="#d0103c"/>
<circle cx="67.67" cy="311.89" r="1.05" fill="#d0103c"/>
<circle cx="70.96" cy="313.38" r="1.05" fill="#d0103c"/>
<circle cx="62.85" cy="312.31" r="1.05" fill="#d0103c"/>
<circle cx="65.82" cy="311.64" r="1.05" fill="#d0103c"/>
<rect x="60.60" y="311.02" width="13.00" height="10.33" fill="none" stroke="#333" stroke-width="0.8"/>
<line x1="60.60" y1="316.58" x2="73.60" y2="316.58" stroke="#333" stroke-width="0.8"/>
<line x1="67.10" y1="341.80" x2="67.10" y2="343.60" stroke="#222" stroke-width="0.8"/>
<line x1="88.20" y1="317.77" x2="88.20" y2="341.80" stroke="#555" stroke-width="0.9"/>
<line x1="84.80" y1="317.77" x2="91.60" y2="317.77" stroke="#333" stroke-width="0.9"/>
<circle cx="92.01" cy="341.40" r="1.05" fill="#3cb043"/>
<circle cx="92.98" cy="341.40" r="1.05" fill="#3cb043"/>
<circle cx="83.33" cy="341.40" r="1.05" fill="#3cb043"/>
<circle cx="89.47" cy="341.40" r="1.05" fill="#3cb043"/>
<circle cx="89.52" cy="341.40" r="1.05" fill="#3cb043"/>
<circle cx="91.63" cy="341.40" r="1.05" fill="#3cb043"/>
<circle cx="87.90" cy="341.40" r="1.05" fill="#3cb043"/>
<circle cx="84.51" cy="341.40" r="1.05" fill="#3cb043"/>
<circle cx="86.20" cy="341.40" r="1.05" fill="#3cb043"/>
<circle cx="90.33" cy="341.40" r="1.05" fill="#3cb043"/>
<circle cx="90.48" cy="341.40" r="1.05" fill="#3cb043"/>
<circle cx="85.25" cy="341.40" r="1.05" fill="#3cb043"/>
<circle cx="89.63" cy="341.40" r="1.05" fill="#3cb043"/>
<circle cx="89.77" cy="341.40" r="1.05" fill="#3cb043"/>
<circle cx="89.78" cy="341.40" r="1.05" fill="#3cb043"/>
<circle cx="83.42" cy="341.40" r="1.05" fill="#3cb043"/>
<circle cx="87.62" cy="341.40" r="1.05" fill="#3cb043"/>
<circle cx="86.45" cy="341.40" r="1.05" fill="#3cb043"/>
<circle cx="89.17" cy="341.40" r="1.05" fill="#3cb043"/>
<circle cx="86.57" cy="341.40" r="1.05" fill="#3cb043"/>
<circle cx="84.48" cy="341.40" r="1.05" fill="#3cb043"/>
<circle cx="89.90" cy="341.40" r="1.05" fill="#3cb043"/>
<circle cx="86.07" cy="341.40" r="1.05" fill="#3cb043"/>
<circle cx="91.11" cy="341.40" r="1.05" fill="#3cb043"/>
<circle cx="86.26" cy="341.40" r="1.05" fill="#3cb043"/>
<circle cx="88.20" cy="327.89" r="1.05" fill="#3cb043"/>
<circle cx="88.20" cy="322.16" r="1.05" fill="#3cb043"/>
<line x1="88.20" y1="341.80" x2="88.20" y2="343.60" stroke="#222" stroke-width="0.8"/>
<line x1="43.50" y1="265.20" x2="65.70" y2="265.20" stroke="#222" stroke-width="0.9"/>
<text x="54.60" y="265.80" font-size="7.6" text-anchor="middle" font-weight="bold" >***</text>
<line x1="67.70" y1="265.20" x2="89.20" y2="265.20" stroke="#222" stroke-width="0.9"/>
<text x="78.45" y="265.80" font-size="7.6" text-anchor="middle" font-weight="bold" >***</text>
<text x="46.20" y="352.50" font-size="6.5" text-anchor="middle" fill="#333" textLength="9.83" lengthAdjust="spacingAndGlyphs" >rest</text>
<text x="67.10" y="352.50" font-size="6.5" text-anchor="middle" fill="#333" textLength="7.87" lengthAdjust="spacingAndGlyphs" >act</text>
<text x="86.50" y="352.50" font-size="6.5" text-anchor="middle" fill="#333" textLength="15.09" lengthAdjust="spacingAndGlyphs" >LAG3</text>
<text x="95.20" y="348.50" font-size="4.2" text-anchor="start" fill="#333" >+</text>
<rect x="80.70" y="340.60" width="13.50" height="1.40" fill="#3cb043"/>
<text transform="translate(13.07,292.00) rotate(-90)" x="0" y="0" font-size="8.2" text-anchor="middle" textLength="77.00" lengthAdjust="spacingAndGlyphs">Treg subset abundance (%)</text>
<line x1="142.80" y1="245.30" x2="142.80" y2="337.20" stroke="#222" stroke-width="1"/>
<line x1="140.60" y1="246.30" x2="142.80" y2="246.30" stroke="#222" stroke-width="0.9"/>
<text x="137.90" y="248.66" font-size="6.6" text-anchor="end" fill="#3a3a3a" textLength="10.14" lengthAdjust="spacingAndGlyphs" >100</text>
<line x1="140.60" y1="268.90" x2="142.80" y2="268.90" stroke="#222" stroke-width="0.9"/>
<text x="137.90" y="271.26" font-size="6.6" text-anchor="end" fill="#3a3a3a" textLength="6.76" lengthAdjust="spacingAndGlyphs" >75</text>
<line x1="140.60" y1="291.50" x2="142.80" y2="291.50" stroke="#222" stroke-width="0.9"/>
<text x="137.90" y="293.86" font-size="6.6" text-anchor="end" fill="#3a3a3a" textLength="6.76" lengthAdjust="spacingAndGlyphs" >50</text>
<line x1="140.60" y1="314.10" x2="142.80" y2="314.10" stroke="#222" stroke-width="0.9"/>
<text x="137.90" y="316.46" font-size="6.6" text-anchor="end" fill="#3a3a3a" textLength="6.76" lengthAdjust="spacingAndGlyphs" >25</text>
<line x1="140.60" y1="336.70" x2="142.80" y2="336.70" stroke="#222" stroke-width="0.9"/>
<text x="137.90" y="339.06" font-size="6.6" text-anchor="end" fill="#3a3a3a" textLength="3.38" lengthAdjust="spacingAndGlyphs" >0</text>
<line x1="142.80" y1="342.40" x2="235.00" y2="342.40" stroke="#222" stroke-width="1"/>
<line x1="147.30" y1="342.40" x2="147.30" y2="344.60" stroke="#222" stroke-width="0.9"/>
<text x="147.30" y="353.56" font-size="6.6" text-anchor="middle" fill="#3a3a3a" textLength="3.38" lengthAdjust="spacingAndGlyphs" >0</text>
<line x1="164.15" y1="342.40" x2="164.15" y2="344.60" stroke="#222" stroke-width="0.9"/>
<text x="164.15" y="353.56" font-size="6.6" text-anchor="middle" fill="#3a3a3a" textLength="3.38" lengthAdjust="spacingAndGlyphs" >1</text>
<line x1="181.00" y1="342.40" x2="181.00" y2="344.60" stroke="#222" stroke-width="0.9"/>
<text x="181.00" y="353.56" font-size="6.6" text-anchor="middle" fill="#3a3a3a" textLength="3.38" lengthAdjust="spacingAndGlyphs" >2</text>
<line x1="197.85" y1="342.40" x2="197.85" y2="344.60" stroke="#222" stroke-width="0.9"/>
<text x="197.85" y="353.56" font-size="6.6" text-anchor="middle" fill="#3a3a3a" textLength="3.38" lengthAdjust="spacingAndGlyphs" >3</text>
<line x1="214.70" y1="342.40" x2="214.70" y2="344.60" stroke="#222" stroke-width="0.9"/>
<text x="214.70" y="353.56" font-size="6.6" text-anchor="middle" fill="#3a3a3a" textLength="3.38" lengthAdjust="spacingAndGlyphs" >4</text>
<line x1="231.55" y1="342.40" x2="231.55" y2="344.60" stroke="#222" stroke-width="0.9"/>
<text x="231.55" y="353.56" font-size="6.6" text-anchor="middle" fill="#3a3a3a" textLength="3.38" lengthAdjust="spacingAndGlyphs" >5</text>
<path d="M148.70,246.30 L149.35,246.30 L149.35,246.65 L150.00,246.65 L150.00,247.00 L151.00,247.00 L151.00,247.75 L152.00,247.75 L152.00,248.50 L153.50,248.50 L153.50,249.50 L155.00,249.50 L155.00,250.50 L156.50,250.50 L156.50,251.50 L158.00,251.50 L158.00,252.50 L160.20,252.50 L160.20,254.70 L162.40,254.70 L162.40,256.90 L163.70,256.90 L163.70,257.60 L165.00,257.60 L165.00,258.30 L167.20,258.30 L167.20,260.00 L169.40,260.00 L169.40,261.70 L172.00,261.70 L172.00,262.00 L174.30,262.00 L174.30,263.10 L176.60,263.10 L176.60,264.20 L178.20,264.20 L178.20,265.35 L179.80,265.35 L179.80,266.50 L182.65,266.50 L182.65,268.35 L185.50,268.35 L185.50,270.20 L187.75,270.20 L187.75,271.10 L190.00,271.10 L190.00,272.00 L193.50,272.00 L193.50,272.20 L194.75,272.20 L194.75,273.10 L196.00,273.10 L196.00,274.00 L198.00,274.00 L198.00,274.80 L200.00,274.80 L200.00,275.60 L201.10,275.60 L201.10,276.45 L202.20,276.45 L202.20,277.30 L203.60,277.30 L203.60,278.15 L205.00,278.15 L205.00,279.00 L206.00,279.00 L206.00,280.00 L207.00,280.00 L207.00,281.00 L208.35,281.00 L208.35,282.80 L209.70,282.80 L209.70,284.60 L211.35,284.60 L211.35,285.05 L213.00,285.05 L213.00,285.50 L215.05,285.50 L215.05,286.40 L217.10,286.40 L217.10,287.30 L218.95,287.30 L218.95,288.55 L220.80,288.55 L220.80,289.80 L232.00,289.80 L232.00,289.80" fill="none" stroke="#2a5d8f" stroke-width="1.1" stroke-linejoin="miter"/>
<path d="M148.70,246.30 L152.30,246.30 L152.30,260.40 L157.10,260.40 L157.10,267.20 L165.70,267.20 L165.70,274.60 L167.70,274.60 L167.70,288.50 L173.30,288.50 L173.30,295.30 L182.50,295.30 L182.50,302.80 L193.50,302.80 L193.50,309.80 L232.00,309.80" fill="none" stroke="#cc3355" stroke-width="1.1" stroke-linejoin="miter"/>
<text x="189.80" y="253.50" font-size="6.5" text-anchor="start" fill="#333" textLength="22.30" lengthAdjust="spacingAndGlyphs" ><tspan font-style="italic">P</tspan> = .031</text>
<line x1="148.00" y1="330.40" x2="157.70" y2="330.40" stroke="#2a5d8f" stroke-width="1.1"/>
<text x="159.50" y="332.50" font-size="6.5" text-anchor="start" fill="#333" textLength="35.10" lengthAdjust="spacingAndGlyphs" >Low actTregs</text>
<line x1="148.00" y1="337.30" x2="157.70" y2="337.30" stroke="#cc3355" stroke-width="1.1"/>
<text x="159.50" y="339.40" font-size="6.5" text-anchor="start" fill="#333" textLength="37.00" lengthAdjust="spacingAndGlyphs" >High actTregs</text>
<text transform="translate(121.61,292.00) rotate(-90)" x="0" y="0" font-size="8.6" text-anchor="middle" textLength="67.00" lengthAdjust="spacingAndGlyphs">Progression free survival</text>
<text x="189.50" y="364.70" font-size="9" text-anchor="middle" textLength="34.60" lengthAdjust="spacingAndGlyphs" stroke="#222" stroke-width="0.2">Time (years)</text>
<text x="163.50" y="375.10" font-size="6.5" text-anchor="middle" fill="#333" textLength="40.30" lengthAdjust="spacingAndGlyphs" >Numbers at risk</text>
<text x="141.80" y="385.80" font-size="6.5" text-anchor="end" fill="#2a6aa8" textLength="34.60" lengthAdjust="spacingAndGlyphs" >Low actTregs</text>
<text x="141.80" y="393.80" font-size="6.5" text-anchor="end" fill="#cc2244" textLength="35.50" lengthAdjust="spacingAndGlyphs" >High actTregs</text>
<text x="147.30" y="385.80" font-size="6.5" text-anchor="middle" fill="#333" textLength="6.56" lengthAdjust="spacingAndGlyphs" >69</text>
<text x="147.30" y="393.80" font-size="6.5" text-anchor="middle" fill="#333" textLength="6.56" lengthAdjust="spacingAndGlyphs" >13</text>
<text x="164.15" y="385.80" font-size="6.5" text-anchor="middle" fill="#333" textLength="6.56" lengthAdjust="spacingAndGlyphs" >61</text>
<text x="164.15" y="393.80" font-size="6.5" text-anchor="middle" fill="#333" textLength="6.56" lengthAdjust="spacingAndGlyphs" >10</text>
<text x="181.00" y="385.80" font-size="6.5" text-anchor="middle" fill="#333" textLength="6.56" lengthAdjust="spacingAndGlyphs" >54</text>
<text x="181.00" y="393.80" font-size="6.5" text-anchor="middle" fill="#333" textLength="3.28" lengthAdjust="spacingAndGlyphs" >6</text>
<text x="197.85" y="385.80" font-size="6.5" text-anchor="middle" fill="#333" textLength="6.56" lengthAdjust="spacingAndGlyphs" >48</text>
<text x="197.85" y="393.80" font-size="6.5" text-anchor="middle" fill="#333" textLength="3.28" lengthAdjust="spacingAndGlyphs" >4</text>
<text x="214.70" y="385.80" font-size="6.5" text-anchor="middle" fill="#333" textLength="6.56" lengthAdjust="spacingAndGlyphs" >39</text>
<text x="214.70" y="393.80" font-size="6.5" text-anchor="middle" fill="#333" textLength="3.28" lengthAdjust="spacingAndGlyphs" >4</text>
<text x="231.55" y="385.80" font-size="6.5" text-anchor="middle" fill="#333" textLength="6.56" lengthAdjust="spacingAndGlyphs" >36</text>
<text x="231.55" y="393.80" font-size="6.5" text-anchor="middle" fill="#333" textLength="3.28" lengthAdjust="spacingAndGlyphs" >4</text>
<text x="245.00" y="227.80" font-size="10.5" text-anchor="start" font-weight="bold" fill="#000" >E</text>
<text x="266.2" y="233.9" font-size="7.8" fill="#222" textLength="210.5" lengthAdjust="spacingAndGlyphs">FL bulk gene expression external dataset, <tspan font-style="italic">Lancet Oncol 2015</tspan></text>
<line x1="270.60" y1="241.30" x2="270.60" y2="342.10" stroke="#222" stroke-width="1"/>
<line x1="268.40" y1="341.60" x2="270.60" y2="341.60" stroke="#222" stroke-width="0.9"/>
<text x="265.70" y="343.96" font-size="6.6" text-anchor="end" fill="#3a3a3a" textLength="3.38" lengthAdjust="spacingAndGlyphs" >0</text>
<line x1="268.40" y1="321.84" x2="270.60" y2="321.84" stroke="#222" stroke-width="0.9"/>
<text x="265.70" y="324.20" font-size="6.6" text-anchor="end" fill="#3a3a3a" textLength="6.76" lengthAdjust="spacingAndGlyphs" >10</text>
<line x1="268.40" y1="302.08" x2="270.60" y2="302.08" stroke="#222" stroke-width="0.9"/>
<text x="265.70" y="304.44" font-size="6.6" text-anchor="end" fill="#3a3a3a" textLength="6.76" lengthAdjust="spacingAndGlyphs" >20</text>
<line x1="268.40" y1="282.32" x2="270.60" y2="282.32" stroke="#222" stroke-width="0.9"/>
<text x="265.70" y="284.68" font-size="6.6" text-anchor="end" fill="#3a3a3a" textLength="6.76" lengthAdjust="spacingAndGlyphs" >30</text>
<line x1="268.40" y1="262.56" x2="270.60" y2="262.56" stroke="#222" stroke-width="0.9"/>
<text x="265.70" y="264.92" font-size="6.6" text-anchor="end" fill="#3a3a3a" textLength="6.76" lengthAdjust="spacingAndGlyphs" >40</text>
<line x1="268.40" y1="242.80" x2="270.60" y2="242.80" stroke="#222" stroke-width="0.9"/>
<text x="265.70" y="245.16" font-size="6.6" text-anchor="end" fill="#3a3a3a" textLength="6.76" lengthAdjust="spacingAndGlyphs" >50</text>
<line x1="270.60" y1="341.60" x2="341.70" y2="341.60" stroke="#222" stroke-width="1"/>
<line x1="284.70" y1="308.21" x2="284.70" y2="341.60" stroke="#1d4f91" stroke-width="0.9"/>
<line x1="281.30" y1="308.21" x2="288.10" y2="308.21" stroke="#333" stroke-width="0.9"/>
<circle cx="282.68" cy="341.32" r="1.05" fill="#1d4f91"/>
<circle cx="286.85" cy="329.00" r="1.05" fill="#1d4f91"/>
<circle cx="285.54" cy="329.85" r="1.05" fill="#1d4f91"/>
<circle cx="283.85" cy="323.16" r="1.05" fill="#1d4f91"/>
<circle cx="288.70" cy="330.50" r="1.05" fill="#1d4f91"/>
<circle cx="285.44" cy="326.64" r="1.05" fill="#1d4f91"/>
<circle cx="288.04" cy="335.06" r="1.05" fill="#1d4f91"/>
<circle cx="285.28" cy="339.36" r="1.05" fill="#1d4f91"/>
<circle cx="280.40" cy="333.74" r="1.05" fill="#1d4f91"/>
<circle cx="287.96" cy="340.65" r="1.05" fill="#1d4f91"/>
<circle cx="281.71" cy="332.09" r="1.05" fill="#1d4f91"/>
<circle cx="282.30" cy="339.44" r="1.05" fill="#1d4f91"/>
<circle cx="285.95" cy="335.01" r="1.05" fill="#1d4f91"/>
<circle cx="282.14" cy="341.25" r="1.05" fill="#1d4f91"/>
<circle cx="284.29" cy="337.42" r="1.05" fill="#1d4f91"/>
<circle cx="286.43" cy="330.58" r="1.05" fill="#1d4f91"/>
<circle cx="280.35" cy="337.93" r="1.05" fill="#1d4f91"/>
<circle cx="286.11" cy="340.84" r="1.05" fill="#1d4f91"/>
<circle cx="280.46" cy="334.86" r="1.05" fill="#1d4f91"/>
<circle cx="284.49" cy="331.19" r="1.05" fill="#1d4f91"/>
<circle cx="286.32" cy="337.75" r="1.05" fill="#1d4f91"/>
<circle cx="286.59" cy="339.29" r="1.05" fill="#1d4f91"/>
<circle cx="279.69" cy="337.04" r="1.05" fill="#1d4f91"/>
<circle cx="281.41" cy="338.23" r="1.05" fill="#1d4f91"/>
<circle cx="288.24" cy="330.06" r="1.05" fill="#1d4f91"/>
<circle cx="283.51" cy="337.21" r="1.05" fill="#1d4f91"/>
<circle cx="283.93" cy="333.66" r="1.05" fill="#1d4f91"/>
<circle cx="283.74" cy="330.00" r="1.05" fill="#1d4f91"/>
<circle cx="286.80" cy="334.85" r="1.05" fill="#1d4f91"/>
<circle cx="287.15" cy="333.67" r="1.05" fill="#1d4f91"/>
<circle cx="286.17" cy="339.69" r="1.05" fill="#1d4f91"/>
<circle cx="283.63" cy="336.55" r="1.05" fill="#1d4f91"/>
<circle cx="285.37" cy="332.74" r="1.05" fill="#1d4f91"/>
<circle cx="284.87" cy="337.26" r="1.05" fill="#1d4f91"/>
<circle cx="281.62" cy="333.07" r="1.05" fill="#1d4f91"/>
<circle cx="289.01" cy="339.93" r="1.05" fill="#1d4f91"/>
<circle cx="289.76" cy="337.46" r="1.05" fill="#1d4f91"/>
<circle cx="285.64" cy="324.16" r="1.05" fill="#1d4f91"/>
<circle cx="288.72" cy="341.45" r="1.05" fill="#1d4f91"/>
<circle cx="284.32" cy="336.05" r="1.05" fill="#1d4f91"/>
<circle cx="286.90" cy="328.57" r="1.05" fill="#1d4f91"/>
<circle cx="281.93" cy="338.10" r="1.05" fill="#1d4f91"/>
<circle cx="287.36" cy="335.83" r="1.05" fill="#1d4f91"/>
<circle cx="286.85" cy="333.33" r="1.05" fill="#1d4f91"/>
<circle cx="288.67" cy="331.84" r="1.05" fill="#1d4f91"/>
<circle cx="288.03" cy="339.39" r="1.05" fill="#1d4f91"/>
<circle cx="287.20" cy="328.72" r="1.05" fill="#1d4f91"/>
<circle cx="282.16" cy="337.22" r="1.05" fill="#1d4f91"/>
<circle cx="287.67" cy="338.87" r="1.05" fill="#1d4f91"/>
<circle cx="284.44" cy="333.96" r="1.05" fill="#1d4f91"/>
<circle cx="282.69" cy="338.06" r="1.05" fill="#1d4f91"/>
<circle cx="283.43" cy="339.85" r="1.05" fill="#1d4f91"/>
<circle cx="286.30" cy="327.15" r="1.05" fill="#1d4f91"/>
<circle cx="287.47" cy="330.57" r="1.05" fill="#1d4f91"/>
<circle cx="288.48" cy="335.92" r="1.05" fill="#1d4f91"/>
<circle cx="286.21" cy="331.65" r="1.05" fill="#1d4f91"/>
<circle cx="281.79" cy="331.54" r="1.05" fill="#1d4f91"/>
<circle cx="281.31" cy="333.06" r="1.05" fill="#1d4f91"/>
<circle cx="285.45" cy="336.30" r="1.05" fill="#1d4f91"/>
<circle cx="281.53" cy="336.21" r="1.05" fill="#1d4f91"/>
<circle cx="283.00" cy="334.09" r="1.05" fill="#1d4f91"/>
<circle cx="280.76" cy="333.16" r="1.05" fill="#1d4f91"/>
<circle cx="281.06" cy="334.42" r="1.05" fill="#1d4f91"/>
<circle cx="286.76" cy="340.07" r="1.05" fill="#1d4f91"/>
<circle cx="281.67" cy="337.04" r="1.05" fill="#1d4f91"/>
<circle cx="288.28" cy="333.82" r="1.05" fill="#1d4f91"/>
<circle cx="283.16" cy="340.62" r="1.05" fill="#1d4f91"/>
<circle cx="288.54" cy="336.72" r="1.05" fill="#1d4f91"/>
<circle cx="282.90" cy="331.96" r="1.05" fill="#1d4f91"/>
<circle cx="282.16" cy="335.61" r="1.05" fill="#1d4f91"/>
<circle cx="283.58" cy="338.32" r="1.05" fill="#1d4f91"/>
<circle cx="279.34" cy="336.80" r="1.05" fill="#1d4f91"/>
<circle cx="284.06" cy="339.52" r="1.05" fill="#1d4f91"/>
<circle cx="283.73" cy="330.57" r="1.05" fill="#1d4f91"/>
<circle cx="279.67" cy="338.87" r="1.05" fill="#1d4f91"/>
<circle cx="288.67" cy="336.23" r="1.05" fill="#1d4f91"/>
<circle cx="283.44" cy="339.28" r="1.05" fill="#1d4f91"/>
<circle cx="279.36" cy="334.80" r="1.05" fill="#1d4f91"/>
<circle cx="289.69" cy="335.30" r="1.05" fill="#1d4f91"/>
<circle cx="282.02" cy="339.58" r="1.05" fill="#1d4f91"/>
<circle cx="282.12" cy="338.65" r="1.05" fill="#1d4f91"/>
<circle cx="279.53" cy="337.58" r="1.05" fill="#1d4f91"/>
<circle cx="281.46" cy="341.52" r="1.05" fill="#1d4f91"/>
<circle cx="286.57" cy="340.72" r="1.05" fill="#1d4f91"/>
<circle cx="285.60" cy="336.58" r="1.05" fill="#1d4f91"/>
<circle cx="284.73" cy="341.41" r="1.05" fill="#1d4f91"/>
<circle cx="282.00" cy="334.68" r="1.05" fill="#1d4f91"/>
<circle cx="282.91" cy="341.24" r="1.05" fill="#1d4f91"/>
<circle cx="289.40" cy="339.39" r="1.05" fill="#1d4f91"/>
<circle cx="283.33" cy="338.07" r="1.05" fill="#1d4f91"/>
<circle cx="287.53" cy="327.70" r="1.05" fill="#1d4f91"/>
<circle cx="286.70" cy="326.90" r="1.05" fill="#1d4f91"/>
<circle cx="281.58" cy="330.84" r="1.05" fill="#1d4f91"/>
<circle cx="287.63" cy="341.22" r="1.05" fill="#1d4f91"/>
<circle cx="279.43" cy="336.54" r="1.05" fill="#1d4f91"/>
<circle cx="286.48" cy="331.00" r="1.05" fill="#1d4f91"/>
<circle cx="287.46" cy="331.68" r="1.05" fill="#1d4f91"/>
<circle cx="286.85" cy="336.46" r="1.05" fill="#1d4f91"/>
<circle cx="285.25" cy="336.91" r="1.05" fill="#1d4f91"/>
<circle cx="287.33" cy="341.24" r="1.05" fill="#1d4f91"/>
<circle cx="281.53" cy="332.02" r="1.05" fill="#1d4f91"/>
<circle cx="285.08" cy="332.71" r="1.05" fill="#1d4f91"/>
<circle cx="282.43" cy="339.82" r="1.05" fill="#1d4f91"/>
<circle cx="284.40" cy="323.40" r="1.05" fill="#1d4f91"/>
<circle cx="281.42" cy="338.25" r="1.05" fill="#1d4f91"/>
<circle cx="285.14" cy="321.54" r="1.05" fill="#1d4f91"/>
<circle cx="285.49" cy="337.59" r="1.05" fill="#1d4f91"/>
<rect x="277.90" y="328.95" width="13.60" height="12.25" fill="none" stroke="#333" stroke-width="0.8"/>
<line x1="277.90" y1="334.68" x2="291.50" y2="334.68" stroke="#333" stroke-width="0.8"/>
<line x1="284.70" y1="341.60" x2="284.70" y2="343.40" stroke="#222" stroke-width="0.8"/>
<line x1="306.20" y1="265.13" x2="306.20" y2="328.36" stroke="#a01030" stroke-width="0.9"/>
<line x1="302.80" y1="265.13" x2="309.60" y2="265.13" stroke="#333" stroke-width="0.9"/>
<line x1="302.80" y1="328.36" x2="309.60" y2="328.36" stroke="#333" stroke-width="0.9"/>
<circle cx="303.44" cy="295.49" r="1.05" fill="#d0103c"/>
<circle cx="306.34" cy="312.34" r="1.05" fill="#d0103c"/>
<circle cx="305.54" cy="316.97" r="1.05" fill="#d0103c"/>
<circle cx="304.83" cy="311.67" r="1.05" fill="#d0103c"/>
<circle cx="309.26" cy="293.05" r="1.05" fill="#d0103c"/>
<circle cx="303.12" cy="310.41" r="1.05" fill="#d0103c"/>
<circle cx="306.78" cy="308.97" r="1.05" fill="#d0103c"/>
<circle cx="307.31" cy="277.21" r="1.05" fill="#d0103c"/>
<circle cx="311.25" cy="301.42" r="1.05" fill="#d0103c"/>
<circle cx="301.06" cy="294.67" r="1.05" fill="#d0103c"/>
<circle cx="303.72" cy="306.17" r="1.05" fill="#d0103c"/>
<circle cx="306.15" cy="284.19" r="1.05" fill="#d0103c"/>
<circle cx="309.26" cy="284.68" r="1.05" fill="#d0103c"/>
<circle cx="302.41" cy="304.32" r="1.05" fill="#d0103c"/>
<circle cx="309.37" cy="310.76" r="1.05" fill="#d0103c"/>
<circle cx="305.70" cy="318.75" r="1.05" fill="#d0103c"/>
<circle cx="306.73" cy="296.18" r="1.05" fill="#d0103c"/>
<circle cx="310.46" cy="309.12" r="1.05" fill="#d0103c"/>
<circle cx="303.16" cy="314.98" r="1.05" fill="#d0103c"/>
<circle cx="304.42" cy="294.00" r="1.05" fill="#d0103c"/>
<circle cx="302.21" cy="300.17" r="1.05" fill="#d0103c"/>
<circle cx="302.42" cy="293.61" r="1.05" fill="#d0103c"/>
<circle cx="304.46" cy="311.78" r="1.05" fill="#d0103c"/>
<circle cx="308.06" cy="310.90" r="1.05" fill="#d0103c"/>
<circle cx="307.11" cy="297.95" r="1.05" fill="#d0103c"/>
<circle cx="303.83" cy="282.54" r="1.05" fill="#d0103c"/>
<circle cx="309.34" cy="293.94" r="1.05" fill="#d0103c"/>
<circle cx="306.28" cy="301.48" r="1.05" fill="#d0103c"/>
<circle cx="303.00" cy="290.25" r="1.05" fill="#d0103c"/>
<circle cx="308.93" cy="289.11" r="1.05" fill="#d0103c"/>
<circle cx="309.18" cy="310.82" r="1.05" fill="#d0103c"/>
<circle cx="305.15" cy="276.47" r="1.05" fill="#d0103c"/>
<circle cx="309.61" cy="286.97" r="1.05" fill="#d0103c"/>
<circle cx="309.75" cy="298.36" r="1.05" fill="#d0103c"/>
<circle cx="303.35" cy="294.24" r="1.05" fill="#d0103c"/>
<circle cx="301.87" cy="312.12" r="1.05" fill="#d0103c"/>
<circle cx="308.87" cy="285.43" r="1.05" fill="#d0103c"/>
<circle cx="307.01" cy="273.79" r="1.05" fill="#d0103c"/>
<circle cx="301.74" cy="296.26" r="1.05" fill="#d0103c"/>
<circle cx="309.03" cy="294.49" r="1.05" fill="#d0103c"/>
<circle cx="309.36" cy="299.99" r="1.05" fill="#d0103c"/>
<circle cx="307.71" cy="297.56" r="1.05" fill="#d0103c"/>
<circle cx="309.56" cy="308.64" r="1.05" fill="#d0103c"/>
<circle cx="311.63" cy="296.85" r="1.05" fill="#d0103c"/>
<circle cx="304.81" cy="287.95" r="1.05" fill="#d0103c"/>
<circle cx="310.07" cy="301.13" r="1.05" fill="#d0103c"/>
<circle cx="309.56" cy="287.64" r="1.05" fill="#d0103c"/>
<circle cx="304.63" cy="312.60" r="1.05" fill="#d0103c"/>
<circle cx="308.26" cy="304.61" r="1.05" fill="#d0103c"/>
<circle cx="308.33" cy="302.04" r="1.05" fill="#d0103c"/>
<circle cx="310.23" cy="302.16" r="1.05" fill="#d0103c"/>
<circle cx="306.72" cy="286.88" r="1.05" fill="#d0103c"/>
<circle cx="304.03" cy="309.83" r="1.05" fill="#d0103c"/>
<circle cx="304.09" cy="289.06" r="1.05" fill="#d0103c"/>
<circle cx="306.65" cy="307.20" r="1.05" fill="#d0103c"/>
<circle cx="302.03" cy="298.43" r="1.05" fill="#d0103c"/>
<circle cx="307.10" cy="325.22" r="1.05" fill="#d0103c"/>
<circle cx="307.94" cy="319.64" r="1.05" fill="#d0103c"/>
<circle cx="303.40" cy="295.40" r="1.05" fill="#d0103c"/>
<circle cx="307.89" cy="289.24" r="1.05" fill="#d0103c"/>
<circle cx="307.98" cy="293.58" r="1.05" fill="#d0103c"/>
<circle cx="301.91" cy="297.78" r="1.05" fill="#d0103c"/>
<circle cx="308.46" cy="288.00" r="1.05" fill="#d0103c"/>
<circle cx="309.02" cy="294.45" r="1.05" fill="#d0103c"/>
<circle cx="304.49" cy="289.91" r="1.05" fill="#d0103c"/>
<circle cx="302.64" cy="311.73" r="1.05" fill="#d0103c"/>
<circle cx="305.14" cy="279.00" r="1.05" fill="#d0103c"/>
<circle cx="309.34" cy="302.26" r="1.05" fill="#d0103c"/>
<circle cx="305.88" cy="309.75" r="1.05" fill="#d0103c"/>
<circle cx="309.70" cy="305.09" r="1.05" fill="#d0103c"/>
<circle cx="303.43" cy="288.05" r="1.05" fill="#d0103c"/>
<circle cx="301.76" cy="297.33" r="1.05" fill="#d0103c"/>
<circle cx="304.46" cy="299.17" r="1.05" fill="#d0103c"/>
<circle cx="308.76" cy="283.86" r="1.05" fill="#d0103c"/>
<circle cx="303.64" cy="286.35" r="1.05" fill="#d0103c"/>
<circle cx="301.90" cy="292.99" r="1.05" fill="#d0103c"/>
<circle cx="308.91" cy="306.61" r="1.05" fill="#d0103c"/>
<circle cx="302.63" cy="289.70" r="1.05" fill="#d0103c"/>
<circle cx="308.14" cy="302.06" r="1.05" fill="#d0103c"/>
<circle cx="301.67" cy="295.43" r="1.05" fill="#d0103c"/>
<circle cx="303.27" cy="300.27" r="1.05" fill="#d0103c"/>
<circle cx="307.20" cy="316.45" r="1.05" fill="#d0103c"/>
<circle cx="310.52" cy="302.29" r="1.05" fill="#d0103c"/>
<circle cx="305.15" cy="301.08" r="1.05" fill="#d0103c"/>
<circle cx="305.85" cy="315.02" r="1.05" fill="#d0103c"/>
<circle cx="301.73" cy="310.26" r="1.05" fill="#d0103c"/>
<circle cx="305.30" cy="280.87" r="1.05" fill="#d0103c"/>
<circle cx="303.22" cy="299.58" r="1.05" fill="#d0103c"/>
<circle cx="307.46" cy="277.90" r="1.05" fill="#d0103c"/>
<circle cx="308.29" cy="292.14" r="1.05" fill="#d0103c"/>
<circle cx="309.48" cy="302.34" r="1.05" fill="#d0103c"/>
<circle cx="306.55" cy="305.25" r="1.05" fill="#d0103c"/>
<circle cx="307.35" cy="281.28" r="1.05" fill="#d0103c"/>
<circle cx="302.29" cy="307.38" r="1.05" fill="#d0103c"/>
<circle cx="305.09" cy="292.00" r="1.05" fill="#d0103c"/>
<circle cx="303.82" cy="302.87" r="1.05" fill="#d0103c"/>
<circle cx="303.89" cy="307.01" r="1.05" fill="#d0103c"/>
<circle cx="308.95" cy="302.79" r="1.05" fill="#d0103c"/>
<circle cx="302.92" cy="303.08" r="1.05" fill="#d0103c"/>
<circle cx="305.18" cy="281.46" r="1.05" fill="#d0103c"/>
<circle cx="303.78" cy="304.99" r="1.05" fill="#d0103c"/>
<circle cx="310.30" cy="304.30" r="1.05" fill="#d0103c"/>
<circle cx="306.75" cy="320.86" r="1.05" fill="#d0103c"/>
<circle cx="305.98" cy="304.43" r="1.05" fill="#d0103c"/>
<circle cx="305.62" cy="318.89" r="1.05" fill="#d0103c"/>
<circle cx="310.62" cy="307.38" r="1.05" fill="#d0103c"/>
<circle cx="307.01" cy="327.43" r="1.05" fill="#d0103c"/>
<circle cx="305.74" cy="311.04" r="1.05" fill="#d0103c"/>
<circle cx="306.72" cy="286.91" r="1.05" fill="#d0103c"/>
<circle cx="310.20" cy="296.05" r="1.05" fill="#d0103c"/>
<circle cx="304.32" cy="313.80" r="1.05" fill="#d0103c"/>
<circle cx="303.44" cy="303.47" r="1.05" fill="#d0103c"/>
<circle cx="303.50" cy="284.05" r="1.05" fill="#d0103c"/>
<circle cx="306.22" cy="300.93" r="1.05" fill="#d0103c"/>
<circle cx="308.46" cy="312.56" r="1.05" fill="#d0103c"/>
<circle cx="302.40" cy="296.12" r="1.05" fill="#d0103c"/>
<circle cx="305.68" cy="313.83" r="1.05" fill="#d0103c"/>
<circle cx="311.89" cy="301.47" r="1.05" fill="#d0103c"/>
<circle cx="305.99" cy="296.50" r="1.05" fill="#d0103c"/>
<circle cx="304.85" cy="298.69" r="1.05" fill="#d0103c"/>
<circle cx="309.78" cy="307.12" r="1.05" fill="#d0103c"/>
<circle cx="308.13" cy="279.14" r="1.05" fill="#d0103c"/>
<circle cx="305.49" cy="281.23" r="1.05" fill="#d0103c"/>
<circle cx="302.64" cy="291.48" r="1.05" fill="#d0103c"/>
<circle cx="307.10" cy="283.55" r="1.05" fill="#d0103c"/>
<circle cx="308.81" cy="295.26" r="1.05" fill="#d0103c"/>
<circle cx="310.84" cy="295.77" r="1.05" fill="#d0103c"/>
<circle cx="307.97" cy="305.33" r="1.05" fill="#d0103c"/>
<circle cx="304.01" cy="303.53" r="1.05" fill="#d0103c"/>
<circle cx="306.35" cy="293.13" r="1.05" fill="#d0103c"/>
<circle cx="303.74" cy="301.66" r="1.05" fill="#d0103c"/>
<circle cx="305.69" cy="310.23" r="1.05" fill="#d0103c"/>
<circle cx="305.85" cy="305.31" r="1.05" fill="#d0103c"/>
<circle cx="310.89" cy="303.74" r="1.05" fill="#d0103c"/>
<circle cx="307.96" cy="319.97" r="1.05" fill="#d0103c"/>
<circle cx="310.06" cy="311.36" r="1.05" fill="#d0103c"/>
<circle cx="305.97" cy="293.51" r="1.05" fill="#d0103c"/>
<circle cx="307.69" cy="323.00" r="1.05" fill="#d0103c"/>
<rect x="299.70" y="291.41" width="13.00" height="13.44" fill="none" stroke="#333" stroke-width="0.8"/>
<line x1="299.70" y1="298.72" x2="312.70" y2="298.72" stroke="#333" stroke-width="0.8"/>
<line x1="306.20" y1="341.60" x2="306.20" y2="343.40" stroke="#222" stroke-width="0.8"/>
<line x1="326.60" y1="317.30" x2="326.60" y2="341.60" stroke="#3cb043" stroke-width="0.9"/>
<line x1="323.20" y1="317.30" x2="330.00" y2="317.30" stroke="#333" stroke-width="0.9"/>
<circle cx="325.86" cy="327.09" r="1.05" fill="#3cb043"/>
<circle cx="328.08" cy="325.44" r="1.05" fill="#3cb043"/>
<circle cx="324.77" cy="339.87" r="1.05" fill="#3cb043"/>
<circle cx="323.39" cy="338.24" r="1.05" fill="#3cb043"/>
<circle cx="329.49" cy="331.98" r="1.05" fill="#3cb043"/>
<circle cx="326.90" cy="326.26" r="1.05" fill="#3cb043"/>
<circle cx="327.82" cy="324.31" r="1.05" fill="#3cb043"/>
<circle cx="326.48" cy="333.87" r="1.05" fill="#3cb043"/>
<circle cx="321.55" cy="333.24" r="1.05" fill="#3cb043"/>
<circle cx="329.03" cy="340.87" r="1.05" fill="#3cb043"/>
<circle cx="323.47" cy="333.72" r="1.05" fill="#3cb043"/>
<circle cx="326.31" cy="339.29" r="1.05" fill="#3cb043"/>
<circle cx="320.81" cy="335.57" r="1.05" fill="#3cb043"/>
<circle cx="324.44" cy="340.86" r="1.05" fill="#3cb043"/>
<circle cx="328.35" cy="339.00" r="1.05" fill="#3cb043"/>
<circle cx="329.52" cy="333.59" r="1.05" fill="#3cb043"/>
<circle cx="328.05" cy="332.70" r="1.05" fill="#3cb043"/>
<circle cx="325.98" cy="338.39" r="1.05" fill="#3cb043"/>
<circle cx="327.36" cy="321.79" r="1.05" fill="#3cb043"/>
<circle cx="327.70" cy="326.98" r="1.05" fill="#3cb043"/>
<circle cx="323.24" cy="334.64" r="1.05" fill="#3cb043"/>
<circle cx="326.91" cy="330.02" r="1.05" fill="#3cb043"/>
<circle cx="327.48" cy="340.85" r="1.05" fill="#3cb043"/>
<circle cx="328.88" cy="331.70" r="1.05" fill="#3cb043"/>
<circle cx="325.09" cy="324.65" r="1.05" fill="#3cb043"/>
<circle cx="324.54" cy="338.44" r="1.05" fill="#3cb043"/>
<circle cx="325.00" cy="339.46" r="1.05" fill="#3cb043"/>
<circle cx="322.61" cy="339.87" r="1.05" fill="#3cb043"/>
<circle cx="324.90" cy="333.92" r="1.05" fill="#3cb043"/>
<circle cx="329.20" cy="334.27" r="1.05" fill="#3cb043"/>
<circle cx="327.37" cy="339.74" r="1.05" fill="#3cb043"/>
<circle cx="322.82" cy="336.60" r="1.05" fill="#3cb043"/>
<circle cx="328.90" cy="331.59" r="1.05" fill="#3cb043"/>
<circle cx="323.19" cy="330.18" r="1.05" fill="#3cb043"/>
<circle cx="328.96" cy="340.39" r="1.05" fill="#3cb043"/>
<circle cx="322.84" cy="332.83" r="1.05" fill="#3cb043"/>
<circle cx="322.30" cy="338.84" r="1.05" fill="#3cb043"/>
<circle cx="323.82" cy="333.88" r="1.05" fill="#3cb043"/>
<circle cx="326.71" cy="328.32" r="1.05" fill="#3cb043"/>
<circle cx="324.12" cy="338.63" r="1.05" fill="#3cb043"/>
<circle cx="329.78" cy="341.51" r="1.05" fill="#3cb043"/>
<circle cx="331.59" cy="337.33" r="1.05" fill="#3cb043"/>
<circle cx="324.09" cy="335.67" r="1.05" fill="#3cb043"/>
<circle cx="328.88" cy="330.51" r="1.05" fill="#3cb043"/>
<circle cx="328.31" cy="341.09" r="1.05" fill="#3cb043"/>
<circle cx="327.31" cy="335.41" r="1.05" fill="#3cb043"/>
<circle cx="324.80" cy="328.11" r="1.05" fill="#3cb043"/>
<circle cx="331.79" cy="336.66" r="1.05" fill="#3cb043"/>
<circle cx="331.87" cy="335.15" r="1.05" fill="#3cb043"/>
<circle cx="321.18" cy="333.77" r="1.05" fill="#3cb043"/>
<circle cx="324.80" cy="332.72" r="1.05" fill="#3cb043"/>
<circle cx="324.89" cy="331.08" r="1.05" fill="#3cb043"/>
<circle cx="323.33" cy="333.15" r="1.05" fill="#3cb043"/>
<circle cx="325.79" cy="335.35" r="1.05" fill="#3cb043"/>
<circle cx="331.17" cy="334.79" r="1.05" fill="#3cb043"/>
<circle cx="324.00" cy="325.39" r="1.05" fill="#3cb043"/>
<circle cx="329.68" cy="340.66" r="1.05" fill="#3cb043"/>
<circle cx="324.54" cy="333.03" r="1.05" fill="#3cb043"/>
<circle cx="321.07" cy="337.38" r="1.05" fill="#3cb043"/>
<circle cx="331.24" cy="336.03" r="1.05" fill="#3cb043"/>
<circle cx="325.01" cy="327.62" r="1.05" fill="#3cb043"/>
<circle cx="323.65" cy="332.12" r="1.05" fill="#3cb043"/>
<circle cx="322.31" cy="337.84" r="1.05" fill="#3cb043"/>
<circle cx="325.44" cy="341.05" r="1.05" fill="#3cb043"/>
<circle cx="324.35" cy="326.08" r="1.05" fill="#3cb043"/>
<circle cx="323.78" cy="341.02" r="1.05" fill="#3cb043"/>
<circle cx="323.71" cy="336.38" r="1.05" fill="#3cb043"/>
<circle cx="327.47" cy="333.58" r="1.05" fill="#3cb043"/>
<circle cx="326.05" cy="339.37" r="1.05" fill="#3cb043"/>
<circle cx="324.48" cy="338.51" r="1.05" fill="#3cb043"/>
<circle cx="326.90" cy="335.39" r="1.05" fill="#3cb043"/>
<circle cx="329.67" cy="333.92" r="1.05" fill="#3cb043"/>
<circle cx="329.16" cy="337.23" r="1.05" fill="#3cb043"/>
<circle cx="324.79" cy="335.55" r="1.05" fill="#3cb043"/>
<circle cx="331.44" cy="336.36" r="1.05" fill="#3cb043"/>
<circle cx="329.62" cy="339.25" r="1.05" fill="#3cb043"/>
<circle cx="327.31" cy="336.85" r="1.05" fill="#3cb043"/>
<circle cx="326.40" cy="329.34" r="1.05" fill="#3cb043"/>
<circle cx="324.63" cy="335.27" r="1.05" fill="#3cb043"/>
<circle cx="322.90" cy="331.89" r="1.05" fill="#3cb043"/>
<circle cx="330.29" cy="331.12" r="1.05" fill="#3cb043"/>
<circle cx="327.22" cy="325.77" r="1.05" fill="#3cb043"/>
<circle cx="322.25" cy="338.53" r="1.05" fill="#3cb043"/>
<circle cx="331.17" cy="332.95" r="1.05" fill="#3cb043"/>
<circle cx="329.87" cy="341.34" r="1.05" fill="#3cb043"/>
<circle cx="323.59" cy="326.88" r="1.05" fill="#3cb043"/>
<circle cx="328.48" cy="340.41" r="1.05" fill="#3cb043"/>
<circle cx="324.18" cy="340.56" r="1.05" fill="#3cb043"/>
<circle cx="326.89" cy="341.58" r="1.05" fill="#3cb043"/>
<circle cx="329.75" cy="330.92" r="1.05" fill="#3cb043"/>
<circle cx="325.31" cy="329.84" r="1.05" fill="#3cb043"/>
<circle cx="326.60" cy="320.78" r="1.05" fill="#3cb043"/>
<circle cx="328.33" cy="339.11" r="1.05" fill="#3cb043"/>
<circle cx="323.91" cy="341.07" r="1.05" fill="#3cb043"/>
<circle cx="328.04" cy="337.42" r="1.05" fill="#3cb043"/>
<circle cx="325.76" cy="337.76" r="1.05" fill="#3cb043"/>
<circle cx="332.00" cy="337.84" r="1.05" fill="#3cb043"/>
<circle cx="323.43" cy="331.97" r="1.05" fill="#3cb043"/>
<circle cx="329.03" cy="335.14" r="1.05" fill="#3cb043"/>
<circle cx="321.29" cy="336.47" r="1.05" fill="#3cb043"/>
<circle cx="323.98" cy="336.30" r="1.05" fill="#3cb043"/>
<circle cx="322.81" cy="331.60" r="1.05" fill="#3cb043"/>
<circle cx="322.69" cy="333.75" r="1.05" fill="#3cb043"/>
<circle cx="326.91" cy="338.28" r="1.05" fill="#3cb043"/>
<circle cx="322.87" cy="337.04" r="1.05" fill="#3cb043"/>
<circle cx="329.52" cy="331.59" r="1.05" fill="#3cb043"/>
<circle cx="321.98" cy="337.09" r="1.05" fill="#3cb043"/>
<circle cx="327.75" cy="340.46" r="1.05" fill="#3cb043"/>
<circle cx="330.77" cy="336.60" r="1.05" fill="#3cb043"/>
<circle cx="323.35" cy="341.10" r="1.05" fill="#3cb043"/>
<circle cx="323.34" cy="335.16" r="1.05" fill="#3cb043"/>
<circle cx="329.23" cy="339.81" r="1.05" fill="#3cb043"/>
<circle cx="326.37" cy="328.77" r="1.05" fill="#3cb043"/>
<circle cx="330.91" cy="331.70" r="1.05" fill="#3cb043"/>
<circle cx="324.74" cy="334.95" r="1.05" fill="#3cb043"/>
<circle cx="326.16" cy="323.65" r="1.05" fill="#3cb043"/>
<circle cx="328.57" cy="323.55" r="1.05" fill="#3cb043"/>
<circle cx="324.81" cy="334.91" r="1.05" fill="#3cb043"/>
<circle cx="330.11" cy="328.36" r="1.05" fill="#3cb043"/>
<circle cx="331.03" cy="334.29" r="1.05" fill="#3cb043"/>
<rect x="319.90" y="331.13" width="13.40" height="6.52" fill="none" stroke="#333" stroke-width="0.8"/>
<line x1="319.90" y1="334.68" x2="333.30" y2="334.68" stroke="#333" stroke-width="0.8"/>
<line x1="326.60" y1="341.60" x2="326.60" y2="343.40" stroke="#222" stroke-width="0.8"/>
<line x1="283.60" y1="251.10" x2="306.00" y2="251.10" stroke="#222" stroke-width="0.9"/>
<text x="294.80" y="251.70" font-size="7.6" text-anchor="middle" font-weight="bold" >***</text>
<line x1="307.80" y1="251.10" x2="329.50" y2="251.10" stroke="#222" stroke-width="0.9"/>
<text x="318.65" y="251.70" font-size="7.6" text-anchor="middle" font-weight="bold" >***</text>
<text x="284.70" y="353.20" font-size="6.5" text-anchor="middle" fill="#333" textLength="9.83" lengthAdjust="spacingAndGlyphs" >rest</text>
<text x="305.90" y="353.20" font-size="6.5" text-anchor="middle" fill="#333" textLength="7.87" lengthAdjust="spacingAndGlyphs" >act</text>
<text x="324.50" y="353.20" font-size="6.5" text-anchor="middle" fill="#333" textLength="15.09" lengthAdjust="spacingAndGlyphs" >LAG3</text>
<text x="333.20" y="348.60" font-size="4.2" text-anchor="start" fill="#333" >+</text>
<text transform="translate(254.47,292.00) rotate(-90)" x="0" y="0" font-size="8.2" text-anchor="middle" textLength="77.00" lengthAdjust="spacingAndGlyphs">Treg subset abundance (%)</text>
<line x1="390.30" y1="242.00" x2="390.30" y2="342.50" stroke="#222" stroke-width="1"/>
<line x1="388.10" y1="243.00" x2="390.30" y2="243.00" stroke="#222" stroke-width="0.9"/>
<text x="384.80" y="245.36" font-size="6.6" text-anchor="end" fill="#3a3a3a" textLength="8.46" lengthAdjust="spacingAndGlyphs" >1.0</text>
<line x1="388.10" y1="262.80" x2="390.30" y2="262.80" stroke="#222" stroke-width="0.9"/>
<text x="384.80" y="265.16" font-size="6.6" text-anchor="end" fill="#3a3a3a" textLength="8.46" lengthAdjust="spacingAndGlyphs" >0.8</text>
<line x1="388.10" y1="282.60" x2="390.30" y2="282.60" stroke="#222" stroke-width="0.9"/>
<text x="384.80" y="284.96" font-size="6.6" text-anchor="end" fill="#3a3a3a" textLength="8.46" lengthAdjust="spacingAndGlyphs" >0.6</text>
<line x1="388.10" y1="302.40" x2="390.30" y2="302.40" stroke="#222" stroke-width="0.9"/>
<text x="384.80" y="304.76" font-size="6.6" text-anchor="end" fill="#3a3a3a" textLength="8.46" lengthAdjust="spacingAndGlyphs" >0.4</text>
<line x1="388.10" y1="322.20" x2="390.30" y2="322.20" stroke="#222" stroke-width="0.9"/>
<text x="384.80" y="324.56" font-size="6.6" text-anchor="end" fill="#3a3a3a" textLength="8.46" lengthAdjust="spacingAndGlyphs" >0.2</text>
<line x1="388.10" y1="342.00" x2="390.30" y2="342.00" stroke="#222" stroke-width="0.9"/>
<text x="384.80" y="344.36" font-size="6.6" text-anchor="end" fill="#3a3a3a" textLength="3.38" lengthAdjust="spacingAndGlyphs" >0</text>
<line x1="390.30" y1="342.30" x2="496.00" y2="342.30" stroke="#222" stroke-width="1"/>
<line x1="391.00" y1="342.30" x2="391.00" y2="344.50" stroke="#222" stroke-width="0.9"/>
<text x="391.00" y="352.76" font-size="6.6" text-anchor="middle" fill="#3a3a3a" textLength="3.38" lengthAdjust="spacingAndGlyphs" >0</text>
<line x1="413.20" y1="342.30" x2="413.20" y2="344.50" stroke="#222" stroke-width="0.9"/>
<text x="413.20" y="352.76" font-size="6.6" text-anchor="middle" fill="#3a3a3a" textLength="3.38" lengthAdjust="spacingAndGlyphs" >2</text>
<line x1="435.40" y1="342.30" x2="435.40" y2="344.50" stroke="#222" stroke-width="0.9"/>
<text x="435.40" y="352.76" font-size="6.6" text-anchor="middle" fill="#3a3a3a" textLength="3.38" lengthAdjust="spacingAndGlyphs" >4</text>
<line x1="457.60" y1="342.30" x2="457.60" y2="344.50" stroke="#222" stroke-width="0.9"/>
<text x="457.60" y="352.76" font-size="6.6" text-anchor="middle" fill="#3a3a3a" textLength="3.38" lengthAdjust="spacingAndGlyphs" >6</text>
<line x1="479.80" y1="342.30" x2="479.80" y2="344.50" stroke="#222" stroke-width="0.9"/>
<text x="479.80" y="352.76" font-size="6.6" text-anchor="middle" fill="#3a3a3a" textLength="3.38" lengthAdjust="spacingAndGlyphs" >8</text>
<path d="M390.60,243.50 L391.55,243.50 L391.55,244.35 L392.50,244.35 L392.50,245.20 L394.75,245.20 L394.75,245.95 L397.00,245.95 L397.00,246.70 L398.10,246.70 L398.10,248.55 L399.20,248.55 L399.20,250.40 L399.95,250.40 L399.95,251.90 L400.70,251.90 L400.70,253.40 L401.80,253.40 L401.80,254.55 L402.90,254.55 L402.90,255.70 L405.15,255.70 L405.15,256.45 L407.40,256.45 L407.40,257.20 L409.25,257.20 L409.25,258.30 L411.10,258.30 L411.10,259.40 L412.60,259.40 L412.60,260.90 L414.10,260.90 L414.10,262.40 L416.35,262.40 L416.35,263.50 L418.60,263.50 L418.60,264.60 L420.85,264.60 L420.85,266.10 L423.10,266.10 L423.10,267.60 L425.35,267.60 L425.35,269.45 L427.60,269.45 L427.60,271.30 L429.45,271.30 L429.45,272.45 L431.30,272.45 L431.30,273.60 L433.55,273.60 L433.55,275.10 L435.80,275.10 L435.80,276.60 L437.25,276.60 L437.25,277.20 L438.70,277.20 L438.70,277.80 L454.80,277.80 L454.80,277.80 L454.80,277.80 L454.80,278.80 L454.80,278.80 L454.80,279.80 L473.50,279.80 L473.50,279.80 L473.50,279.80 L473.50,281.30 L473.50,281.30 L473.50,282.80 L494.60,282.80 L494.60,282.80" fill="none" stroke="#2a5d8f" stroke-width="1.0" stroke-linejoin="miter"/>
<path d="M390.60,243.50 L392.50,243.50 L392.50,245.20 L394.00,245.20 L394.00,249.00 L394.70,249.00 L394.70,252.70 L396.20,252.70 L396.20,254.90 L397.30,254.90 L397.30,259.40 L397.70,259.40 L397.70,265.40 L400.00,265.40 L400.00,266.10 L401.10,266.10 L401.10,269.10 L402.20,269.10 L402.20,271.30 L402.90,271.30 L402.90,275.80 L404.10,275.80 L404.10,281.00 L410.40,281.00 L410.40,281.80 L411.60,281.80 L411.60,288.10 L423.10,288.10 L423.10,288.50 L423.80,288.50 L423.80,291.60 L460.50,291.60 L460.50,291.60 L461.00,291.60 L461.00,302.20 L462.80,302.20 L462.80,302.20 L462.80,302.20 L462.80,311.10 L494.60,311.10 L494.60,311.10" fill="none" stroke="#cc3355" stroke-width="1.0" stroke-linejoin="miter"/>
<line x1="395.30" y1="244.25" x2="395.30" y2="247.65" stroke="#2a5d8f" stroke-width="0.9"/>
<line x1="397.40" y1="245.00" x2="397.40" y2="248.40" stroke="#2a5d8f" stroke-width="0.9"/>
<line x1="400.50" y1="250.20" x2="400.50" y2="253.60" stroke="#2a5d8f" stroke-width="0.9"/>
<line x1="401.60" y1="251.70" x2="401.60" y2="255.10" stroke="#2a5d8f" stroke-width="0.9"/>
<line x1="407.30" y1="254.75" x2="407.30" y2="258.15" stroke="#2a5d8f" stroke-width="0.9"/>
<line x1="408.90" y1="255.50" x2="408.90" y2="258.90" stroke="#2a5d8f" stroke-width="0.9"/>
<line x1="414.10" y1="259.20" x2="414.10" y2="262.60" stroke="#2a5d8f" stroke-width="0.9"/>
<line x1="415.10" y1="260.70" x2="415.10" y2="264.10" stroke="#2a5d8f" stroke-width="0.9"/>
<line x1="430.80" y1="270.75" x2="430.80" y2="274.15" stroke="#2a5d8f" stroke-width="0.9"/>
<line x1="432.40" y1="271.90" x2="432.40" y2="275.30" stroke="#2a5d8f" stroke-width="0.9"/>
<line x1="439.10" y1="276.10" x2="439.10" y2="279.50" stroke="#2a5d8f" stroke-width="0.9"/>
<line x1="441.00" y1="276.10" x2="441.00" y2="279.50" stroke="#2a5d8f" stroke-width="0.9"/>
<line x1="443.50" y1="276.10" x2="443.50" y2="279.50" stroke="#2a5d8f" stroke-width="0.9"/>
<line x1="446.00" y1="276.10" x2="446.00" y2="279.50" stroke="#2a5d8f" stroke-width="0.9"/>
<line x1="447.50" y1="276.10" x2="447.50" y2="279.50" stroke="#2a5d8f" stroke-width="0.9"/>
<line x1="449.00" y1="276.10" x2="449.00" y2="279.50" stroke="#2a5d8f" stroke-width="0.9"/>
<line x1="451.00" y1="276.10" x2="451.00" y2="279.50" stroke="#2a5d8f" stroke-width="0.9"/>
<line x1="453.00" y1="276.10" x2="453.00" y2="279.50" stroke="#2a5d8f" stroke-width="0.9"/>
<line x1="457.00" y1="278.10" x2="457.00" y2="281.50" stroke="#2a5d8f" stroke-width="0.9"/>
<line x1="459.00" y1="278.10" x2="459.00" y2="281.50" stroke="#2a5d8f" stroke-width="0.9"/>
<line x1="461.00" y1="278.10" x2="461.00" y2="281.50" stroke="#2a5d8f" stroke-width="0.9"/>
<line x1="463.00" y1="278.10" x2="463.00" y2="281.50" stroke="#2a5d8f" stroke-width="0.9"/>
<line x1="465.00" y1="278.10" x2="465.00" y2="281.50" stroke="#2a5d8f" stroke-width="0.9"/>
<line x1="467.00" y1="278.10" x2="467.00" y2="281.50" stroke="#2a5d8f" stroke-width="0.9"/>
<line x1="469.00" y1="278.10" x2="469.00" y2="281.50" stroke="#2a5d8f" stroke-width="0.9"/>
<line x1="471.00" y1="278.10" x2="471.00" y2="281.50" stroke="#2a5d8f" stroke-width="0.9"/>
<line x1="476.00" y1="281.10" x2="476.00" y2="284.50" stroke="#2a5d8f" stroke-width="0.9"/>
<line x1="478.00" y1="281.10" x2="478.00" y2="284.50" stroke="#2a5d8f" stroke-width="0.9"/>
<line x1="480.00" y1="281.10" x2="480.00" y2="284.50" stroke="#2a5d8f" stroke-width="0.9"/>
<line x1="483.00" y1="281.10" x2="483.00" y2="284.50" stroke="#2a5d8f" stroke-width="0.9"/>
<line x1="486.00" y1="281.10" x2="486.00" y2="284.50" stroke="#2a5d8f" stroke-width="0.9"/>
<line x1="492.00" y1="281.10" x2="492.00" y2="284.50" stroke="#2a5d8f" stroke-width="0.9"/>
<line x1="401.00" y1="264.40" x2="401.00" y2="267.80" stroke="#cc3355" stroke-width="0.9"/>
<line x1="434.00" y1="289.90" x2="434.00" y2="293.30" stroke="#cc3355" stroke-width="0.9"/>
<line x1="443.50" y1="289.90" x2="443.50" y2="293.30" stroke="#cc3355" stroke-width="0.9"/>
<line x1="445.50" y1="289.90" x2="445.50" y2="293.30" stroke="#cc3355" stroke-width="0.9"/>
<line x1="447.50" y1="289.90" x2="447.50" y2="293.30" stroke="#cc3355" stroke-width="0.9"/>
<line x1="449.50" y1="289.90" x2="449.50" y2="293.30" stroke="#cc3355" stroke-width="0.9"/>
<line x1="451.50" y1="289.90" x2="451.50" y2="293.30" stroke="#cc3355" stroke-width="0.9"/>
<line x1="465.50" y1="309.40" x2="465.50" y2="312.80" stroke="#cc3355" stroke-width="0.9"/>
<line x1="479.00" y1="309.40" x2="479.00" y2="312.80" stroke="#cc3355" stroke-width="0.9"/>
<line x1="494.00" y1="309.40" x2="494.00" y2="312.80" stroke="#cc3355" stroke-width="0.9"/>
<text x="448.60" y="256.50" font-size="6.5" text-anchor="middle" fill="#333" textLength="22.40" lengthAdjust="spacingAndGlyphs" ><tspan font-style="italic">P</tspan> = .013</text>
<line x1="394.20" y1="329.40" x2="402.80" y2="329.40" stroke="#2a5d8f" stroke-width="1.0"/>
<text x="405.80" y="331.50" font-size="6.5" text-anchor="start" fill="#333" textLength="34.70" lengthAdjust="spacingAndGlyphs" >Low actTregs</text>
<line x1="394.20" y1="336.10" x2="402.80" y2="336.10" stroke="#cc3355" stroke-width="1.0"/>
<text x="405.80" y="338.20" font-size="6.5" text-anchor="start" fill="#333" textLength="36.40" lengthAdjust="spacingAndGlyphs" >High actTregs</text>
<text transform="translate(372.09,290.70) rotate(-90)" x="0" y="0" font-size="9.4" text-anchor="middle" textLength="55.80" lengthAdjust="spacingAndGlyphs">Failure free survival</text>
<text x="436.90" y="364.20" font-size="9" text-anchor="middle" textLength="34.20" lengthAdjust="spacingAndGlyphs" stroke="#222" stroke-width="0.2">Time (years)</text>
<text x="409.00" y="375.10" font-size="6.5" text-anchor="middle" font-style="italic" fill="#333" textLength="40.40" lengthAdjust="spacingAndGlyphs" >Numbers at risk</text>
<text x="379.90" y="385.80" font-size="6.5" text-anchor="end" fill="#2a6aa8" textLength="35.70" lengthAdjust="spacingAndGlyphs" >Low actTregs</text>
<text x="379.90" y="393.80" font-size="6.5" text-anchor="end" fill="#cc2244" textLength="37.20" lengthAdjust="spacingAndGlyphs" >High actTregs</text>
<text x="391.20" y="385.80" font-size="6.5" text-anchor="middle" fill="#333" textLength="9.84" lengthAdjust="spacingAndGlyphs" >107</text>
<text x="391.20" y="393.80" font-size="6.5" text-anchor="middle" fill="#333" textLength="6.56" lengthAdjust="spacingAndGlyphs" >31</text>
<text x="412.50" y="385.80" font-size="6.5" text-anchor="middle" fill="#333" textLength="6.56" lengthAdjust="spacingAndGlyphs" >81</text>
<text x="412.50" y="393.80" font-size="6.5" text-anchor="middle" fill="#333" textLength="6.56" lengthAdjust="spacingAndGlyphs" >16</text>
<text x="435.60" y="385.80" font-size="6.5" text-anchor="middle" fill="#333" textLength="6.56" lengthAdjust="spacingAndGlyphs" >63</text>
<text x="435.60" y="393.80" font-size="6.5" text-anchor="middle" fill="#333" textLength="6.56" lengthAdjust="spacingAndGlyphs" >12</text>
<text x="458.00" y="385.80" font-size="6.5" text-anchor="middle" fill="#333" textLength="6.56" lengthAdjust="spacingAndGlyphs" >40</text>
<text x="458.00" y="393.80" font-size="6.5" text-anchor="middle" fill="#333" textLength="3.28" lengthAdjust="spacingAndGlyphs" >5</text>
<text x="479.70" y="385.80" font-size="6.5" text-anchor="middle" fill="#333" textLength="3.28" lengthAdjust="spacingAndGlyphs" >8</text>
<text x="479.70" y="393.80" font-size="6.5" text-anchor="middle" fill="#333" textLength="3.28" lengthAdjust="spacingAndGlyphs" >1</text>
<rect x="0.00" y="0.00" width="520.00" height="1.00" fill="#555"/>
<rect x="0.00" y="0.00" width="1.00" height="402.00" fill="#555"/>
<rect x="519.00" y="0.00" width="1.00" height="402.00" fill="#777"/>
<rect x="0.00" y="401.00" width="520.00" height="1.00" fill="#444"/>
</svg></body></html>
